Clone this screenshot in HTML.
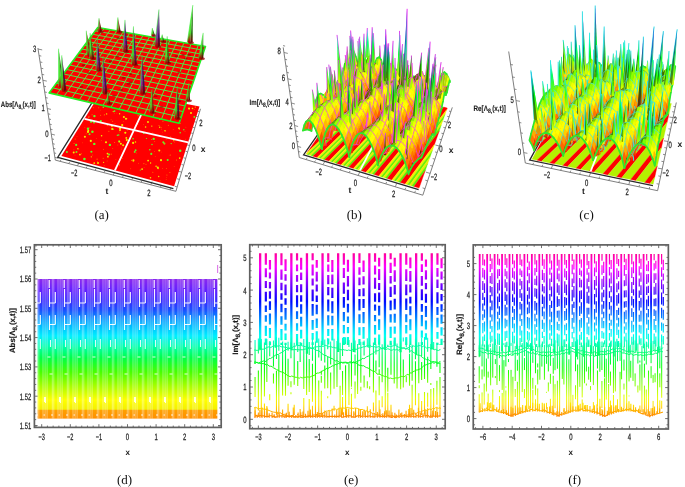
<!DOCTYPE html>
<html><head><meta charset="utf-8"><title>Figure</title>
<style>svg text{text-rendering:geometricPrecision}html,body{margin:0;padding:0;background:#fff;width:685px;height:487px;overflow:hidden}
text{font-family:'Liberation Sans',sans-serif}</style></head>
<body><svg xmlns="http://www.w3.org/2000/svg" width="685" height="487" viewBox="0 0 685 487" style="display:block;filter:blur(0.3px);font-family:'Liberation Sans',sans-serif"><text x="101.6" y="218.9" font-size="13" text-anchor="middle" fill="#111" style="font-family:'Liberation Serif',serif">(a)</text><text x="354.3" y="218.9" font-size="13" text-anchor="middle" fill="#111" style="font-family:'Liberation Serif',serif">(b)</text><text x="586.5" y="218.9" font-size="13" text-anchor="middle" fill="#111" style="font-family:'Liberation Serif',serif">(c)</text><text x="124.5" y="483.9" font-size="13" text-anchor="middle" fill="#111" style="font-family:'Liberation Serif',serif">(d)</text><text x="351.1" y="483.9" font-size="13" text-anchor="middle" fill="#111" style="font-family:'Liberation Serif',serif">(e)</text><text x="574.7" y="483.9" font-size="13" text-anchor="middle" fill="#111" style="font-family:'Liberation Serif',serif">(f)</text><clipPath id="clipd"><rect x="35.4" y="245.8" width="184.8" height="180.6"/></clipPath><g clip-path="url(#clipd)"><linearGradient id="gd" gradientUnits="userSpaceOnUse" x1="0" y1="418.6" x2="0" y2="279"><stop offset="0.000" stop-color="#ff9000"/><stop offset="0.060" stop-color="#ffa000"/><stop offset="0.067" stop-color="#f4f000"/><stop offset="0.133" stop-color="#ffff00"/><stop offset="0.183" stop-color="#d4ff00"/><stop offset="0.241" stop-color="#a0ff00"/><stop offset="0.334" stop-color="#48ff00"/><stop offset="0.434" stop-color="#00ff48"/><stop offset="0.520" stop-color="#00ffb0"/><stop offset="0.592" stop-color="#00eeff"/><stop offset="0.692" stop-color="#00a8ff"/><stop offset="0.778" stop-color="#1a50ff"/><stop offset="0.850" stop-color="#3a28ff"/><stop offset="0.921" stop-color="#6420ff"/><stop offset="1.000" stop-color="#8a28ee"/></linearGradient><rect x="37.65" y="279" width="179.7" height="139.6" fill="url(#gd)"/><path d="M38.8 279V418.6M43 279V418.6M45.1 279V418.6M47.1 279V418.6M52.3 279V418.6M53.8 279V418.6M58 279V418.6M60.1 279V418.6M62.1 279V418.6M67.3 279V418.6M68.8 279V418.6M73 279V418.6M75.1 279V418.6M77.1 279V418.6M82.3 279V418.6M83.8 279V418.6M88 279V418.6M90.1 279V418.6M92.1 279V418.6M97.3 279V418.6M98.8 279V418.6M103 279V418.6M105.1 279V418.6M107.1 279V418.6M112.3 279V418.6M113.8 279V418.6M118 279V418.6M120.1 279V418.6M122.1 279V418.6M127.3 279V418.6M128.8 279V418.6M133 279V418.6M135.1 279V418.6M137.1 279V418.6M142.3 279V418.6M143.8 279V418.6M148 279V418.6M150.1 279V418.6M152.1 279V418.6M157.3 279V418.6M158.8 279V418.6M163 279V418.6M165.1 279V418.6M167.1 279V418.6M172.3 279V418.6M173.8 279V418.6M178 279V418.6M180.1 279V418.6M182.1 279V418.6M187.3 279V418.6M188.8 279V418.6M193 279V418.6M195.1 279V418.6M197.1 279V418.6M202.3 279V418.6M203.8 279V418.6M208 279V418.6M210.1 279V418.6M212.1 279V418.6" stroke="#fff" stroke-opacity="0.5" stroke-width="0.8" fill="none"/><path d="M34.5 289V307M34.5 303H40.3M40.3 292V303M34.5 315.5V330M34.5 324.5H40.3M40.3 315V324.5M34.2 280V288M49.5 289V307M49.5 303H55.3M55.3 292V303M49.5 315.5V330M49.5 324.5H55.3M55.3 315V324.5M49.2 280V288M64.5 289V307M64.5 303H70.3M70.3 292V303M64.5 315.5V330M64.5 324.5H70.3M70.3 315V324.5M64.2 280V288M79.5 289V307M79.5 303H85.3M85.3 292V303M79.5 315.5V330M79.5 324.5H85.3M85.3 315V324.5M79.2 280V288M94.5 289V307M94.5 303H100.3M100.3 292V303M94.5 315.5V330M94.5 324.5H100.3M100.3 315V324.5M94.2 280V288M109.5 289V307M109.5 303H115.3M115.3 292V303M109.5 315.5V330M109.5 324.5H115.3M115.3 315V324.5M109.2 280V288M124.5 289V307M124.5 303H130.3M130.3 292V303M124.5 315.5V330M124.5 324.5H130.3M130.3 315V324.5M124.2 280V288M139.5 289V307M139.5 303H145.3M145.3 292V303M139.5 315.5V330M139.5 324.5H145.3M145.3 315V324.5M139.2 280V288M154.5 289V307M154.5 303H160.3M160.3 292V303M154.5 315.5V330M154.5 324.5H160.3M160.3 315V324.5M154.2 280V288M169.5 289V307M169.5 303H175.3M175.3 292V303M169.5 315.5V330M169.5 324.5H175.3M175.3 315V324.5M169.2 280V288M184.5 289V307M184.5 303H190.3M190.3 292V303M184.5 315.5V330M184.5 324.5H190.3M190.3 315V324.5M184.2 280V288M199.5 289V307M199.5 303H205.3M205.3 292V303M199.5 315.5V330M199.5 324.5H205.3M205.3 315V324.5M199.2 280V288M214.5 289V307M214.5 303H220.3M220.3 292V303M214.5 315.5V330M214.5 324.5H220.3M220.3 315V324.5M214.2 280V288" stroke="#fff" stroke-width="1.2" fill="none" stroke-opacity="0.95"/><path d="M35.5 340V347M40.3 339V349M34.5 374H37.5M32.5 357H35.5M30.5 397V403M44.5 397V402M36 415H38M43.5 415H45M50.5 340V347M55.3 339V349M49.5 374H52.5M47.5 357H50.5M45.5 397V403M59.5 397V402M51 415H53M58.5 415H60M65.5 340V347M70.3 339V349M64.5 374H67.5M62.5 357H65.5M60.5 397V403M74.5 397V402M66 415H68M73.5 415H75M80.5 340V347M85.3 339V349M79.5 374H82.5M77.5 357H80.5M75.5 397V403M89.5 397V402M81 415H83M88.5 415H90M95.5 340V347M100.3 339V349M94.5 374H97.5M92.5 357H95.5M90.5 397V403M104.5 397V402M96 415H98M103.5 415H105M110.5 340V347M115.3 339V349M109.5 374H112.5M107.5 357H110.5M105.5 397V403M119.5 397V402M111 415H113M118.5 415H120M125.5 340V347M130.3 339V349M124.5 374H127.5M122.5 357H125.5M120.5 397V403M134.5 397V402M126 415H128M133.5 415H135M140.5 340V347M145.3 339V349M139.5 374H142.5M137.5 357H140.5M135.5 397V403M149.5 397V402M141 415H143M148.5 415H150M155.5 340V347M160.3 339V349M154.5 374H157.5M152.5 357H155.5M150.5 397V403M164.5 397V402M156 415H158M163.5 415H165M170.5 340V347M175.3 339V349M169.5 374H172.5M167.5 357H170.5M165.5 397V403M179.5 397V402M171 415H173M178.5 415H180M185.5 340V347M190.3 339V349M184.5 374H187.5M182.5 357H185.5M180.5 397V403M194.5 397V402M186 415H188M193.5 415H195M200.5 340V347M205.3 339V349M199.5 374H202.5M197.5 357H200.5M195.5 397V403M209.5 397V402M201 415H203M208.5 415H210M215.5 340V347M220.3 339V349M214.5 374H217.5M212.5 357H215.5M210.5 397V403M224.5 397V402M216 415H218M223.5 415H225" stroke="#fff" stroke-width="1.1" fill="none" stroke-opacity="0.85"/><path d="M217.65 265v8" stroke="#d040e0" stroke-width="0.8"/></g><path d="M41.7 427.4v-3.2M41.7 244.8v3.2M70.3 427.4v-3.2M70.3 244.8v3.2M98.9 427.4v-3.2M98.9 244.8v3.2M127.5 427.4v-3.2M127.5 244.8v3.2M156.1 427.4v-3.2M156.1 244.8v3.2M184.7 427.4v-3.2M184.7 244.8v3.2M213.3 427.4v-3.2M213.3 244.8v3.2M35.98 427.4v-1.8M35.98 244.8v1.8M47.42 427.4v-1.8M47.42 244.8v1.8M53.14 427.4v-1.8M53.14 244.8v1.8M58.86 427.4v-1.8M58.86 244.8v1.8M64.58 427.4v-1.8M64.58 244.8v1.8M76.02 427.4v-1.8M76.02 244.8v1.8M81.74 427.4v-1.8M81.74 244.8v1.8M87.46 427.4v-1.8M87.46 244.8v1.8M93.18 427.4v-1.8M93.18 244.8v1.8M104.62 427.4v-1.8M104.62 244.8v1.8M110.34 427.4v-1.8M110.34 244.8v1.8M116.06 427.4v-1.8M116.06 244.8v1.8M121.78 427.4v-1.8M121.78 244.8v1.8M133.22 427.4v-1.8M133.22 244.8v1.8M138.94 427.4v-1.8M138.94 244.8v1.8M144.66 427.4v-1.8M144.66 244.8v1.8M150.38 427.4v-1.8M150.38 244.8v1.8M161.82 427.4v-1.8M161.82 244.8v1.8M167.54 427.4v-1.8M167.54 244.8v1.8M173.26 427.4v-1.8M173.26 244.8v1.8M178.98 427.4v-1.8M178.98 244.8v1.8M190.42 427.4v-1.8M190.42 244.8v1.8M196.14 427.4v-1.8M196.14 244.8v1.8M201.86 427.4v-1.8M201.86 244.8v1.8M207.58 427.4v-1.8M207.58 244.8v1.8M219.02 427.4v-1.8M219.02 244.8v1.8M34.4 425.5h3.2M221.2 425.5h-3.2M34.4 396.2h3.2M221.2 396.2h-3.2M34.4 366.9h3.2M221.2 366.9h-3.2M34.4 337.6h3.2M221.2 337.6h-3.2M34.4 308.3h3.2M221.2 308.3h-3.2M34.4 279h3.2M221.2 279h-3.2M34.4 249.7h3.2M221.2 249.7h-3.2M34.4 419.64h1.8M221.2 419.64h-1.8M34.4 413.78h1.8M221.2 413.78h-1.8M34.4 407.92h1.8M221.2 407.92h-1.8M34.4 402.06h1.8M221.2 402.06h-1.8M34.4 390.34h1.8M221.2 390.34h-1.8M34.4 384.48h1.8M221.2 384.48h-1.8M34.4 378.62h1.8M221.2 378.62h-1.8M34.4 372.76h1.8M221.2 372.76h-1.8M34.4 361.04h1.8M221.2 361.04h-1.8M34.4 355.18h1.8M221.2 355.18h-1.8M34.4 349.32h1.8M221.2 349.32h-1.8M34.4 343.46h1.8M221.2 343.46h-1.8M34.4 331.74h1.8M221.2 331.74h-1.8M34.4 325.88h1.8M221.2 325.88h-1.8M34.4 320.02h1.8M221.2 320.02h-1.8M34.4 314.16h1.8M221.2 314.16h-1.8M34.4 302.44h1.8M221.2 302.44h-1.8M34.4 296.58h1.8M221.2 296.58h-1.8M34.4 290.72h1.8M221.2 290.72h-1.8M34.4 284.86h1.8M221.2 284.86h-1.8M34.4 273.14h1.8M221.2 273.14h-1.8M34.4 267.28h1.8M221.2 267.28h-1.8M34.4 261.42h1.8M221.2 261.42h-1.8M34.4 255.56h1.8M221.2 255.56h-1.8" stroke="#606060" stroke-width="0.9" fill="none"/><rect x="34.4" y="244.8" width="186.8" height="182.6" fill="none" stroke="#606060" stroke-width="1.7"/><text x="41.7" y="440" font-size="9.2" text-anchor="middle" font-weight="normal" fill="#1a1a1a" textLength="6.4" lengthAdjust="spacingAndGlyphs" stroke="#1a1a1a" stroke-width="0.25">&#8722;3</text><text x="70.3" y="440" font-size="9.2" text-anchor="middle" font-weight="normal" fill="#1a1a1a" textLength="6.4" lengthAdjust="spacingAndGlyphs" stroke="#1a1a1a" stroke-width="0.25">&#8722;2</text><text x="98.9" y="440" font-size="9.2" text-anchor="middle" font-weight="normal" fill="#1a1a1a" textLength="6.4" lengthAdjust="spacingAndGlyphs" stroke="#1a1a1a" stroke-width="0.25">&#8722;1</text><text x="127.5" y="440" font-size="9.2" text-anchor="middle" font-weight="normal" fill="#1a1a1a" textLength="3.3" lengthAdjust="spacingAndGlyphs" stroke="#1a1a1a" stroke-width="0.25">0</text><text x="156.1" y="440" font-size="9.2" text-anchor="middle" font-weight="normal" fill="#1a1a1a" textLength="3.3" lengthAdjust="spacingAndGlyphs" stroke="#1a1a1a" stroke-width="0.25">1</text><text x="184.7" y="440" font-size="9.2" text-anchor="middle" font-weight="normal" fill="#1a1a1a" textLength="3.3" lengthAdjust="spacingAndGlyphs" stroke="#1a1a1a" stroke-width="0.25">2</text><text x="213.3" y="440" font-size="9.2" text-anchor="middle" font-weight="normal" fill="#1a1a1a" textLength="3.3" lengthAdjust="spacingAndGlyphs" stroke="#1a1a1a" stroke-width="0.25">3</text><text x="31.2" y="428.9" font-size="9.2" text-anchor="end" font-weight="normal" fill="#1a1a1a" textLength="11.4" lengthAdjust="spacingAndGlyphs" stroke="#1a1a1a" stroke-width="0.25">1.51</text><text x="31.2" y="399.6" font-size="9.2" text-anchor="end" font-weight="normal" fill="#1a1a1a" textLength="11.4" lengthAdjust="spacingAndGlyphs" stroke="#1a1a1a" stroke-width="0.25">1.52</text><text x="31.2" y="370.3" font-size="9.2" text-anchor="end" font-weight="normal" fill="#1a1a1a" textLength="11.4" lengthAdjust="spacingAndGlyphs" stroke="#1a1a1a" stroke-width="0.25">1.53</text><text x="31.2" y="341" font-size="9.2" text-anchor="end" font-weight="normal" fill="#1a1a1a" textLength="11.4" lengthAdjust="spacingAndGlyphs" stroke="#1a1a1a" stroke-width="0.25">1.54</text><text x="31.2" y="311.7" font-size="9.2" text-anchor="end" font-weight="normal" fill="#1a1a1a" textLength="11.4" lengthAdjust="spacingAndGlyphs" stroke="#1a1a1a" stroke-width="0.25">1.55</text><text x="31.2" y="282.4" font-size="9.2" text-anchor="end" font-weight="normal" fill="#1a1a1a" textLength="11.4" lengthAdjust="spacingAndGlyphs" stroke="#1a1a1a" stroke-width="0.25">1.56</text><text x="31.2" y="253.1" font-size="9.2" text-anchor="end" font-weight="normal" fill="#1a1a1a" textLength="11.4" lengthAdjust="spacingAndGlyphs" stroke="#1a1a1a" stroke-width="0.25">1.57</text><text x="12.3" y="330.6" transform="rotate(-90 12.3 330.6)" dy="2.8" font-size="7.8" font-weight="bold" text-anchor="middle" fill="#1a1a1a" stroke="#1a1a1a" stroke-width="0.15" textLength="45" lengthAdjust="spacingAndGlyphs">Abs[&#923;<tspan font-size="6.3" dy="1.8">8,</tspan><tspan dy="-1.8">(x,t)]</tspan></text><text x="127.8" y="455" font-size="8" text-anchor="middle" font-weight="bold" fill="#222" >x</text><clipPath id="clipe"><rect x="250.75" y="245.7" width="193.45" height="182"/></clipPath><g clip-path="url(#clipe)"><linearGradient id="ge" gradientUnits="userSpaceOnUse" x1="0" y1="418.5" x2="0" y2="253.3"><stop offset="0.000" stop-color="#ff7a00"/><stop offset="0.042" stop-color="#ffaf00"/><stop offset="0.083" stop-color="#ffe300"/><stop offset="0.125" stop-color="#e7ff00"/><stop offset="0.167" stop-color="#b2ff00"/><stop offset="0.208" stop-color="#7eff00"/><stop offset="0.250" stop-color="#4aff00"/><stop offset="0.292" stop-color="#16ff00"/><stop offset="0.333" stop-color="#00ff1f"/><stop offset="0.375" stop-color="#00ff53"/><stop offset="0.417" stop-color="#00ff87"/><stop offset="0.458" stop-color="#00ffbb"/><stop offset="0.500" stop-color="#00fff0"/><stop offset="0.542" stop-color="#00daff"/><stop offset="0.583" stop-color="#00a6ff"/><stop offset="0.625" stop-color="#0071ff"/><stop offset="0.667" stop-color="#003dff"/><stop offset="0.708" stop-color="#0009ff"/><stop offset="0.750" stop-color="#2b00ff"/><stop offset="0.792" stop-color="#6000ff"/><stop offset="0.833" stop-color="#9400ff"/><stop offset="0.875" stop-color="#c800ff"/><stop offset="0.917" stop-color="#fc00ff"/><stop offset="0.958" stop-color="#ff00cd"/><stop offset="1.000" stop-color="#ff0099"/></linearGradient><path d="M260.15 253.3V349.52M275.75 253.3V347.78M291.35 253.3V350.59M306.95 253.3V353.67M322.55 253.3V345.17M338.15 253.3V352.04M353.75 253.3V351.98M369.35 253.3V347.75M384.95 253.3V349.75M400.55 253.3V352.18M416.15 253.3V354.49M431.75 253.3V349.14" stroke="url(#ge)" stroke-width="2.3" fill="none"/><path d="M265.85 253.3V264.85M265.85 268.28V277.32M265.85 281V288.11M265.85 291.63V301.41M265.85 305.5V312.06M265.85 315.17V321.71M265.85 325.83V335.99M265.85 338.57V345M269.95 259.92V269.61M269.95 272.42V278.51M269.95 282.07V288.43M269.95 291.31V298.76M269.95 301.32V310.1M269.95 313.49V324.54M269.95 328.08V337.92M269.95 341.42V345M281.45 253.3V265.27M281.45 269.45V279.7M281.45 282.83V290.21M281.45 293.29V299.71M281.45 303.74V312.14M281.45 316.34V324.66M281.45 329.07V340.16M281.45 342.66V345M285.55 259.18V271.06M285.55 274.36V280.8M285.55 284.55V295.23M285.55 298.26V304.79M285.55 307.95V319.74M285.55 323.75V330.46M285.55 333.45V340.06M285.55 342.68V345M297.05 253.3V260.44M297.05 264.41V271.19M297.05 274.98V281.68M297.05 285.02V292.3M297.05 295.34V307.16M297.05 311.27V319.1M297.05 323.37V330.63M297.05 333.92V345M301.15 257.7V269.64M301.15 272.56V280.11M301.15 284.16V292.13M301.15 295.23V301.67M301.15 304.35V313.84M301.15 316.83V326.44M301.15 329.68V338.4M301.15 342.82V345M312.65 253.3V260.22M312.65 264.54V275.45M312.65 278.45V285.59M312.65 289.57V301.21M312.65 304.1V315.8M312.65 320.07V329.69M312.65 333.03V339.65M312.65 342.23V345M316.75 260.12V267.66M316.75 271.81V281.39M316.75 284.47V291.53M316.75 295.47V301.88M316.75 304.84V314.19M316.75 318.4V328.08M316.75 331.14V342.65M328.25 253.3V261.97M328.25 264.6V271.65M328.25 274.89V284.32M328.25 287.09V295.26M328.25 299.54V311.42M328.25 315.24V325.39M328.25 329.05V335.9M328.25 338.47V344.57M332.35 260.1V271.88M332.35 274.42V284.24M332.35 287.7V298.09M332.35 301.23V313.22M332.35 315.87V325.15M332.35 329.12V340.52M343.85 253.3V264.79M343.85 267.99V278.1M343.85 282.41V293.63M343.85 296.97V307.71M343.85 311.94V321.37M343.85 325.12V333.42M343.85 337.08V345M347.95 259.86V271.82M347.95 276.08V286.45M347.95 289.72V300.13M347.95 303.8V312.44M347.95 316.62V323.12M347.95 327.12V333.3M347.95 337V345M359.45 253.3V262.99M359.45 267.33V274.86M359.45 277.39V285.19M359.45 289.05V296.26M359.45 299.1V310.54M359.45 314.36V323.01M359.45 327.29V335.25M359.45 339.09V345M363.55 260.52V272.01M363.55 276.27V284.58M363.55 288.24V296.14M363.55 298.91V307.89M363.55 312.07V323.16M363.55 327.08V338.78M363.55 341.84V345M375.05 253.3V261.78M375.05 265.54V274.5M375.05 277.63V288.66M375.05 293.13V301.84M375.05 304.49V310.68M375.05 314.93V321.18M375.05 325.09V334.52M375.05 337.63V345M379.15 257.84V266.57M379.15 269.12V280.1M379.15 283.07V289.92M379.15 292.51V302.29M379.15 305.68V315.46M379.15 319.27V330.12M379.15 334.53V344.64M390.65 253.3V259.36M390.65 262.81V273.09M390.65 275.95V283.59M390.65 286.78V296.96M390.65 300.5V310.19M390.65 314.2V322.56M390.65 326.65V338.08M390.65 340.76V345M394.75 257.82V266.54M394.75 270.29V281.75M394.75 285.01V294.42M394.75 298.68V309.46M394.75 313.85V322.63M394.75 326.43V333.66M394.75 337.6V345M406.25 253.3V264.7M406.25 269.16V281.03M406.25 284.6V295.34M406.25 298.48V309.94M406.25 314.16V322.25M406.25 324.91V333.56M406.25 337.16V345M410.35 257.41V268.27M410.35 270.9V281.7M410.35 284.54V292.55M410.35 296.63V303.47M410.35 306.27V315.37M410.35 319.31V330.35M410.35 334.23V345M421.85 253.3V260.63M421.85 264.18V271.92M421.85 275.88V285.71M421.85 289.26V300.32M421.85 303.94V311.81M421.85 315.07V326.15M421.85 330.45V337.7M421.85 341.9V345M425.95 259.59V266.8M425.95 270.37V279.39M425.95 283.1V289.27M425.95 293.7V302.8M425.95 306.1V316.91M425.95 320.53V329.48M425.95 333.36V339.76M437.45 253.3V264.84M437.45 267.88V276.72M437.45 279.47V288.07M437.45 292.21V303.61M437.45 307.06V314.97M437.45 317.85V327.56M437.45 331.91V338.68M437.45 342.74V345M441.55 258.21V268.33M441.55 271.48V279.61M441.55 283.35V289.98M441.55 293.94V300.67M441.55 304.2V311.7M441.55 314.59V323.78M441.55 327.15V335.4M441.55 338.73V345" stroke="url(#ge)" stroke-width="2.2" fill="none"/><path d="M255.06 339.89V363.89M255.06 376.89V396.89M255.06 406.89V415.71M258.37 338.56V353.56M258.37 370.56V410.56M258.37 412.56V416.53M261.33 339.01V417.15M264.43 342.4V396.4M264.43 403.4V415.65M266.84 338.88V381.88M266.84 405.88V415.74M269.7 341.22V356.22M269.7 394.22V400.22M273.47 340.5V366.5M273.47 373.5V383.5M276.47 337.06V359.06M276.47 371.06V414.85M278.83 337.71V350.71M278.83 354.71V414.4M282.59 341.48V395.48M282.59 409.48V415.72M285.49 343.63V395.63M285.49 414.63V416.54M288.07 341.86V350.86M288.07 358.86V385.86M288.07 403.86V414.53M290.96 342.27V347.27M290.96 350.27V358.27M290.96 381.27V387.27M290.96 392.27V394.27M294.21 342.71V384.71M294.21 404.71V415.05M297.73 341.89V351.89M297.73 360.89V385.89M297.73 413.89V415.22M300.15 341.89V361.89M300.15 408.89V416.19M303.79 339.1V389.1M303.79 398.1V416.36M306.61 342.12V395.12M309.22 342.04V355.04M309.22 359.04V392.04M309.22 399.04V416.87M312.48 337.77V360.77M312.48 363.77V401.77M312.48 405.77V416.12M315.47 341.5V416.95M318.75 338.55V357.55M318.75 380.55V417.01M321.31 340.79V360.79M321.31 370.79V374.79M321.31 375.79V382.79M321.31 390.79V416.24M324.77 339.61V362.61M324.77 365.61V388.61M327.7 338.23V341.23M327.7 344.23V349.23M327.7 356.23V388.23M327.7 396.23V398.23M330.65 341.59V364.59M330.65 372.59V394.59M334.04 338.81V388.81M334.04 405.81V410.81M336.98 341.11V387.11M340.09 342.8V369.8M340.09 385.8V415.6M342.53 337.94V355.94M342.53 370.94V394.94M342.53 396.94V414.68M345.58 337.23V344.23M345.58 365.23V415.67M348.95 339.98V346.98M348.95 363.98V404.98M351.47 342.72V386.72M351.47 387.72V388.72M351.47 393.72V416.42M355.05 340.42V352.42M355.05 354.42V375.42M355.05 381.42V398.42M355.05 412.42V415.28M357.6 343.91V393.91M360.82 341.72V382.72M360.82 386.72V390.72M364.1 340.44V355.44M364.1 375.44V387.44M364.1 409.44V414.93M367.33 338.3V347.3M367.33 381.3V388.3M367.33 406.3V412.3M369.63 344.19V377.19M369.63 386.19V389.19M373.43 342.5V392.5M373.43 402.5V411.5M375.94 344.43V354.43M375.94 360.43V371.43M375.94 390.43V415.31M379.19 340.16V367.16M379.19 369.16V374.16M379.19 376.16V395.16M379.19 400.16V416.9M382.15 344.18V382.18M382.15 396.18V407.18M385.26 338.59V414.82M387.79 344.77V346.77M387.79 367.77V391.77M387.79 392.77V414.88M390.99 342.77V374.77M390.99 404.77V416.69M394.21 340.58V383.58M397.05 343.5V388.5M400.65 341.16V346.16M400.65 350.16V389.16M400.65 413.16V415.08M403.3 337.39V341.39M403.3 359.39V387.39M406.28 337.2V347.2M406.28 376.2V382.2M409.51 344.66V352.66M409.51 353.66V385.66M409.51 404.66V416.42M412.13 344.67V380.67M412.13 384.67V415.36M415.47 339.21V359.21M415.47 361.21V405.21M415.47 414.21V415.02M418.79 342.29V383.29M418.79 393.29V414.29M421.64 338.05V356.05M421.64 362.05V380.05M421.64 401.05V414.88M424.51 337.09V379.09M424.51 392.09V414.68M427.64 337.65V351.65M427.64 356.65V382.65M427.64 392.65V406.65M427.64 407.65V410.65M430.84 344.1V369.1M430.84 383.1V385.1M430.84 389.1V415.98M433.65 341.9V348.9M433.65 387.9V416.36M436.91 342.83V366.83M436.91 380.83V404.83M436.91 406.83V416.68M439.98 343.91V344.91M439.98 362.91V372.91M439.98 376.91V416.69" stroke="url(#ge)" stroke-width="1.1" fill="none"/><path d="M254.15 417.3L256.12 415.47L257.94 416.48L259.47 415.61L261.12 415.48L262.37 415.52L263.59 415.85L266.12 416.66L268.15 416.47L269.44 415.62L271.33 415.7L272.58 416.97L274.1 415.67L275.34 417.26L277.07 416.53L279.45 415.58L280.99 415.82L282.69 415.77L284.81 417.16L286.67 416.45L288.51 416.19L290.68 416.5L292.6 415.65L294.76 416.91L296.15 416.76L298.68 416.53L301.11 415.37L303.29 416.56L305.54 416.3L308.07 416.3L310.16 415.93L312.24 416.94L314.24 416.44L316.39 415.75L317.88 416.56L319.44 415.38L321.32 416.4L323.87 415.73L326.28 416.29L327.65 416.56L328.97 416.5L330.8 416.34L333.37 416.23L334.8 416.94L336.96 416.27L338.73 416.31L340.5 415.94L342.53 417.2L344.43 416.8L346.44 416.37L348.71 415.37L350.95 416.06L352.86 417.07L355.08 416.91L356.81 416.13L358.38 415.57L360.35 415.35L361.58 416.37L363.23 416.15L365.34 416.12L367.85 416.42L369.57 415.8L371.55 416.76L374.04 416.85L375.34 416.22L377.82 415.59L380.16 416.08L382.08 416.72L383.51 416.41L385.87 416.19L388.45 415.7L390.41 416.12L392.19 415.49L394.56 416.94L397.02 415.95L398.73 415.81L400.52 415.91L402.42 416.04L404.91 415.52L406.78 416.53L408.98 415.97L410.32 416.28L411.91 416L413.34 416.7L414.9 416.74L416.89 415.57L418.99 416.01L421.25 416.52L423.05 416L424.54 415.79L427.03 415.54L428.32 415.47L429.83 417.04L431.9 416.61L433.35 416.08L435.3 416.23L437.22 416.07L439.5 415.86L440.45 415.65M255.12 417.8V410.18M257.16 417.8V414.65M259.9 417.8V409.85M262.09 417.8V407.62M264.54 417.8V411.37M267.12 417.8V407.53M269.21 417.8V413.29M272.09 417.8V412.4M274.2 417.8V414.25M277.17 417.8V411.76M279.23 417.8V413.34M281.99 417.8V414.45M284.15 417.8V414.77M286.38 417.8V412.7M289.2 417.8V411.79M291.49 417.8V415.07M293.29 417.8V407.41M295.82 417.8V414.99M298.11 417.8V412.4M300.78 417.8V412.25M302.96 417.8V411.5M305.52 417.8V413.84M307.97 417.8V410.69M310.43 417.8V409.38M312.7 417.8V413.6M315.59 417.8V414.36M317.36 417.8V411.96M319.86 417.8V413.61M322.71 417.8V412.88M324.8 417.8V410.43M326.78 417.8V411.85M329.18 417.8V410.96M332.18 417.8V408.47M334.79 417.8V414.39M336.71 417.8V409.97M339.03 417.8V407.75M341.55 417.8V408.34M343.52 417.8V412.19M346.55 417.8V408.6M348.75 417.8V408.43M351.41 417.8V411.99M353.76 417.8V411.17M355.56 417.8V408.1M358.7 417.8V408.16M360.49 417.8V409.08M362.69 417.8V411.3M365.35 417.8V411.26M367.83 417.8V410.9M370.29 417.8V409.23M372.91 417.8V413.08M374.85 417.8V413.4M377.38 417.8V411.9M379.96 417.8V409.18M382.83 417.8V413.21M384.55 417.8V411.15M386.66 417.8V410.22M389.09 417.8V410.55M392.04 417.8V412.24M394.84 417.8V412.8M396.27 417.8V414.44M398.89 417.8V409.4M401.79 417.8V412.47M404.33 417.8V414M406.08 417.8V410.73M408.78 417.8V408.98M410.96 417.8V408.09M413.68 417.8V409.78M416.03 417.8V413.61M418.42 417.8V407.76M420.27 417.8V412.66M422.96 417.8V413.26M425.82 417.8V410.11M427.59 417.8V409.66M430.73 417.8V414.78M432.27 417.8V410.49M435.53 417.8V410.9M437.56 417.8V412.05" stroke="url(#ge)" stroke-width="1.15" fill="none"/><path d="M254.15 350L255.65 350.07L257.15 350.5L258.65 349.8L260.15 349.77L261.65 349.01L263.15 349.31L264.65 348.74L266.15 347.92L267.65 347.19L269.15 346.81L270.65 347.55L272.15 346.71L273.65 345.57L275.15 346.13L276.65 345.9L278.15 346.17L279.65 345.74L281.15 346.89L282.65 346.45L284.15 347.29L285.65 346.72L287.15 348.11L288.65 347.96L290.15 348.36L291.65 348.57L293.15 349.75L294.65 349.47L296.15 349.69L297.65 349.61L299.15 349.89L300.65 349.63L302.15 349.87L303.65 349.47L305.15 348.98L306.65 349.18L308.15 348.32L309.65 348.98L311.15 347.68L312.65 348.57L314.15 347.23L315.65 346.78L317.15 346.88L318.65 346.17L320.15 346.62L321.65 345.79L323.15 346.69L324.65 345.27L326.15 345.37L327.65 346.85L329.15 346.76L330.65 346.37L332.15 347.32L333.65 347.24L335.15 347.88L336.65 347.91L338.15 348.72L339.65 349.26L341.15 349.9L342.65 349.23L344.15 349.93L345.65 350.06L347.15 350.6L348.65 349.94L350.15 350.44L351.65 350.34L353.15 349.26L354.65 348.94L356.15 349.49L357.65 348.47L359.15 347.99L360.65 347.99L362.15 347.33L363.65 346.84L365.15 346.77L366.65 345.89L368.15 345.91L369.65 345.23L371.15 346.36L372.65 346.6L374.15 346.6L375.65 347.2L377.15 347.14L378.65 346.44L380.15 347.16L381.65 348.52L383.15 347.62L384.65 349.25L386.15 349.48L387.65 348.77L389.15 349.14L390.65 350.18L392.15 350.19L393.65 349.25L395.15 350.02L396.65 349.36L398.15 350.25L399.65 349.48L401.15 348.33L402.65 348.59L404.15 347.58L405.65 348.61L407.15 348.18L408.65 347.53L410.15 346.03L411.65 347.23L413.15 345.91L414.65 346.35L416.15 346.44L417.65 346.1L419.15 345.46L420.65 345.81L422.15 346.81L423.65 346.12L425.15 346.86L426.65 348.12L428.15 347.68L429.65 347.67L431.15 348.86L432.65 348.75L434.15 349.78L435.65 349.38L437.15 350.33L438.65 350.46L440.15 349.48L440.45 350.07M254.15 363L255.65 362.87L257.15 362.22L258.65 363.27L260.15 362.06L261.65 362.11L263.15 360.78L264.65 361.68L266.15 361.13L267.65 360.01L269.15 358.42L270.65 358.52L272.15 357.42L273.65 356.61L275.15 355.36L276.65 354.39L278.15 354.64L279.65 353.4L281.15 352.79L282.65 351.95L284.15 350.62L285.65 350.11L287.15 349.01L288.65 348.91L290.15 347.96L291.65 348L293.15 346.75L294.65 346.51L296.15 345.73L297.65 345.44L299.15 345.59L300.65 345.23L302.15 345.92L303.65 345.97L305.15 346.99L306.65 345.94L308.15 347.82L309.65 346.85L311.15 348.55L312.65 348.38L314.15 348.85L315.65 350.13L317.15 350.47L318.65 350.72L320.15 351.72L321.65 353.44L323.15 354.36L324.65 355.66L326.15 355.33L327.65 357L329.15 357.14L330.65 358.21L332.15 358.58L333.65 359.5L335.15 360.97L336.65 360.5L338.15 361.31L339.65 362.55L341.15 362.2L342.65 363.09L344.15 362.86L345.65 362.71L347.15 363.35L348.65 363.21L350.15 362.65L351.65 363.43L353.15 361.69L354.65 362.54L356.15 361.88L357.65 361.35L359.15 360.38L360.65 360.18L362.15 358.35L363.65 358.61L365.15 358.13L366.65 356.58L368.15 356.27L369.65 355.35L371.15 354.18L372.65 353.75L374.15 352.45L375.65 351.04L377.15 350.89L378.65 350.51L380.15 348.85L381.65 348.67L383.15 348.66L384.65 346.81L386.15 347.71L387.65 346.5L389.15 346.21L390.65 346.52L392.15 346.17L393.65 345.66L395.15 345.48L396.65 346.02L398.15 346.97L399.65 347.43L401.15 347.35L402.65 347.76L404.15 348.26L405.65 349.21L407.15 348.64L408.65 349.32L410.15 351.18L411.65 350.64L413.15 352.27L414.65 352.91L416.15 354.59L417.65 354.98L419.15 355.2L420.65 355.79L422.15 357.26L423.65 358.19L425.15 358.81L426.65 359.71L428.15 359.54L429.65 360.62L431.15 361.91L432.65 361.51L434.15 361.75L435.65 362.04L437.15 363.49L438.65 363.53L440.15 362.85L440.45 362.73M254.15 362L255.65 361.83L257.15 362.78L258.65 363.02L260.15 363.37L261.65 363.57L263.15 363.72L264.65 363.31L266.15 365.19L267.65 364.56L269.15 366.14L270.65 366.24L272.15 366.47L273.65 368.23L275.15 368.38L276.65 370.2L278.15 369.87L279.65 371.46L281.15 371.88L282.65 372.03L284.15 373.15L285.65 373.9L287.15 375.31L288.65 375.92L290.15 376.75L291.65 376.01L293.15 376.52L294.65 377.14L296.15 377.33L297.65 377.36L299.15 378.36L300.65 377.21L302.15 378.02L303.65 377.26L305.15 377.35L306.65 377.04L308.15 376.96L309.65 377.3L311.15 376.48L312.65 375.44L314.15 375.72L315.65 373.88L317.15 373.07L318.65 373.05L320.15 372.49L321.65 371.63L323.15 370.48L324.65 370.01L326.15 368.58L327.65 368.77L329.15 367.67L330.65 367.02L332.15 365.89L333.65 365.83L335.15 364.49L336.65 364.7L338.15 363.38L339.65 363.76L341.15 362.39L342.65 362.42L344.15 362.28L345.65 362.13L347.15 362.55L348.65 362.59L350.15 361.64L351.65 362.67L353.15 362.66L354.65 362.81L356.15 362.77L357.65 364.53L359.15 365.21L360.65 365.39L362.15 365.8L363.65 365.72L365.15 366.85L366.65 367.63L368.15 368.03L369.65 369.3L371.15 370.09L372.65 370.97L374.15 371.22L375.65 372.09L377.15 374.15L378.65 374.23L380.15 374.38L381.65 375.35L383.15 375.78L384.65 376.48L386.15 376.42L387.65 377.7L389.15 378.29L390.65 378.02L392.15 378.68L393.65 378.5L395.15 378.03L396.65 377.9L398.15 377.97L399.65 377.19L401.15 376.38L402.65 376.56L404.15 376.66L405.65 375.89L407.15 374.26L408.65 374.87L410.15 372.92L411.65 372.94L413.15 371.62L414.65 371.03L416.15 370.11L417.65 369.92L419.15 369.27L420.65 368.75L422.15 367.37L423.65 365.9L425.15 365.15L426.65 364.56L428.15 364L429.65 363.51L431.15 363.2L432.65 362.52L434.15 363.27L435.65 362.19L437.15 362.16L438.65 362.51L440.15 361.49L440.45 362M254.15 408L255.65 407.29L257.15 408.07L258.65 408.89L260.15 408.47L261.65 408.25L263.15 409.02L264.65 409.09L266.15 409.39L267.65 409.96L269.15 410.45L270.65 411.14L272.15 411.69L273.65 412.1L275.15 412.31L276.65 412.55L278.15 413.2L279.65 412.68L281.15 413.13L282.65 414.6L284.15 414.37L285.65 414.1L287.15 415.63L288.65 415L290.15 415.54L291.65 416.86L293.15 415.93L294.65 417.15L296.15 416.41L297.65 417.37L299.15 416.78L300.65 417.1L302.15 417.27L303.65 417.26L305.15 416.33L306.65 416.92L308.15 415.91L309.65 415.8L311.15 416.38L312.65 415.07L314.15 415.14L315.65 414.29L317.15 414.64L318.65 413.57L320.15 413.44L321.65 413.98L323.15 412.67L324.65 412.31L326.15 411.1L327.65 411.03L329.15 410.34L330.65 410.74L332.15 409.6L333.65 409.26L335.15 408.86L336.65 409.5L338.15 409.07L339.65 408.25L341.15 408.08L342.65 407.86L344.15 408.18L345.65 408.14L347.15 407.41L348.65 407.46L350.15 408.29L351.65 407.84L353.15 408.61L354.65 408.02L356.15 408.14L357.65 408.36L359.15 409.93L360.65 409.76L362.15 409.31L363.65 410.24L365.15 411.1L366.65 410.87L368.15 412.3L369.65 411.42L371.15 412.71L372.65 413.24L374.15 413.07L375.65 414.79L377.15 414.5L378.65 414.24L380.15 415.61L381.65 414.8L383.15 416.16L384.65 416.69L386.15 416.63L387.65 415.85L389.15 416.08L390.65 417.42L392.15 417.52L393.65 416.63L395.15 417.67L396.65 417.42L398.15 416.19L399.65 417.28L401.15 415.69L402.65 415.95L404.15 415.5L405.65 415.19L407.15 415.31L408.65 414.22L410.15 415.29L411.65 413.67L413.15 413.99L414.65 413.02L416.15 413.47L417.65 412.45L419.15 411.89L420.65 411.87L422.15 411.11L423.65 410.51L425.15 409.67L426.65 410.29L428.15 409.67L429.65 409.08L431.15 409.64L432.65 408.55L434.15 408.79L435.65 407.7L437.15 407.89L438.65 408.24L440.15 407.61L440.45 408.79" stroke="url(#ge)" stroke-width="1.0" fill="none"/></g><path d="M258.35 428.7v-3.2M258.35 244.7v3.2M288 428.7v-3.2M288 244.7v3.2M317.65 428.7v-3.2M317.65 244.7v3.2M347.3 428.7v-3.2M347.3 244.7v3.2M376.95 428.7v-3.2M376.95 244.7v3.2M406.6 428.7v-3.2M406.6 244.7v3.2M436.25 428.7v-3.2M436.25 244.7v3.2M252.42 428.7v-1.8M252.42 244.7v1.8M264.28 428.7v-1.8M264.28 244.7v1.8M270.21 428.7v-1.8M270.21 244.7v1.8M276.14 428.7v-1.8M276.14 244.7v1.8M282.07 428.7v-1.8M282.07 244.7v1.8M293.93 428.7v-1.8M293.93 244.7v1.8M299.86 428.7v-1.8M299.86 244.7v1.8M305.79 428.7v-1.8M305.79 244.7v1.8M311.72 428.7v-1.8M311.72 244.7v1.8M323.58 428.7v-1.8M323.58 244.7v1.8M329.51 428.7v-1.8M329.51 244.7v1.8M335.44 428.7v-1.8M335.44 244.7v1.8M341.37 428.7v-1.8M341.37 244.7v1.8M353.23 428.7v-1.8M353.23 244.7v1.8M359.16 428.7v-1.8M359.16 244.7v1.8M365.09 428.7v-1.8M365.09 244.7v1.8M371.02 428.7v-1.8M371.02 244.7v1.8M382.88 428.7v-1.8M382.88 244.7v1.8M388.81 428.7v-1.8M388.81 244.7v1.8M394.74 428.7v-1.8M394.74 244.7v1.8M400.67 428.7v-1.8M400.67 244.7v1.8M412.53 428.7v-1.8M412.53 244.7v1.8M418.46 428.7v-1.8M418.46 244.7v1.8M424.39 428.7v-1.8M424.39 244.7v1.8M430.32 428.7v-1.8M430.32 244.7v1.8M442.18 428.7v-1.8M442.18 244.7v1.8M249.75 419.3h3.2M445.2 419.3h-3.2M249.75 387h3.2M445.2 387h-3.2M249.75 354.7h3.2M445.2 354.7h-3.2M249.75 322.4h3.2M445.2 322.4h-3.2M249.75 290.1h3.2M445.2 290.1h-3.2M249.75 257.8h3.2M445.2 257.8h-3.2M249.75 425.76h1.8M445.2 425.76h-1.8M249.75 412.84h1.8M445.2 412.84h-1.8M249.75 406.38h1.8M445.2 406.38h-1.8M249.75 399.92h1.8M445.2 399.92h-1.8M249.75 393.46h1.8M445.2 393.46h-1.8M249.75 380.54h1.8M445.2 380.54h-1.8M249.75 374.08h1.8M445.2 374.08h-1.8M249.75 367.62h1.8M445.2 367.62h-1.8M249.75 361.16h1.8M445.2 361.16h-1.8M249.75 348.24h1.8M445.2 348.24h-1.8M249.75 341.78h1.8M445.2 341.78h-1.8M249.75 335.32h1.8M445.2 335.32h-1.8M249.75 328.86h1.8M445.2 328.86h-1.8M249.75 315.94h1.8M445.2 315.94h-1.8M249.75 309.48h1.8M445.2 309.48h-1.8M249.75 303.02h1.8M445.2 303.02h-1.8M249.75 296.56h1.8M445.2 296.56h-1.8M249.75 283.64h1.8M445.2 283.64h-1.8M249.75 277.18h1.8M445.2 277.18h-1.8M249.75 270.72h1.8M445.2 270.72h-1.8M249.75 264.26h1.8M445.2 264.26h-1.8M249.75 251.34h1.8M445.2 251.34h-1.8" stroke="#606060" stroke-width="0.9" fill="none"/><rect x="249.75" y="244.7" width="195.45" height="184" fill="none" stroke="#606060" stroke-width="1.7"/><text x="258.35" y="440" font-size="9.2" text-anchor="middle" font-weight="normal" fill="#1a1a1a" textLength="6.4" lengthAdjust="spacingAndGlyphs" stroke="#1a1a1a" stroke-width="0.25">&#8722;3</text><text x="288" y="440" font-size="9.2" text-anchor="middle" font-weight="normal" fill="#1a1a1a" textLength="6.4" lengthAdjust="spacingAndGlyphs" stroke="#1a1a1a" stroke-width="0.25">&#8722;2</text><text x="317.65" y="440" font-size="9.2" text-anchor="middle" font-weight="normal" fill="#1a1a1a" textLength="6.4" lengthAdjust="spacingAndGlyphs" stroke="#1a1a1a" stroke-width="0.25">&#8722;1</text><text x="347.3" y="440" font-size="9.2" text-anchor="middle" font-weight="normal" fill="#1a1a1a" textLength="3.3" lengthAdjust="spacingAndGlyphs" stroke="#1a1a1a" stroke-width="0.25">0</text><text x="376.95" y="440" font-size="9.2" text-anchor="middle" font-weight="normal" fill="#1a1a1a" textLength="3.3" lengthAdjust="spacingAndGlyphs" stroke="#1a1a1a" stroke-width="0.25">1</text><text x="406.6" y="440" font-size="9.2" text-anchor="middle" font-weight="normal" fill="#1a1a1a" textLength="3.3" lengthAdjust="spacingAndGlyphs" stroke="#1a1a1a" stroke-width="0.25">2</text><text x="436.25" y="440" font-size="9.2" text-anchor="middle" font-weight="normal" fill="#1a1a1a" textLength="3.3" lengthAdjust="spacingAndGlyphs" stroke="#1a1a1a" stroke-width="0.25">3</text><text x="246.55" y="422.7" font-size="9.2" text-anchor="end" font-weight="normal" fill="#1a1a1a" textLength="3.3" lengthAdjust="spacingAndGlyphs" stroke="#1a1a1a" stroke-width="0.25">0</text><text x="246.55" y="390.4" font-size="9.2" text-anchor="end" font-weight="normal" fill="#1a1a1a" textLength="3.3" lengthAdjust="spacingAndGlyphs" stroke="#1a1a1a" stroke-width="0.25">1</text><text x="246.55" y="358.1" font-size="9.2" text-anchor="end" font-weight="normal" fill="#1a1a1a" textLength="3.3" lengthAdjust="spacingAndGlyphs" stroke="#1a1a1a" stroke-width="0.25">2</text><text x="246.55" y="325.8" font-size="9.2" text-anchor="end" font-weight="normal" fill="#1a1a1a" textLength="3.3" lengthAdjust="spacingAndGlyphs" stroke="#1a1a1a" stroke-width="0.25">3</text><text x="246.55" y="293.5" font-size="9.2" text-anchor="end" font-weight="normal" fill="#1a1a1a" textLength="3.3" lengthAdjust="spacingAndGlyphs" stroke="#1a1a1a" stroke-width="0.25">4</text><text x="246.55" y="261.2" font-size="9.2" text-anchor="end" font-weight="normal" fill="#1a1a1a" textLength="3.3" lengthAdjust="spacingAndGlyphs" stroke="#1a1a1a" stroke-width="0.25">5</text><text x="235.5" y="334.8" transform="rotate(-90 235.5 334.8)" dy="2.8" font-size="7.8" font-weight="bold" text-anchor="middle" fill="#1a1a1a" stroke="#1a1a1a" stroke-width="0.15" textLength="40" lengthAdjust="spacingAndGlyphs">Im[&#923;<tspan font-size="6.3" dy="1.8">8,</tspan><tspan dy="-1.8">(x,t)]</tspan></text><text x="347.3" y="455" font-size="8" text-anchor="middle" font-weight="bold" fill="#222" >x</text><clipPath id="clipf"><rect x="474.25" y="245.9" width="193.1" height="182.1"/></clipPath><g clip-path="url(#clipf)"><linearGradient id="gf" gradientUnits="userSpaceOnUse" x1="0" y1="418" x2="0" y2="254"><stop offset="0.000" stop-color="#ff7a00"/><stop offset="0.042" stop-color="#ffaf00"/><stop offset="0.083" stop-color="#ffe300"/><stop offset="0.125" stop-color="#e7ff00"/><stop offset="0.167" stop-color="#b2ff00"/><stop offset="0.208" stop-color="#7eff00"/><stop offset="0.250" stop-color="#4aff00"/><stop offset="0.292" stop-color="#16ff00"/><stop offset="0.333" stop-color="#00ff1f"/><stop offset="0.375" stop-color="#00ff53"/><stop offset="0.417" stop-color="#00ff87"/><stop offset="0.458" stop-color="#00ffbb"/><stop offset="0.500" stop-color="#00fff0"/><stop offset="0.542" stop-color="#00daff"/><stop offset="0.583" stop-color="#00a6ff"/><stop offset="0.625" stop-color="#0071ff"/><stop offset="0.667" stop-color="#003dff"/><stop offset="0.708" stop-color="#0009ff"/><stop offset="0.750" stop-color="#2b00ff"/><stop offset="0.792" stop-color="#6000ff"/><stop offset="0.833" stop-color="#9400ff"/><stop offset="0.875" stop-color="#c800ff"/><stop offset="0.917" stop-color="#fc00ff"/><stop offset="0.958" stop-color="#ff00cd"/><stop offset="1.000" stop-color="#ff0099"/></linearGradient><path d="M479.7 254V356.25M487.15 254V351.47M494.6 254V353.87M502.05 254V351.13M509.5 254V351.23M516.95 254V349.17M524.4 254V348.39M531.85 254V350.95M539.3 254V347.34M546.75 254V347.22M554.2 254V353.63M561.65 254V351.28M569.1 254V354.76M576.55 254V356.64M584 254V356.85M591.45 254V353.7M598.9 254V355.78M606.35 254V347.03M613.8 254V356.57M621.25 254V347.52M628.7 254V352.81M636.15 254V350.73M643.6 254V348.23M651.05 254V355.06M658.5 254V352.13" stroke="url(#gf)" stroke-width="1.8" fill="none"/><path d="M482.8 254V265.35M482.8 268.02V277.57M482.8 280.92V290.1M482.8 292.86V300.01M482.8 303.4V310.73M482.8 314.14V320.29M482.8 322.96V333.22M482.8 336.56V345.64M484.5 259.44V265.78M484.5 269.85V279.38M484.5 283.2V292.92M484.5 297.37V305.54M484.5 309.56V317.77M484.5 321.42V331.38M484.5 334.51V341.02M484.5 344.47V347M490.25 254V261.09M490.25 263.95V271.89M490.25 276.02V283.2M490.25 285.92V292.52M490.25 295.09V302.75M490.25 306.39V317.32M490.25 320.48V328.7M490.25 331.77V339.6M490.25 343.66V347M491.95 258.43V269.13M491.95 273.05V284.02M491.95 286.99V296.27M491.95 300.6V310.16M491.95 314.55V321.55M491.95 326V332.34M491.95 335.67V341.81M497.7 254V264.83M497.7 269.23V278.46M497.7 282.94V293.43M497.7 296.62V308.47M497.7 311.72V318.88M497.7 321.53V330.33M497.7 333.22V344.82M499.4 258.86V265.48M499.4 269.04V276.06M499.4 279.65V290.53M499.4 293.53V302.06M499.4 306.36V315.03M499.4 318.22V329.57M499.4 333.7V345.07M505.15 254V264.98M505.15 268.76V276.19M505.15 279.28V287.74M505.15 291.78V301.12M505.15 304.72V315.68M505.15 318.4V328.19M505.15 331.35V340.71M505.15 344.88V347M506.85 258.31V267.69M506.85 271.27V278.68M506.85 282.3V291.13M506.85 294.53V304.84M506.85 307.34V315.61M506.85 319.68V326.53M506.85 330.76V337.99M506.85 341.85V347M512.6 254V264.2M512.6 267.66V277.79M512.6 281.37V290.71M512.6 294.26V302.04M512.6 306.34V312.86M512.6 317.11V328.29M512.6 331.79V342.45M514.3 260.42V268.17M514.3 271.31V279.41M514.3 282.51V294.27M514.3 297.45V305.78M514.3 309.12V320.01M514.3 323.47V332.79M514.3 335.8V343.47M520.05 254V265.11M520.05 268.62V275.28M520.05 278.71V285.43M520.05 289.06V297.72M520.05 301.93V309.49M520.05 313.69V321.18M520.05 325.64V335.45M520.05 338.03V347M521.75 259.45V266.33M521.75 270.5V277.05M521.75 281.02V289.4M521.75 293.26V301.01M521.75 303.67V315.16M521.75 318.97V325.99M521.75 330.44V341.91M521.75 344.78V347M527.5 254V262.81M527.5 266.73V276.15M527.5 280.19V291.12M527.5 294.83V304.38M527.5 307.53V314.33M527.5 317.02V328.16M527.5 331.07V339.63M527.5 342.77V347M529.2 261.44V270.05M529.2 273.28V283.18M529.2 287.17V298.73M529.2 301.85V313.17M529.2 317.63V329.53M529.2 332.28V340.56M529.2 344.61V347M534.95 254V264.55M534.95 268.12V275.38M534.95 278.7V285.05M534.95 288.18V296.74M534.95 300.89V310.43M534.95 313.75V321.23M534.95 324.36V334.38M534.95 337.78V344.81M536.65 260.3V272.11M536.65 275.68V285.42M536.65 288.77V298.42M536.65 302.76V314.65M536.65 318.47V327.05M536.65 329.68V340.72M536.65 344V347M542.4 254V265.85M542.4 269.83V280.08M542.4 283.92V291.56M542.4 294.39V304.01M542.4 306.64V316.16M542.4 319.69V328.95M542.4 331.69V338.1M542.4 341.54V347M544.1 259.24V268.96M544.1 272.96V282.6M544.1 286.16V293.35M544.1 296.54V308.41M544.1 311.45V319.15M544.1 322.64V331.92M544.1 336V343.77M549.85 254V263.42M549.85 267.72V274.64M549.85 278.52V290.2M549.85 294.03V300.71M549.85 305.05V316.87M549.85 319.59V330.55M549.85 333.21V339.7M549.85 343.79V347M551.55 260.53V269.6M551.55 272.64V282.08M551.55 286.56V296.44M551.55 300.7V307.88M551.55 311.85V322.24M551.55 324.88V335.8M551.55 338.66V345.96M557.3 254V265.85M557.3 268.35V279.21M557.3 283.23V292.65M557.3 296.29V307.08M557.3 310.85V317.69M557.3 321.78V329.9M557.3 333.57V342.65M559 259.66V270.78M559 273.44V281.4M559 285.24V294.91M559 299.08V306.32M559 310.43V321.21M559 323.99V330.83M559 334.5V346.35M564.75 254V264.86M564.75 268.4V277.62M564.75 281.31V292.9M564.75 297V308.04M564.75 311.07V320.67M564.75 324.82V335.13M564.75 339.53V347M566.45 260.03V268.18M566.45 271.09V280.09M566.45 284.56V295.17M566.45 297.87V305.36M566.45 308.6V319.91M566.45 323.33V330.28M566.45 333.88V341.37M566.45 343.94V347M572.2 254V260.92M572.2 264.54V274.36M572.2 278.38V287.06M572.2 289.67V301.23M572.2 304.26V314.69M572.2 318.12V328.8M572.2 331.97V338.53M572.2 341.88V347M573.9 259.62V269.61M573.9 272.87V283.26M573.9 286.11V297.39M573.9 301.78V307.92M573.9 312.14V322.81M573.9 326.69V333.33M573.9 337.29V347M579.65 254V263.8M579.65 268.15V275.01M579.65 278.11V287.29M579.65 290.84V302.55M579.65 306.32V316.05M579.65 319.79V331.47M579.65 334.77V345.21M581.35 259.61V267.64M581.35 270.45V276.52M581.35 279.69V287.49M581.35 290.15V299.07M581.35 302.27V313.82M581.35 317.88V327.87M581.35 332.07V339.72M581.35 342.45V347M587.1 254V265.32M587.1 268.31V274.87M587.1 278.62V288.78M587.1 291.79V303.35M587.1 307.8V317.92M587.1 322.39V334.29M587.1 337.08V347M588.8 260.93V268.96M588.8 272.55V282.08M588.8 286.28V292.59M588.8 295.84V303.73M588.8 307.81V314.51M588.8 317.13V323.83M588.8 326.56V335.17M588.8 339.4V347M594.55 254V263.43M594.55 267.42V276.16M594.55 280.12V289.84M594.55 294.05V304.62M594.55 308.92V319.4M594.55 322.46V331.49M594.55 335.54V346.24M596.25 261.37V272.32M596.25 275.9V285.74M596.25 288.33V297.2M596.25 301.15V312.63M596.25 316.83V325.46M596.25 328.42V339.74M596.25 343.55V347M602 254V260.66M602 265.14V274.66M602 278.68V289.52M602 292.53V301.66M602 304.51V314.18M602 317.55V328.29M602 331.02V338.26M602 341.53V347M603.7 261.85V273.04M603.7 275.9V286.9M603.7 289.85V297.28M603.7 301.06V308.82M603.7 311.73V318.24M603.7 321.09V328.25M603.7 332.57V338.82M603.7 342.4V347M609.45 254V264.43M609.45 266.98V275.45M609.45 278.6V287.5M609.45 291.26V297.74M609.45 301.97V309.59M609.45 313.64V320.43M609.45 323.12V330.28M609.45 332.95V340.44M609.45 343.22V347M611.15 260.11V269.09M611.15 272.61V283.47M611.15 286.06V292.34M611.15 296.17V302.21M611.15 305.72V315.47M611.15 319.67V325.68M611.15 328.98V336.86M611.15 340.52V346.72M616.9 254V264M616.9 268.17V279.23M616.9 283.37V292.29M616.9 294.97V305.73M616.9 309.92V320.13M616.9 323.26V335.11M616.9 338.85V346.73M618.6 258.9V266.34M618.6 270.65V276.98M618.6 281.22V289.6M618.6 293.25V303.39M618.6 307.7V315.02M618.6 317.7V326.78M618.6 329.72V338.27M618.6 340.99V347M624.35 254V262.33M624.35 265.02V275.85M624.35 280.16V286.35M624.35 290.46V297.52M624.35 301.48V307.84M624.35 311.83V323.43M624.35 326.44V333.43M624.35 336.62V347M626.05 258.63V270.04M626.05 274.02V285.76M626.05 290.2V297.16M626.05 301.11V307.26M626.05 310.14V319.36M626.05 322.33V329.64M626.05 332.85V341.61M631.8 254V264.32M631.8 267.19V278.01M631.8 282.04V292.92M631.8 296.32V305.57M631.8 308.22V316.98M631.8 320.76V332.46M631.8 336.75V344.79M633.5 261.42V273.19M633.5 277.05V285.03M633.5 289.28V295.38M633.5 299.01V307.76M633.5 312.02V321.75M633.5 324.65V331.65M633.5 334.22V344.73M639.25 254V263.35M639.25 266.24V275.4M639.25 278.58V286.5M639.25 290.38V297.87M639.25 301.04V310.42M639.25 314.8V321.7M639.25 324.82V332.45M639.25 335.58V344.51M640.95 258.72V269.04M640.95 272.4V281.83M640.95 285.34V294.96M640.95 297.82V307.51M640.95 310.82V321.52M640.95 325.21V333.66M640.95 338.13V345.21M646.7 254V260.55M646.7 264.52V271.05M646.7 274.15V283.88M646.7 286.42V295.02M646.7 299.52V309.88M646.7 313.16V324.61M646.7 328.25V339.12M646.7 342.31V347M648.4 261.04V271.2M648.4 274V282.53M648.4 285.66V293.05M648.4 295.79V306.28M648.4 309.06V317.18M648.4 319.72V329.95M648.4 333.7V340.17M648.4 344.57V347M654.15 254V260.13M654.15 263.18V270.6M654.15 273.14V282.97M654.15 286.66V294.83M654.15 298.82V306.23M654.15 309.29V315.98M654.15 318.95V330.06M654.15 333.54V343.96M655.85 260.67V268.83M655.85 273.27V279.75M655.85 283.07V294.38M655.85 298.25V306.37M655.85 310.52V321.07M655.85 325.02V332.62M655.85 336.48V346.41M661.6 254V264.32M661.6 267.24V276.71M661.6 279.6V289.31M661.6 292.46V304.45M661.6 307.63V318.37M661.6 322.54V330.78M661.6 334.46V341.86M663.3 259.76V270.03M663.3 273.54V280.51M663.3 284.31V293.4M663.3 296.95V305.63M663.3 309.86V319.78M663.3 323.61V332.62M663.3 335.92V344.48" stroke="url(#gf)" stroke-width="1.2" fill="none"/><path d="M479.21 345.23V357.23M479.21 366.23V383.23M479.21 385.23V388.23M479.21 394.23V411.93M482.06 344.42V366.42M482.06 369.42V379.42M482.06 392.42V408.78M484.2 345.57V376.57M484.2 383.57V404.57M486.42 340.52V350.52M486.42 358.52V391.52M486.42 407.52V408.94M488.16 344.63V358.63M488.16 371.63V377.63M488.16 393.63V407.63M490.65 339.32V343.32M490.65 348.32V385.32M490.65 402.32V408.26M492.78 343.63V377.63M492.78 389.63V402.63M492.78 404.63V409.11M495.34 339.09V345.09M495.34 359.09V364.09M495.34 376.09V378.09M496.98 345.01V385.01M499.47 346.12V358.12M499.47 365.12V381.12M499.47 390.12V392.12M499.47 396.12V410.47M502.19 345.95V389.95M502.19 392.95V411.55M503.91 343.13V345.13M503.91 360.13V412.43M505.86 342.5V366.5M505.86 386.5V387.5M505.86 390.5V414.18M508.5 346.07V356.07M508.5 359.07V362.07M508.5 370.07V413.28M511.06 342.88V345.88M511.06 352.88V353.88M511.06 369.88V416.37M512.9 341.77V355.77M512.9 376.77V415.21M515.23 346V381M515.23 389V397M515.23 413V413.92M517.41 344.75V355.75M517.41 359.75V370.75M517.41 381.75V412.92M519.34 345.98V413.77M522.22 343.05V392.05M524.43 345.06V356.06M524.43 358.06V370.06M524.43 389.06V398.06M526.55 342.07V410.65M528.22 340V348M528.22 351V409.17M530.53 343.09V408.3M532.82 345.85V362.85M532.82 377.85V388.85M532.82 389.85V407.92M535.47 344.28V373.28M535.47 385.28V395.28M535.47 399.28V406.28M537.71 346.46V351.46M537.71 363.46V367.46M537.71 369.46V384.46M537.71 388.46V409.4M539.87 344.75V379.75M541.88 343.6V366.6M544.42 344.74V379.74M544.42 403.74V411.91M546.48 340.83V363.83M546.48 391.83V392.83M546.48 402.83V408.83M548.33 344.46V371.46M548.33 382.46V391.46M550.42 346.83V365.83M550.42 373.83V383.83M550.42 398.83V412.05M553.26 343.8V346.8M553.26 348.8V351.8M553.26 357.8V373.8M553.26 375.8V413.09M555.02 340.2V370.2M555.02 384.2V408.2M555.02 412.2V415.2M557.4 340.72V368.72M557.4 380.72V414.58M559.64 346.31V415.82M562.27 345.92V378.92M563.9 339.52V384.52M563.9 409.52V411.88M566.66 345.24V412.44M568.88 343.26V349.26M568.88 359.26V412.25M570.88 346.33V411.16M572.9 345.85V346.85M572.9 394.85V410.47M575.52 341.26V371.26M575.52 385.26V399.26M577.62 339.44V359.44M577.62 364.44V410.66M579.84 345.84V386.84M582.19 345.45V397.45M582.19 399.45V409.46M584.54 343.27V353.27M584.54 355.27V383.27M584.54 405.27V409.19M586.37 342.54V371.54M586.37 383.54V385.54M588.66 340.69V346.69M588.66 366.69V379.69M590.53 345.07V382.07M590.53 386.07V390.07M593.39 346.1V385.1M593.39 402.1V410.49M595.51 342.9V355.9M597.47 341.5V368.5M597.47 370.5V406.5M597.47 407.5V413.72M599.87 341.78V371.78M599.87 398.78V413.82M601.93 346.01V370.01M601.93 381.01V408.01M601.93 409.01V414.85M604.53 340.33V344.33M604.53 348.33V377.33M604.53 378.33V416.37M606.24 345.64V354.64M606.24 358.64V399.64M608.61 345.97V382.97M608.61 383.97V414.54M610.46 341.59V364.59M610.46 371.59V385.59M610.46 400.59V412.31M613.45 341.03V393.03M613.45 395.03V412.62M615.33 341.49V391.49M615.33 405.49V410.92M617.5 341.3V361.3M617.5 399.3V411.3M620.06 342.84V360.84M620.06 371.84V410.27M621.6 340.29V379.29M623.98 346.56V352.56M623.98 359.56V370.56M623.98 383.56V389.56M623.98 394.56V408.55M626.7 340.21V409.2M629.02 345.45V381.45M629.02 395.45V396.45M630.72 344.75V353.75M630.72 360.75V377.75M633.01 341.95V380.95M635.11 340.41V352.41M635.11 373.41V386.41M637.88 343.49V363.49M637.88 385.49V392.49M639.88 339.49V343.49M639.88 360.49V362.49M639.88 364.49V390.49M639.88 405.49V410.57M641.93 345.94V411.98M644.43 343.67V360.67M644.43 363.67V377.67M644.43 385.67V413.21M646.28 341.55V364.55M646.28 389.55V413.8M648.56 339.59V348.59M648.56 370.59V413.8M651.08 343.2V363.2M651.08 366.2V378.2M651.08 408.2V414.31M653.1 340.9V349.9M653.1 374.9V382.9M653.1 400.9V414.99M655.08 340.24V352.24M655.08 373.24V382.24M657.57 346.89V413.44M659.82 346.32V368.32M659.82 373.32V387.32M659.82 400.32V411.88M661.7 339.75V397.75M661.7 400.75V408.75" stroke="url(#gf)" stroke-width="1.0" fill="none"/><path d="M478.75 412.21L479.99 411.69L482.17 410.51L484.59 409.76L485.8 409.96L487.03 410.59L488.49 409.13L490.79 410.8L492.47 410.2L494.6 409.33L496.52 410.54L498.95 411.91L501.48 412.27L503.88 412.37L505.19 412.98L506.46 412.71L508.89 415.29L510.85 415.03L513.17 415.06L514.65 413.85L515.95 414.68L517.44 413.82L519.08 413.27L521.01 411.49L523 412.28L525.54 410.99L527.75 411.03L529.01 410.81L530.69 409.5L531.89 409.34L534.38 410.42L536.93 408.97L539.27 410.78L541.75 410.57L543.49 410.2L545.02 410.27L546.73 411.69L548.91 412.53L550.98 412.56L553.07 413.59L555.27 413.76L557.72 415.56L559.3 414.84L561.51 414.13L563.18 413.84L564.92 412.78L567.04 413.23L569.05 412.12L571.57 411.01L573.18 410.24L575.36 410.28L577.35 410.97L578.7 410.47L580.07 409.53L582.12 408.87L583.47 410.82L585.84 410.13L587.28 409.75L589.04 410.45L590.27 410.78L592.24 411.48L593.56 411.58L596.11 412.16L598.7 413.3L601.09 414.54L602.44 414.35L604.08 416.05L605.43 416.21L607.38 414.62L609.97 412.59L612.19 412.99L613.4 411.27L615.87 411.61L617.39 410.97L619.67 410.93L620.88 411.26L623.33 409.92L624.77 410.4L626.12 408.99L627.73 409.72L630.08 408.94L631.54 410.13L634.08 411.23L635.68 410L637.74 411L640.31 412.98L642.77 413.82L645.09 413.84L646.33 415.09L648.55 414.82L650.53 415.9L652.53 414.12L654.17 414.88L655.43 414.22L656.79 413.63L659.1 413.23L661.56 412.46L662.85 412.17M480.09 412.37V403.16M482.5 411.88V408.15M484.83 411.54V408.33M487.42 411.33V402.23M489.27 411.3V402.91M492.15 411.44V402.6M493.75 411.61V404.78M496.71 412.12V407.24M498.68 412.57V409.31M501.31 413.3V410.07M503.49 414.01V408.89M506.5 415.1V410.2M508.55 415.9V412.39M511.05 416.91V406.7M512.92 416.92V407.75M515.34 415.94V405.57M517.94 414.93V407.41M520.77 413.92V407.32M522.64 413.32V404.9M525.41 412.54V405.62M527.27 412.12V409.16M529.83 411.67V405.86M532.68 411.38V402.63M535.37 411.3V403.44M537.41 411.38V403.59M539.33 411.56V403.76M542.28 412.02V402.79M544.23 412.45V403.51M547.11 413.23V406.93M549.55 414.02V406.54M552.23 414.99V405.65M553.69 415.55V409.96M556.9 416.84V411.33M559.03 416.89V411.5M561.75 415.79V412.06M564.08 414.89V407.89M565.74 414.28V411.29M568.19 413.46V410.35M570.48 412.79V402.57M572.88 412.21V406.37M575.85 411.67V406.53M578.64 411.38V405.31M580.19 411.31V403.71M582.95 411.35V402.72M585.65 411.59V404.88M587.26 411.83V404.99M589.97 412.38V405.97M592.23 412.97V408.87M594.47 413.65V405.19M597 414.52V404.23M600.01 415.67V406.42M602.6 416.71V410.27M604.65 417.05V406.95M607.33 415.97V410.69M609.17 415.25V406.93M611.38 414.42V405.18M613.67 413.64V407.11M616.13 412.89V405.36M618.5 412.29V408.93M621.41 411.74V406.7M623.27 411.5V407.92M626.63 411.3V403.28M628.96 411.35V401.15M630.85 411.5V403.65M633.53 411.87V404.66M635.57 412.28V407.24M638.64 413.08V408.73M640.19 413.55V409.74M643.17 414.58V409.29M645.78 415.57V411.81M648.11 416.5V409.2M649.69 417.14V411.34M652.58 416.28V407.9M654.52 415.51V406.52M656.92 414.6V411.23M659.53 413.69V408.22" stroke="url(#gf)" stroke-width="1.15" fill="none"/><path d="M478.75 348.23L480.25 348.22L481.75 348.23L483.25 348.67L484.75 350.14L486.25 350.32L487.75 351.19L489.25 350.79L490.75 351.83L492.25 350.81L493.75 351.33L495.25 351.47L496.75 352.63L498.25 352.28L499.75 352.88L501.25 353.01L502.75 351.93L504.25 352.51L505.75 353.03L507.25 352.05L508.75 351.42L510.25 351.71L511.75 351.86L513.25 351.77L514.75 350.66L516.25 350.55L517.75 350.34L519.25 349.24L520.75 349.91L522.25 349.1L523.75 348.51L525.25 347.65L526.75 348.78L528.25 348.19L529.75 348.9L531.25 350.19L532.75 349.44L534.25 349.73L535.75 351.29L537.25 351.93L538.75 351.9L540.25 352.56L541.75 352.22L543.25 352.03L544.75 352.28L546.25 352.35L547.75 352.15L549.25 351.87L550.75 352.58L552.25 352.56L553.75 351.65L555.25 351.73L556.75 352.48L558.25 352.23L559.75 351.08L561.25 351.28L562.75 350.7L564.25 350.53L565.75 349.55L567.25 349.68L568.75 349.39L570.25 347.63L571.75 348.12L573.25 348.86L574.75 349.65L576.25 349.9L577.75 350.1L579.25 349.63L580.75 351.27L582.25 350.21L583.75 351.57L585.25 351.93L586.75 351.83L588.25 352.56L589.75 352.65L591.25 351.68L592.75 353.03L594.25 351.8L595.75 352.67L597.25 352.98L598.75 351.91L600.25 351.71L601.75 351.29L603.25 351.69L604.75 352.17L606.25 351.33L607.75 350.44L609.25 351.2L610.75 350.15L612.25 349.03L613.75 349.54L615.25 349.09L616.75 347.97L618.25 348.77L619.75 348.23L621.25 348.99L622.75 349.71L624.25 349.99L625.75 351.12L627.25 351.53L628.75 350.67L630.25 351.47L631.75 351.15L633.25 351.35L634.75 352.75L636.25 351.53L637.75 353.02L639.25 352.4L640.75 352.42L642.25 352.26L643.75 352.64L645.25 352.22L646.75 352.76L648.25 351.76L649.75 351.86L651.25 351.21L652.75 350.94L654.25 350.08L655.75 350.56L657.25 350.33L658.75 350.17L660.25 349.24L661.75 348.86L662.85 347.47M478.75 351.23L480.25 351.09L481.75 352.13L483.25 352.91L484.75 352.05L486.25 352.93L487.75 354.05L489.25 353.61L490.75 353.39L492.25 353.65L493.75 354.46L495.25 354.62L496.75 355.53L498.25 354.53L499.75 355.04L501.25 356.14L502.75 355.62L504.25 355.8L505.75 356.04L507.25 354.68L508.75 354.37L510.25 354.59L511.75 355.28L513.25 354.36L514.75 353.5L516.25 353.52L517.75 354L519.25 353.64L520.75 352L522.25 352.1L523.75 351.09L525.25 350.41L526.75 351.25L528.25 352.55L529.75 352.79L531.25 353.42L532.75 352.44L534.25 353.5L535.75 354.68L537.25 353.48L538.75 354.93L540.25 354.54L541.75 355.78L543.25 355.36L544.75 355.04L546.25 355.93L547.75 356.14L549.25 354.85L550.75 356.25L552.25 355.17L553.75 355.23L555.25 354.68L556.75 354.77L558.25 353.97L559.75 354.89L561.25 353.3L562.75 353.88L564.25 353.66L565.75 352.48L567.25 353.08L568.75 351.92L570.25 352.15L571.75 350.88L573.25 351.63L574.75 352.37L576.25 353.21L577.75 352.42L579.25 353.17L580.75 353.83L582.25 354.72L583.75 355.06L585.25 354.49L586.75 355.13L588.25 354.67L589.75 355.9L591.25 355.35L592.75 354.91L594.25 356.21L595.75 355.62L597.25 355.32L598.75 354.54L600.25 354.44L601.75 354.23L603.25 354.54L604.75 353.7L606.25 354.93L607.75 353.62L609.25 353.6L610.75 352.91L612.25 352.74L613.75 351.61L615.25 351.69L616.75 351.31L618.25 351.67L619.75 350.88L621.25 352.55L622.75 352.98L624.25 353.01L625.75 353.67L627.25 353.75L628.75 354.69L630.25 354.03L631.75 353.94L633.25 355.34L634.75 354.89L636.25 354.53L637.75 355.06L639.25 355.14L640.75 354.71L642.25 355.51L643.75 355.36L645.25 354.94L646.75 355.32L648.25 354.23L649.75 354.3L651.25 353.63L652.75 354.39L654.25 353.81L655.75 353.04L657.25 353.47L658.75 352.5L660.25 351.24L661.75 351.43L662.85 351.86" stroke="url(#gf)" stroke-width="1.0" fill="none"/></g><path d="M482.9 429v-3.2M482.9 244.9v3.2M512.2 429v-3.2M512.2 244.9v3.2M541.5 429v-3.2M541.5 244.9v3.2M570.8 429v-3.2M570.8 244.9v3.2M600.1 429v-3.2M600.1 244.9v3.2M629.4 429v-3.2M629.4 244.9v3.2M658.7 429v-3.2M658.7 244.9v3.2M475.57 429v-1.8M475.57 244.9v1.8M490.22 429v-1.8M490.22 244.9v1.8M497.55 429v-1.8M497.55 244.9v1.8M504.87 429v-1.8M504.87 244.9v1.8M519.52 429v-1.8M519.52 244.9v1.8M526.85 429v-1.8M526.85 244.9v1.8M534.17 429v-1.8M534.17 244.9v1.8M548.82 429v-1.8M548.82 244.9v1.8M556.15 429v-1.8M556.15 244.9v1.8M563.47 429v-1.8M563.47 244.9v1.8M578.12 429v-1.8M578.12 244.9v1.8M585.45 429v-1.8M585.45 244.9v1.8M592.77 429v-1.8M592.77 244.9v1.8M607.42 429v-1.8M607.42 244.9v1.8M614.75 429v-1.8M614.75 244.9v1.8M622.07 429v-1.8M622.07 244.9v1.8M636.72 429v-1.8M636.72 244.9v1.8M644.05 429v-1.8M644.05 244.9v1.8M651.38 429v-1.8M651.38 244.9v1.8M666.02 429v-1.8M666.02 244.9v1.8M473.25 418.6h3.2M668.35 418.6h-3.2M473.25 387.6h3.2M668.35 387.6h-3.2M473.25 356.6h3.2M668.35 356.6h-3.2M473.25 325.6h3.2M668.35 325.6h-3.2M473.25 294.6h3.2M668.35 294.6h-3.2M473.25 263.6h3.2M668.35 263.6h-3.2M473.25 424.8h1.8M668.35 424.8h-1.8M473.25 412.4h1.8M668.35 412.4h-1.8M473.25 406.2h1.8M668.35 406.2h-1.8M473.25 400h1.8M668.35 400h-1.8M473.25 393.8h1.8M668.35 393.8h-1.8M473.25 381.4h1.8M668.35 381.4h-1.8M473.25 375.2h1.8M668.35 375.2h-1.8M473.25 369h1.8M668.35 369h-1.8M473.25 362.8h1.8M668.35 362.8h-1.8M473.25 350.4h1.8M668.35 350.4h-1.8M473.25 344.2h1.8M668.35 344.2h-1.8M473.25 338h1.8M668.35 338h-1.8M473.25 331.8h1.8M668.35 331.8h-1.8M473.25 319.4h1.8M668.35 319.4h-1.8M473.25 313.2h1.8M668.35 313.2h-1.8M473.25 307h1.8M668.35 307h-1.8M473.25 300.8h1.8M668.35 300.8h-1.8M473.25 288.4h1.8M668.35 288.4h-1.8M473.25 282.2h1.8M668.35 282.2h-1.8M473.25 276h1.8M668.35 276h-1.8M473.25 269.8h1.8M668.35 269.8h-1.8M473.25 257.4h1.8M668.35 257.4h-1.8" stroke="#606060" stroke-width="0.9" fill="none"/><rect x="473.25" y="244.9" width="195.1" height="184.1" fill="none" stroke="#606060" stroke-width="1.7"/><text x="482.9" y="440" font-size="9.2" text-anchor="middle" font-weight="normal" fill="#1a1a1a" textLength="6.4" lengthAdjust="spacingAndGlyphs" stroke="#1a1a1a" stroke-width="0.25">&#8722;6</text><text x="512.2" y="440" font-size="9.2" text-anchor="middle" font-weight="normal" fill="#1a1a1a" textLength="6.4" lengthAdjust="spacingAndGlyphs" stroke="#1a1a1a" stroke-width="0.25">&#8722;4</text><text x="541.5" y="440" font-size="9.2" text-anchor="middle" font-weight="normal" fill="#1a1a1a" textLength="6.4" lengthAdjust="spacingAndGlyphs" stroke="#1a1a1a" stroke-width="0.25">&#8722;2</text><text x="570.8" y="440" font-size="9.2" text-anchor="middle" font-weight="normal" fill="#1a1a1a" textLength="3.3" lengthAdjust="spacingAndGlyphs" stroke="#1a1a1a" stroke-width="0.25">0</text><text x="600.1" y="440" font-size="9.2" text-anchor="middle" font-weight="normal" fill="#1a1a1a" textLength="3.3" lengthAdjust="spacingAndGlyphs" stroke="#1a1a1a" stroke-width="0.25">2</text><text x="629.4" y="440" font-size="9.2" text-anchor="middle" font-weight="normal" fill="#1a1a1a" textLength="3.3" lengthAdjust="spacingAndGlyphs" stroke="#1a1a1a" stroke-width="0.25">4</text><text x="658.7" y="440" font-size="9.2" text-anchor="middle" font-weight="normal" fill="#1a1a1a" textLength="3.3" lengthAdjust="spacingAndGlyphs" stroke="#1a1a1a" stroke-width="0.25">6</text><text x="470.05" y="422" font-size="9.2" text-anchor="end" font-weight="normal" fill="#1a1a1a" textLength="3.3" lengthAdjust="spacingAndGlyphs" stroke="#1a1a1a" stroke-width="0.25">0</text><text x="470.05" y="391" font-size="9.2" text-anchor="end" font-weight="normal" fill="#1a1a1a" textLength="3.3" lengthAdjust="spacingAndGlyphs" stroke="#1a1a1a" stroke-width="0.25">1</text><text x="470.05" y="360" font-size="9.2" text-anchor="end" font-weight="normal" fill="#1a1a1a" textLength="3.3" lengthAdjust="spacingAndGlyphs" stroke="#1a1a1a" stroke-width="0.25">2</text><text x="470.05" y="329" font-size="9.2" text-anchor="end" font-weight="normal" fill="#1a1a1a" textLength="3.3" lengthAdjust="spacingAndGlyphs" stroke="#1a1a1a" stroke-width="0.25">3</text><text x="470.05" y="298" font-size="9.2" text-anchor="end" font-weight="normal" fill="#1a1a1a" textLength="3.3" lengthAdjust="spacingAndGlyphs" stroke="#1a1a1a" stroke-width="0.25">4</text><text x="470.05" y="267" font-size="9.2" text-anchor="end" font-weight="normal" fill="#1a1a1a" textLength="3.3" lengthAdjust="spacingAndGlyphs" stroke="#1a1a1a" stroke-width="0.25">5</text><text x="459.4" y="334.4" transform="rotate(-90 459.4 334.4)" dy="2.8" font-size="7.8" font-weight="bold" text-anchor="middle" fill="#1a1a1a" stroke="#1a1a1a" stroke-width="0.15" textLength="41" lengthAdjust="spacingAndGlyphs">Re[&#923;<tspan font-size="6.3" dy="1.8">8,</tspan><tspan dy="-1.8">(x,t)]</tspan></text><text x="570.8" y="455" font-size="8" text-anchor="middle" font-weight="bold" fill="#222" >x</text><path d="M37.9 48L55.3 160.1L175.9 191.3L200.5 108.8" stroke="#707070" stroke-width="0.9" fill="none"/><path d="M38.1 49.1L42.2 49.9M42.9 80.3L46.8 81.1M47.3 108.5L51 109.4M51.3 134.1L54.9 135M54.9 157.4L58.3 158.3M54.2 152.9L56.1 153.4M53.5 148.3L55.4 148.8M52.8 143.7L54.7 144.2M52 138.9L54 139.4M50.5 129.2L52.5 129.6M49.7 124.2L51.7 124.6M48.9 119L51 119.5M48.1 113.8L50.2 114.3M46.5 103.1L48.5 103.6M45.6 97.6L47.7 98M44.7 92L46.8 92.4M43.8 86.2L46 86.7M42 74.4L44.2 74.8M41.1 68.2L43.3 68.7M40.1 62L42.3 62.4M39.1 55.6L41.3 56.1M60.1 161.3L61.1 159.7M68.7 163.5L69.7 161.9M77.4 165.8L79.1 162.8M86.2 168.1L87.1 166.4M95.1 170.4L96 168.7M104.1 172.7L104.9 171M113.2 175.1L114.7 171.9M122.4 177.5L123.2 175.7M131.8 179.9L132.5 178.1M141.2 182.3L142 180.5M150.8 184.8L152 181.5M160.5 187.3L161.1 185.5M170.3 189.9L170.9 188M177.2 186.9L174.8 186.3M179.4 179.4L177.1 178.8M181.6 172.1L177.4 171.1M183.7 165.1L181.5 164.5M185.7 158.3L183.5 157.8M187.7 151.8L185.5 151.3M189.6 145.5L185.7 144.6M191.4 139.3L189.3 138.9M193.1 133.4L191.1 133M194.8 127.7L192.8 127.3M196.5 122.2L192.8 121.4M198.1 116.9L196.1 116.4M199.6 111.7L197.7 111.3" stroke="#707070" stroke-width="0.8" fill="none"/><text x="34.6" y="52.3" font-size="9.2" text-anchor="middle" font-weight="normal" fill="#1a1a1a" textLength="3.3" lengthAdjust="spacingAndGlyphs" stroke="#1a1a1a" stroke-width="0.25">3</text><text x="39.2" y="82.8" font-size="9.2" text-anchor="middle" font-weight="normal" fill="#1a1a1a" textLength="3.3" lengthAdjust="spacingAndGlyphs" stroke="#1a1a1a" stroke-width="0.25">2</text><text x="43.2" y="111.2" font-size="9.2" text-anchor="middle" font-weight="normal" fill="#1a1a1a" textLength="3.3" lengthAdjust="spacingAndGlyphs" stroke="#1a1a1a" stroke-width="0.25">1</text><text x="47" y="137" font-size="9.2" text-anchor="middle" font-weight="normal" fill="#1a1a1a" textLength="3.3" lengthAdjust="spacingAndGlyphs" stroke="#1a1a1a" stroke-width="0.25">0</text><text x="47.8" y="160.6" font-size="9.2" text-anchor="middle" font-weight="normal" fill="#1a1a1a" textLength="6.4" lengthAdjust="spacingAndGlyphs" stroke="#1a1a1a" stroke-width="0.25">&#8722;1</text><text x="74.2" y="176.3" font-size="9.2" text-anchor="middle" font-weight="normal" fill="#1a1a1a" textLength="6.4" lengthAdjust="spacingAndGlyphs" stroke="#1a1a1a" stroke-width="0.25">&#8722;2</text><text x="110.8" y="185.9" font-size="9.2" text-anchor="middle" font-weight="normal" fill="#1a1a1a" textLength="3.3" lengthAdjust="spacingAndGlyphs" stroke="#1a1a1a" stroke-width="0.25">0</text><text x="149" y="196.2" font-size="9.2" text-anchor="middle" font-weight="normal" fill="#1a1a1a" textLength="3.3" lengthAdjust="spacingAndGlyphs" stroke="#1a1a1a" stroke-width="0.25">2</text><text x="187.9" y="179.2" font-size="9.2" text-anchor="middle" font-weight="normal" fill="#1a1a1a" textLength="6.4" lengthAdjust="spacingAndGlyphs" stroke="#1a1a1a" stroke-width="0.25">&#8722;2</text><text x="194" y="150.9" font-size="9.2" text-anchor="middle" font-weight="normal" fill="#1a1a1a" textLength="3.3" lengthAdjust="spacingAndGlyphs" stroke="#1a1a1a" stroke-width="0.25">0</text><text x="201" y="126.3" font-size="9.2" text-anchor="middle" font-weight="normal" fill="#1a1a1a" textLength="3.3" lengthAdjust="spacingAndGlyphs" stroke="#1a1a1a" stroke-width="0.25">2</text><text x="106.9" y="193.5" font-size="8.5" text-anchor="middle" font-weight="bold" fill="#222" >t</text><text x="203.2" y="152.2" font-size="8.5" text-anchor="middle" font-weight="bold" fill="#222" >x</text><text x="0.8" y="107" font-size="7.8" font-weight="bold" fill="#1a1a1a" stroke="#1a1a1a" stroke-width="0.1" textLength="35" lengthAdjust="spacingAndGlyphs">Abs[&#923;<tspan font-size="6.3" dy="1.9">8,</tspan><tspan dy="-1.9">(x,t)]</tspan></text><path d="M101.6 87.4L57.7 157.3L173.4 188.6" stroke="#2a2a2a" stroke-width="1.3" fill="none"/><path d="M61.4 156L174.1 186.3L199.5 106.6L103.7 87.8Z" fill="#ff0000"/><circle cx="153.6" cy="116.3" r="1.07" fill="#f0f000"/><circle cx="169.9" cy="107.1" r="0.47" fill="#ff7a00"/><circle cx="183.8" cy="129.7" r="0.68" fill="#5cff2a"/><circle cx="121.9" cy="148" r="0.49" fill="#ff7a00"/><circle cx="75.2" cy="139" r="0.58" fill="#ff7a00"/><circle cx="150.6" cy="163" r="0.67" fill="#f0f000"/><circle cx="133.2" cy="161.6" r="0.57" fill="#ff7a00"/><circle cx="94.3" cy="143.9" r="1.21" fill="#5cff2a"/><circle cx="128.8" cy="96.2" r="0.52" fill="#ff7a00"/><circle cx="120.5" cy="95.9" r="1.08" fill="#f0f000"/><circle cx="169.2" cy="155.1" r="0.39" fill="#ff7a00"/><circle cx="81.4" cy="153.8" r="0.5" fill="#ff7a00"/><circle cx="93.3" cy="107.8" r="0.43" fill="#ff7a00"/><circle cx="166.2" cy="139" r="0.47" fill="#ff7a00"/><circle cx="140.3" cy="170" r="0.62" fill="#5cff2a"/><circle cx="168.9" cy="112.2" r="0.55" fill="#ff7a00"/><circle cx="123.4" cy="121.7" r="0.36" fill="#ff7a00"/><circle cx="118.9" cy="94.6" r="0.54" fill="#ff7a00"/><circle cx="189.2" cy="109.6" r="0.44" fill="#ff7a00"/><circle cx="145" cy="112.1" r="0.54" fill="#ff7a00"/><circle cx="174" cy="112.2" r="0.59" fill="#ff7a00"/><circle cx="88" cy="131.9" r="1.06" fill="#f0f000"/><circle cx="132.2" cy="99.3" r="0.43" fill="#ff7a00"/><circle cx="103.5" cy="149.5" r="0.39" fill="#ff7a00"/><circle cx="166.9" cy="101.5" r="0.36" fill="#ff7a00"/><circle cx="185.6" cy="139.2" r="0.41" fill="#ff7a00"/><circle cx="153.2" cy="110.2" r="0.46" fill="#ff7a00"/><circle cx="106.5" cy="94.7" r="0.47" fill="#ff7a00"/><circle cx="157.8" cy="167.6" r="1.07" fill="#f0f000"/><circle cx="155.7" cy="113.4" r="0.46" fill="#ff7a00"/><circle cx="112.4" cy="100.5" r="0.46" fill="#ff7a00"/><circle cx="194.3" cy="116.9" r="0.92" fill="#5cff2a"/><circle cx="140.1" cy="114.3" r="0.42" fill="#ff7a00"/><circle cx="111.2" cy="154.2" r="0.6" fill="#ff7a00"/><circle cx="185" cy="131.6" r="0.43" fill="#ff7a00"/><circle cx="84.9" cy="136.8" r="1.03" fill="#f0f000"/><circle cx="129.8" cy="108.1" r="0.95" fill="#f0f000"/><circle cx="158.2" cy="116" r="0.53" fill="#ff7a00"/><circle cx="111.9" cy="126.1" r="0.95" fill="#f0f000"/><circle cx="128.7" cy="97.2" r="0.89" fill="#f0f000"/><circle cx="89" cy="116.3" r="0.52" fill="#ff7a00"/><circle cx="140.4" cy="108.2" r="1" fill="#f0f000"/><circle cx="123.9" cy="116.9" r="1.01" fill="#f0f000"/><circle cx="130.6" cy="104.4" r="1.08" fill="#5cff2a"/><circle cx="194.2" cy="109.6" r="0.48" fill="#ff7a00"/><circle cx="113.6" cy="101.3" r="0.93" fill="#5cff2a"/><circle cx="159.8" cy="119.2" r="0.69" fill="#f0f000"/><circle cx="165" cy="130.8" r="0.81" fill="#f0f000"/><circle cx="154.6" cy="114.1" r="0.96" fill="#f0f000"/><circle cx="74.1" cy="143.5" r="0.51" fill="#ff7a00"/><circle cx="113.2" cy="111.6" r="0.62" fill="#f0f000"/><circle cx="121.4" cy="149.7" r="0.38" fill="#ff7a00"/><circle cx="103.7" cy="149.2" r="0.36" fill="#ff7a00"/><circle cx="126.3" cy="137.9" r="0.9" fill="#f0f000"/><circle cx="122.3" cy="98.7" r="0.45" fill="#ff7a00"/><circle cx="108.8" cy="131.3" r="0.56" fill="#ff7a00"/><circle cx="103.6" cy="162.3" r="0.65" fill="#f0f000"/><circle cx="133.1" cy="142.9" r="1.08" fill="#f0f000"/><circle cx="164.4" cy="143.6" r="1.05" fill="#5cff2a"/><circle cx="107.5" cy="153.6" r="0.88" fill="#f0f000"/><circle cx="192.5" cy="108.5" r="0.78" fill="#f0f000"/><circle cx="160" cy="180.8" r="0.49" fill="#ff7a00"/><circle cx="133.4" cy="160.4" r="1.05" fill="#f0f000"/><circle cx="119.2" cy="132" r="0.42" fill="#ff7a00"/><circle cx="180.2" cy="150.7" r="1.24" fill="#5cff2a"/><circle cx="135.6" cy="150.3" r="0.95" fill="#5cff2a"/><circle cx="119.1" cy="141.2" r="0.94" fill="#5cff2a"/><circle cx="112.1" cy="126.8" r="0.51" fill="#ff7a00"/><circle cx="120.9" cy="143.8" r="1.01" fill="#f0f000"/><circle cx="88.5" cy="117.2" r="0.58" fill="#ff7a00"/><circle cx="155.2" cy="156.4" r="0.39" fill="#ff7a00"/><circle cx="179.7" cy="158.1" r="0.84" fill="#f0f000"/><circle cx="151.8" cy="126.1" r="0.66" fill="#f0f000"/><circle cx="154.6" cy="151.4" r="0.43" fill="#ff7a00"/><circle cx="115" cy="123.5" r="0.44" fill="#ff7a00"/><circle cx="161.6" cy="129.2" r="0.41" fill="#ff7a00"/><circle cx="142.6" cy="101.9" r="0.98" fill="#5cff2a"/><circle cx="98" cy="102" r="0.49" fill="#ff7a00"/><circle cx="159" cy="125.5" r="0.58" fill="#ff7a00"/><circle cx="118.7" cy="135.1" r="0.74" fill="#5cff2a"/><circle cx="125.2" cy="104.2" r="0.56" fill="#ff7a00"/><circle cx="151.7" cy="139.5" r="0.55" fill="#ff7a00"/><circle cx="166.5" cy="168.6" r="0.49" fill="#ff7a00"/><circle cx="127.9" cy="142.3" r="0.5" fill="#ff7a00"/><circle cx="152.8" cy="172.2" r="0.55" fill="#ff7a00"/><circle cx="168.4" cy="125.2" r="0.53" fill="#ff7a00"/><circle cx="195.3" cy="107" r="0.62" fill="#f0f000"/><circle cx="161" cy="160.2" r="1.08" fill="#f0f000"/><circle cx="143.9" cy="163.6" r="0.58" fill="#ff7a00"/><circle cx="104.1" cy="115" r="0.39" fill="#ff7a00"/><circle cx="130.7" cy="168.8" r="0.44" fill="#ff7a00"/><circle cx="73.7" cy="152.5" r="0.97" fill="#f0f000"/><circle cx="162.5" cy="168.4" r="0.43" fill="#ff7a00"/><circle cx="143.7" cy="133.1" r="0.86" fill="#5cff2a"/><circle cx="98.7" cy="107.7" r="0.51" fill="#ff7a00"/><circle cx="147.2" cy="103.3" r="0.91" fill="#f0f000"/><circle cx="112.6" cy="121.3" r="0.54" fill="#ff7a00"/><circle cx="122.6" cy="158.3" r="0.44" fill="#ff7a00"/><circle cx="148.1" cy="160.6" r="0.93" fill="#f0f000"/><circle cx="100.3" cy="110.1" r="0.38" fill="#ff7a00"/><circle cx="134.7" cy="151.9" r="0.94" fill="#5cff2a"/><circle cx="126.6" cy="106.7" r="0.53" fill="#ff7a00"/><circle cx="76.2" cy="144.9" r="1.08" fill="#5cff2a"/><circle cx="91.4" cy="151.8" r="1.07" fill="#5cff2a"/><circle cx="156.1" cy="166.3" r="0.78" fill="#f0f000"/><circle cx="101.6" cy="135.8" r="0.77" fill="#f0f000"/><circle cx="109" cy="154.5" r="1.05" fill="#5cff2a"/><circle cx="163.3" cy="142.2" r="0.96" fill="#5cff2a"/><circle cx="145.6" cy="127" r="0.8" fill="#f0f000"/><circle cx="75" cy="155.1" r="0.36" fill="#ff7a00"/><circle cx="173.8" cy="140.7" r="0.6" fill="#f0f000"/><circle cx="143.2" cy="103.8" r="0.81" fill="#f0f000"/><circle cx="115.9" cy="159.6" r="0.39" fill="#ff7a00"/><circle cx="117.4" cy="135.3" r="0.71" fill="#5cff2a"/><circle cx="101.3" cy="140.3" r="0.42" fill="#ff7a00"/><circle cx="107.4" cy="125.4" r="0.58" fill="#ff7a00"/><circle cx="135.3" cy="99" r="0.94" fill="#f0f000"/><circle cx="145" cy="100.5" r="0.52" fill="#ff7a00"/><circle cx="119.6" cy="113.8" r="0.68" fill="#f0f000"/><circle cx="85.2" cy="158.5" r="0.37" fill="#ff7a00"/><circle cx="139.3" cy="97.5" r="0.43" fill="#ff7a00"/><circle cx="123.1" cy="145.2" r="0.96" fill="#f0f000"/><circle cx="90.8" cy="140.9" r="1.07" fill="#f0f000"/><circle cx="146.5" cy="138.5" r="0.6" fill="#5cff2a"/><circle cx="102.2" cy="102.8" r="0.36" fill="#ff7a00"/><circle cx="153.4" cy="99.3" r="0.44" fill="#ff7a00"/><circle cx="76.5" cy="152" r="0.94" fill="#5cff2a"/><circle cx="166.6" cy="177.3" r="0.36" fill="#ff7a00"/><circle cx="107.1" cy="161" r="0.45" fill="#ff7a00"/><circle cx="97.1" cy="159.2" r="0.59" fill="#ff7a00"/><circle cx="103.1" cy="122.3" r="0.48" fill="#ff7a00"/><circle cx="86.2" cy="133.7" r="0.49" fill="#ff7a00"/><circle cx="180.2" cy="132.8" r="0.75" fill="#5cff2a"/><circle cx="89.2" cy="116.9" r="0.49" fill="#ff7a00"/><circle cx="126" cy="118.8" r="1.06" fill="#f0f000"/><circle cx="113.1" cy="129.3" r="0.76" fill="#5cff2a"/><circle cx="89.2" cy="134.6" r="0.54" fill="#ff7a00"/><circle cx="161.4" cy="152" r="0.37" fill="#ff7a00"/><circle cx="92.3" cy="154.9" r="0.49" fill="#ff7a00"/><circle cx="91.3" cy="156.8" r="0.62" fill="#f0f000"/><circle cx="96.3" cy="138.4" r="0.37" fill="#ff7a00"/><circle cx="119.4" cy="141.7" r="0.88" fill="#f0f000"/><circle cx="179" cy="128.2" r="0.89" fill="#f0f000"/><circle cx="138.4" cy="107.8" r="1.08" fill="#f0f000"/><circle cx="162.9" cy="121.2" r="0.55" fill="#ff7a00"/><circle cx="108.4" cy="154.9" r="0.39" fill="#ff7a00"/><circle cx="116.9" cy="113.1" r="0.37" fill="#ff7a00"/><circle cx="162.6" cy="132.1" r="0.36" fill="#ff7a00"/><circle cx="92.4" cy="131.7" r="1.26" fill="#5cff2a"/><circle cx="136.3" cy="153" r="0.44" fill="#ff7a00"/><circle cx="98" cy="163.1" r="1.01" fill="#f0f000"/><circle cx="144.1" cy="167.4" r="0.39" fill="#ff7a00"/><circle cx="153.7" cy="138.9" r="1.16" fill="#5cff2a"/><circle cx="89.6" cy="134.2" r="0.92" fill="#5cff2a"/><circle cx="125.3" cy="132.7" r="1.07" fill="#f0f000"/><circle cx="151.4" cy="100.2" r="0.65" fill="#f0f000"/><circle cx="164" cy="143.5" r="0.59" fill="#ff7a00"/><circle cx="92.1" cy="114.8" r="0.57" fill="#ff7a00"/><circle cx="112.8" cy="148.5" r="0.4" fill="#ff7a00"/><circle cx="135.5" cy="142" r="0.72" fill="#f0f000"/><circle cx="109.9" cy="144.9" r="1.19" fill="#5cff2a"/><circle cx="173.2" cy="129.7" r="0.39" fill="#ff7a00"/><circle cx="167.8" cy="138.6" r="0.39" fill="#ff7a00"/><circle cx="103.3" cy="107.2" r="0.74" fill="#5cff2a"/><circle cx="159.3" cy="150.5" r="1.03" fill="#f0f000"/><circle cx="155.3" cy="112.5" r="0.35" fill="#ff7a00"/><circle cx="137.9" cy="124.3" r="0.45" fill="#ff7a00"/><circle cx="97.3" cy="161.5" r="0.45" fill="#ff7a00"/><circle cx="138.1" cy="115.7" r="0.6" fill="#ff7a00"/><circle cx="177.4" cy="108.5" r="0.94" fill="#f0f000"/><circle cx="146.9" cy="110.8" r="0.5" fill="#ff7a00"/><circle cx="152.8" cy="132.6" r="0.37" fill="#ff7a00"/><circle cx="88.3" cy="130.8" r="0.98" fill="#f0f000"/><circle cx="149.8" cy="149.7" r="0.79" fill="#5cff2a"/><circle cx="142.1" cy="169.1" r="0.93" fill="#f0f000"/><circle cx="191" cy="113" r="1.02" fill="#f0f000"/><circle cx="161.5" cy="127.7" r="0.48" fill="#ff7a00"/><circle cx="167.7" cy="160" r="0.98" fill="#5cff2a"/><circle cx="104.2" cy="165.7" r="0.39" fill="#ff7a00"/><circle cx="160.9" cy="106.8" r="1.03" fill="#5cff2a"/><circle cx="107.9" cy="156.7" r="0.88" fill="#f0f000"/><circle cx="152" cy="144.5" r="0.75" fill="#5cff2a"/><circle cx="106" cy="142.3" r="1.05" fill="#f0f000"/><circle cx="106.6" cy="113.9" r="0.71" fill="#f0f000"/><circle cx="94.4" cy="116.1" r="1.22" fill="#5cff2a"/><circle cx="154.7" cy="141.6" r="0.48" fill="#ff7a00"/><circle cx="170.5" cy="155.1" r="0.5" fill="#ff7a00"/><circle cx="174.2" cy="166.4" r="0.38" fill="#ff7a00"/><circle cx="143.5" cy="124.3" r="0.4" fill="#ff7a00"/><circle cx="148" cy="122" r="0.96" fill="#f0f000"/><circle cx="91.1" cy="121.4" r="1.27" fill="#5cff2a"/><circle cx="127.9" cy="103.3" r="1.06" fill="#f0f000"/><circle cx="114.5" cy="111.1" r="0.93" fill="#5cff2a"/><circle cx="82.7" cy="142.8" r="0.37" fill="#ff7a00"/><circle cx="104.5" cy="114.7" r="0.54" fill="#ff7a00"/><circle cx="166.9" cy="113.7" r="1.1" fill="#5cff2a"/><circle cx="189" cy="108.5" r="1.08" fill="#f0f000"/><circle cx="78.9" cy="149.8" r="0.4" fill="#ff7a00"/><circle cx="120" cy="130.1" r="0.97" fill="#f0f000"/><circle cx="89.9" cy="127.4" r="0.44" fill="#ff7a00"/><circle cx="100.6" cy="115.2" r="0.52" fill="#ff7a00"/><circle cx="147.7" cy="99.9" r="0.65" fill="#5cff2a"/><circle cx="166.7" cy="120.6" r="0.38" fill="#ff7a00"/><circle cx="126.8" cy="140.1" r="1.06" fill="#f0f000"/><circle cx="114.6" cy="142.5" r="0.52" fill="#ff7a00"/><circle cx="165.7" cy="131.3" r="0.43" fill="#ff7a00"/><circle cx="170.4" cy="136.8" r="0.46" fill="#ff7a00"/><circle cx="114.3" cy="113.2" r="0.42" fill="#ff7a00"/><circle cx="94" cy="122.6" r="0.98" fill="#5cff2a"/><circle cx="136.7" cy="99.6" r="0.44" fill="#ff7a00"/><circle cx="150.5" cy="177.8" r="0.78" fill="#f0f000"/><circle cx="77" cy="136.6" r="0.45" fill="#ff7a00"/><circle cx="119.5" cy="164.9" r="0.59" fill="#ff7a00"/><circle cx="127.3" cy="130.7" r="0.42" fill="#ff7a00"/><circle cx="185.9" cy="127.2" r="0.36" fill="#ff7a00"/><circle cx="132.5" cy="109.2" r="0.5" fill="#ff7a00"/><circle cx="179.4" cy="129" r="0.62" fill="#f0f000"/><circle cx="98.5" cy="102.7" r="0.57" fill="#ff7a00"/><circle cx="178.2" cy="109.2" r="0.6" fill="#ff7a00"/><circle cx="170.8" cy="109.3" r="0.55" fill="#ff7a00"/><circle cx="141.2" cy="98" r="0.75" fill="#5cff2a"/><circle cx="117.9" cy="145" r="0.42" fill="#ff7a00"/><circle cx="138.4" cy="163.3" r="0.46" fill="#ff7a00"/><circle cx="88" cy="128.7" r="1.22" fill="#5cff2a"/><circle cx="84.4" cy="158.9" r="1.27" fill="#5cff2a"/><circle cx="131.5" cy="160.3" r="0.58" fill="#ff7a00"/><circle cx="166.2" cy="179.4" r="0.46" fill="#ff7a00"/><circle cx="120" cy="108.3" r="0.54" fill="#ff7a00"/><circle cx="100.8" cy="121.1" r="1.09" fill="#5cff2a"/><circle cx="77.9" cy="148.8" r="0.79" fill="#f0f000"/><circle cx="120.1" cy="128.6" r="1.08" fill="#f0f000"/><circle cx="111.1" cy="119.7" r="0.49" fill="#ff7a00"/><circle cx="146" cy="164.2" r="0.53" fill="#ff7a00"/><circle cx="97.2" cy="102.3" r="0.48" fill="#ff7a00"/><circle cx="153.8" cy="112.7" r="0.48" fill="#ff7a00"/><circle cx="84.9" cy="127.6" r="0.36" fill="#ff7a00"/><circle cx="112.2" cy="129" r="1.06" fill="#f0f000"/><circle cx="122.2" cy="125.1" r="1.07" fill="#f0f000"/><circle cx="192.2" cy="107.1" r="0.39" fill="#ff7a00"/><circle cx="166.9" cy="175" r="0.53" fill="#ff7a00"/><circle cx="133.1" cy="138.8" r="0.81" fill="#5cff2a"/><circle cx="149.2" cy="109.2" r="0.44" fill="#ff7a00"/><circle cx="135.5" cy="125.3" r="0.46" fill="#ff7a00"/><circle cx="73.9" cy="149.8" r="0.39" fill="#ff7a00"/><circle cx="176.5" cy="160" r="0.55" fill="#ff7a00"/><circle cx="151.3" cy="153.9" r="1.04" fill="#5cff2a"/><circle cx="127.3" cy="118.8" r="0.42" fill="#ff7a00"/><circle cx="171.2" cy="143.6" r="0.72" fill="#5cff2a"/><circle cx="79.9" cy="154.6" r="0.88" fill="#f0f000"/><circle cx="66.9" cy="152" r="0.95" fill="#5cff2a"/><circle cx="158.7" cy="176.5" r="0.66" fill="#f0f000"/><circle cx="159.7" cy="127.3" r="0.71" fill="#f0f000"/><circle cx="169.9" cy="172.6" r="0.52" fill="#ff7a00"/><circle cx="76.2" cy="152.3" r="0.51" fill="#ff7a00"/><circle cx="180.2" cy="123.5" r="0.51" fill="#ff7a00"/><circle cx="158.1" cy="168.6" r="0.73" fill="#f0f000"/><circle cx="94.2" cy="163.1" r="0.86" fill="#f0f000"/><circle cx="174.7" cy="142.2" r="0.4" fill="#ff7a00"/><circle cx="126" cy="96.6" r="0.37" fill="#ff7a00"/><circle cx="103.2" cy="158.2" r="0.51" fill="#ff7a00"/><path d="M84.5 118.8L188.1 142.4M114.9 170.4L149.6 96.8" stroke="#fff" stroke-width="1.8"/><path d="M49.1 92.9L179.1 123.2L205.5 46.5L97.8 27.5Z" fill="#ff0000"/><path d="M56.5 94.6L104.1 28.6M52.8 87.9L181.1 117.3M64 96.4L110.4 29.7M56.4 83.1L183.1 111.6M71.7 98.2L116.8 30.8M59.9 78.4L185 106M79.3 99.9L123.2 32M63.3 73.9L186.9 100.6M87.1 101.8L129.7 33.1M66.6 69.5L188.7 95.4M95 103.6L136.3 34.3M69.8 65.1L190.4 90.3M103 105.5L142.9 35.5M72.9 60.9L192.1 85.4M111 107.3L149.6 36.6M76 56.8L193.8 80.6M119.2 109.2L156.3 37.8M78.9 52.8L195.4 75.9M127.4 111.2L163.2 39M81.8 49L196.9 71.3M135.8 113.1L170 40.2M84.7 45.2L198.5 66.9M144.2 115.1L177 41.5M87.4 41.5L199.9 62.6M152.8 117.1L184 42.7M90.1 37.8L201.4 58.4M161.5 119.1L191.1 44M92.7 34.3L202.8 54.4M170.2 121.1L198.3 45.2M95.3 30.9L204.2 50.4" stroke="#4af04a" stroke-width="0.95" fill="none"/><path d="M49.1 92.9L179.1 123.2L205.5 46.5L97.8 27.5Z" stroke="#22ee22" stroke-width="1.6" fill="none" stroke-linejoin="round"/><ellipse cx="100.9" cy="31.8" rx="3" ry="1.4" fill="#9a0000" opacity="0.75"/><ellipse cx="119.7" cy="32.1" rx="3" ry="1.4" fill="#9a0000" opacity="0.75"/><ellipse cx="154.2" cy="35.8" rx="3" ry="1.4" fill="#9a0000" opacity="0.75"/><ellipse cx="163.5" cy="41.8" rx="3" ry="1.4" fill="#9a0000" opacity="0.75"/><ellipse cx="191" cy="42.8" rx="3" ry="1.4" fill="#9a0000" opacity="0.75"/><ellipse cx="158.3" cy="46.8" rx="3" ry="1.4" fill="#9a0000" opacity="0.75"/><ellipse cx="126.3" cy="51.8" rx="3" ry="1.4" fill="#9a0000" opacity="0.75"/><ellipse cx="90.3" cy="55.8" rx="3" ry="1.4" fill="#9a0000" opacity="0.75"/><ellipse cx="93" cy="58.8" rx="3" ry="1.4" fill="#9a0000" opacity="0.75"/><ellipse cx="202" cy="58.8" rx="3" ry="1.4" fill="#9a0000" opacity="0.75"/><ellipse cx="168.2" cy="63.3" rx="3" ry="1.4" fill="#9a0000" opacity="0.75"/><ellipse cx="135.3" cy="65" rx="3" ry="1.4" fill="#9a0000" opacity="0.75"/><ellipse cx="99.5" cy="70.8" rx="3" ry="1.4" fill="#9a0000" opacity="0.75"/><ellipse cx="62.3" cy="86.8" rx="3" ry="1.4" fill="#9a0000" opacity="0.75"/><ellipse cx="64.8" cy="90.8" rx="3" ry="1.4" fill="#9a0000" opacity="0.75"/><ellipse cx="105.8" cy="93.8" rx="3" ry="1.4" fill="#9a0000" opacity="0.75"/><ellipse cx="143.5" cy="93.8" rx="3" ry="1.4" fill="#9a0000" opacity="0.75"/><ellipse cx="189" cy="100.8" rx="3" ry="1.4" fill="#9a0000" opacity="0.75"/><ellipse cx="109.5" cy="103.8" rx="3" ry="1.4" fill="#9a0000" opacity="0.75"/><ellipse cx="153" cy="112.8" rx="3" ry="1.4" fill="#9a0000" opacity="0.75"/><ellipse cx="178" cy="118.8" rx="3" ry="1.4" fill="#9a0000" opacity="0.75"/><ellipse cx="88.1" cy="88.8" rx="1.9" ry="1" fill="#8a0000" opacity="0.55"/><ellipse cx="108" cy="89" rx="1.9" ry="1" fill="#8a0000" opacity="0.55"/><ellipse cx="83.6" cy="65.2" rx="1.9" ry="1" fill="#8a0000" opacity="0.55"/><ellipse cx="185.8" cy="58.4" rx="1.9" ry="1" fill="#8a0000" opacity="0.55"/><ellipse cx="152.5" cy="93.3" rx="1.9" ry="1" fill="#8a0000" opacity="0.55"/><ellipse cx="128.4" cy="83.8" rx="1.9" ry="1" fill="#8a0000" opacity="0.55"/><ellipse cx="81.4" cy="87" rx="1.9" ry="1" fill="#8a0000" opacity="0.55"/><ellipse cx="118.2" cy="38.2" rx="1.9" ry="1" fill="#8a0000" opacity="0.55"/><ellipse cx="176.4" cy="56.3" rx="1.9" ry="1" fill="#8a0000" opacity="0.55"/><ellipse cx="155.7" cy="96.3" rx="1.9" ry="1" fill="#8a0000" opacity="0.55"/><ellipse cx="117.1" cy="56.6" rx="1.9" ry="1" fill="#8a0000" opacity="0.55"/><ellipse cx="167.5" cy="51.6" rx="1.9" ry="1" fill="#8a0000" opacity="0.55"/><ellipse cx="161.8" cy="106.7" rx="1.9" ry="1" fill="#8a0000" opacity="0.55"/><ellipse cx="149.1" cy="59.8" rx="1.9" ry="1" fill="#8a0000" opacity="0.55"/><ellipse cx="121.2" cy="90.1" rx="1.9" ry="1" fill="#8a0000" opacity="0.55"/><ellipse cx="114" cy="95.7" rx="1.9" ry="1" fill="#8a0000" opacity="0.55"/><ellipse cx="189.1" cy="54.9" rx="1.9" ry="1" fill="#8a0000" opacity="0.55"/><ellipse cx="130.5" cy="82.4" rx="1.9" ry="1" fill="#8a0000" opacity="0.55"/><ellipse cx="179.2" cy="72.5" rx="1.9" ry="1" fill="#8a0000" opacity="0.55"/><ellipse cx="183.1" cy="54.9" rx="1.9" ry="1" fill="#8a0000" opacity="0.55"/><ellipse cx="130.3" cy="73.9" rx="1.9" ry="1" fill="#8a0000" opacity="0.55"/><ellipse cx="140.7" cy="74.8" rx="1.9" ry="1" fill="#8a0000" opacity="0.55"/><ellipse cx="89.1" cy="73.3" rx="1.9" ry="1" fill="#8a0000" opacity="0.55"/><ellipse cx="152.1" cy="108.3" rx="1.9" ry="1" fill="#8a0000" opacity="0.55"/><ellipse cx="90.9" cy="51.5" rx="1.9" ry="1" fill="#8a0000" opacity="0.55"/><ellipse cx="110.7" cy="61.5" rx="1.9" ry="1" fill="#8a0000" opacity="0.55"/><ellipse cx="123.6" cy="77.8" rx="1.9" ry="1" fill="#8a0000" opacity="0.55"/><ellipse cx="179.3" cy="101.3" rx="1.9" ry="1" fill="#8a0000" opacity="0.55"/><defs><linearGradient id="ga1" gradientUnits="userSpaceOnUse" x1="0" y1="31" x2="0" y2="18.2"><stop offset="0" stop-color="#b00000"/><stop offset=".25" stop-color="#8a5a20"/><stop offset="1" stop-color="#8a5a20"/></linearGradient><linearGradient id="ga2" gradientUnits="userSpaceOnUse" x1="0" y1="31" x2="0" y2="18.2"><stop offset="0" stop-color="#700000"/><stop offset=".25" stop-color="#6a2008"/><stop offset="1" stop-color="#6a2008"/></linearGradient><linearGradient id="ga3" gradientUnits="userSpaceOnUse" x1="0" y1="31.3" x2="0" y2="17.4"><stop offset="0" stop-color="#b00000"/><stop offset=".25" stop-color="#60b020"/><stop offset="1" stop-color="#60b020"/></linearGradient><linearGradient id="ga4" gradientUnits="userSpaceOnUse" x1="0" y1="31.3" x2="0" y2="17.4"><stop offset="0" stop-color="#700000"/><stop offset=".25" stop-color="#7a2a10"/><stop offset="1" stop-color="#7a2a10"/></linearGradient><linearGradient id="ga5" gradientUnits="userSpaceOnUse" x1="0" y1="35" x2="0" y2="28"><stop offset="0" stop-color="#b00000"/><stop offset=".25" stop-color="#50e030"/><stop offset="1" stop-color="#50e030"/></linearGradient><linearGradient id="ga6" gradientUnits="userSpaceOnUse" x1="0" y1="35" x2="0" y2="28"><stop offset="0" stop-color="#700000"/><stop offset=".25" stop-color="#2a7a18"/><stop offset="1" stop-color="#2a7a18"/></linearGradient><linearGradient id="ga7" gradientUnits="userSpaceOnUse" x1="0" y1="41" x2="0" y2="34.6"><stop offset="0" stop-color="#b00000"/><stop offset=".25" stop-color="#50e030"/><stop offset="1" stop-color="#50e030"/></linearGradient><linearGradient id="ga8" gradientUnits="userSpaceOnUse" x1="0" y1="41" x2="0" y2="34.6"><stop offset="0" stop-color="#700000"/><stop offset=".25" stop-color="#2a7a18"/><stop offset="1" stop-color="#2a7a18"/></linearGradient><linearGradient id="ga9" gradientUnits="userSpaceOnUse" x1="0" y1="42" x2="0" y2="5.1"><stop offset="0" stop-color="#b00000"/><stop offset=".25" stop-color="#50e030"/><stop offset="1" stop-color="#50e030"/></linearGradient><linearGradient id="ga10" gradientUnits="userSpaceOnUse" x1="0" y1="42" x2="0" y2="5.1"><stop offset="0" stop-color="#700000"/><stop offset=".25" stop-color="#2a7a18"/><stop offset="1" stop-color="#2a7a18"/></linearGradient><linearGradient id="ga11" gradientUnits="userSpaceOnUse" x1="0" y1="46" x2="0" y2="9.5"><stop offset="0" stop-color="#b00000"/><stop offset=".25" stop-color="#7a3aa0"/><stop offset="1" stop-color="#7a3aa0"/></linearGradient><linearGradient id="ga12" gradientUnits="userSpaceOnUse" x1="0" y1="46" x2="0" y2="9.5"><stop offset="0" stop-color="#700000"/><stop offset=".25" stop-color="#3a1060"/><stop offset="1" stop-color="#3a1060"/></linearGradient><linearGradient id="ga13" gradientUnits="userSpaceOnUse" x1="0" y1="51" x2="0" y2="19.9"><stop offset="0" stop-color="#b00000"/><stop offset=".25" stop-color="#7a3aa0"/><stop offset="1" stop-color="#7a3aa0"/></linearGradient><linearGradient id="ga14" gradientUnits="userSpaceOnUse" x1="0" y1="51" x2="0" y2="19.9"><stop offset="0" stop-color="#700000"/><stop offset=".25" stop-color="#3a1060"/><stop offset="1" stop-color="#3a1060"/></linearGradient><linearGradient id="ga15" gradientUnits="userSpaceOnUse" x1="0" y1="55" x2="0" y2="30.7"><stop offset="0" stop-color="#b00000"/><stop offset=".25" stop-color="#60b020"/><stop offset="1" stop-color="#60b020"/></linearGradient><linearGradient id="ga16" gradientUnits="userSpaceOnUse" x1="0" y1="55" x2="0" y2="30.7"><stop offset="0" stop-color="#700000"/><stop offset=".25" stop-color="#7a2a10"/><stop offset="1" stop-color="#7a2a10"/></linearGradient><linearGradient id="ga17" gradientUnits="userSpaceOnUse" x1="0" y1="58" x2="0" y2="33.1"><stop offset="0" stop-color="#b00000"/><stop offset=".25" stop-color="#50e030"/><stop offset="1" stop-color="#50e030"/></linearGradient><linearGradient id="ga18" gradientUnits="userSpaceOnUse" x1="0" y1="58" x2="0" y2="33.1"><stop offset="0" stop-color="#700000"/><stop offset=".25" stop-color="#2a7a18"/><stop offset="1" stop-color="#2a7a18"/></linearGradient><linearGradient id="ga19" gradientUnits="userSpaceOnUse" x1="0" y1="58" x2="0" y2="32.9"><stop offset="0" stop-color="#b00000"/><stop offset=".25" stop-color="#50e030"/><stop offset="1" stop-color="#50e030"/></linearGradient><linearGradient id="ga20" gradientUnits="userSpaceOnUse" x1="0" y1="58" x2="0" y2="32.9"><stop offset="0" stop-color="#700000"/><stop offset=".25" stop-color="#2a7a18"/><stop offset="1" stop-color="#2a7a18"/></linearGradient><linearGradient id="ga21" gradientUnits="userSpaceOnUse" x1="0" y1="62.5" x2="0" y2="36.3"><stop offset="0" stop-color="#b00000"/><stop offset=".25" stop-color="#50e030"/><stop offset="1" stop-color="#50e030"/></linearGradient><linearGradient id="ga22" gradientUnits="userSpaceOnUse" x1="0" y1="62.5" x2="0" y2="36.3"><stop offset="0" stop-color="#700000"/><stop offset=".25" stop-color="#2a7a18"/><stop offset="1" stop-color="#2a7a18"/></linearGradient><linearGradient id="ga23" gradientUnits="userSpaceOnUse" x1="0" y1="64.2" x2="0" y2="26.4"><stop offset="0" stop-color="#b00000"/><stop offset=".25" stop-color="#48c030"/><stop offset="1" stop-color="#48c030"/></linearGradient><linearGradient id="ga24" gradientUnits="userSpaceOnUse" x1="0" y1="64.2" x2="0" y2="26.4"><stop offset="0" stop-color="#700000"/><stop offset=".25" stop-color="#4a1a70"/><stop offset="1" stop-color="#4a1a70"/></linearGradient><linearGradient id="ga25" gradientUnits="userSpaceOnUse" x1="0" y1="70" x2="0" y2="38.7"><stop offset="0" stop-color="#b00000"/><stop offset=".25" stop-color="#7a3aa0"/><stop offset="1" stop-color="#7a3aa0"/></linearGradient><linearGradient id="ga26" gradientUnits="userSpaceOnUse" x1="0" y1="70" x2="0" y2="38.7"><stop offset="0" stop-color="#700000"/><stop offset=".25" stop-color="#3a1060"/><stop offset="1" stop-color="#3a1060"/></linearGradient><linearGradient id="ga27" gradientUnits="userSpaceOnUse" x1="0" y1="86" x2="0" y2="48.7"><stop offset="0" stop-color="#b00000"/><stop offset=".25" stop-color="#50e030"/><stop offset="1" stop-color="#50e030"/></linearGradient><linearGradient id="ga28" gradientUnits="userSpaceOnUse" x1="0" y1="86" x2="0" y2="48.7"><stop offset="0" stop-color="#700000"/><stop offset=".25" stop-color="#2a7a18"/><stop offset="1" stop-color="#2a7a18"/></linearGradient><linearGradient id="ga29" gradientUnits="userSpaceOnUse" x1="0" y1="90" x2="0" y2="55.3"><stop offset="0" stop-color="#b00000"/><stop offset=".25" stop-color="#48c828"/><stop offset="1" stop-color="#48c828"/></linearGradient><linearGradient id="ga30" gradientUnits="userSpaceOnUse" x1="0" y1="90" x2="0" y2="55.3"><stop offset="0" stop-color="#700000"/><stop offset=".25" stop-color="#3a1a40"/><stop offset="1" stop-color="#3a1a40"/></linearGradient><linearGradient id="ga31" gradientUnits="userSpaceOnUse" x1="0" y1="93" x2="0" y2="56"><stop offset="0" stop-color="#b00000"/><stop offset=".25" stop-color="#7a3aa0"/><stop offset="1" stop-color="#7a3aa0"/></linearGradient><linearGradient id="ga32" gradientUnits="userSpaceOnUse" x1="0" y1="93" x2="0" y2="56"><stop offset="0" stop-color="#700000"/><stop offset=".25" stop-color="#3a1060"/><stop offset="1" stop-color="#3a1060"/></linearGradient><linearGradient id="ga33" gradientUnits="userSpaceOnUse" x1="0" y1="93" x2="0" y2="55.2"><stop offset="0" stop-color="#b00000"/><stop offset=".25" stop-color="#7a3aa0"/><stop offset="1" stop-color="#7a3aa0"/></linearGradient><linearGradient id="ga34" gradientUnits="userSpaceOnUse" x1="0" y1="93" x2="0" y2="55.2"><stop offset="0" stop-color="#700000"/><stop offset=".25" stop-color="#3a1060"/><stop offset="1" stop-color="#3a1060"/></linearGradient><linearGradient id="ga35" gradientUnits="userSpaceOnUse" x1="0" y1="100" x2="0" y2="83"><stop offset="0" stop-color="#b00000"/><stop offset=".25" stop-color="#60b020"/><stop offset="1" stop-color="#60b020"/></linearGradient><linearGradient id="ga36" gradientUnits="userSpaceOnUse" x1="0" y1="100" x2="0" y2="83"><stop offset="0" stop-color="#700000"/><stop offset=".25" stop-color="#7a2a10"/><stop offset="1" stop-color="#7a2a10"/></linearGradient><linearGradient id="ga37" gradientUnits="userSpaceOnUse" x1="0" y1="103" x2="0" y2="92"><stop offset="0" stop-color="#b00000"/><stop offset=".25" stop-color="#60b020"/><stop offset="1" stop-color="#60b020"/></linearGradient><linearGradient id="ga38" gradientUnits="userSpaceOnUse" x1="0" y1="103" x2="0" y2="92"><stop offset="0" stop-color="#700000"/><stop offset=".25" stop-color="#7a2a10"/><stop offset="1" stop-color="#7a2a10"/></linearGradient><linearGradient id="ga39" gradientUnits="userSpaceOnUse" x1="0" y1="112" x2="0" y2="89.6"><stop offset="0" stop-color="#b00000"/><stop offset=".25" stop-color="#60b020"/><stop offset="1" stop-color="#60b020"/></linearGradient><linearGradient id="ga40" gradientUnits="userSpaceOnUse" x1="0" y1="112" x2="0" y2="89.6"><stop offset="0" stop-color="#700000"/><stop offset=".25" stop-color="#7a2a10"/><stop offset="1" stop-color="#7a2a10"/></linearGradient><linearGradient id="ga41" gradientUnits="userSpaceOnUse" x1="0" y1="118" x2="0" y2="86.3"><stop offset="0" stop-color="#b00000"/><stop offset=".25" stop-color="#48c828"/><stop offset="1" stop-color="#48c828"/></linearGradient><linearGradient id="ga42" gradientUnits="userSpaceOnUse" x1="0" y1="118" x2="0" y2="86.3"><stop offset="0" stop-color="#700000"/><stop offset=".25" stop-color="#3a1a40"/><stop offset="1" stop-color="#3a1a40"/></linearGradient></defs><path d="M97.9 31.3L100.2 32.3L99 18.2Z" fill="url(#ga1)"/><path d="M100.2 32.3L101.9 31.3L99 18.2Z" fill="url(#ga2)"/><path d="M97.9 31.3L99 18.2" stroke="#38f038" stroke-width="0.6"/><path d="M116.7 31.6L119 32.6L117.9 17.4Z" fill="url(#ga3)"/><path d="M119 32.6L120.7 31.6L117.9 17.4Z" fill="url(#ga4)"/><path d="M116.7 31.6L117.9 17.4" stroke="#38f038" stroke-width="0.6"/><path d="M151.4 35.3L153.5 36.3L152.4 28Z" fill="url(#ga5)"/><path d="M153.5 36.3L155 35.3L152.4 28Z" fill="url(#ga6)"/><path d="M151.4 35.3L152.4 28" stroke="#38f038" stroke-width="0.6"/><path d="M160.7 41.3L162.8 42.3L162.2 34.6Z" fill="url(#ga7)"/><path d="M162.8 42.3L164.3 41.3L162.2 34.6Z" fill="url(#ga8)"/><path d="M160.7 41.3L162.2 34.6" stroke="#38f038" stroke-width="0.6"/><path d="M187.3 42.3L190.3 43.3L192.9 5.1Z" fill="url(#ga9)"/><path d="M190.3 43.3L192.7 42.3L192.9 5.1Z" fill="url(#ga10)"/><path d="M187.3 42.3L192.9 5.1" stroke="#38f038" stroke-width="0.6"/><path d="M154.6 46.3L157.6 47.3L159 9.5Z" fill="url(#ga11)"/><path d="M157.6 47.3L160 46.3L159 9.5Z" fill="url(#ga12)"/><path d="M154.6 46.3L159 9.5" stroke="#38f038" stroke-width="0.6"/><path d="M122.8 51.3L125.6 52.3L125 19.9Z" fill="url(#ga13)"/><path d="M125.6 52.3L127.8 51.3L125 19.9Z" fill="url(#ga14)"/><path d="M122.8 51.3L125 19.9" stroke="#38f038" stroke-width="0.6"/><path d="M87 55.3L89.6 56.3L86.3 30.7Z" fill="url(#ga15)"/><path d="M89.6 56.3L91.6 55.3L86.3 30.7Z" fill="url(#ga16)"/><path d="M87 55.3L86.3 30.7" stroke="#38f038" stroke-width="0.6"/><path d="M89.7 58.3L92.3 59.3L90.1 33.1Z" fill="url(#ga17)"/><path d="M92.3 59.3L94.3 58.3L90.1 33.1Z" fill="url(#ga18)"/><path d="M89.7 58.3L90.1 33.1" stroke="#38f038" stroke-width="0.6"/><path d="M198.6 58.3L201.3 59.3L203.2 32.9Z" fill="url(#ga19)"/><path d="M201.3 59.3L203.4 58.3L203.2 32.9Z" fill="url(#ga20)"/><path d="M198.6 58.3L203.2 32.9" stroke="#38f038" stroke-width="0.6"/><path d="M164.8 62.8L167.5 63.8L167.2 36.3Z" fill="url(#ga21)"/><path d="M167.5 63.8L169.6 62.8L167.2 36.3Z" fill="url(#ga22)"/><path d="M164.8 62.8L167.2 36.3" stroke="#38f038" stroke-width="0.6"/><path d="M131.6 64.5L134.6 65.5L133.5 26.4Z" fill="url(#ga23)"/><path d="M134.6 65.5L137 64.5L133.5 26.4Z" fill="url(#ga24)"/><path d="M131.6 64.5L133.5 26.4" stroke="#38f038" stroke-width="0.6"/><path d="M96 70.3L98.8 71.3L97.4 38.7Z" fill="url(#ga25)"/><path d="M98.8 71.3L101 70.3L97.4 38.7Z" fill="url(#ga26)"/><path d="M96 70.3L97.4 38.7" stroke="#38f038" stroke-width="0.6"/><path d="M58.6 86.3L61.6 87.3L58.6 48.7Z" fill="url(#ga27)"/><path d="M61.6 87.3L64 86.3L58.6 48.7Z" fill="url(#ga28)"/><path d="M58.6 86.3L58.6 48.7" stroke="#38f038" stroke-width="0.6"/><path d="M61.2 90.3L64.1 91.3L61.8 55.3Z" fill="url(#ga29)"/><path d="M64.1 91.3L66.4 90.3L61.8 55.3Z" fill="url(#ga30)"/><path d="M61.2 90.3L61.8 55.3" stroke="#38f038" stroke-width="0.6"/><path d="M102.1 93.3L105.1 94.3L103.1 56Z" fill="url(#ga31)"/><path d="M105.1 94.3L107.5 93.3L103.1 56Z" fill="url(#ga32)"/><path d="M102.1 93.3L103.1 56" stroke="#38f038" stroke-width="0.6"/><path d="M139.8 93.3L142.8 94.3L142.2 55.2Z" fill="url(#ga33)"/><path d="M142.8 94.3L145.2 93.3L142.2 55.2Z" fill="url(#ga34)"/><path d="M139.8 93.3L142.2 55.2" stroke="#38f038" stroke-width="0.6"/><path d="M185.9 100.3L188.3 101.3L189 83Z" fill="url(#ga35)"/><path d="M188.3 101.3L190.1 100.3L189 83Z" fill="url(#ga36)"/><path d="M185.9 100.3L189 83" stroke="#38f038" stroke-width="0.6"/><path d="M106.6 103.3L108.8 104.3L108 92Z" fill="url(#ga37)"/><path d="M108.8 104.3L110.4 103.3L108 92Z" fill="url(#ga38)"/><path d="M106.6 103.3L108 92" stroke="#38f038" stroke-width="0.6"/><path d="M149.7 112.3L152.3 113.3L152 89.6Z" fill="url(#ga39)"/><path d="M152.3 113.3L154.3 112.3L152 89.6Z" fill="url(#ga40)"/><path d="M149.7 112.3L152 89.6" stroke="#38f038" stroke-width="0.6"/><path d="M174.4 118.3L177.3 119.3L177.5 86.3Z" fill="url(#ga41)"/><path d="M177.3 119.3L179.6 118.3L177.5 86.3Z" fill="url(#ga42)"/><path d="M174.4 118.3L177.5 86.3" stroke="#38f038" stroke-width="0.6"/><path d="M283.2 47.4L299.3 157.5L422.8 195.2L452.3 107.4" stroke="#707070" stroke-width="0.9" fill="none"/><path d="M297.7 146.4L301.1 147.4M294.6 125.5L298.1 126.5M291.3 103L294.9 104M287.8 78.8L291.5 79.7M284 52.5L287.8 53.4M298.4 151.4L300.3 152M296.9 141.3L298.8 141.9M296.2 136.2L298.1 136.7M295.4 130.9L297.3 131.4M293.8 120.1L295.8 120.6M293 114.5L295 115M292.2 108.8L294.2 109.3M290.5 97.2L292.5 97.7M289.6 91.1L291.6 91.7M288.7 85L290.7 85.5M286.9 72.4L288.9 72.9M285.9 65.9L288 66.4M285 59.3L287.1 59.8M283 45.6L285.1 46.1M306 159.6L307.1 157.9M314.4 162.1L315.5 160.5M322.9 164.7L324.8 161.6M331.5 167.3L332.5 165.6M340.2 170L341.2 168.3M349.1 172.7L350 171M358.1 175.4L359.8 172.2M367.2 178.2L368.1 176.4M376.4 181L377.3 179.2M385.8 183.9L386.6 182M395.3 186.8L396.7 183.4M404.9 189.7L405.7 187.8M414.7 192.7L415.4 190.8M425 188.6L422.6 187.9M427.6 180.9L425.3 180.2M430.1 173.4L426 172.2M432.6 166.1L430.3 165.5M434.9 159.2L432.7 158.6M437.2 152.5L435 151.9M439.3 146L435.4 145M441.4 139.8L439.3 139.2M443.5 133.7L441.4 133.2M445.4 127.9L443.4 127.4M447.3 122.3L443.7 121.4M449.2 116.8L447.2 116.3M450.9 111.5L449 111.1" stroke="#707070" stroke-width="0.8" fill="none"/><text x="279.2" y="54.2" font-size="9.2" text-anchor="middle" font-weight="normal" fill="#1a1a1a" textLength="3.3" lengthAdjust="spacingAndGlyphs" stroke="#1a1a1a" stroke-width="0.25">8</text><text x="283.5" y="80.9" font-size="9.2" text-anchor="middle" font-weight="normal" fill="#1a1a1a" textLength="3.3" lengthAdjust="spacingAndGlyphs" stroke="#1a1a1a" stroke-width="0.25">6</text><text x="287.2" y="104.9" font-size="9.2" text-anchor="middle" font-weight="normal" fill="#1a1a1a" textLength="3.3" lengthAdjust="spacingAndGlyphs" stroke="#1a1a1a" stroke-width="0.25">4</text><text x="290.8" y="128.6" font-size="9.2" text-anchor="middle" font-weight="normal" fill="#1a1a1a" textLength="3.3" lengthAdjust="spacingAndGlyphs" stroke="#1a1a1a" stroke-width="0.25">2</text><text x="293.4" y="149" font-size="9.2" text-anchor="middle" font-weight="normal" fill="#1a1a1a" textLength="3.3" lengthAdjust="spacingAndGlyphs" stroke="#1a1a1a" stroke-width="0.25">0</text><text x="318.6" y="175" font-size="9.2" text-anchor="middle" font-weight="normal" fill="#1a1a1a" textLength="6.4" lengthAdjust="spacingAndGlyphs" stroke="#1a1a1a" stroke-width="0.25">&#8722;2</text><text x="355.3" y="185.6" font-size="9.2" text-anchor="middle" font-weight="normal" fill="#1a1a1a" textLength="3.3" lengthAdjust="spacingAndGlyphs" stroke="#1a1a1a" stroke-width="0.25">0</text><text x="393.6" y="197.1" font-size="9.2" text-anchor="middle" font-weight="normal" fill="#1a1a1a" textLength="3.3" lengthAdjust="spacingAndGlyphs" stroke="#1a1a1a" stroke-width="0.25">2</text><text x="434" y="180.4" font-size="9.2" text-anchor="middle" font-weight="normal" fill="#1a1a1a" textLength="6.4" lengthAdjust="spacingAndGlyphs" stroke="#1a1a1a" stroke-width="0.25">&#8722;2</text><text x="441" y="151.9" font-size="9.2" text-anchor="middle" font-weight="normal" fill="#1a1a1a" textLength="3.3" lengthAdjust="spacingAndGlyphs" stroke="#1a1a1a" stroke-width="0.25">0</text><text x="449.5" y="128.1" font-size="9.2" text-anchor="middle" font-weight="normal" fill="#1a1a1a" textLength="3.3" lengthAdjust="spacingAndGlyphs" stroke="#1a1a1a" stroke-width="0.25">2</text><text x="350" y="193" font-size="8.5" text-anchor="middle" font-weight="bold" fill="#222" >t</text><text x="451" y="153.3" font-size="8.5" text-anchor="middle" font-weight="bold" fill="#222" >x</text><text x="249.6" y="105.2" font-size="7.8" font-weight="bold" fill="#1a1a1a" stroke="#1a1a1a" stroke-width="0.1" textLength="30.7" lengthAdjust="spacingAndGlyphs">Im[&#923;<tspan font-size="6.3" dy="1.9">8,</tspan><tspan dy="-1.9">(x,t)]</tspan></text><path d="M351.9 85.5L303.6 154.9L418.6 189.6" stroke="#2a2a2a" stroke-width="1.3" fill="none" stroke-linejoin="miter"/><path d="M353.4 85.8L353.2 85.8L352.8 86.4Z" fill="#ff0000" stroke="#ff0000" stroke-width="0.3"/><path d="M355 86.2L353.4 85.8L352.8 86.4L349.7 90.8Z" fill="#f4f000" stroke="#f4f000" stroke-width="0.3"/><path d="M356.6 86.5L355 86.2L349.7 90.8L346.6 95.3Z" fill="#6cf000" stroke="#6cf000" stroke-width="0.3"/><path d="M358.1 86.9L356.6 86.5L346.6 95.3L343.4 100Z" fill="#e8f000" stroke="#e8f000" stroke-width="0.3"/><path d="M359.7 87.3L358.1 86.9L343.4 100L340.1 104.8Z" fill="#60f000" stroke="#60f000" stroke-width="0.3"/><path d="M363.3 88.1L359.7 87.3L340.1 104.8L332.2 116.1Z" fill="#ff0000" stroke="#ff0000" stroke-width="0.3"/><path d="M364.9 88.5L363.3 88.1L332.2 116.1L328.5 121.5Z" fill="#f4f000" stroke="#f4f000" stroke-width="0.3"/><path d="M366.4 88.9L364.9 88.5L328.5 121.5L324.7 127Z" fill="#6cf000" stroke="#6cf000" stroke-width="0.3"/><path d="M368 89.3L366.4 88.9L324.7 127L320.8 132.6Z" fill="#e8f000" stroke="#e8f000" stroke-width="0.3"/><path d="M369.6 89.6L368 89.3L320.8 132.6L316.8 138.5Z" fill="#60f000" stroke="#60f000" stroke-width="0.3"/><path d="M373.3 90.5L369.6 89.6L316.8 138.5L307.1 152.4Z" fill="#ff0000" stroke="#ff0000" stroke-width="0.3"/><path d="M306 154.1L307.3 154.5L374.9 90.9L373.3 90.5L307.1 152.4Z" fill="#f4f000" stroke="#f4f000" stroke-width="0.3"/><path d="M307.3 154.5L309.2 155.1L376.5 91.3L374.9 90.9Z" fill="#6cf000" stroke="#6cf000" stroke-width="0.3"/><path d="M309.2 155.1L311 155.6L378.1 91.6L376.5 91.3Z" fill="#e8f000" stroke="#e8f000" stroke-width="0.3"/><path d="M311 155.6L312.9 156.2L379.7 92L378.1 91.6Z" fill="#60f000" stroke="#60f000" stroke-width="0.3"/><path d="M312.9 156.2L317.1 157.5L383.4 92.9L379.7 92Z" fill="#ff0000" stroke="#ff0000" stroke-width="0.3"/><path d="M317.1 157.5L319 158L385.1 93.3L383.4 92.9Z" fill="#f4f000" stroke="#f4f000" stroke-width="0.3"/><path d="M319 158L320.9 158.6L386.7 93.7L385.1 93.3Z" fill="#6cf000" stroke="#6cf000" stroke-width="0.3"/><path d="M320.9 158.6L322.8 159.2L388.3 94L386.7 93.7Z" fill="#e8f000" stroke="#e8f000" stroke-width="0.3"/><path d="M322.8 159.2L324.7 159.8L390 94.4L388.3 94Z" fill="#60f000" stroke="#60f000" stroke-width="0.3"/><path d="M324.7 159.8L329 161L393.7 95.3L390 94.4Z" fill="#ff0000" stroke="#ff0000" stroke-width="0.3"/><path d="M329 161L330.9 161.6L395.4 95.7L393.7 95.3Z" fill="#f4f000" stroke="#f4f000" stroke-width="0.3"/><path d="M330.9 161.6L332.8 162.2L397.1 96.1L395.4 95.7Z" fill="#6cf000" stroke="#6cf000" stroke-width="0.3"/><path d="M332.8 162.2L334.8 162.8L398.7 96.5L397.1 96.1Z" fill="#e8f000" stroke="#e8f000" stroke-width="0.3"/><path d="M334.8 162.8L336.7 163.4L400.4 96.9L398.7 96.5Z" fill="#60f000" stroke="#60f000" stroke-width="0.3"/><path d="M336.7 163.4L341.1 164.7L404.2 97.8L400.4 96.9Z" fill="#ff0000" stroke="#ff0000" stroke-width="0.3"/><path d="M341.1 164.7L343 165.3L405.9 98.2L404.2 97.8Z" fill="#f4f000" stroke="#f4f000" stroke-width="0.3"/><path d="M343 165.3L345 165.9L407.6 98.6L405.9 98.2Z" fill="#6cf000" stroke="#6cf000" stroke-width="0.3"/><path d="M345 165.9L347 166.5L409.3 99L407.6 98.6Z" fill="#e8f000" stroke="#e8f000" stroke-width="0.3"/><path d="M347 166.5L348.9 167L411 99.4L409.3 99Z" fill="#60f000" stroke="#60f000" stroke-width="0.3"/><path d="M348.9 167L353.4 168.4L414.9 100.3L411 99.4Z" fill="#ff0000" stroke="#ff0000" stroke-width="0.3"/><path d="M353.4 168.4L355.4 169L416.6 100.7L414.9 100.3Z" fill="#f4f000" stroke="#f4f000" stroke-width="0.3"/><path d="M355.4 169L357.4 169.6L418.3 101.1L416.6 100.7Z" fill="#6cf000" stroke="#6cf000" stroke-width="0.3"/><path d="M357.4 169.6L359.4 170.2L420 101.5L418.3 101.1Z" fill="#e8f000" stroke="#e8f000" stroke-width="0.3"/><path d="M359.4 170.2L361.4 170.8L421.8 101.9L420 101.5Z" fill="#60f000" stroke="#60f000" stroke-width="0.3"/><path d="M361.4 170.8L366 172.2L425.7 102.9L421.8 101.9Z" fill="#ff0000" stroke="#ff0000" stroke-width="0.3"/><path d="M366 172.2L368 172.8L427.4 103.3L425.7 102.9Z" fill="#f4f000" stroke="#f4f000" stroke-width="0.3"/><path d="M368 172.8L370.1 173.4L429.2 103.7L427.4 103.3Z" fill="#6cf000" stroke="#6cf000" stroke-width="0.3"/><path d="M370.1 173.4L372.1 174L430.9 104.1L429.2 103.7Z" fill="#e8f000" stroke="#e8f000" stroke-width="0.3"/><path d="M372.1 174L374.2 174.6L432.7 104.5L430.9 104.1Z" fill="#60f000" stroke="#60f000" stroke-width="0.3"/><path d="M374.2 174.6L378.8 176L436.7 105.4L432.7 104.5Z" fill="#ff0000" stroke="#ff0000" stroke-width="0.3"/><path d="M378.8 176L380.9 176.7L438.4 105.9L436.7 105.4Z" fill="#f4f000" stroke="#f4f000" stroke-width="0.3"/><path d="M380.9 176.7L383 177.3L440.2 106.3L438.4 105.9Z" fill="#6cf000" stroke="#6cf000" stroke-width="0.3"/><path d="M383 177.3L385.1 177.9L442 106.7L440.2 106.3Z" fill="#e8f000" stroke="#e8f000" stroke-width="0.3"/><path d="M385.1 177.9L387.2 178.5L443.8 107.1L442 106.7Z" fill="#60f000" stroke="#60f000" stroke-width="0.3"/><path d="M387.2 178.5L391.9 180L446.8 109.4L447.3 108L443.8 107.1Z" fill="#ff0000" stroke="#ff0000" stroke-width="0.3"/><path d="M391.9 180L394 180.6L445 114.5L446.8 109.4Z" fill="#f4f000" stroke="#f4f000" stroke-width="0.3"/><path d="M394 180.6L396.1 181.2L443.1 119.8L445 114.5Z" fill="#6cf000" stroke="#6cf000" stroke-width="0.3"/><path d="M396.1 181.2L398.3 181.9L441.2 125.2L443.1 119.8Z" fill="#e8f000" stroke="#e8f000" stroke-width="0.3"/><path d="M398.3 181.9L400.4 182.5L439.3 130.9L441.2 125.2Z" fill="#60f000" stroke="#60f000" stroke-width="0.3"/><path d="M400.4 182.5L405.2 184L434.6 144.2L439.3 130.9Z" fill="#ff0000" stroke="#ff0000" stroke-width="0.3"/><path d="M405.2 184L407.4 184.6L432.4 150.5L434.6 144.2Z" fill="#f4f000" stroke="#f4f000" stroke-width="0.3"/><path d="M407.4 184.6L409.6 185.3L430.1 156.9L432.4 150.5Z" fill="#6cf000" stroke="#6cf000" stroke-width="0.3"/><path d="M409.6 185.3L411.7 185.9L427.7 163.7L430.1 156.9Z" fill="#e8f000" stroke="#e8f000" stroke-width="0.3"/><path d="M411.7 185.9L413.9 186.6L425.3 170.6L427.7 163.7Z" fill="#60f000" stroke="#60f000" stroke-width="0.3"/><path d="M413.9 186.6L418.9 188.1L419.4 187.3L425.3 170.6Z" fill="#ff0000" stroke="#ff0000" stroke-width="0.3"/><path d="M418.9 188.1L419.1 188.1L419.4 187.3Z" fill="#f4f000" stroke="#f4f000" stroke-width="0.3"/><path d="M360 170.4L398.6 96.5" stroke="#fff" stroke-width="1.8"/><defs><linearGradient id="sb1" x1="0" y1="1" x2="0" y2="0"><stop offset="0" stop-color="#fd0"/><stop offset="0.5" stop-color="#2f0"/><stop offset="1" stop-color="#0ff"/></linearGradient><linearGradient id="sb2" x1="0" y1="1" x2="0" y2="0"><stop offset="0" stop-color="#fc0"/><stop offset="0.5" stop-color="#2f0"/><stop offset="1" stop-color="#0fb"/></linearGradient><linearGradient id="sb3" x1="0" y1="1" x2="0" y2="0"><stop offset="0" stop-color="#760"/><stop offset="0.5" stop-color="#480"/><stop offset="1" stop-color="#180"/></linearGradient><linearGradient id="sb4" x1="0" y1="1" x2="0" y2="0"><stop offset="0" stop-color="#fc0"/><stop offset="0.5" stop-color="#bf0"/><stop offset="1" stop-color="#2f0"/></linearGradient><linearGradient id="sb5" x1="0" y1="1" x2="0" y2="0"><stop offset="0" stop-color="#680"/><stop offset="0.5" stop-color="#380"/><stop offset="1" stop-color="#082"/></linearGradient><linearGradient id="sb6" x1="0" y1="1" x2="0" y2="0"><stop offset="0" stop-color="#ef0"/><stop offset="0.5" stop-color="#6f0"/><stop offset="1" stop-color="#0f3"/></linearGradient><linearGradient id="sb7" x1="0" y1="1" x2="0" y2="0"><stop offset="0" stop-color="#760"/><stop offset="0.5" stop-color="#082"/><stop offset="1" stop-color="#04f"/></linearGradient><linearGradient id="sb8" x1="0" y1="1" x2="0" y2="0"><stop offset="0" stop-color="#fc0"/><stop offset="0.5" stop-color="#0f2"/><stop offset="1" stop-color="#07c"/></linearGradient><linearGradient id="sb9" x1="0" y1="1" x2="0" y2="0"><stop offset="0" stop-color="#480"/><stop offset="0.5" stop-color="#082"/><stop offset="1" stop-color="#08e"/></linearGradient><linearGradient id="sb10" x1="0" y1="1" x2="0" y2="0"><stop offset="0" stop-color="#bf0"/><stop offset="0.5" stop-color="#0f2"/><stop offset="1" stop-color="#0fb"/></linearGradient><linearGradient id="sb11" x1="0" y1="1" x2="0" y2="0"><stop offset="0" stop-color="#6f0"/><stop offset="0.5" stop-color="#0f8"/><stop offset="1" stop-color="#0df"/></linearGradient><linearGradient id="sb12" x1="0" y1="1" x2="0" y2="0"><stop offset="0" stop-color="#6f0"/><stop offset="0.5" stop-color="#0f5"/><stop offset="1" stop-color="#0bc"/></linearGradient><linearGradient id="sb13" x1="0" y1="1" x2="0" y2="0"><stop offset="0" stop-color="#740"/><stop offset="0.5" stop-color="#680"/><stop offset="1" stop-color="#380"/></linearGradient><linearGradient id="sb14" x1="0" y1="1" x2="0" y2="0"><stop offset="0" stop-color="#f80"/><stop offset="0.5" stop-color="#ff0"/><stop offset="1" stop-color="#6f0"/></linearGradient><linearGradient id="sb15" x1="0" y1="1" x2="0" y2="0"><stop offset="0" stop-color="#f00"/><stop offset="0.5" stop-color="#f90"/><stop offset="1" stop-color="#ef0"/></linearGradient><linearGradient id="sb16" x1="0" y1="1" x2="0" y2="0"><stop offset="0" stop-color="#f00"/><stop offset="0.5" stop-color="#f80"/><stop offset="1" stop-color="#ff0"/></linearGradient><linearGradient id="sb17" x1="0" y1="1" x2="0" y2="0"><stop offset="0" stop-color="#680"/><stop offset="0.5" stop-color="#086"/><stop offset="1" stop-color="#02f"/></linearGradient><linearGradient id="sb18" x1="0" y1="1" x2="0" y2="0"><stop offset="0" stop-color="#ef0"/><stop offset="0.5" stop-color="#0f8"/><stop offset="1" stop-color="#04f"/></linearGradient><linearGradient id="sb19" x1="0" y1="1" x2="0" y2="0"><stop offset="0" stop-color="#760"/><stop offset="0.5" stop-color="#180"/><stop offset="1" stop-color="#08e"/></linearGradient><linearGradient id="sb20" x1="0" y1="1" x2="0" y2="0"><stop offset="0" stop-color="#760"/><stop offset="0.5" stop-color="#08a"/><stop offset="1" stop-color="#40f"/></linearGradient><linearGradient id="sb21" x1="0" y1="1" x2="0" y2="0"><stop offset="0" stop-color="#fc0"/><stop offset="0.5" stop-color="#0f8"/><stop offset="1" stop-color="#a0c"/></linearGradient><linearGradient id="sb22" x1="0" y1="1" x2="0" y2="0"><stop offset="0" stop-color="#fd0"/><stop offset="0.5" stop-color="#af0"/><stop offset="1" stop-color="#2f0"/></linearGradient><linearGradient id="sb23" x1="0" y1="1" x2="0" y2="0"><stop offset="0" stop-color="#740"/><stop offset="0.5" stop-color="#180"/><stop offset="1" stop-color="#06f"/></linearGradient><linearGradient id="sb24" x1="0" y1="1" x2="0" y2="0"><stop offset="0" stop-color="#f80"/><stop offset="0.5" stop-color="#2f0"/><stop offset="1" stop-color="#0bc"/></linearGradient><linearGradient id="sb25" x1="0" y1="1" x2="0" y2="0"><stop offset="0" stop-color="#760"/><stop offset="0.5" stop-color="#380"/><stop offset="1" stop-color="#086"/></linearGradient><linearGradient id="sb26" x1="0" y1="1" x2="0" y2="0"><stop offset="0" stop-color="#fc0"/><stop offset="0.5" stop-color="#6f0"/><stop offset="1" stop-color="#0f5"/></linearGradient><linearGradient id="sb27" x1="0" y1="1" x2="0" y2="0"><stop offset="0" stop-color="#fd0"/><stop offset="0.5" stop-color="#6f0"/><stop offset="1" stop-color="#0f8"/></linearGradient><linearGradient id="sb28" x1="0" y1="1" x2="0" y2="0"><stop offset="0" stop-color="#720"/><stop offset="0.5" stop-color="#680"/><stop offset="1" stop-color="#180"/></linearGradient><linearGradient id="sb29" x1="0" y1="1" x2="0" y2="0"><stop offset="0" stop-color="#f40"/><stop offset="0.5" stop-color="#ff0"/><stop offset="1" stop-color="#2f0"/></linearGradient><linearGradient id="sb30" x1="0" y1="1" x2="0" y2="0"><stop offset="0" stop-color="#720"/><stop offset="0.5" stop-color="#740"/><stop offset="1" stop-color="#760"/></linearGradient><linearGradient id="sb31" x1="0" y1="1" x2="0" y2="0"><stop offset="0" stop-color="#f40"/><stop offset="0.5" stop-color="#f90"/><stop offset="1" stop-color="#fd0"/></linearGradient><linearGradient id="sb32" x1="0" y1="1" x2="0" y2="0"><stop offset="0" stop-color="#f40"/><stop offset="0.5" stop-color="#f80"/><stop offset="1" stop-color="#fc0"/></linearGradient><linearGradient id="sb33" x1="0" y1="1" x2="0" y2="0"><stop offset="0" stop-color="#680"/><stop offset="0.5" stop-color="#480"/><stop offset="1" stop-color="#380"/></linearGradient><linearGradient id="sb34" x1="0" y1="1" x2="0" y2="0"><stop offset="0" stop-color="#ef0"/><stop offset="0.5" stop-color="#af0"/><stop offset="1" stop-color="#6f0"/></linearGradient><linearGradient id="sb35" x1="0" y1="1" x2="0" y2="0"><stop offset="0" stop-color="#ff0"/><stop offset="0.5" stop-color="#bf0"/><stop offset="1" stop-color="#6f0"/></linearGradient><linearGradient id="sb36" x1="0" y1="1" x2="0" y2="0"><stop offset="0" stop-color="#480"/><stop offset="0.5" stop-color="#180"/><stop offset="1" stop-color="#086"/></linearGradient><linearGradient id="sb37" x1="0" y1="1" x2="0" y2="0"><stop offset="0" stop-color="#bf0"/><stop offset="0.5" stop-color="#2f0"/><stop offset="1" stop-color="#0f5"/></linearGradient><linearGradient id="sb38" x1="0" y1="1" x2="0" y2="0"><stop offset="0" stop-color="#f90"/><stop offset="0.5" stop-color="#ef0"/><stop offset="1" stop-color="#6f0"/></linearGradient><linearGradient id="sb39" x1="0" y1="1" x2="0" y2="0"><stop offset="0" stop-color="#740"/><stop offset="0.5" stop-color="#480"/><stop offset="1" stop-color="#082"/></linearGradient><linearGradient id="sb40" x1="0" y1="1" x2="0" y2="0"><stop offset="0" stop-color="#f80"/><stop offset="0.5" stop-color="#bf0"/><stop offset="1" stop-color="#0f2"/></linearGradient><linearGradient id="sb41" x1="0" y1="1" x2="0" y2="0"><stop offset="0" stop-color="#af0"/><stop offset="0.5" stop-color="#0f3"/><stop offset="1" stop-color="#0ff"/></linearGradient><linearGradient id="sb42" x1="0" y1="1" x2="0" y2="0"><stop offset="0" stop-color="#480"/><stop offset="0.5" stop-color="#380"/><stop offset="1" stop-color="#180"/></linearGradient><linearGradient id="sb43" x1="0" y1="1" x2="0" y2="0"><stop offset="0" stop-color="#bf0"/><stop offset="0.5" stop-color="#6f0"/><stop offset="1" stop-color="#2f0"/></linearGradient><linearGradient id="sb44" x1="0" y1="1" x2="0" y2="0"><stop offset="0" stop-color="#ff0"/><stop offset="0.5" stop-color="#6f0"/><stop offset="1" stop-color="#0f2"/></linearGradient><linearGradient id="sb45" x1="0" y1="1" x2="0" y2="0"><stop offset="0" stop-color="#f40"/><stop offset="0.5" stop-color="#ef0"/><stop offset="1" stop-color="#2f0"/></linearGradient><linearGradient id="sb46" x1="0" y1="1" x2="0" y2="0"><stop offset="0" stop-color="#f90"/><stop offset="0.5" stop-color="#af0"/><stop offset="1" stop-color="#0f3"/></linearGradient><linearGradient id="sb47" x1="0" y1="1" x2="0" y2="0"><stop offset="0" stop-color="#680"/><stop offset="0.5" stop-color="#180"/><stop offset="1" stop-color="#08a"/></linearGradient><linearGradient id="sb48" x1="0" y1="1" x2="0" y2="0"><stop offset="0" stop-color="#ff0"/><stop offset="0.5" stop-color="#2f0"/><stop offset="1" stop-color="#0f8"/></linearGradient><linearGradient id="sb49" x1="0" y1="1" x2="0" y2="0"><stop offset="0" stop-color="#ef0"/><stop offset="0.5" stop-color="#2f0"/><stop offset="1" stop-color="#0fe"/></linearGradient><linearGradient id="sb50" x1="0" y1="1" x2="0" y2="0"><stop offset="0" stop-color="#740"/><stop offset="0.5" stop-color="#760"/><stop offset="1" stop-color="#680"/></linearGradient><linearGradient id="sb51" x1="0" y1="1" x2="0" y2="0"><stop offset="0" stop-color="#f80"/><stop offset="0.5" stop-color="#fc0"/><stop offset="1" stop-color="#ff0"/></linearGradient><linearGradient id="sb52" x1="0" y1="1" x2="0" y2="0"><stop offset="0" stop-color="#720"/><stop offset="0.5" stop-color="#760"/><stop offset="1" stop-color="#480"/></linearGradient><linearGradient id="sb53" x1="0" y1="1" x2="0" y2="0"><stop offset="0" stop-color="#f40"/><stop offset="0.5" stop-color="#fc0"/><stop offset="1" stop-color="#bf0"/></linearGradient><linearGradient id="sb54" x1="0" y1="1" x2="0" y2="0"><stop offset="0" stop-color="#fd0"/><stop offset="0.5" stop-color="#ef0"/><stop offset="1" stop-color="#af0"/></linearGradient><linearGradient id="sb55" x1="0" y1="1" x2="0" y2="0"><stop offset="0" stop-color="#fc0"/><stop offset="0.5" stop-color="#ff0"/><stop offset="1" stop-color="#bf0"/></linearGradient><linearGradient id="sb56" x1="0" y1="1" x2="0" y2="0"><stop offset="0" stop-color="#af0"/><stop offset="0.5" stop-color="#2f0"/><stop offset="1" stop-color="#0f8"/></linearGradient><linearGradient id="sb57" x1="0" y1="1" x2="0" y2="0"><stop offset="0" stop-color="#f40"/><stop offset="0.5" stop-color="#fd0"/><stop offset="1" stop-color="#af0"/></linearGradient><linearGradient id="sb58" x1="0" y1="1" x2="0" y2="0"><stop offset="0" stop-color="#760"/><stop offset="0.5" stop-color="#680"/><stop offset="1" stop-color="#480"/></linearGradient><linearGradient id="sb59" x1="0" y1="1" x2="0" y2="0"><stop offset="0" stop-color="#6f0"/><stop offset="0.5" stop-color="#0f3"/><stop offset="1" stop-color="#0fe"/></linearGradient><linearGradient id="sb60" x1="0" y1="1" x2="0" y2="0"><stop offset="0" stop-color="#6f0"/><stop offset="0.5" stop-color="#0f2"/><stop offset="1" stop-color="#0f8"/></linearGradient><linearGradient id="sb61" x1="0" y1="1" x2="0" y2="0"><stop offset="0" stop-color="#700"/><stop offset="0.5" stop-color="#760"/><stop offset="1" stop-color="#380"/></linearGradient><linearGradient id="sb62" x1="0" y1="1" x2="0" y2="0"><stop offset="0" stop-color="#f00"/><stop offset="0.5" stop-color="#fc0"/><stop offset="1" stop-color="#6f0"/></linearGradient><linearGradient id="sb63" x1="0" y1="1" x2="0" y2="0"><stop offset="0" stop-color="#f00"/><stop offset="0.5" stop-color="#fd0"/><stop offset="1" stop-color="#6f0"/></linearGradient><linearGradient id="sb64" x1="0" y1="1" x2="0" y2="0"><stop offset="0" stop-color="#740"/><stop offset="0.5" stop-color="#380"/><stop offset="1" stop-color="#08a"/></linearGradient><linearGradient id="sb65" x1="0" y1="1" x2="0" y2="0"><stop offset="0" stop-color="#f80"/><stop offset="0.5" stop-color="#6f0"/><stop offset="1" stop-color="#0f8"/></linearGradient><linearGradient id="sb66" x1="0" y1="1" x2="0" y2="0"><stop offset="0" stop-color="#480"/><stop offset="0.5" stop-color="#086"/><stop offset="1" stop-color="#04f"/></linearGradient><linearGradient id="sb67" x1="0" y1="1" x2="0" y2="0"><stop offset="0" stop-color="#bf0"/><stop offset="0.5" stop-color="#0f5"/><stop offset="1" stop-color="#07c"/></linearGradient><linearGradient id="sb68" x1="0" y1="1" x2="0" y2="0"><stop offset="0" stop-color="#720"/><stop offset="0.5" stop-color="#480"/><stop offset="1" stop-color="#086"/></linearGradient><linearGradient id="sb69" x1="0" y1="1" x2="0" y2="0"><stop offset="0" stop-color="#f40"/><stop offset="0.5" stop-color="#bf0"/><stop offset="1" stop-color="#0f5"/></linearGradient><linearGradient id="sb70" x1="0" y1="1" x2="0" y2="0"><stop offset="0" stop-color="#ef0"/><stop offset="0.5" stop-color="#0f3"/><stop offset="1" stop-color="#0df"/></linearGradient><linearGradient id="sb71" x1="0" y1="1" x2="0" y2="0"><stop offset="0" stop-color="#ff0"/><stop offset="0.5" stop-color="#0f2"/><stop offset="1" stop-color="#0bc"/></linearGradient><linearGradient id="sb72" x1="0" y1="1" x2="0" y2="0"><stop offset="0" stop-color="#f40"/><stop offset="0.5" stop-color="#af0"/><stop offset="1" stop-color="#0f8"/></linearGradient><style>.esb{stroke:#f03cf0;stroke-width:1.0;fill:none}.msb{stroke:#f03cf0;stroke-width:0.7;fill:none}.rsb{stroke:#2ee82e;stroke-width:1.7;stroke-linecap:round;fill:none}</style></defs><path d="M365.7 79.4l.4-.2 1.6-7.3-.5-3.2z" fill="#f50"/><path d="M366 79.2l2.1-4.9 1.8-.1-2.3-2.3z" fill="#730"/><path d="M355.9 65.8l2.4 4.7 1.9-1.7-2.4-5.8z" fill="#f90"/><path d="M358 70.5l1.9-8.9 2.2 11.3-2.3-4z" fill="#d50"/><path d="M363.8 78.7l.5-2 2.2 2.3-.5.4z" fill="#e30"/><path d="M367.7 74.9l2.2-3.8 1.8 0-2.2 3.6z" fill="#d40"/><path d="M354 64.3l2.2 2.1 2-2.9-2.5-7.2z" fill="#fe0"/><path d="M354.4 71.9l2.4 4.4 1.8-6.2-2.4-4.4zM363.7 61.7l2.1 17.8 1.6-10.2-2-9.5z" fill="#f90"/><path d="M352.5 70.7l2.2 1.4 1.7-6.4-2.2-2z" fill="#fc0"/><path d="M350.6 69.3l2.1 1.4 1.7-7-2.2-1.8z" fill="#fd0"/><path class="msb" d="M368 74.6l1.6-.3M356.2 66l1.6-2.7M354.7 71.8l1.5-5.8"/><path class="rsb" d="M367.2 69.1l.4 3.2M367.6 72.3l2 2M357.8 63.3l2.1 5.3M359.9 68.6l2 4M369.6 74.3l1.8-3M355.7 56.6l2.1 6.7M365.4 60.1l1.8 9"/><path d="M352.1 62.6l2.1 1.8 1.7-8-2.4-5.9zM348.5 66.7l2.3 2.7 1.7-7.4-2.3-2.2z" fill="#ff0"/><path d="M383.5 86.6l2.2-9.3 1.7 2.5-2.4-1.3z" fill="#d20"/><path d="M364.2 77.2l2.1-6.7 2 4-2.2 4.7z" fill="#f50"/><path d="M353.3 76.4L354.6 77.6L354.6 65.9Z" fill="url(#sb50)"/><path d="M350.1 60.5l2.2 2.1 1.4-12.1-2.2-1.8z" fill="#bf0"/><path d="M369.6 71.7l2.2-4 1.7-.9-2.1 4.8z" fill="#d60"/><path d="M354.6 77.6L356.7 76.8L354.6 65.9Z" fill="url(#sb51)"/><path d="M352.7 75.4l2.3-.5 2 1.3-2.3-4.8z" fill="#d70"/><path d="M362.1 68.8l2 10.2 1.8.4-2.1-17.7z" fill="#f70"/><path d="M381.4 76.5l2.2 10.1 1.8-7.5-2.2-11.3z" fill="#f60"/><path class="msb" d="M354.7 71.8l2.1 4.2"/><path class="esb" d="M356.7 76.8l-2.1-10.9"/><path class="rsb" d="M353.6 50.9l2.1 5.7M348.7 66.4l1.6-6.3M385.1 78.9l2 1.1M350.3 60.1l1.3-11.1M351.6 49l2 1.9M371.4 71.3l1.9-4.2"/><path d="M359.6 62.1l2-9.8 2 6.4-1.7 14.2z" fill="#fb0"/><path d="M350.7 72.5l2.4 3.1 1.9-3.9-2.3-1.7z" fill="#fa0"/><path d="M356.7 76.3l1.4-15.6 1.9 1-1.7 8.8z" fill="#e80"/><path d="M348.6 70.2l2.4 2.7 2.1-2.6-2.4-1.6z" fill="#ea0"/><path d="M361 85.1l1.5-5.1 2-1.3-2.2-10z" fill="#f70"/><path d="M346.6 66.8l2.4 3.8 2.1-1.4-2.4-3.1z" fill="#fb0"/><path d="M379.9 84l2.3 1.8 1.6.7-2.1-10.2z" fill="#f30"/><path d="M362.3 80l.2-1.9 2.2-1.4-.2 2z" fill="#e40"/><path d="M349 70.3L350.4 68.8L347.2 46.4Z" fill="url(#sb4)"/><path d="M346.4 69.6L349 70.3L347.2 46.4Z" fill="url(#sb3)"/><path class="msb" d="M353 75.3l1.7-3.5M352.7 70.4l2 1.4M350.8 69l1.9 1.4M362.3 69.1l1.8 9.5M348.7 66.4l2.1 2.6M364.1 78.6l.4-1.6"/><path class="esb" d="M346.4 69.6l.8-23.2"/><path class="rsb" d="M383.2 68.2l1.9 10.7M361.9 72.6l1.5-13.6M346.9 67l1.8-.6"/><path d="M365.9 70.8l2.2-4.6 2.1 5.3-2.2 3.5z" fill="#e70"/><path d="M385.4 77.9l2.4-7.9 1.6 5.5-2.4 4.8z" fill="#f60"/><path d="M382 85.8l2.2-7.3 1.6-1.2-2.2 9.3zM359.2 86.4l1.6-5.5 1.8-1.5-1.5 5.7z" fill="#e30"/><path d="M371.5 68.3l2.3-3.4 1.6-3-2.1 5.6z" fill="#d70"/><path d="M361.5 52.3l2.3 10.1 1.9-2.1-2.3-1z" fill="#bb0"/><path d="M348.9 72.3l2.5 6.5 2-3.4-2.4-3.2z" fill="#f80"/><path d="M354.8 75l1.7-9.3 1.7-5-1.4 15.6z" fill="#e80"/><path d="M377.9 77.8l2.3 6.4 1.8-7.6-2.3-6.8z" fill="#f80"/><path d="M356.9 77.8l2.5 8.6 1.8-1.3-2.6-16.6z" fill="#f60"/><path d="M380.3 79L381.7 77.7L379.8 45.6Z" fill="url(#sb40)"/><path class="msb" d="M366.3 70.8l1.7 3.8M385.7 77.7l1.4 2.3M361.6 52.6l1.8 6.4M356.8 76l1.3-15"/><path class="esb" d="M381.7 77.7l-1.9-32.1"/><path class="rsb" d="M387.1 80l2-4.4M373.3 67.1l1.9-4.9M363.4 59l2 1.1"/><path d="M351.2 78.8l1.8-7.5 2.3 3.3-2.3 1z" fill="#e50"/><path d="M378.5 88.8l2.3-4.2 1.7.8-2.3-1.9z" fill="#720"/><path d="M379.4 70.4l2.3 6.6 1.8-9-2.3-8.4z" fill="#fd0"/><path d="M378.2 78.2L380.3 79L379.8 45.6Z" fill="url(#sb39)"/><path d="M372.3 65.1L372.4 66.7L373.3 33.1Z" fill="url(#sb47)"/><path d="M362.7 78.5l1.8-9.1 1.9 1.1-1.9 6.8z" fill="#e60"/><path d="M346.8 67.9l2.4 5 2.1-.1-2.3-2.9z" fill="#d90"/><path d="M360.6 81.6l.2-1.4 2.2-2.3-.2 1.7z" fill="#e40"/><path d="M376.4 81.5l2.3 7.4 1.8-4.9-2.3-6.7z" fill="#f50"/><path d="M358.3 68.7l2.8 16.4 1.5-16.1-2.7-13.4z" fill="#fc0"/><path d="M367.8 66.3l2.3-2.7 2 4.6-2.3 3.6z" fill="#e80"/><path class="msb" d="M351.4 78.5l1.6-3.2M380.2 83.8l2 1.7M364.5 77l1.8-6.2M378.2 77.7l2 6.1"/><path class="esb" d="M363.4 66.9l-2.2-11.6M375.2 66.6l-1.9-33.5"/><path class="rsb" d="M381.2 59.9l2 8.3"/><path d="M372.4 66.7L375.2 66.6L373.3 33.1Z" fill="url(#sb49)"/><path d="M373.5 65.5l2.2-1.1 1.6-6.6-2.3 4.2z" fill="#660"/><path d="M387.5 70.2l1.6-3 1.5 6.1-1.5 2.6z" fill="#e80"/><path d="M361.8 68.1L363.4 66.9L361.2 55.3Z" fill="url(#sb35)"/><path d="M357.4 73.9L358.6 75.2L357.9 41Z" fill="url(#sb25)"/><path d="M344.6 63.7l2.4 4.8 2.2 2.1-2.3-4z" fill="#640"/><path d="M359.8 67.2L361.8 68.1L361.2 55.3Z" fill="url(#sb33)"/><path d="M355.4 85.5l2.2-.1 2 .9-2.5-8.7z" fill="#f50"/><path d="M358.6 75.2L360.8 74.4L357.9 41Z" fill="url(#sb26)"/><path d="M359.8 55.7l2.5 13.7 1.7-7.1-2.4-10z" fill="#cd0"/><path d="M375.8 71.7l2.4 6.3 1.8-8-2.3-4.6z" fill="#fd0"/><path d="M347.1 74.5l2.6 8 1.9-3.8-2.5-6.5z" fill="#f80"/><path class="msb" d="M373.7 65.2l1.5-3M357.2 78l2.2 8.1M359.9 56l2.4 13.1M378.2 77.7l1.5-7.5"/><path class="esb" d="M360.8 74.4l-2.9-33.4"/><path class="rsb" d="M375.2 62.2l2-4M389.1 75.6l1.3-2.6M344.8 64l2.1 3"/><path d="M377.5 66.1l2.2 4.4 1.6-10.9-2.2-2.9z" fill="#ef0"/><path d="M358 61.4l1.9-5.8 1.8-3.3-1.8 10z" fill="#a90"/><path d="M375.5 64.4l2.2 1.7 1.6-9.4-2.2 1.1z" fill="#ae0"/><path d="M357.4 85.3l1.6-5.3 2 1-1.6 5.4zM380.5 85.2l2.3-6.1 1.6-.5-2.2 7.2z" fill="#e40"/><path d="M388.9 67.3l.9-1.1 1.5 5.9-.9 1.2z" fill="#e80"/><path d="M369.8 63.8l2.3-.3 1.9 1.7-2.3 3.2z" fill="#b70"/><path d="M352.7 71.8l2.2-2.7 1.8-3.4-1.8 9.3z" fill="#e80"/><path d="M399.6 79.1l2.3 1.2 1.6-4.6-2.3-1.2z" fill="#fb0"/><path d="M384.1 79.2l2.2-7.3 1.6-1.8-2.3 7.9z" fill="#e70"/><path class="msb" d="M349.2 72.5l2.2 6M379.7 70.2l1.5-10.3M359.9 56l1.7-3.4M359.4 86.1l1.4-4.8M382.2 85.5l2-6.6"/><path class="rsb" d="M379.2 57l2 2.9M377.2 58.2l2-1.2M390.4 73l.7-1.3M401.2 74.9l2 1"/><path d="M397.5 76.3l2.4 3 1.6-4.6-2.3-2.4z" fill="#fc0"/><path d="M374.9 83.6l2.3 6.4 1.7-1.2-2.2-7.5z" fill="#f40"/><path d="M405.6 81.9l2.3 3.5 1.7-4.1-2.3-4.5z" fill="#f80"/><path d="M401.6 80.2l2.4.4 1.5-4.7-2.3-.3z" fill="#c90"/><path d="M361 80.4l1.9-7.1 1.7-3.9-1.8 9.1z" fill="#e60"/><path d="M373.8 66.5l2.4 5.5 1.8-6.4-2.4-1.8z" fill="#ff0"/><path d="M374.4 73.5l2.3 8.5 1.8-4.1-2.3-6.6z" fill="#f90"/><path d="M356.4 66.4l2.2 2.8 1.4-13.6-1.9 5.1z" fill="#7a0"/><path d="M354.6 69.3l2.6 9 1.7-9.7-2.4-2.9z" fill="#fe0"/><path d="M377 90l2.2-8.1 1.8 2.8-2.3 4.2z" fill="#e30"/><path class="msb" d="M384.2 78.9l1.5-1.2M376.7 81.7l1.5-4M376.2 71.6l2 6.1M358.6 68.8l1.3-12.8M358.1 61l1.8-5M357.2 78l1.4-9.2"/><path class="rsb" d="M399.2 72.7l2 2.2M407.3 77.2l1.9 4.1M403.2 75.9l2.1.3"/><path d="M403.7 80.5l2.3 1.6 1.6-5.2-2.4-1z" fill="#fb0"/><path d="M371.8 63.7l2.4 3.3 1.8-3-2.5 1.4z" fill="#9c0"/><path d="M407.7 85.3l2.8-3.6 1.1-3.7-2.7 3.1z" fill="#630"/><path d="M395.6 72l2.3 4.5 1.7-3.9-2.4-2.8z" fill="#fd0"/><path d="M389.6 66.3l2.3-.9 1.6 3.9-2.4 2.8z" fill="#c80"/><path d="M349.6 82.5l1.3-16.2 2.3 5-1.8 7.5z" fill="#f80"/><path d="M344.9 71.4l2.5 3.7 2.1-2.4-2.5-4.9z" fill="#fd0"/><path d="M401.7 80L402.9 81.4L404.4 52.8Z" fill="url(#sb39)"/><path d="M364.4 70l1.9-9.5 2.2 5.9-2.3 4.8z" fill="#ea0"/><path d="M358.7 80.4l.5-1.4 2.3 1-.5 1.6z" fill="#e50"/><path d="M393.7 67.8l2.2 4.6 1.7-2.2-2.5-1.9z" fill="#ed0"/><path class="msb" d="M403.9 80.3l1.4-4.1M372.1 63.9l1.6 1.3M397.9 76.2l1.3-3.5M349.7 82.1l1.7-3.6M351.4 78.5l1.6-6.9M347 68.2l2.2 4.3M364.5 69.7l1.8 1.1M366.3 70.8l1.8-4.3M360.8 81.3l.3-1.2"/><path class="esb" d="M405.2 80.7l-.8-27.9"/><path class="rsb" d="M405.3 76.2l2 1M409.2 81.3l2.2-3M397.3 70.1l1.9 2.6M391.1 71.7l2.1-2.5"/><path d="M354 91l1.6-10.2 2.3 4.2-2.3-.1z" fill="#e30"/><path d="M402.9 81.4L405.2 80.7L404.4 52.8Z" fill="url(#sb40)"/><path d="M345.7 82.6l1.9-4.2 2.3 4-2.5-8z" fill="#fa0"/><path d="M343.1 71.6l2.2.2 2-3.7-2.5-4.5z" fill="#ff0"/><path d="M391.7 65.5l2.5 2.6 1.4.7-2.5.7z" fill="#750"/><path d="M352.9 69.8l2.8 15.8 1.7-7.4-2.5-9.1z" fill="#f90"/><path d="M404.3 85.9l2.4 1.4 1.5-2.3-2.3-3.6z" fill="#f70"/><path d="M343.4 78.4l2.5 4.2 1.7-8.1-2.4-3.4z" fill="#fc0"/><path d="M398.8 80L400.7 78.8L399.9 35.1Z" fill="url(#sb2)"/><path d="M396.7 78.8L398.8 80L399.9 35.1Z" fill="url(#sb19)"/><path class="msb" d="M344.8 64l2.2 4.2M391.9 65.8l1.3 3.4M355.7 85.3l1.5-7.3M354.9 69.5l2.3 8.5"/><path class="esb" d="M400.7 78.8l-.8-43.7M355.2 90.3l-3.2-33.8"/><path class="rsb" d="M395.2 68.7l2.1 1.4M343.3 71.3l1.5-7.3M393.2 69.2l2-.5"/><path d="M351.8 89.7L352.9 91.1L352 56.5Z" fill="url(#sb28)"/><path d="M344.3 69.9L344.8 71.6L345.2 55Z" fill="url(#sb5)"/><path d="M409.9 82l2.6-2.1 1.3-3.7-2.6 1.8z" fill="#640"/><path d="M361 55.4L361.9 54L359.7 36.7Z" fill="url(#sb60)"/><path d="M341.5 77.5l2.2 1 1.7-7.4-2.1-.1z" fill="#dd0"/><path d="M402.3 82l2.3 4.1 1.7-4.5-2.4-1.7z" fill="#f90"/><path d="M398.3 77.7l2.5 2.6 1.4-.2-2.7-1.4z" fill="#a70"/><path d="M352.9 91.1L355.2 90.3L352 56.5Z" fill="url(#sb29)"/><path d="M406.4 87.2l2.5-.7 1.4-5.1-2.8 3.7z" fill="#630"/><path d="M400.3 79.8l2.4 2.6 1.6-2.2-2.6-.6z" fill="#b80"/><path d="M372.3 65.3l2.3 8.9 1.8-2.3-2.3-5.6z" fill="#fc0"/><path d="M382.6 79.8l2.3-4.8 1.5-3.1-2.2 7.3z" fill="#e60"/><path d="M341.6 82.9l2.7 6.5 1.9-7.2-2.5-4.4z" fill="#f80"/><path class="msb" d="M410.1 81.7l1.3-3.4M402.6 82l1.3-1.7M374.1 66.6l2.1 5M382.7 79.5l1.5-.6M384.2 78.9l2.1-6.7"/><path class="esb" d="M412.3 81.4l-1.1-15.3M412 82.3l-.6-26.8M358.6 54.9l1.1-18.2"/><path class="rsb" d="M411.4 78.3l2.2-1.8M341.7 77.2l1.6-5.9"/><path d="M408.7 81.1L410.3 82.3L411.2 66.1Z" fill="url(#sb13)"/><path d="M372.9 73.7l2.3 10.5 1.7-2.2-2.3-8.5z" fill="#f90"/><path d="M386.1 72.5l1.5-4.4 1.7-.8-1.5 3.4z" fill="#d80"/><path d="M430.3 93.7l2.4 2.3 1.2-2.3-1.9-6.5z" fill="#f30"/><path d="M358.6 54.9L361 55.4L359.7 36.7Z" fill="url(#sb59)"/><path d="M396.4 74.3l2.3 3.9 1.4 1-2.4-3.3z" fill="#c80"/><path d="M373.4 89.5l2.3-3.5 1.7 4-2.3-6.5z" fill="#c50"/><path d="M410.3 82.3L412.3 81.4L411.2 66.1Z" fill="url(#sb14)"/><path d="M359.2 79.6l2-5.1 1.9-1.2-2 7.1z" fill="#e70"/><path d="M344.8 71.6L347.8 71.2L345.2 55Z" fill="url(#sb6)"/><path class="msb" d="M343.7 78.2l2.2 4.1M375.1 83.8l1.6-2.1M375.1 83.8l2.1 5.9M361.1 80.1l1.8-6.5"/><path class="esb" d="M352.4 69.2l.4-29.7M347.8 71.2l-2.6-16.2"/><path class="rsb" d="M432 87.5l1.7 6"/><path d="M432.7 94.6L432.2 93L432 83.8Z" fill="url(#sb32)"/><path d="M351.2 74.1l2.9 16.9 1.7-5.4-2.8-15.8z" fill="#f80"/><path d="M429.7 93.1L430.1 94.7L432 83.8Z" fill="url(#sb30)"/><path d="M410.5 83.5L412 82.3L411.4 55.5Z" fill="url(#sb40)"/><path d="M408.4 82.5L410.5 83.5L411.4 55.5Z" fill="url(#sb39)"/><path d="M352.4 69.2L353.4 70.6L352.8 39.5Z" fill="url(#sb47)"/><path d="M429.6 94.1L431.4 95.4L433.5 68.3Z" fill="url(#sb28)"/><path d="M344.2 89.4l1.6-8 1.9-3-1.9 3.5z" fill="#630"/><path d="M412.1 79.9l1.5-1.3 1.4-2.2-1.4-.3z" fill="#760"/><path d="M378.9 82.4l2.4-5 1.7 1.8-2.3 6z" fill="#e60"/><path class="msb" d="M354.1 90.7l1.6-5.4M345.9 82.3l1.7-3.5"/><path class="esb" d="M433.2 94.4l.3-26.1"/><path class="rsb" d="M413.6 76.5l1.2.1"/><path d="M431.4 95.4L433.2 94.4L433.5 68.3Z" fill="url(#sb29)"/><path d="M408.4 87.8L409.5 86.3L408.7 65Z" fill="url(#sb14)"/><path d="M339.5 79.5l2.5 3.8 2-5.3-2.3-1.2z" fill="#fc0"/><path d="M353.4 70.6L355.8 69.9L352.8 39.5Z" fill="url(#sb48)"/><path d="M350.7 66.4l2.4 4.1 2.1-1-2.2 2.5z" fill="#860"/><path d="M404.7 87.2L405.8 88.9L407.7 60.3Z" fill="url(#sb39)"/><path d="M432.5 95.9l2.9-6.2 1-1.4-2.9 5.5z" fill="#e20"/><path d="M430.1 94.7L432.7 94.6L432 83.8Z" fill="url(#sb31)"/><path d="M394.4 69.3l2.3 5.6 1.3 1.6-2.2-4.7z" fill="#da0"/><path d="M366 60.7l2.3-4.9 2 8.4-2.2 2.7z" fill="#9a0"/><path d="M406 87L408.4 87.8L408.7 65Z" fill="url(#sb13)"/><path class="msb" d="M341.7 77.2l2 1M353 71.6l1.9-2.1M396.6 74.5l1.3 1.7M368.1 66.5l2-2.5"/><path class="esb" d="M406 87l2.7-22M432.7 94.6l-.7-10.8M408.4 88.3l-.7-28"/><path class="rsb" d="M339.8 79.5l1.9-2.3M433.7 93.5l2.5-4.9"/><path d="M413.3 78.5l1.2-1.8 1.5.3-1.2-.7z" fill="#a40"/><path d="M408.6 86.5l2.4-.7 1.5-6.5-2.5 2z" fill="#750"/><path d="M403 91.3l2.5-2.1 1.4-2.5-2.4-1.3z" fill="#840"/><path d="M362.8 73.9l2.1-6.6 1.5-6.8-1.9 9.6zM387.4 68.7l.8-2.3 1.9 0-.7 1.4z" fill="#b80"/><path d="M355.3 81.2l1.7-5.6 2.4 4.7-1.8 5.1z" fill="#f70"/><path d="M428.5 88.8l2.1 5.1 1.7-6.5-2.1-5.4z" fill="#f60"/><path d="M349.8 87.5l2.4 2.4 2 1.1-2.9-16.9z" fill="#f70"/><path d="M405.8 88.9L408.4 88.3L407.7 60.3Z" fill="url(#sb46)"/><path d="M347.5 79.1l1.6-9.4 1.9-3.3-1.3 16.1zM371.2 83.5l2.4 6.1 1.8-5.6-2.4-10.3z" fill="#f90"/><path class="msb" d="M408.8 86.2l1.3-4.5M404.6 85.7l2 1.2M362.9 73.6l1.6-3.9M351.4 74.5l2.7 16.2M347.6 78.8l2.1 3.3"/><path class="esb" d="M347.7 90.7l-.6-39M353.3 69.5l-3.5-33.6"/><path class="rsb" d="M414.8 76.6l.9.5M430.2 82.4l1.8 5.1"/><path d="M339.9 87.4l2.5 2.6 2.2-.7-2.6-6.7z" fill="#f60"/><path d="M370.2 58.8l2.3 7.1 1.8 1-2.4-2.9z" fill="#9a0"/><path d="M401.1 82.9l2.1 8.4 1.7-5.5-2.3-4.1z" fill="#f70"/><path d="M349.3 69.3L351.1 70.6L349.8 35.9Z" fill="url(#sb47)"/><path d="M414.2 77.1l2.8-3.2 1 4.4-2.6-1z" fill="#b60"/><path d="M351.1 70.6L353.3 69.5L349.8 35.9Z" fill="url(#sb48)"/><path d="M369.6 90.2l2.5 5.5 1.9-6.5-2.5-6.2z" fill="#f60"/><path d="M347.7 90.7L347.8 92.4L347.1 51.7Z" fill="url(#sb68)"/><path d="M405.1 89.1l2.5 0 1.4-3.2-2.5.7z" fill="#840"/><path d="M352 89.8l1.7-9.7 2.1.7-1.7 10.2z" fill="#f50"/><path class="msb" d="M373.6 89.3l1.5-5.5M373 74l2.1 9.8M372.1 63.9l2 2.7M402.6 82l2 3.7M406.6 86.9l2.2-.7"/><path class="esb" d="M342.1 81.2l-5.1-46.3"/><path class="rsb" d="M415.7 77.1l2 1"/><path d="M384.6 75.7l1.5-1.7 1.7-5.9-1.4 3.9z" fill="#650"/><path d="M410.8 85.8l1.3-.9 1.6-7-1.4 1.3z" fill="#750"/><path d="M368.1 55.8l2.3 2.9 1.9 5.5-2.2.1z" fill="#560"/><path d="M375.4 86.6l2.2-9.8 1.8 5.2-2.2 8z" fill="#f60"/><path d="M429.2 97.5l2.9-2.5.9.7-2.5-2.5z" fill="#820"/><path d="M388.1 66.8l2.5-3.8 1.6 2.8-2.5 1.1z" fill="#970"/><path d="M392.5 63.8l2.2 6.2 1.3 2.4-2.3-4.7z" fill="#640"/><path d="M348.5 96.7l1.7-7.3 2.2-.1-2.4-2.4z" fill="#620"/><path d="M372 95.7l2-9.1 1.8-.6-2.4 3z" fill="#d30"/><path d="M427.3 92.1l2.2 5.5 1.5-3.9-2.2-5.4z" fill="#f40"/><path class="msb" d="M352.1 89.5l2 1.2M354.1 90.7l1.5-9.6M386.3 72.2l1.3-3.8M370.4 59.1l1.7 4.8M370.1 64l2-.1M377.2 89.7l2-7.5M372.1 95.3l1.5-6"/><path class="esb" d="M403 82.2l-1-10.3M370.8 77.8l1.4-50.6M362 75.8l-3.2-37.1M399 80.7l2.3-15.7"/><path d="M347.8 92.4L350.6 92.3L347.1 51.7Z" fill="url(#sb72)"/><path d="M416.6 74l2.5-.6.9 5-2.4 0z" fill="#a60"/><path d="M342.2 89.9l1.7-7.1 2.1-1.4-1.7 8z" fill="#e50"/><path d="M340.9 83L342.1 81.2L337 34.9Z" fill="url(#sb2)"/><path d="M426.7 83.2l2.2 5.8 1.7-6.8-2.2-4.2z" fill="#fa0"/><path d="M337.6 80.8l2.7 6.9 2-4.7-2.5-3.8z" fill="#f90"/><path d="M361 75.1l2.3-2.4 1.6-5.4-2 6.7z" fill="#c70"/><path d="M356.8 75.7l.5-1 2.3 4.9-.5 1.1z" fill="#f80"/><path d="M370.7 66.4l2.3 8 1.8-.3-2.3-8.8z" fill="#dc0"/><path d="M407.2 89l2.5-.4 1.4-3.4-2.5.7z" fill="#850"/><path d="M380.9 77.9l2.5-1.9 1.6-.9-2.3 4.7z" fill="#d70"/><path d="M402.9 83.8L403 82.2L402 71.9Z" fill="url(#sb55)"/><path class="msb" d="M416.9 74.2l.8 3.9M428.8 88.7l1.4-6.3M361.2 74.8l1.7-1.2M362.9 73.6l1.9-5.9M407.5 88.7l1.3-2.5M408.8 86.2l2.1-.7M381.2 77.8l1.5 1.7"/><path class="rsb" d="M417.7 78.1l2.1 0M428.4 78.3l1.8 4.1M337.8 81l2-1.5"/><path d="M412 84.9l1.1-1.2 1.6-7-1.1 1.2z" fill="#650"/><path d="M399 80.7L400.9 81.8L401.3 65Z" fill="url(#sb3)"/><path d="M400.9 81.8L402.6 80.7L401.3 65Z" fill="url(#sb4)"/><path d="M370.8 77.8L372.3 79.4L372.2 27.2Z" fill="url(#sb7)"/><path d="M399.2 77.5l2.2 6 1.5-1.2-2.4-2.7z" fill="#d90"/><path d="M390.3 63.1l2.4.7 1.4 4.5-2.4-2.2z" fill="#550"/><path d="M361 77.6L362 75.8L358.8 38.7Z" fill="url(#sb2)"/><path d="M386 74l.8-.5 1.7-7.2-.8 1.8z" fill="#660"/><path d="M338 82.4L340.9 83L337 34.9Z" fill="url(#sb1)"/><path d="M345.8 85.3l2.8 11.4 1.8-9.4-2.7-7.7z" fill="#f70"/><path d="M367.6 86.6l2.4 3.8 1.8-7.2-2.4-4.6z" fill="#fa0"/><path d="M372.3 79.4L375 78.5L372.2 27.2Z" fill="url(#sb8)"/><path d="M345.7 82.1l2-1.8 1.5-10.6-1.6 9.4z" fill="#650"/><path d="M418.8 73.4l2.5-.2 1 4.2-2.6 1.1z" fill="#b60"/><path d="M400.3 83.6L402.9 83.8L402 71.9Z" fill="url(#sb54)"/><path class="msb" d="M401.3 83.2l1.3-1.2M400.6 79.9l2 2.1M390.5 63.3l1.4 2.5M387.6 68.4l.8-1.7M345.8 81.8l1.8-3M347.6 78.8l1.5-8.8"/><path class="esb" d="M359.2 74.2l.3-33.8M399.1 82.7l3.4-38.6"/><path class="rsb" d="M419.8 78.1l2.2-1"/><path d="M409.4 88.5l1.4-.8 1.5-3.5-1.4.9z" fill="#730"/><path d="M358.1 77L361 77.6L358.8 38.7Z" fill="url(#sb1)"/><path d="M401.6 91.9l2.6-3.6 1.4.4-2.6 2.6z" fill="#d30"/><path d="M369.2 79.2l2.3 4.5 1.8-9.9-2.5-7.4z" fill="#fe0"/><path d="M368 93.3l2.5.8 1.8 1.5-2.4-5.9z" fill="#e40"/><path d="M348.8 70l2.6 4.8 2-4.7-2.5-3.8z" fill="#ef0"/><path d="M399.6 87l2.3 5 1.4-.7-2-8.5z" fill="#f70"/><path d="M397.2 73.2l2.4 4.9 1.2 2.1-2.4-2z" fill="#640"/><path d="M347.5 80.3l2.6 7.3 1.4-13.5-2.4-4.4zM425 78l2.1 5.5 1.6-5.3-2.4-2.4z" fill="#fd0"/><path d="M431.6 95.4l2.9-5.4.9-.3-2.9 6.2z" fill="#e30"/><path class="msb" d="M410.9 85.5l1.2-1M370.9 66.7l2.1 7.3M370 90.1l2.1 5.2M398.6 77.9l2 2M349.1 70l2.3 4.5"/><path class="esb" d="M399.8 75.9l-.3-45"/><path class="rsb" d="M426.4 76.1l2 2.2"/><path d="M435.1 90.3l3-6.3 1.1-3.5-3.1 8.5z" fill="#e50"/><path d="M338.4 93.4l1.6-7.8 2.7 4.1-2.5-2.7z" fill="#c30"/><path d="M383 76.5l1.6.5 1.8-3.6-1.5 1.8z" fill="#770"/><path d="M359.2 74.2L359.3 75.8L359.5 40.4Z" fill="url(#sb47)"/><path d="M357.1 75l2.2-3 2.2 2.7-2.1 5z" fill="#e90"/><path d="M399.1 82.7L400.9 84.3L402.5 44.1Z" fill="url(#sb19)"/><path d="M421 73.3l2.6 1.3 1 1.5-2.7 1.3z" fill="#a60"/><path d="M364.7 68l2.1-3.7 1.6-8.5-2.1 4.7z" fill="#460"/><path d="M386.7 73.5l2.3-.4 1.6-10.1-2.2 3.3z" fill="#580"/><path d="M395 72.4l2.5.8 1.2 5-2.5-3.8z" fill="#650"/><path d="M425.7 85.3l2 7.3 1.4-3.7-2-6.1z" fill="#f80"/><path class="msb" d="M435.3 90l.9-1.4M340.2 87.4l2.1 2.2M388.4 66.7l2.1-3.4M396.6 74.5l2 3.4"/><path class="esb" d="M390.6 73.4l-1.7-21.8M362.8 69.9l1.2-36.2"/><path class="rsb" d="M436.2 88.6l2.9-7.8M422 77.1l2.2-1.1"/><path d="M413 83.7l2.6-3.9 1.4-5.9-2.5 2.7z" fill="#650"/><path d="M410.7 87.6l1.1-.9 1.5-3.6-1.1 1.1z" fill="#630"/><path d="M400.9 84.3L403.4 83.3L402.5 44.1Z" fill="url(#sb2)"/><path d="M423.1 74.6l2.3 3.9 1.3-2.4-2.8-.2z" fill="#cc0"/><path d="M365.4 82.1l2.5 4.7 1.8-8.1-2.4-3.9z" fill="#fd0"/><path d="M335.7 84.9l2.9 8.5 2-5.9-2.8-6.9z" fill="#f80"/><path d="M399.7 77.6L399.8 75.9L399.5 30.9Z" fill="url(#sb71)"/><path d="M427.6 82.5L428.2 80.8L428.9 47.8Z" fill="url(#sb26)"/><path d="M384.4 77l.9.6 1.8-4.8-.9.5z" fill="#ad0"/><path d="M392.8 73.4l2.8-.5 1.2 1.9-2.2-5.5z" fill="#cd0"/><path class="msb" d="M427.7 92.2l1.1-3.5M412.1 84.5l1-1.1M423.3 74.8l.9 1.2M337.8 81l2.4 6.4"/><path class="esb" d="M356.5 80.5l-3.8-43.8"/><path class="rsb" d="M424.2 76l2.2.1M336 85.1l1.8-4.1"/><path d="M365.9 88.6l2.5 5 1.9-3.4-2.5-4.1z" fill="#f70"/><path d="M363 72.7l2.2.3 1.6-9.4-2.1 3.7z" fill="#580"/><path d="M426.3 94.1l2 6.7 1.4-3.4-2.1-5.5z" fill="#f40"/><path d="M343.6 83.2l2.5 2.7 1.8-6.2-2.1 1.7z" fill="#bb0"/><path d="M359.3 75.8L361.9 75.7L359.5 40.4Z" fill="url(#sb49)"/><path d="M368.4 63.6l2.5 3.5 1.8-1.3-2.4-7.1z" fill="#ae0"/><path d="M389.2 74.8L390.6 73.4L388.9 51.6Z" fill="url(#sb44)"/><path d="M385.1 77.5l2.4 2.2 1.7-7.3-2.4.4z" fill="#ef0"/><path d="M352.5 80.1L354 81.5L352.7 36.7Z" fill="url(#sb19)"/><path d="M344 88.7l2.6 7.4 2.2.6-2.8-11.5z" fill="#f50"/><path class="msb" d="M395.3 72.7l1.3 1.8M394.6 69.6l2 4.9M367.9 86.4l2.1 3.7M364.8 67.7l1.9-3.8M427.7 92.2l1.7 5M343.9 83.1l1.9-1.3"/><path class="esb" d="M424.8 81.9l4.1-34.1"/><path d="M362.8 69.9L364.6 71.3L364 33.7Z" fill="url(#sb9)"/><path d="M346.4 96l1.9-6.9 2.1.4-1.8 7.2z" fill="#e40"/><path d="M390.9 73.4l2.3.2 1.7-4-2.3-5.8z" fill="#df0"/><path d="M403.8 88.6l2.7-1.5 1.3 1.7-2.7.3z" fill="#b30"/><path d="M354 81.5L356.5 80.5L352.7 36.7Z" fill="url(#sb2)"/><path d="M387.3 79.6l2.2 1.7 1.7-8.5-2.3-.4z" fill="#ef0"/><path d="M367.1 75.4l2.3 3.9 1.6-12.9-2.3-3.2z" fill="#df0"/><path d="M424.8 81.9L427.6 82.5L428.9 47.8Z" fill="url(#sb27)"/><path d="M386.7 74L389.2 74.8L388.9 51.6Z" fill="url(#sb5)"/><path d="M388.8 73l2.3.5 1.6-9.6-2.2-.9z" fill="#ae0"/><path class="msb" d="M346 85.6l2.6 10.8M348.6 96.4l1.7-6.6M392.6 64.2l2 5.4M387.4 79.3l1.6-6.6M368.8 63.6l2.1 3.1"/><path class="esb" d="M355.2 83.9l-4.6-53.4M435.8 90.9l0-17.9M401.2 91.2l-.8-40.7"/><path d="M364.6 71.3L367.1 70.2L364 33.7Z" fill="url(#sb10)"/><path d="M428.1 100.8l3-8.2 1 2.3-2.9 2.6z" fill="#e20"/><path d="M368.8 58L369.9 56.3L367.3 28Z" fill="url(#sb12)"/><path d="M350.1 90.1l1.9-6.7 1.8-3.3-1.6 9.8z" fill="#e60"/><path d="M370.2 94l2.2-5.9 1.7-1.4-2 9z" fill="#e40"/><path d="M396.8 77.4L399.7 77.6L399.5 30.9Z" fill="url(#sb70)"/><path d="M356.5 78.6L357.5 77.1L355.3 65.4Z" fill="url(#sb35)"/><path d="M334.1 92.9l2.8 6.6 2-6.4-2.9-8.4z" fill="#f60"/><path d="M365 73l2.3 2.5 1.6-12.2-2.2.3z" fill="#af0"/><path d="M377.3 77.1l2.4-4 1.9 4.7-2.4 4.8z" fill="#e90"/><path class="msb" d="M389 72.7l1.5-9.4M390.5 63.3l2.1.9M429.4 97.2l2.4-2.1M350.3 89.8l1.8-.3M370.4 93.7l1.7 1.6M372.1 95.3l1.9-8.3M367.3 75.1l1.5-11.5"/><path class="esb" d="M398 96.1l1.6-8M386.6 77.3l-1.6-27.9M365.9 57.4l1.4-29.4"/><path class="rsb" d="M334.5 92.8l1.5-7.7"/><path d="M389.4 81.2l2.2.2 1.7-8.5-2.3-.1z" fill="#cd0"/><path d="M366.5 64.2l2.3-.3 1.8-5.1-2.4-3z" fill="#7f0"/><path d="M363.2 77.1l2.5 5.2 1.9-7.4-2.4-2.6z" fill="#ff0"/><path d="M383.5 77.2L384.3 79L385.7 29.3Z" fill="url(#sb17)"/><path d="M398.2 95.5l2.4-.6 1.6-3.4-2.3-4.7z" fill="#f80"/><path d="M350.8 83.9L352.9 85.3L350.6 30.5Z" fill="url(#sb7)"/><path d="M352.9 85.3L355.2 83.9L350.6 30.5Z" fill="url(#sb8)"/><path d="M359 72.2l2.6 1.2 1.9-1.1-2.3 2.9z" fill="#a60"/><path d="M365.9 57.4L368.8 58L367.3 28Z" fill="url(#sb11)"/><path d="M354.1 78L356.5 78.6L355.3 65.4Z" fill="url(#sb34)"/><path class="msb" d="M379.2 82.2l2-4.4M368.8 63.6l1.6-4.5M366.7 63.9l2.1-.3M365.7 81.9l1.6-6.8M399.9 87.2l2 4.4M359.3 72.4l1.9 2.4"/><path class="esb" d="M353.6 84.4l-3.1-34M354.1 78l1.2-12.6"/><path d="M397.6 81.1l2.3 6.4 1.7-4.2-2.3-5.9z" fill="#fb0"/><path d="M411.7 86.6l2.8-3.1 1.1-4.3-2.8 4.3z" fill="#640"/><path d="M353.6 80.7l1.5-7.3 2.2 2.3-1.6 5.8z" fill="#f90"/><path d="M435.3 92.5L435.8 90.9L435.8 73Z" fill="url(#sb14)"/><path d="M399.8 92.8L401.2 91.2L400.4 50.5Z" fill="url(#sb65)"/><path d="M363.7 83.1l2.5 6 1.9-2.5-2.4-5z" fill="#f90"/><path d="M400.8 97.7L400.6 96.1L399.6 88.1Z" fill="url(#sb32)"/><path d="M398 96.1L398.1 97.8L399.6 88.1Z" fill="url(#sb30)"/><path d="M385.3 78.7L386.6 77.3L385 49.4Z" fill="url(#sb48)"/><path d="M373.9 87.3l2.1-6.9 1.7-3.6-2.1 9.9z" fill="#e70"/><path d="M406 87.3l2.6-1.6 1.3 2.7-2.6.7z" fill="#b40"/><path class="msb" d="M399.9 87.2l1.4-4M413.1 83.4l2.4-3.9M355.6 81.1l1.4-5.1M365.7 81.9l2.2 4.5"/><path class="esb" d="M387.3 78.6l-1.6-49.3"/><path d="M361.1 73.2l2.5 4.2 1.9-5-2.4-.3z" fill="#ef0"/><path d="M393.5 82.1L394.3 80.3L393.1 40.8Z" fill="url(#sb2)"/><path d="M397.3 91.9L399.8 92.8L400.4 50.5Z" fill="url(#sb64)"/><path d="M353.3 86.1L353.6 84.4L350.5 50.4Z" fill="url(#sb26)"/><path d="M391.5 81.4l2.3-.9 1.6-8.1-2.3.5z" fill="#9b0"/><path d="M415.3 79.8l2.8-5.1 1.2-1.3-2.6.5z" fill="#650"/><path d="M384.3 79L387.3 78.6L385.7 29.3Z" fill="url(#sb18)"/><path d="M383 77.8L385.3 78.7L385 49.4Z" fill="url(#sb47)"/><path d="M432.7 92L435.3 92.5L435.8 73Z" fill="url(#sb38)"/><path d="M424.1 78l1.9 8 1.3-2.6-2.1-5.6z" fill="#fb0"/><path class="msb" d="M406.3 87.4l1.2 1.3M415.5 79.5l1.4-5.3"/><path d="M339.7 86.1l2.1-4.5 2.4 1.3-1.8 7.1z" fill="#e70"/><path d="M424.4 89l2.2 5.7 1.3-2.2-2-7.2z" fill="#f70"/><path d="M400.3 94.8l2.7-4.5 1.3-2-2.7 3.5z" fill="#d40"/><path d="M385.6 80.3l2.5 2.9 1.8-2.3-2.5-1.9z" fill="#ed0"/><path d="M390.5 81.6L393.5 82.1L393.1 40.8Z" fill="url(#sb1)"/><path d="M434.2 90.6l2.9-3.9 1-2.7-3 6.4z" fill="#d50"/><path d="M336.8 99.5l1.1-14 2.3.1-1.6 7.8z" fill="#e50"/><path d="M387.7 83l2.5 1.1 1.7-3.2-2.5-.3z" fill="#bb0"/><path d="M398.1 97.8L400.8 97.7L399.6 88.1Z" fill="url(#sb31)"/><path d="M396.1 88.4l2.3 7.1 1.8-8.5-2.3-6z" fill="#f90"/><path d="M366.5 97l2.2-4.7 2 1.4-2.4-.8z" fill="#c20"/><path class="msb" d="M342.3 89.6l1.6-6.5M426.5 94.4l1.2-2.2M425.9 85.6l1.8 6.6M401.9 91.6l2.2-3M387.4 79.3l2.1 1.6M434.4 90.3l.9-.3M389.5 80.9l2.1.2M398.4 95.1l1.5-7.9M397.9 81.3l2 5.9"/><path class="esb" d="M390.5 81.6l2.6-40.8M334.5 103.3l-3.3-17.6"/><path d="M350.7 86L353.3 86.1L350.5 50.4Z" fill="url(#sb27)"/><path d="M408.2 85.9l1.6-1.2 1.4 2.8-1.6 1.1z" fill="#c50"/><path d="M395.6 79.7l2.4 2 1.7-4-2.4-4.5z" fill="#ff0"/><path d="M437.8 84.7l2-3.2 1.3-6.1-2.3 5.7z" fill="#d70"/><path d="M396.7 100.8l2.5-2.4 1.5-4.2-2.4.6z" fill="#720"/><path d="M393.6 80.4l2.3-.5 1.6-6.7-2.3-.8z" fill="#be0"/><path d="M383.6 76.6l2.4 4.2 1.8-1.3-2.5-2.6z" fill="#ec0"/><path d="M332.6 99.3l1.9-3.3 2.6 3.4-2.7-6.9z" fill="#e50"/><path d="M379.4 73.2l2.4.3 1.8 2.9-2.4 1.7z" fill="#a70"/><path d="M364.2 89.1l2.5 8 1.9-3.6-2.4-5.1z" fill="#f70"/><path d="M341.6 81.7l2.7 7.6 2.1-3.6-2.5-2.9z" fill="#fa0"/><path d="M424.9 100.1l2.9-1.5.7 2.2-2-6.8z" fill="#f40"/><path d="M389.9 84l2.4.2 1.7-4.4-2.5.9z" fill="#890"/><path d="M382.9 75.4l.7 1.7 2.1.3-.7-.6z" fill="#bb0"/><path class="msb" d="M393.7 80.1l1.6-7.4M386 80.4l1.4-1.1M385.4 77.3l2 2M334.5 92.8l2.4 6.3M379.7 73.5l1.5 4.3M381.2 77.8l2.1-1.5M341.8 82l2.1 1.1M343.9 83.1l2.1 2.5M391.6 81.1l2.1-1"/><path class="esb" d="M345.4 87.9l-2.8-20.4"/><path class="rsb" d="M439.1 80.8l1.9-5.1M332.8 99.1l1.7-6.3"/><path d="M394.6 94.1l2.3 6.8 1.8-5.6-2.3-7.3z" fill="#f60"/><path d="M381.5 73.6l1.5 2.1 1.9 1.2-1.6-.3z" fill="#650"/><path d="M334 105.4L334.5 103.3L331.2 85.7Z" fill="url(#sb16)"/><path d="M361.6 76.8l2.4 6.9 2-1.5-2.5-5.5z" fill="#fc0"/><path d="M354.8 73.6l.5-1.6 2.4 3.2-.5 1.1z" fill="#da0"/><path d="M342.3 95.2l2.2-1.2 2.4 2-2.7-7.4z" fill="#f70"/><path d="M409.5 84.9l1.2-.9 1.4 2.5-1.2 1.2z" fill="#d60"/><path d="M417.6 75.2l2.8-4 1.2 2.4-2.9.3z" fill="#a60"/><path d="M409 85.7L409.6 87.6L412 62.9Z" fill="url(#sb3)"/><path d="M430.8 93.1l2.9-4.7.9 1.7-2.9 5.3z" fill="#e50"/><path class="msb" d="M384.6 76.7l.8.6M396.9 100.5l1.5-5.4M383.3 76.3l1.3.4M364 83.3l1.7-1.4M363.6 77.1l2.1 4.8M357 76l.4-1"/><path class="esb" d="M400.3 91.1l3.3-37.3M427.1 98.1l0-29.5"/><path d="M414 83.6l2.6-2.7 1.4-6.3-2.9 4.8z" fill="#650"/><path d="M344.9 89.5L345.4 87.9L342.6 67.5Z" fill="url(#sb4)"/><path d="M422.9 97.1l2.3 3.1 1.7-5.9-2.2-5.4z" fill="#f70"/><path d="M392 84.1l2.4 1.1 1.7-6-2.4.6z" fill="#bd0"/><path d="M400.3 91.1L402.2 92.6L403.6 53.8Z" fill="url(#sb64)"/><path d="M423 97.5L424.8 99.1L427.1 68.6Z" fill="url(#sb28)"/><path d="M422.3 71.6l2 7 1.2-.1-2.3-4z" fill="#cb0"/><path d="M394.1 85.1l2.3 3.6 1.8-7.7-2.4-1.8z" fill="#fe0"/><path d="M348.1 89.7l2-4.2 2-2-1.8 6.6z" fill="#e60"/><path d="M402.2 92.6L404.4 91.5L403.6 53.8Z" fill="url(#sb65)"/><path class="msb" d="M431.8 95.1l2.6-4.8M414.1 83.3l1.4-3.8M415.5 79.5l2.4-4.5M425.2 99.9l1.3-5.5M392.3 83.9l1.4-3.8M393.7 80.1l2.2-.6M395.9 79.5l2 1.8M348.3 89.4l2 .4M350.3 89.8l1.7-6"/><path d="M424.8 99.1L427.1 98.1L427.1 68.6Z" fill="url(#sb29)"/><path d="M330.9 105.2L334 105.4L331.2 85.7Z" fill="url(#sb15)"/><path d="M372.2 88.7l2.5-2.9 1.4-5.4-2.1 6.9z" fill="#d60"/><path d="M422.5 84.7l2.2 4.9 1.5-3.8-2-7.9z" fill="#fc0"/><path d="M351.9 84.1l1.5-3.5 1.8-7.2-1.4 7.4z" fill="#d80"/><path d="M439.6 81.5l1-1.6 1.5-6.5-1.1 1.9z" fill="#650"/><path d="M409.6 87.6L412.7 87.4L412 62.9Z" fill="url(#sb22)"/><path d="M420 71.3l2.6.3.9 3.5-2.5-1.3z" fill="#650"/><path d="M342.2 89.3L344.9 89.5L342.6 67.5Z" fill="url(#sb22)"/><path d="M436.7 87.2l1.8-1 1.3-5.4-2.1 3.3z" fill="#640"/><path d="M402.6 90.9l2.6-6.1 1.4 2.5-2.7 1.6z" fill="#d60"/><path d="M398.9 98.4l2.7-3.3 1.3-4.8-2.7 4.2z" fill="#620"/><path d="M410.4 84.3l2.8-1.6 1.3.5-2.8 3.4z" fill="#d60"/><path class="msb" d="M374 87l2-6.3M424.3 78.3l1.6 7.3M422.5 71.9l.8 2.9M404.1 88.6l2.2-1.2"/><path class="esb" d="M412.7 87.4l-.7-24.5M428.2 101.4l1.3-44.8M386.2 83.6l2.5-40.2"/><path class="rsb" d="M441 75.7l1-1.9"/><path d="M368.4 92.8l2.3-4.2 1.9-.4-2.2 5.9z" fill="#e50"/><path d="M344.2 93.9l2-6 2.3 1.3-1.9 6.9z" fill="#e60"/><path d="M355.1 72.4l2.2-4.6 2.4 4.6-2.3 3z" fill="#a90"/><path d="M362 82.6l2.5 7.2 1.9-.8-2.4-6z" fill="#f90"/><path d="M393.1 99.8l2.4 2.4 1.7-1.4-2.3-7zM427.3 98.8l3.1-8.1.8 1.9-3 8.2z" fill="#f50"/><path d="M388.6 84.6L390.3 83.1L388.7 43.4Z" fill="url(#sb2)"/><path d="M421 93.6l2.2 3.6 1.7-8.2-2.1-4.7z" fill="#fa0"/><path d="M359.3 71l2.5 6.4 2-.1-2.4-4.3z" fill="#bc0"/><path d="M375.9 81l2.3-5.1 1.6-2.7-2.4 4.2z" fill="#b70"/><path d="M386.2 83.6L388.6 84.6L388.7 43.4Z" fill="url(#sb19)"/><path class="msb" d="M368.7 92.6l1.7 1.1M357.4 75l1.9-2.6M394.9 94.1l2 6.4M361.4 73.3l2.2 3.8"/><path d="M421.6 101.3l2.4 2.6 1.5-4.1-2.4-3.3z" fill="#f50"/><path d="M426.8 102.9L428.2 101.4L429.5 56.6Z" fill="url(#sb69)"/><path d="M392.6 87.9l2.3 6.6 1.9-6.3-2.5-3.7z" fill="#fb0"/><path d="M362.5 94.5l2.5 5 2-2.5-2.6-7.9z" fill="#f70"/><path d="M395.3 102.1l2.6-3.6 1.4-.7-2.6 3z" fill="#d20"/><path d="M424.2 101.9L426.8 102.9L429.5 56.6Z" fill="url(#sb68)"/><path d="M334.4 96.7l1.6-8 2-3.2-1.1 14z" fill="#f60"/><path d="M339.6 83.2l3 12.2 1.9-6.2-2.7-7.6z" fill="#fa0"/><path d="M438.3 86.1l.9-.2 1.5-6.6-1 1.5z" fill="#660"/><path d="M331 105.2l1.1-11.6 2.7 2.5-1.9 3.3z" fill="#e30"/><path d="M440.5 79.9l2.8-3 1.2-5.1-2.6 1.6z" fill="#560"/><path class="msb" d="M423.2 96.8l2 3.1M364.4 89.4l2.3 7.3M395.5 101.9l1.4-1.4M396.9 100.5l2.2-2.4M336.9 99.1l1-13.3"/><path class="rsb" d="M331 104.9l1.8-5.8"/><path d="M416.3 80.9l2.5-.9 1.6-8.8-2.6 3.4z" fill="#670"/><path d="M419.5 98.3l2.4 3.2 1.6-4.8-2.3-3.7z" fill="#f70"/><path d="M357.1 67.8l2.5 3.5 2.1 2.3-2.4-.9z" fill="#450"/><path d="M364.9 99.4l2-8.4 2 1.3-2.2 4.8z" fill="#e50"/><path d="M423.8 103.9l2.8-5.4 1.1-.2-2.8 1.4z" fill="#d20"/><path d="M340.8 102l1.6-8.3 2.3-.3-2.2 1.3z" fill="#d40"/><path d="M433.3 88.8l2.9-1.6 1-.5-3 3.9z" fill="#d50"/><path d="M420.6 81.4l2.2 3.6 1.8-6.9-2.1-6.5z" fill="#ff0"/><path d="M353.4 80.6l.4-.7 1.7-7.9-.3 1.4z" fill="#550"/><path d="M419 89.5l2.2 4.2 1.8-9.3-2.2-3.6z" fill="#fd0"/><path d="M412.7 83.1l2.7.4 1.3-3.1-2.8 3.2z" fill="#b50"/><path class="msb" d="M417.9 75l2.4-3.5M421.2 93.4l2 3.4M357.3 68.1l2 4.3M359.3 72.4l2.1.9M366.7 96.7l2-4.1M423.9 103.6l1.3-3.7M425.2 99.9l2.3-1.4M342.6 95l1.9-1.3M433.6 88.7l.8 1.6M434.4 90.3l2.5-3.4M422.5 71.9l1.8 6.4"/><path class="rsb" d="M442 73.8l2.4-1.7"/><path d="M390.5 83.6l2.4 4.8 1.8-3.6-2.5-1.3z" fill="#fc0"/><path d="M349.9 86.1l1.8-1 1.9-5.2-1.4 4.1z" fill="#650"/><path d="M447.7 75.6l2.1 5.1.4 1.7-2-5z" fill="#cb0"/><path d="M337.7 86.1l2.1-3 2.2-1.4-1.9 4.6z" fill="#d70"/><path d="M386.4 78.5l2.5 2.3 1.5 3.2-2.4-.8z" fill="#750"/><path d="M388.5 80.8l2.5 3.3 1.6-.1-2.6 0z" fill="#640"/><path d="M340.4 83.8L341.7 82.2L338.4 60.1Z" fill="url(#sb44)"/><path d="M439.1 85.9l2.4.3 1.8-9.9-2.8 2.9z" fill="#890"/><path d="M374.3 85.9l2.2-1.2 1.7-8.8-2.3 4.5z" fill="#660"/><path d="M384.3 75.7l2.4 2.8 1.5 4.7-2.4-2.4z" fill="#650"/><path class="msb" d="M413 83l1.1.3M352 83.8l1.5-3.6M339.8 83.5l2-1.5M390.8 83.8l1.5.1M376 80.7l2.1-4.5"/><path class="esb" d="M342.9 82l-2.1-8.7M432.1 88.8l3.9-24.1M338 83.1l.4-23M439.5 90.5l3.7-23.4"/><path class="rsb" d="M449.6 80.4l.5 1.6M448.3 77.7l1.8 4.3"/><path d="M359.7 79.2l2.5 4 2 .4-2.5-6.9z" fill="#ed0"/><path d="M337.9 91.2l3 10.8 1.9-6.7-3-12.2z" fill="#f80"/><path d="M418.6 79.9l2.2 1.6 1.8-9.9-2.3-.4z" fill="#bf0"/><path d="M338 83.1L340.4 83.8L338.4 60.1Z" fill="url(#sb6)"/><path d="M370.4 89.1l2.6-.7 1.6-3.1-2.3 3.5z" fill="#b40"/><path d="M417.6 93.5l2.3 5 1.7-5.2-2.4-4.4z" fill="#f90"/><path d="M404.8 85.3l2.8-6.5 1.2 7.5-2.6 1.4z" fill="#e90"/><path d="M417 85.7l2.3 3.9 1.7-8.8-2.3-1.5z" fill="#ff0"/><path d="M442.9 76.9l2.9-1.2 1-2.1-2.5-1.9z" fill="#8e0"/><path d="M340.3 81.9L339.9 83.5L340.8 73.3Z" fill="url(#sb33)"/><path d="M414.9 83.4l2.4 2.4 1.6-6.5-2.5 1z" fill="#df0"/><path class="msb" d="M362.2 82.9l1.8.4M339.8 83.5l2.8 11.5M420.8 81.1l1.7-9.2M420.3 71.5l2.2.4M419.3 89.2l1.9 4.2M405.1 85.2l1.2 2.2M406.3 87.4l2.2-1.4M419.3 89.2l1.5-8.1M443.2 76.6l1.2-4.5"/><path class="rsb" d="M444.4 72.1l2.1 1.7"/><path d="M391.2 90l2.2 10 1.8-5.7-2.3-6.6z" fill="#f80"/><path d="M377.8 76.5l2.5-3.6 1.8.9-2.6-.6z" fill="#850"/><path d="M421 76.9L422 75.5L421.7 52.6Z" fill="url(#sb37)"/><path d="M342.5 83.6L342.9 82L340.8 73.3Z" fill="url(#sb35)"/><path d="M445.2 75.3l2.9.7.4 2-2.1-4.6z" fill="#ac0"/><path d="M432.1 88.8L433.6 90.3L436 64.7Z" fill="url(#sb3)"/><path d="M360.3 91.1l2.5 3.8 2-5.5-2.6-6.9z" fill="#fc0"/><path d="M435.7 87.6l1.7.8 1.3-2.8-2.1 1.2z" fill="#870"/><path d="M391.7 107.5l2.5-7.2 1.6 1.5-2.4-2.5z" fill="#620"/><path d="M351.6 85l.4 0 2-5.8-.4.7z" fill="#770"/><path d="M360.9 101l2.4-.7 2-1.1-2.5-5z" fill="#f80"/><path class="msb" d="M392.9 88l2 6.1M378.1 76.2l1.6-2.7M362.2 82.9l2.2 6.5M436.9 86.9l1.5-1.1M353.5 80.2l.3-.6"/><path class="esb" d="M418.5 76.2l3.2-23.6"/><path class="rsb" d="M446.5 73.8l1.8 3.9"/><path d="M401.2 95.2l2.8-5.4 1.3-5-2.8 6.1z" fill="#c60"/><path d="M397.5 99.1l2.6-4 1.5-.5-2.6 3.8z" fill="#d40"/><path d="M382.2 72.1l2.5 3.6 1.4 5.1-2.4-3.6z" fill="#550"/><path d="M418.5 76.2L421 76.9L421.7 52.6Z" fill="url(#sb36)"/><path d="M433.6 90.3L435.9 89.6L436 64.7Z" fill="url(#sb4)"/><path d="M353.7 79.9l2.1-1.9 1.6-10.2-2 4.1z" fill="#570"/><path d="M437.1 88.3l1 .8 1.3-3.9-1 .3z" fill="#bc0"/><path d="M442.3 92.3L442.2 90.6L443.2 67.1Z" fill="url(#sb4)"/><path d="M345.9 88.4l2.2-2.5 2.3-.3-2.1 4.2z" fill="#d70"/><path d="M437.8 89l2.4 2.6 1.5-6.1-2.5-.3z" fill="#fe0"/><path d="M441.4 86.1l2.3.8 2-11.8-2.6 1.2z" fill="#ac0"/><path d="M439.9 91.6l2.4 2 1.6-7.3-2.5-.8z" fill="#fd0"/><path class="msb" d="M399.1 98.1l2.2-3.2M384.5 76l1.5 4.4M438.4 85.8l.9-.3M346.2 88.3l2.1 1.1M439.3 85.5l2.2.3M441.5 85.8l1.7-9.2"/><path class="esb" d="M438.5 91.1l2.7-11.1"/><path d="M420.4 103l2.6 1.4 1.2-.7-2.4-2.9z" fill="#d40"/><path d="M339.9 83.5L342.5 83.6L340.8 73.3Z" fill="url(#sb34)"/><path d="M351.9 85l2.3.7 1.7-8.4-2.1 1.9z" fill="#9c0"/><path d="M440.2 90.1L440.2 88.1L441.1 62.1Z" fill="url(#sb26)"/><path d="M379.9 73.2l1.7-1.8 1.7 4.5-1.4-1.8z" fill="#660"/><path d="M381.4 71.5l.9.6 1.7 5.1-.8-1.2z" fill="#550"/><path d="M357.6 78l2.4 1.7 2.1-2.5-2.6-6.3z" fill="#df0"/><path d="M442.1 93.6l2.4.4 1.6-7.7-2.5 0z" fill="#cb0"/><path d="M358.6 96.4l2.6 4.7 1.9-6.7-2.5-3.9z" fill="#f90"/><path d="M336.2 98.3l2.6 3.5 2.3.2-2.9-10.9z" fill="#f60"/><path class="msb" d="M440.2 91.3l1.3-5.5M441.5 85.8l2.2.8M353.8 79.6l2-2"/><path d="M441.6 92.7L441.1 91L441.2 80Z" fill="url(#sb55)"/><path d="M372.5 88.3l2.4.7 1.8-4.9-2.4 1.2z" fill="#8a0"/><path d="M438.5 91.1L438.9 92.8L441.2 80Z" fill="url(#sb58)"/><path d="M358.3 89.1l2.3 2.1 1.8-8.6-2.4-3.6z" fill="#ff0"/><path d="M348.8 85.6L349.9 87.1L349.2 58.4Z" fill="url(#sb25)"/><path d="M418.4 99.1l2.4 4.2 1.4-2-2.4-3.5z" fill="#f60"/><path d="M439.6 92.2L442.3 92.3L443.2 67.1Z" fill="url(#sb22)"/><path d="M443.6 86.9l2.4.1 1.9-11.4-2.4-.5z" fill="#bd0"/><path d="M415.8 87.5l2.1 6.4 1.7-4.6-2.4-4.2z" fill="#fc0"/><path d="M389.7 95.6l2.2 12 1.8-7.7-2.3-10z" fill="#f70"/><path d="M376.4 84.7l2.2-.7 1.7-11.1-2.3 3z" fill="#690"/><path d="M354 85.7l2.4 1.7 1.6-10-2.2-.1z" fill="#df0"/><path d="M355.7 77.9l2.2.2 1.8-7.1-2.4-3.2z" fill="#af0"/><path class="msb" d="M360.6 90.9l1.6-8M360 79.3l2.2 3.6M443.7 86.6l2.2.1M417.9 93.5l1.4-4.3M417.3 85.5l2 3.7M376.5 84.4l1.6-8.2M378.1 76.2l2.1-2.9M354.2 85.4l1.6-7.8"/><path class="esb" d="M352.4 86.3l-3.2-27.9M406.4 88.8l.7-80"/><path d="M430 91.2l3.1-6 .8 3.4-2.9 4.7z" fill="#e80"/><path d="M407.4 78.8l1.5-1 1 7.6-1.4 1z" fill="#c80"/><path d="M356.2 87.3l2.3 1.8 1.7-10.1-2.3-1.6z" fill="#ff0"/><path d="M349.9 87.1L352.4 86.3L349.2 58.4Z" fill="url(#sb26)"/><path d="M335.7 89.2l2.5 2.6 1.8-8.7-2.1 2.4z" fill="#bc0"/><path d="M445.8 87l2.6-1.2 1.4-5.7-2-4.5z" fill="#ef0"/><path d="M437 89.8L440.2 90.1L441.1 62.1Z" fill="url(#sb27)"/><path d="M338.6 101.7l1.8-5.7 2.2-2.3-1.7 8.3zM426.3 99.1l2.9-5.1 1.2-3.3-3 8.1z" fill="#e50"/><path d="M356.5 94l2.5 2.7 1.9-6.1-2.5-2.2z" fill="#fc0"/><path class="msb" d="M355.8 77.6l1.5-9.5M355.8 77.6l2.1.2M408.5 86l1.3-.9M357.9 77.8l2.1 1.5M338.2 91.4l1.6-7.9M337.9 85.8l1.9-2.3M427.5 98.5l2.8-7.5"/><path class="esb" d="M437 89.8l4.1-27.7"/><path class="rsb" d="M448.4 85.5l1.2-5.1"/><path d="M366.6 91.5l2.4-3.5 2 .7-2.4 4.3z" fill="#e70"/><path d="M444.3 93.9l2.6-1 1.6-7.7-2.6 1.1z" fill="#880"/><path d="M374.7 88.9l2.3.4 1.8-6-2.3.8z" fill="#9c0"/><path d="M342.2 94.3l1.9-5.9 2.3-.4-1.9 6z" fill="#e70"/><path d="M438.9 92.8L441.6 92.7L441.2 80Z" fill="url(#sb54)"/><path d="M347.8 86.3l2 .7 2.2-2.5-1.7 1.3z" fill="#870"/><path d="M363.1 100.3l2.1-5.1 1.8-4.2-2 8.5z" fill="#e50"/><path d="M328.4 99.4L329.5 101.3L329.2 84.6Z" fill="url(#sb13)"/><path d="M354.3 91.7l2.5 2.4 1.9-5.5-2.4-1.9z" fill="#fe0"/><path d="M404.4 90.2L406.4 88.8L407.1 8.8Z" fill="url(#sb21)"/><path class="msb" d="M358.9 96.3l1.7-5.4M366.9 91.3l1.8 1.3M368.7 92.6l2-3.7M445.9 86.7l2.5-1.2M374.9 88.6l1.6-4.2M344.5 93.7l1.7-5.4"/><path class="esb" d="M332.5 100.3l-3.3-15.7"/><path class="rsb" d="M446.9 92.5l1.5-7"/><path d="M401.9 88.9L404.4 90.2L407.1 8.8Z" fill="url(#sb20)"/><path d="M422.7 104.4l2.9-5.4 1.1-.5-2.9 5.4z" fill="#e40"/><path d="M408.8 77.8l1.1-.4 1 7.2-1.1.8z" fill="#b80"/><path d="M331.9 94.2l2-3.8 2.3-1.7-1.6 8z" fill="#e70"/><path d="M356.9 100l2.6 7.6 2-7-2.6-4.6z" fill="#f60"/><path d="M393.8 100.9l2.7-5.5 1.6 3.3-2.7 3.5z" fill="#e50"/><path d="M352.1 89.2l2.5 2.7 2-5.1-2.4-1.8z" fill="#ff0"/><path d="M359.4 107.6l2.1-5.8 1.9-2.1-2.3.7z" fill="#620"/><path d="M349.6 86.8l.5.4 2.3-2.8-.5 0z" fill="#ad0"/><path d="M349.9 87l2.5 2.4 2.1-4.2-2.4-.9z" fill="#ef0"/><path d="M329.5 101.3L332.5 100.3L329.2 84.6Z" fill="url(#sb14)"/><path d="M416.6 93.6l2.1 6 1.4-1.1-2.2-5.3z" fill="#f70"/><path class="msb" d="M422.9 104.1l1-.5M409.8 85.1l1-.8M358.9 96.3l2.3 4.4M394.1 100.7l1.4 1.2M361.2 100.7l2-.7M352.4 89.1l1.8-3.7"/><path d="M389.2 81.9l2.2 8.7 1.7-2.3-2.3-4.8z" fill="#fb0"/><path d="M388 105l2.4 3.5 1.6-1-2.1-12z" fill="#f50"/><path d="M413.9 81.9l2.2 6.1 1.5-2.4-2.5-2.7z" fill="#ed0"/><path d="M378.5 84l1.5-.9 1.7-11.6-1.5 1.4z" fill="#690"/><path d="M376.9 89.3l1.5-.4 1.7-6.5-1.5.9z" fill="#790"/><path d="M399.8 95.7l2.6-4.5 1.5-1.5-2.7 5.5z" fill="#e60"/><path d="M439 91.8l2.5 2.8 1.1-1.2-2.6-2.4z" fill="#da0"/><path d="M328.5 102.8l1.1-12.7 2.7 3.6-1.2 11.5z" fill="#f60"/><path d="M409.7 77.4l2.4.9 1.1 5-2.5 1.4z" fill="#970"/><path d="M441 94.3l2.8 1 1-1.8-2.8-.5z" fill="#980"/><path d="M334.9 107.9l1.6-6.6 2.6 0-2.6-3.4z" fill="#730"/><path class="msb" d="M390.8 83.8l2.1 4.2M389.9 95.9l1.9 11.3M415.2 83.2l2.1 2.3M380.2 73.3l1.4-1.5M401.3 94.9l2.4-4.9M331 104.9l1.2-10.9M410.8 84.3l2.2-1.3"/><path class="esb" d="M338 96.4l-3.8-26.1M428 99.5l2.1-57.9"/><path class="rsb" d="M328.6 102.5l2.4 2.4"/><path d="M333.7 90.6l2.8 8 2-7.3-2.5-2.6z" fill="#fb0"/><path d="M390.2 108.5l2.5-7.6 1.6-.5-2.5 7.1z" fill="#e30"/><path d="M411.9 78.3l2.5 4.1 1.1 1.1-2.6-.2z" fill="#650"/><path d="M379.9 83.1l.8-.7 1.7-10.3-.8-.7z" fill="#8c0"/><path d="M378.3 88.9l.8-.4 1.8-6.8-.9.7z" fill="#780"/><path d="M437.1 88.3l2.3 4 1-.8-2.4-3z" fill="#da0"/><path d="M432.7 85.3l2.8.2.8 2.1-2.8 1.4z" fill="#b60"/><path d="M368.6 88.3l2.6-.7 1.9.4-2.5 1.2z" fill="#a50"/><path d="M336.5 98L338 96.4L334.2 70.3Z" fill="url(#sb40)"/><path d="M403.6 90.3l2.8-6.3 1.3-5.2-2.8 6.6z" fill="#c80"/><path class="msb" d="M336.5 98.3l2.3 3.1M336.5 98.3l1.7-6.9M391.8 107.2l2.3-6.5M412 78.6l1 4.4M413 83l2.2.2M381.6 71.8l.7.6M439.3 92l.9-.7M433 85.6l.6 3.1M370.7 88.9l2.1-.8"/><path class="esb" d="M430.8 86.9l4.6-32.8M382.6 75.8l2-22.3M442.4 93.9l-.7-10.1M425.4 97.4l3.7-23.5"/><path d="M380.6 82.4l2.3-2.6 1.8-4-2.4-3.8z" fill="#9f0"/><path d="M426.6 101.2L428 99.5L430.1 41.6Z" fill="url(#sb24)"/><path d="M443.3 95.2l2.8.1 1.1-3-3 1.1z" fill="#760"/><path d="M354.6 95.9l2.6 4.6 2.1-4.2-2.6-2.9z" fill="#fa0"/><path d="M436.3 87.1l1 1.8 1.1.1-1-1.1z" fill="#cb0"/><path d="M382.6 75.8L384.2 77.2L384.6 53.5Z" fill="url(#sb36)"/><path d="M435 85.5l1.8 2.1.8.7-1.9-.6z" fill="#640"/><path d="M430.8 86.9L432 88.5L435.4 54.1Z" fill="url(#sb47)"/><path d="M334.2 97.2L336.5 98L334.2 70.3Z" fill="url(#sb39)"/><path d="M371.4 89.8L372.7 88.3L370.3 54.6Z" fill="url(#sb48)"/><path class="msb" d="M403.7 90l1.4-4.8M382.3 72.4l2.2 3.6M357.2 100.1l1.7-3.8M356.8 93.8l2.1 2.5"/><path class="esb" d="M382.5 86l-1.9-21.5M390.2 104.6l2.3-20.9M438.2 93.5l4.1-20.6"/><path class="rsb" d="M445.9 95l1-2.5"/><path d="M423.7 100.1L426.6 101.2L430.1 41.6Z" fill="url(#sb23)"/><path d="M384.2 77.2L386.4 76.3L384.6 53.5Z" fill="url(#sb37)"/><path d="M425.4 97.4L427.4 98.7L429.1 73.9Z" fill="url(#sb13)"/><path d="M392.3 105.8L394 104.4L392.5 83.7Z" fill="url(#sb53)"/><path d="M441.7 95.5L442.4 93.9L441.7 83.8Z" fill="url(#sb55)"/><path d="M427.4 98.7L429.3 97.6L429.1 73.9Z" fill="url(#sb14)"/><path d="M370.7 87.8l2.7 1 1.8-.1-2.7-.9z" fill="#740"/><path d="M387.1 75.9l2.3 6.7 1.6 1.5-2.6-2.8z" fill="#540"/><path d="M390.2 104.6L392.3 105.8L392.5 83.7Z" fill="url(#sb52)"/><path d="M382.6 79.7l2.6-3.5 1.7 2.8-2.5-3.4z" fill="#690"/><path class="msb" d="M372.8 88.1l2.1.5M389.4 82.3l1.4 1.5M388.7 81.1l2.1 2.7"/><path class="esb" d="M369 89.1l1.3-34.5"/><path d="M380.6 87.2L382.5 86L380.6 64.5Z" fill="url(#sb44)"/><path d="M378.7 86L380.6 87.2L380.6 64.5Z" fill="url(#sb5)"/><path d="M369 89.1L371.4 89.8L370.3 54.6Z" fill="url(#sb47)"/><path d="M419.2 105.2l2.9-3 1.1 2-2.7-1.5z" fill="#a20"/><path d="M386.5 112l2.6-2.6 1.6-1.3-2.5-3.6z" fill="#b40"/><path d="M432 88.5L434.5 87.9L435.4 54.1Z" fill="url(#sb49)"/><path d="M352.4 92.7l2.5 3.7 2.2-2.6-2.5-2.6z" fill="#fb0"/><path d="M379 88.5l2.3-1.8 1.7-7.6-2.3 2.6z" fill="#670"/><path d="M343.9 88.9l2.2-3.2 2.4.4-2.3 2.5z" fill="#d70"/><path d="M355.1 104.3l2.6 3.6 2.1-.4-2.6-7.7z" fill="#f50"/><path class="msb" d="M382.9 79.4l1.6-3.4M384.5 76l2.1 2.8M420.7 103l2.2 1.1M354.6 91.5l2.2 2.3M344.2 88.7l2-.4M346.2 88.3l1.9-2"/><path class="esb" d="M441.2 92.6l-.6-15.1"/><path d="M414.8 86.2l2 8 1.3-.4-2.1-6.5z" fill="#ea0"/><path d="M439.1 94.9L441.7 95.5L441.7 83.8Z" fill="url(#sb54)"/><path d="M361.2 102.5l2.4-2.4 1.7-4.8-2.1 5z" fill="#c40"/><path d="M417.5 98.5l2.1 6.8 1.4-2.1-2.4-4.2z" fill="#f60"/><path d="M438.2 93.5L439.9 95.1L442.3 72.9Z" fill="url(#sb3)"/><path d="M372.9 88.5l2.7.8 1.8-.3-2.8-.6z" fill="#840"/><path d="M331.6 92.1l3.4 15.8 1.8-9.5-2.9-8z" fill="#f80"/><path d="M384.8 76.3l2.5-.4 1.6 5.5-2.5-2.2z" fill="#660"/><path d="M437.3 92.4L439.3 93.7L440.6 77.5Z" fill="url(#sb58)"/><path d="M360.2 106.6L361.5 105L358.9 85.6Z" fill="url(#sb53)"/><path d="M425.2 99.6l3-1.9 1-3.7-2.9 5.1z" fill="#d40"/><path class="msb" d="M416.8 93.9l1.1-.4M363.2 100l2-4.4M418.7 99.3l2 3.7M373.2 88.6l1.7 0M374.9 88.6l2.1.4M335 107.6l1.5-9.3M333.9 90.8l2.6 7.5M386.6 78.8l2.1 2.3"/><path d="M439.3 93.7L441.2 92.6L440.6 77.5Z" fill="url(#sb55)"/><path d="M428.9 94.6l2.8-2.5 1.4-6.9-3.1 6z" fill="#650"/><path d="M387.4 88.8l2.5 7.4 1.8-5.7-2.3-8.6z" fill="#fd0"/><path d="M396.1 95.8l2.7-4.4 1.5 4-2.6 3.8z" fill="#e70"/><path d="M340.3 96.7l2-3 2-5.3-1.8 6z" fill="#c60"/><path d="M365 95.9l2.4-3.2 1.7-4.7-2.3 3z" fill="#640"/><path d="M350.1 89.7l2.6 3.5 2.2-1.6-2.5-2.9z" fill="#ec0"/><path d="M357.4 107.8l2.2-4.1 2-1.8-2.1 5.7z" fill="#e30"/><path d="M439.9 95.1L442.4 94.3L442.3 72.9Z" fill="url(#sb4)"/><path d="M357.8 105.9L360.2 106.6L358.9 85.6Z" fill="url(#sb52)"/><path class="msb" d="M430.3 91l2.7-5.4M365.2 95.6l1.7-4.3M352.4 89.1l2.2 2.4"/><path class="esb" d="M357.8 105.9l1.1-20.3M397.6 97.7l-1.7-8.2"/><path d="M336.4 101.9l2-4.2 2.3-1.6-1.9 5.7z" fill="#e50"/><path d="M385.9 98l2.4 7.2 1.9-9.5-2.4-7.2z" fill="#fa0"/><path d="M375 89l1.6.1 2.1-.6-1.5.5z" fill="#a50"/><path d="M424.6 98.4L426.1 99.9L427.2 89.3Z" fill="url(#sb50)"/><path d="M384.2 104.2l2.5 7.9 1.9-7.2-2.4-7.4z" fill="#f60"/><path d="M347.9 87.2l2.6 3 2.2-1-2.5-2.6z" fill="#dd0"/><path d="M345.7 85.9l2 1.4 2.5-.6-1.8-.7z" fill="#640"/><path d="M396 99.1L397.6 97.7L395.9 89.5Z" fill="url(#sb55)"/><path d="M426.1 99.9L428.4 99.1L427.2 89.3Z" fill="url(#sb51)"/><path d="M347.5 86.9l.4.6 2.7-.6-.4-.4z" fill="#bc0"/><path d="M402.1 91.8l2.9-3.7 1.2-4.2-2.6 6.4z" fill="#d70"/><path class="msb" d="M338.8 101.4l1.7-5M387.8 88.9l2.1 7M377 89l1.4-.4M350.5 89.9l1.9-.8M350.2 86.9l2.2 2.2M348.1 86.3l1.7.3M349.8 86.6l.4.3"/><path class="esb" d="M428.4 99.1l-1.2-9.8"/><path d="M376.4 89.1l.8 0 2.3-1.1-.8.5z" fill="#a50"/><path d="M393.8 98L396 99.1L395.9 89.5Z" fill="url(#sb58)"/><path d="M332.6 108l1.7-6.9 2.5.3-1.7 6.5z" fill="#e40"/><path d="M406 84.6l1.5-3 1.5-3.8-1.4 1z" fill="#550"/><path d="M415.3 95.2l2.4 3.9 1.2.5-2.2-6.1z" fill="#e90"/><path d="M381.2 86.7l2.3-1.4 1.7-9.1-2.4 2.9z" fill="#580"/><path d="M352.8 97.9l2.6 6.9 2.1-4.6-2.6-4.5z" fill="#f90"/><path d="M421.7 102.7l2.9-4.2 1.1.6-2.9 5.3z" fill="#e50"/><path d="M377.2 89l2.6.1 1.8-2.9-2.8 2.1z" fill="#770"/><path d="M329.3 90.2l2.5 2.5 2.4-2.1-2 3.7z" fill="#b50"/><path class="msb" d="M402.3 91.5l1.4-1.5M403.7 90l2.4-5.8M378.4 88.6l.7-.4M416.8 93.9l1.9 5.4M381.3 86.4l1.6-7M355.4 104.4l1.8-4.3M421.9 102.5l1 1.6M422.9 104.1l2.5-4.7M379.1 88.2l2.2-1.8"/><path class="esb" d="M356.8 107.3l-3.3-32.4M406.1 89.1l-1.4-12.3M335.4 93.2l-3.4-19.3M386.1 81.2l-1.8-36.6"/><path d="M427.6 97.9l2.6.4 1.5-6.8-2.8 2.5z" fill="#770"/><path d="M388.7 109.4l2.5-6.6 1.6-1.9-2.5 7.6z" fill="#e40"/><path d="M431.4 92.1l2.6-1.1 1.4-5.5-2.5-.3z" fill="#9c0"/><path d="M363.3 100.1l2.3-1.8 1.8-6.2-2.3 3.1z" fill="#640"/><path d="M367 92.7l2.5-3.4 1.8-1.6-2.4.3z" fill="#760"/><path d="M329.7 96.6l3.1 11.4 2.4-.1-3.4-15.9z" fill="#f70"/><path d="M355.3 108.9L356.8 107.3L353.5 74.9Z" fill="url(#sb29)"/><path d="M382.6 109.3l2.5 6.4 1.9-3.8-2.4-7.9z" fill="#f40"/><path d="M404.7 90.5L406.1 89.1L404.7 76.8Z" fill="url(#sb35)"/><path d="M331.6 93L333.1 94.3L332 73.9Z" fill="url(#sb3)"/><path class="msb" d="M332.2 94l1.7-3.2M431.5 91.8l1.5-6.2M433 85.6l2.2.2M363.5 99.7l1.7-4.1M365.2 95.6l2-3.2M332.8 107.7l2.2-.1M384.6 104.3l2.1 7.4"/><path d="M413 78.3l2 8.6 1.2 1.1-2.2-6.2z" fill="#bb0"/><path d="M392.5 101.5l2.6-8.3 1.6 2.3-2.6 5.5z" fill="#e70"/><path d="M333.1 94.3L335.4 93.2L332 73.9Z" fill="url(#sb4)"/><path d="M385.4 85.6l2.4 3.6 1.9-7.1-2.5-6.2z" fill="#ef0"/><path d="M384.2 82.4L386.1 81.2L384.3 44.6Z" fill="url(#sb10)"/><path d="M385 115.7l2.4-7.2 1.7.3-2.6 3.2z" fill="#d20"/><path d="M353.5 111.2l2.3-2.5 2.2-1.2-2.6-3.4z" fill="#a50"/><path d="M402.3 89.6L404.7 90.5L404.7 76.8Z" fill="url(#sb33)"/><path d="M407.3 81.6l1.1-1.9 1.7-2.3-1.2.4z" fill="#860"/><path d="M382.2 81.3L384.2 82.4L384.3 44.6Z" fill="url(#sb9)"/><path d="M342.2 93.7l2.2-1.4 1.8-6.6-2 2.7z" fill="#760"/><path class="msb" d="M392.7 101.2l1.4-.5M394.1 100.7l2.3-4.9M387.8 88.9l1.6-6.6M386.7 111.7l2.2-2.6M355.4 104.4l2.2 3.1"/><path class="esb" d="M387.4 79.8l-1.7-45.4"/><path d="M353 108L355.3 108.9L353.5 74.9Z" fill="url(#sb28)"/><path d="M415.8 104.8l2.3 5.8 1.8-5.6-2.3-6.6z" fill="#f70"/><path d="M383.8 93l2.4 5.2 1.8-9.6-2.4-3.6z" fill="#ff0"/><path d="M433.7 91l1.8-.5 1.3-3.3-1.6-1.7z" fill="#df0"/><path d="M398.4 91.7l2.7-3 1.6 2.8-2.8 4.2z" fill="#e80"/><path d="M435.2 90.4l1.1-.3 1.3-1.6-1-1.4z" fill="#ce0"/><path d="M359.4 104.3l2.4-1.9 1.9-2.9-2.4 2.9z" fill="#c30"/><path d="M440.7 90.2l2.6 1.6.5 3.5-2.6-.7z" fill="#850"/><path d="M383.3 85.2l2.4.5 1.7-9.8-2.4.3z" fill="#8d0"/><path d="M438.6 88.1l2.6 2.2.3 4.3-2.5-2.4z" fill="#650"/><path class="msb" d="M342.3 93.4l1.9-4.7M386.2 97.9l1.6-9M385.6 85.3l2.2 3.6M435.2 85.8l1.4 1.6M436.6 87.4l.7 1.2M441.4 94.3l2.2.7"/><path class="esb" d="M334.4 94.5l-4.1-28M386.1 84.2l2.5-39.2"/><path d="M379.4 89l2.5 1.1 1.8-5.5-2.5 1.5z" fill="#8b0"/><path d="M436 89.8l3-1.6.5 4.1-2.4-4z" fill="#750"/><path d="M338.2 98.3l2.1-1.6 2.2-3.6-2 3.6z" fill="#c40"/><path d="M429.9 98.2l2.5.8 1.7-8.7-2.6 1.1z" fill="#ab0"/><path d="M442.9 91.8l2.7 2.4.6 1-2.8.1z" fill="#740"/><path d="M413.1 92.7l2.5 3.1 1.4-1.7-2.1-7.9z" fill="#fd0"/><path d="M388.1 78.8L389.5 77.4L388 43.4Z" fill="url(#sb10)"/><path d="M350.4 93.3l2.7 5.1 2.1-2.2-2.5-3.7z" fill="#fb0"/><path d="M388.5 85.3L390.2 83.8L388.6 45Z" fill="url(#sb67)"/><path d="M418 110.6l3-8.9 1.1.5-2.9 2.7z" fill="#d40"/><path class="msb" d="M439.3 92l2.1 2.3M379.7 88.8l1.6-2.4M381.3 86.4l2.2-1.5M438.8 88.5l.5 3.5M437.3 88.6l2 3.4M340.5 96.4l1.8-3M430.1 97.9l1.4-6.1M443.6 95l2.3 0M415.6 95.4l1.2-1.5M414.9 86.6l1.9 7.3"/><path class="esb" d="M385.7 77.9l2.3-34.5M430.6 94.1l5.2-36.8"/><path class="rsb" d="M445.2 94.2l.7.8"/><path d="M385.9 81.4L387.4 79.8L385.7 34.4Z" fill="url(#sb67)"/><path d="M404.5 88.6l1.4-1.1 1.7-6.5-1.5 2.9z" fill="#550"/><path d="M384.1 89.8L384.6 88.1L383.1 64.6Z" fill="url(#sb44)"/><path d="M433.6 95.1L434.9 93.3L435.8 57.3Z" fill="url(#sb26)"/><path d="M382.1 97.6l2.5 7.1 1.9-6.9-2.5-5.4z" fill="#fb0"/><path d="M381.6 90l2.4 3.1 1.8-8.1-2.4-.4z" fill="#ff0"/><path d="M386.1 84.2L388.5 85.3L388.6 45Z" fill="url(#sb66)"/><path d="M332.9 96.1L334.4 94.5L330.3 66.5Z" fill="url(#sb26)"/><path d="M385.7 77.9L388.1 78.8L388 43.4Z" fill="url(#sb9)"/><path d="M408.2 79.6l2.8-2.8 1.4 1.9-2.8-1.2z" fill="#650"/><path d="M350.9 103.3l2.8 8 2.1-6.9-2.8-6.7z" fill="#f80"/><path d="M383.3 80.4L385.9 81.4L385.7 34.4Z" fill="url(#sb66)"/><path class="msb" d="M406.1 84.2l1.4-2.9M384.6 104.3l1.6-6.4M383.5 84.9l2.1.4M353.7 110.9l1.7-6.5M353 98.1l2.4 6.3"/><path d="M430.6 94.1L433.6 95.1L435.8 57.3Z" fill="url(#sb25)"/><path d="M344.2 92.3l1.8-.3 2-5.4-1.9-.9z" fill="#bf0"/><path d="M369 89.6l2.5-3.6 2 2.6-2.7-.9z" fill="#a60"/><path d="M424.1 98.9l3-.1 1.1-1.3-3 2.1z" fill="#b40"/><path d="M330.6 95.2L332.9 96.1L330.3 66.5Z" fill="url(#sb25)"/><path d="M325.6 97.9l1.5-8.9 2.6 1.1-1.1 12.7z" fill="#f90"/><path d="M432.2 98.9l1.6 0 1.8-9.1-1.7.5z" fill="#aa0"/><path d="M410.7 76.9l2.6 1.5 1 4.1-2.5-4.2z" fill="#450"/><path d="M348.2 91.9l2.5 1.9 2.3-.8-2.6-3.5z" fill="#ed0"/><path d="M345.8 91.9l.5 0 2.1-4.9-.5-.4z" fill="#df0"/><path d="M381.4 89.4L384.1 89.8L383.1 64.6Z" fill="url(#sb6)"/><path d="M413.8 102.4l2.4 2.7 1.7-6.6-2.4-3.4z" fill="#fc0"/><path d="M346.1 91.8l2.4.5 2.3-2.5-2.6-2.8z" fill="#ef0"/><path class="msb" d="M425.4 99.4l2.4-1.7M410.9 77.1l1.1 1.5"/><path class="esb" d="M404.7 85.5l3-24.7M381.4 89.4l1.7-24.8"/><path class="rsb" d="M325.8 97.6l2.8 4.9"/><path d="M355.5 108.6l2.2-3.9 2.1-1-2.2 4.2z" fill="#d40"/><path d="M365.4 98.3l2.3-2.1 1.8-7.1-2.3 2.9z" fill="#660"/><path d="M433.7 98.9l1-.3 1.7-9.1-.9.3z" fill="#9a0"/><path d="M405.8 87.5l1.1-.4 1.7-8-1.1 1.8z" fill="#570"/><path d="M404.7 85.5L406.4 87L407.7 60.8Z" fill="url(#sb36)"/><path d="M334.1 101.7l2.1-3.7 2.5-.2-2 4.2z" fill="#d60"/><path d="M361.4 102.4l2.5-1.3 1.9-3.4-2.4 1.7z" fill="#740"/><path d="M426.4 98.7l2.7 1.9 1.3-2.8-2.7-.4z" fill="#ba0"/><path d="M340.1 96.6l2.4-.3 2.1-4.6-2.3 1.4z" fill="#780"/><path d="M328.3 108.1l2.2-.2 2.5 0-3.2-11.4z" fill="#f80"/><path class="msb" d="M348.5 91.9l2-2M357.6 107.5l2-3.5M367.2 92.4l2.1-3M407.5 81.3l1-1.9M361.7 102.2l1.8-2.5M427.8 97.7l2.3.2M340.4 96.4l1.9-3M342.3 93.4l2-1.4"/><path d="M411.7 100.3l2.4 2.2 1.7-7.3-2.4-3z" fill="#fe0"/><path d="M406.4 87L408.6 86L407.7 60.8Z" fill="url(#sb37)"/><path d="M381.4 101.8L381.3 103.6L382.8 83.1Z" fill="url(#sb13)"/><path d="M371.1 86.2l2.6-.2 1.9 3.2-2.5-.3z" fill="#860"/><path d="M384.1 103.6L384.1 101.8L382.8 83.1Z" fill="url(#sb14)"/><path d="M400.7 89l2.8-.8 1.5-.1-2.8 3.8z" fill="#c70"/><path d="M414.4 109.8l2.7.8 1.3-.1-2.3-6.1z" fill="#f60"/><path d="M428.6 100.4l2.7 1.6 1.4-3.6-2.7-.8z" fill="#db0"/><path d="M381.1 115l2.6-.4 1.7 1-2.5-6.5z" fill="#f40"/><path d="M411.1 90l2.4 2.9 1.8-6.4-2.2-8.2z" fill="#ef0"/><path class="msb" d="M329.9 96.9l2.9 10.8M414 102.1l1.6-6.7M371.4 86.4l1.8 2.2M401 89.1l1.3 2.4M416.2 104.7l1.9 5.6M429 100.3l1.1-2.4M430.1 97.9l2.3.7"/><path d="M349.2 109.6l2.8 6.2 2-4.7-2.8-8z" fill="#f60"/><path d="M351.8 115.8l2-5.3 2.1-2.4-2.2 2.5z" fill="#c20"/><path d="M380.5 101.6l2.5 8.2 1.9-5.3-2.5-7.2z" fill="#f80"/><path d="M379.9 92.1l2.5 5.9 2-5.3-2.6-3.3z" fill="#fe0"/><path d="M409.5 97.5l2.4 2.9 1.8-8.1-2.4-3z" fill="#ff0"/><path d="M430.9 102l1.8.3 1.3-4-1.7 0z" fill="#990"/><path d="M373.3 86.1l1.7.1 2 3-1.6.2z" fill="#860"/><path d="M434.6 98.6l2.6-1.9 1.7-8.6-2.6 1.3z" fill="#780"/><path d="M406.8 87.1l2.4.6 1.8-10.9-2.5 2.3z" fill="#6b0"/><path d="M342.2 96.2l1.9.3 2.1-5.2-1.8.3z" fill="#9c0"/><path class="msb" d="M413.1 78.6l1.8 8M351.9 115.5l1.8-4.6M383 109.4l1.6-5.1M382.4 97.7l2.2 6.6M432.4 98.6l1.4 0M408.5 79.4l2.4-2.3"/><path d="M330.3 107.8l1.7-6.5 2.5-.1-1.7 6.8z" fill="#e50"/><path d="M412.3 105.9l2.5 4.1 1.7-5.4-2.5-2.8z" fill="#f90"/><path d="M381.3 103.6L384.1 103.6L382.8 83.1Z" fill="url(#sb38)"/><path d="M348.6 99.4l2.7 4.4 2.1-5.8-2.7-4.9z" fill="#fd0"/><path d="M432.5 102.2l1-.1 1.4-4.1-1 .3z" fill="#870"/><path d="M374.8 86.3l.9.2 2.1 2.6-.9.2z" fill="#860"/><path d="M407.4 93.8l2.4 3.7 1.8-8.1-2.4-2.4z" fill="#ff0"/><path d="M387.2 109.2l2.5-5.9 1.7-.4-2.6 6.5z" fill="#e50"/><path d="M375.5 86.6l2.7 2.3 1.8 0-2.6.3z" fill="#650"/><path d="M403 88.6l1.5 1 1.7-2.7-1.5 1.3z" fill="#780"/><path class="msb" d="M344.3 92l1.7-.4M330.5 107.6l2.3.1M332.8 107.7l1.6-6.2M414 102.1l2.2 2.6M350.7 93.5l2.3 4.6M433.8 98.6l.9-.3M388.9 109.1l2.3-5.9"/><path class="esb" d="M381.3 103.6l1.5-20.5M431.4 101l-.4-18.5"/><path d="M344 96.5l.5.1 2.1-5.3-.5 0z" fill="#be0"/><path d="M377.7 88.4l2.6 4.2 1.9-2.8-2.6-1.3z" fill="#ce0"/><path d="M326.9 89l3 8.2 2.3-4.8-2.6-2.3z" fill="#fd0"/><path d="M409 87.7l2.3 2.3 1.9-11.7-2.3-1.5z" fill="#af0"/><path d="M391 103.5l2.6-6.5 1.6-3.7-2.6 8.3z" fill="#e70"/><path d="M363.6 101l2.4-1.6 1.9-3.8-2.5 2z" fill="#640"/><path d="M394.8 93.8l2.7-8 1.6 5.9-2.7 4.4z" fill="#ea0"/><path d="M344.3 96.5l2.4 1 2-5.9-2.3-.4z" fill="#df0"/><path d="M410.2 103.1l2.5 3.1 1.7-4.2-2.6-2.3z" fill="#fb0"/><path d="M405.2 90.4l2.5 3.6 1.7-6.9-2.5-.7z" fill="#ef0"/><path d="M357.4 105.2l2.4-2.6 2.2-.6-2.4 2.4z" fill="#c40"/><path class="msb" d="M346 91.6l.4 0M378 88.6l1.7.2M409.2 87.4l1.7-10.3M410.9 77.1l2.2 1.5M391.2 103.2l1.5-2M396.4 95.8l2.3-4.1M346.4 91.6l2.1.3M412.7 105.9l1.3-3.8M411.9 100l2.1 2.1M407.6 93.6l1.6-6.2"/><path class="esb" d="M379.5 109.2l1.9-21.2M342.2 96.3l1.1-13.9"/><path d="M404.3 89.5l1.2 1.1 1.7-4.1-1.2.3z" fill="#af0"/><path d="M367.5 96.2l2.3-2.8 1.8-7.3-2.3 3z" fill="#660"/><path d="M430.1 102.5L431.4 101L431 82.5Z" fill="url(#sb4)"/><path d="M346.5 97.4l2.5 2.2 2-6.3-2.5-1.7z" fill="#ff0"/><path d="M416.8 110.6l2.9-5 1.3-3.8-3 8.8z" fill="#e50"/><path d="M326.7 116.3l1.4-8.7 2.6-.3-2.2.2z" fill="#620"/><path d="M335.9 98.5l2.2-1.7 2.6-.6-2.2 2.1z" fill="#b50"/><path d="M420.6 102.3l3-5.7 1.1 2.1-2.9 4.2z" fill="#e70"/><path d="M427.6 101.5L430.1 102.5L431 82.5Z" fill="url(#sb3)"/><path d="M433.3 102l2.8-1.2 1.3-4.7-2.9 1.9z" fill="#750"/><path class="msb" d="M359.6 104l2.1-1.8M369.3 89.4l2.1-3M346.7 97.2l1.8-5.3M348.5 91.9l2.2 1.6M418.1 110.3l2.8-8.2M420.9 102.1l1 .4"/><path d="M437 96.7l2.9-2.8 1.3-3.6-2.5-2.2z" fill="#9c0"/><path d="M383.3 114.5l2.5-7.1 1.8 1.2-2.5 7.1z" fill="#f40"/><path d="M378.8 107.5l2.6 7.6 1.9-5.5-2.5-8.2z" fill="#f70"/><path d="M379.5 109.2L381.3 110.6L381.4 88Z" fill="url(#sb13)"/><path d="M408 99.5l2.6 3.9 1.6-3.4-2.5-3.2z" fill="#fc0"/><path d="M381.3 110.6L383.4 109.4L381.4 88Z" fill="url(#sb14)"/><path d="M342.2 96.3L343.9 97.6L343.3 82.4Z" fill="url(#sb58)"/><path d="M343.9 97.6L346.1 96.4L343.3 82.4Z" fill="url(#sb55)"/><path d="M347.5 116.1l2.5.8 2.2-1.3-2.7-6.3z" fill="#f50"/><path d="M346.8 104l2.7 6 2.1-6.7-2.7-4.4z" fill="#fa0"/><path class="msb" d="M434.7 98.3l2.5-1.9M437.2 96.4l1.6-7.9M381.4 114.8l1.6-5.4M409.7 97.2l2.2 2.8M349.5 109.6l2.4 5.9"/><path d="M378.3 94.4l2.5 7.7 1.9-4.2-2.5-6z" fill="#fd0"/><path d="M353.6 111.1l2.3-4.1 2-2.3-2.2 4z" fill="#d40"/><path d="M439.5 93.8l3.2-2.4.8.7-2.7-1.9z" fill="#790"/><path d="M413.1 115.3l3-3.7 1.2-1.6-2.6-.7z" fill="#730"/><path d="M337.9 97.3l2.4.4 2.5-1.9-2.4.2z" fill="#880"/><path d="M379.6 122.1l2.4-7.9 1.8-.2-2.5.4z" fill="#c20"/><path d="M411 108.1l2.3 7.3 1.8-5.8-2.5-4.1z" fill="#f70"/><path d="M377.1 114.7l2.6 7.4 2-7.3-2.6-7.6z" fill="#f50"/><path d="M324.9 93.2l3.6 15 1.7-11.3-3.1-7.9z" fill="#fc0"/><path d="M406 94.9l2.4 5.1 1.7-2.7-2.5-4z" fill="#fd0"/><path class="msb" d="M380.2 92.3l2.2 5.4M338.2 97.2l2.2-.8M381.4 114.8l2.2-.6M379.7 121.7l1.7-6.9M379.1 107.6l2.3 7.2M327.2 89.3l2.7 7.6"/><path class="esb" d="M327.2 92.1l-.4-25.1"/><path d="M359.5 103.1l2.5-2.2 2.1-.3-2.5 1.9z" fill="#c40"/><path d="M365.7 99.4l2.4-1.8 1.8-4.8-2.4 2.7z" fill="#650"/><path d="M349.7 116.9l2.2-4.6 2.1-1.8-2.1 5.3z" fill="#d30"/><path d="M442.1 91.4l2.9.9.5 2.1-2.7-2.5z" fill="#650"/><path d="M327.2 92.1L328.1 93.7L326.8 67Z" fill="url(#sb5)"/><path d="M369.6 93.4l2.4-2.8 1.8-4.6-2.4 0z" fill="#680"/><path d="M344.4 100.5l2.7 3.9 2.2-5.3-2.6-2.3z" fill="#fe0"/><path d="M340 97.4l2 1 2.5-2.4-2-.4z" fill="#9b0"/><path d="M435.8 100.8l2.8-1.5 1.4-6.1-3 2.9z" fill="#660"/><path d="M423.2 96.8l2.9-.3 1 2.4-2.8.3z" fill="#a60"/><path class="msb" d="M407.6 93.6l2.1 3.6M359.8 102.9l1.9-.7M361.7 102.2l2.1-1.5M349.9 116.6l2-1.1M351.9 115.5l1.9-4.7M369.8 93.1l1.6-6.7M371.4 86.4l2.2-.1M435.9 100.5l1.3-4.1M437.2 96.4l2.6-2.8"/><path class="rsb" d="M444.6 92.4l.6 1.8"/><path d="M323 99l3.8 17.3 1.9-8.2-3.6-14.9z" fill="#f90"/><path d="M341.8 98.3l.5.4 2.5-2.7-.5-.1z" fill="#bd0"/><path d="M342.2 98.4l2.6 2.4 2.2-3.8-2.5-1.1z" fill="#ee0"/><path d="M322.9 95.3l2.1-2.1 2.3-4.2-1.4 8.9z" fill="#d90"/><path d="M328.1 93.7L330.8 92.9L326.8 67Z" fill="url(#sb44)"/><path d="M344.9 108.2l2.9 8 2.1-6.5-2.8-6z" fill="#f80"/><path d="M331.8 101.9l2-4.4 2.7.6-2.1 3.7z" fill="#d70"/><path d="M425.7 96.5l2.7 1.4.8 2.7-2.8-1.7z" fill="#740"/><path d="M397.2 85.9l2.7-1.7 1.4 5-2.6 2.9z" fill="#a80"/><path d="M427.9 97.8l2.8 1.1.7 3.1-2.7-1.5z" fill="#750"/><path d="M404 89.8l2.3 5.6 1.6-1.6-2.5-3.8z" fill="#dd0"/><path d="M430.2 98.9l1.8.3.8 3-1.7-.2z" fill="#950"/><path d="M409 103.3l2.4 5.4 1.6-2.7-2.6-3.3z" fill="#f90"/><path class="msb" d="M344.8 100.5l1.9-3.3M325.8 97.6l1.4-8.3M347.1 104l2.4 5.6M334.4 101.5l1.8-3.2M398.7 91.7l2.3-2.6M428.1 98l.9 2.3M406.3 95.1l1.3-1.5M405.5 90.3l2.1 3.3"/><path class="esb" d="M423.5 101.6l-.5-23.4M406.7 91l-1.3-10.7"/><path class="rsb" d="M323.2 95.1l2.6 2.5"/><path d="M346 124.2l1.8-7.3 2.4-.6-2.4-.8z" fill="#610"/><path d="M371.7 90.5l1.5-1.3 2.1-2.9-1.7-.3z" fill="#590"/><path d="M389.5 103.9l2.6-4.7 1.6-2.2-2.6 6.5z" fill="#e70"/><path d="M376.6 102.1l2.6 5.8 1.9-6.1-2.6-7.5z" fill="#fc0"/><path d="M376.1 88.8l2.5 6.2 1.9-2.6-2.5-4.1z" fill="#dd0"/><path d="M421.8 103L423.5 101.6L423 78.2Z" fill="url(#sb4)"/><path d="M361.6 101.4l2.6-1.9 2-.6-2.5 2.2z" fill="#b50"/><path d="M431.7 99.2l1.1 0 .9 2.8-1.1.3z" fill="#a50"/><path d="M419.5 101.8L421.8 103L423 78.2Z" fill="url(#sb3)"/><path d="M328 108.2l1.8-5.7 2.5-1.1-1.8 6.5z" fill="#e60"/><path class="msb" d="M411.3 108.3l1.4-2.4M373.6 86.3l1.4.3M389.7 103.6l1.5-.4M391.2 103.2l2.3-5.9M378 88.6l2.2 3.7M363.8 100.7l2.1-1.6"/><path d="M375.5 120.3l2.6 2 1.9-.3-2.5-7.7z" fill="#f30"/><path d="M415.5 111.9l3.1-3.1 1.1-3.2-2.9 5z" fill="#d40"/><path d="M406.1 92.7L406.7 91L405.4 80.3Z" fill="url(#sb35)"/><path d="M419.4 106.2l2.8-2.8 1.5-6.8-3.2 5.5z" fill="#640"/><path d="M324.1 115.1l1.5-7.9 2.7.4-1.5 8.7z" fill="#f50"/><path d="M373 89.1l.9-.4 2.2-2.1-.9-.4z" fill="#6a0"/><path d="M367.8 97.5l2.4-1.2 1.9-6.4-2.4 2.8z" fill="#660"/><path d="M355.6 107.6l2.3-3.8 2.1-1.1-2.4 2.5z" fill="#c50"/><path d="M438.3 99.3l2.6.1 1.6-8.1-2.8 1.9z" fill="#7a0"/><path d="M403 87.8l1.1 2.6 1.7.1-1-1.4z" fill="#ac0"/><path class="msb" d="M328.2 107.9l2.3-.3M419.5 105.9l1.4-3.8M420.9 102.1l2.6-5.2M326.8 115.9l1.4-8M375 86.6l.8.2M368 97.2l1.8-4.1M439.8 93.6l2.5-2"/><path class="esb" d="M373.9 90.6l-2.1-11.9"/><path d="M321.3 108.2l3 7 2.6 1-3.7-17.2z" fill="#f70"/><path d="M343.1 113.1l3 11.1 2-8.2-2.9-8z" fill="#f50"/><path d="M399.6 84.2l2.6 1.6 1.4 3-2.6.6z" fill="#660"/><path d="M373.7 88.5l2.7.8 2-.6-2.7-2.2z" fill="#8c0"/><path d="M393.4 97.6l2.8-5.4 1.4-6.4-2.7 8.1z" fill="#b80"/><path d="M374.9 109.6l2.6 5.4 2-7.5-2.6-5.8z" fill="#fa0"/><path d="M401.9 85.8l1.3 2.5 1.6 1.2-1.5-.6z" fill="#540"/><path d="M432.4 99.4l3 .3.9.8-3 1.5z" fill="#b60"/><path d="M403.4 92.3L406.1 92.7L405.4 80.3Z" fill="url(#sb34)"/><path d="M409.6 111.8l2.4 6.1 1.5-2.6-2.2-7.3z" fill="#f60"/><path class="msb" d="M404.6 89.3l.9 1M323.2 99.3l3.6 16.6M399.8 84.5l1.2 4.6M401 89.1l2.3-.6M376.3 89l1.7-.4M375.8 86.8l2.2 1.8M376.9 102l2.2 5.6M403.3 88.5l1.3.8"/><path d="M385.6 108l2.6-5.3 1.7.7-2.6 5.8z" fill="#e70"/><path d="M372 91.9L373.9 90.6L371.8 78.7Z" fill="url(#sb43)"/><path d="M406.9 98.7l2.4 5.2 1.5-.6-2.5-4z" fill="#ea0"/><path d="M440.6 99.3l2.4 2.6 1.8-9.8-2.5-.9z" fill="#ff0"/><path d="M370 90.7L372 91.9L371.8 78.7Z" fill="url(#sb42)"/><path d="M342.4 102.9l2.8 5.8 2.3-4.7-2.7-3.9z" fill="#fb0"/><path d="M333.5 97.9l2.4-1.5 2.7.7-2.3 1.6z" fill="#b60"/><path d="M411.8 117.9l2.9-6 1.3-.5-2.9 3.9z" fill="#d40"/><path d="M392.5 95.4L393.2 97.2L395 58Z" fill="url(#sb47)"/><path d="M351.7 112.9l2.2-3.8 2.1-2-2.2 4.1z" fill="#d40"/><path class="msb" d="M411.3 108.3l2 6.7M442.3 91.6l2.3.8M344.8 100.5l2.3 3.5M336.2 98.3l2-1.1M413.3 115l2.5-3.4"/><path class="rsb" d="M442.9 101.6l1.7-9.2"/><path d="M363.7 100l2.7-.6 1.9-2.4-2.6 2.4z" fill="#b50"/><path d="M377.9 122.2l2.4-6.5 1.8-1.5-2.4 7.9z" fill="#e30"/><path d="M439.2 104.2l2.2 5 1.8-7.9-2.4-2.6z" fill="#fe0"/><path d="M434.8 99.8l2.8 1.6 1.1-2.6-3.1 1.8z" fill="#940"/><path d="M381.8 114.8l2.4-7 1.8-.4-2.5 7.2z" fill="#e50"/><path d="M370 96.2l1.6-.1 1.8-7.6-1.5 1.4z" fill="#690"/><path d="M340.7 99.6L342.3 101.1L340.5 64.8Z" fill="url(#sb47)"/><path d="M373.2 114.7l2.6 5.8 2-5.8-2.6-5.6z" fill="#f70"/><path d="M374.4 98.3l2.5 4.1 2-7.9-2.6-5.8z" fill="#ff0"/><path d="M393.2 97.2L395.9 96.9L395 58Z" fill="url(#sb49)"/><path class="msb" d="M353.8 110.8l2-3.4M365.9 99.1l2.1-1.9M378 121.9l1.7-.2M435.1 99.9l.8.6M383.6 114.2l2.2-6.5"/><path class="esb" d="M344.6 99.9l-4.1-35.1M395.9 96.9l-.9-38.9"/><path class="rsb" d="M441.4 108.8l1.5-7.2"/><path d="M342.3 101.1L344.6 99.9L340.5 64.8Z" fill="url(#sb48)"/><path d="M335.6 96.7l2.4.8 2.7-.2-2.4-.1z" fill="#850"/><path d="M320.4 123.1l1.2-9.5 3 1.2-3-6.8z" fill="#740"/><path d="M437 101.1l2.5 3.3 1.6-5.6-2.8-.1z" fill="#ff0"/><path d="M340.1 99.2l2.7 4.2 2.3-2.9-2.6-2.5z" fill="#fd0"/><path d="M372.7 105.1l2.6 4.7 1.9-8-2.6-4.1z" fill="#fe0"/><path d="M371.5 96.1l.9.2 1.8-8.2-.9.4z" fill="#8d0"/><path d="M404.8 93.6l2.4 5.7 1.4.6-2.4-5.2z" fill="#db0"/><path d="M347.6 117.5l2.2-4.6 2.3-.5-2.2 4.5z" fill="#e40"/><path d="M421.9 103.4l2.8-2.6 1.4-4.3-2.6.1z" fill="#780"/><path d="M357.6 104.4l2.4-3.7 2.2.4-2.5 2.2z" fill="#d60"/><path d="M418 109.2l2.8-1.6 1.4-4.8-2.9 2.9z" fill="#640"/><path class="msb" d="M335.9 96.8l2.3.4M338.2 97.2l2.1.1M342.7 103l2.1-2.5M342.5 98.4l2.3 2.1M374.6 98l2.3 4M347.9 117.3l2-.7M423.5 96.9l2.4-.1M357.9 104.1l1.9-1.2"/><path d="M337.8 97.2l2.1 2 2.5-1.1-1.9-1.1z" fill="#ab0"/><path d="M339.6 98.9l.5.7 2.8-1.3-.5-.4z" fill="#dd0"/><path d="M320.3 93.4l2.9 6.3 2.2-6.4-2 1.5z" fill="#df0"/><path d="M341.2 119.6l2.7 4 2.4.5-3-11.1z" fill="#f40"/><path d="M372.2 96.3l2.5 2.1 1.8-9.7-2.4-.6z" fill="#cf0"/><path d="M365.9 99.3l2.6.5 1.9-4.1-2.5 1.2z" fill="#790"/><path d="M391.8 99.8l2.7-2.4 1.5-5.4-2.7 5.6z" fill="#b70"/><path d="M407.7 104.4l2.2 7.9 1.7-3.8-2.4-5.3z" fill="#fa0"/><path d="M373.9 125.8l2.7-3.8 1.8-.2-2.6-2z" fill="#720"/><path d="M343.7 123.5l2-6.4 2.3-.1-1.9 7.2z" fill="#e30"/><path class="msb" d="M418.2 108.9l1.3-3M340.3 97.3l1.8.8M342.1 98.1l.4.3M343.3 113.4l2.8 10.4M374.6 98l1.7-9M366.2 99.1l1.8-1.9M368 97.2l2.2-1.3M393.5 97.3l2.4-5M409.9 112l1.4-3.7M409.2 103.5l2.1 4.8M375.8 120.2l2.2 1.7"/><path class="rsb" d="M320.6 93.6l2.6 1.5"/><path d="M329.6 103.1l2-3.8 2.5-1.7-2 4.4z" fill="#d70"/><path d="M370.4 101.6l2.6 3.6 1.9-7.4-2.5-2.2z" fill="#ff0"/><path d="M368.2 99.7l1.7 1.2 1.9-5.4-1.6.1z" fill="#cf0"/><path d="M408.1 119.6l2.7-1.2 1.4-.6-2.3-6.2z" fill="#f80"/><path d="M438.1 106.6l2 7.4 1.7-5.1-2.3-5.2z" fill="#fa0"/><path d="M369.7 100.8l.9 1 2-6.1-.9-.3z" fill="#ff0"/><path d="M395.7 92.6l2.7-3.3 1.6-5.1-2.6 1.6z" fill="#460"/><path d="M340.4 106l3 7.7 2.2-5.2-2.9-5.8zM370.9 109.8l2.7 5.3 2-5.7-2.7-4.9z" fill="#fa0"/><path d="M371.5 119.1l2.6 6.7 2.1-5.6-2.7-5.8z" fill="#f50"/><path class="msb" d="M346.1 123.8l1.8-6.5M373 104.9l1.6-6.9M372.4 96l2.2 2M370.2 95.9l1.4-.1M439.5 104.1l1.9 4.7M371.6 95.8l.8.2"/><path class="rsb" d="M440.1 113.7l1.3-4.9"/><path d="M353.7 109.8l2.3-3.3 2.1-2.7-2.3 3.9z" fill="#c50"/><path d="M339.5 128.5L340.6 130.3L339.3 98.5Z" fill="url(#sb61)"/><path d="M424.4 100.8l3-3.7 1.1.9-2.7-1.5z" fill="#a50"/><path d="M387.8 103.2l2.7-3.2 1.7-.7-2.6 4.7z" fill="#d80"/><path d="M414.3 112.5l2.9-3.1 1.3-.7-2.9 3.2z" fill="#d50"/><path d="M402.7 88.2l2.4 6 1.4 1.2-2.4-5.7z" fill="#ab0"/><path d="M340.6 130.3L343.2 129.4L339.3 98.5Z" fill="url(#sb62)"/><path d="M359.6 101.1l2.6-1.4 2.2.1-2.5 1.8z" fill="#b60"/><path d="M325.5 107.8l1.8-5.3 2.7.1-1.8 5.7z" fill="#e80"/><path d="M420.5 107.6l2.8-1.9 1.4-5.5-2.8 2.6z" fill="#650"/><path class="msb" d="M373.5 114.7l2.3 5.5M355.8 107.4l2.1-3.3M425.9 96.8l2.2 1.2M388.1 103l1.6.6M415.8 111.6l2.4-2.7M405 93.9l1.3 1.2M325.7 107.6l2.5.3M328.2 107.9l1.6-5.1"/><path class="esb" d="M343.2 129.4l-3.9-30.9"/><path d="M405.4 101.2l2.6 3.8 1.5-1.2-2.4-5.2z" fill="#fd0"/><path d="M398 89.3l2.7-1.1 1.7-2.3-2.7-1.7z" fill="#5d0"/><path d="M368.6 105.4l2.7 4.8 2-5.4-2.6-3.7z" fill="#fe0"/><path d="M317.8 122.7l1.2-9.6 2.8.5-1.2 9.5z" fill="#f40"/><path d="M349.5 113.5l2.3-3.6 2.3-.7-2.2 3.8z" fill="#d50"/><path d="M394.1 97.4l2.5-.6 1.8-8.1-2.6 3.2z" fill="#570"/><path d="M401.6 87.9l1.1.3 1.7 2.2-1-2.6z" fill="#7b0"/><path d="M405.9 112.2l2.4 7.5 1.9-7.8-2.3-7.6z" fill="#fa0"/><path d="M317.9 94.3l3.7 14.4 2-9.3-3.1-6.2z" fill="#fd0"/><path d="M321.5 114.2l1.6-7.5 2.8.6-1.6 7.9z" fill="#e70"/><path class="msb" d="M407.1 99l2.1 4.5M398.2 89l1.6-4.5M371.2 109.8l1.8-4.9M320.5 122.8l1.2-8.9M395.9 92.3l2.3-3.3M408.3 119.3l1.6-7.3M320.6 93.6l2.6 5.7"/><path class="esb" d="M354.2 106.8l.6-31"/><path class="rsb" d="M318.1 94.6l2.5-1"/><path d="M426.8 97.4l3.2-4.1.6 6.1-2.7-1.1z" fill="#a70"/><path d="M410.5 118.4l2.9-6.6 1.3.2-2.9 5.9z" fill="#e50"/><path d="M331.4 99.8l2.2-1.5 2.6-1.7-2.2 1z" fill="#a50"/><path d="M400.2 88l1.6.4 1.8-.1-1.5-2.6z" fill="#7d0"/><path d="M436.3 100.6l2.1 6.6 1.4-3-2.5-3.5z" fill="#fc0"/><path d="M361.8 100l2.7.6 2-1.6-2.6.9z" fill="#950"/><path d="M339.6 127.2l2-4 2.6.1-2.7-4z" fill="#840"/><path d="M384 108.4l2.6-5.9 1.7.2-2.5 5.4z" fill="#e80"/><path d="M380.1 116.3l2.5-5.3 1.7-3.2-2.4 7.1z" fill="#e50"/><path d="M337.9 100.9l2.8 5.7 2.4-3.5-2.7-4.1z" fill="#fe0"/><path d="M338.5 111.2l3 8.8 2.2-6.5-3-7.6z" fill="#f90"/><path class="msb" d="M427.2 97.3l.9.7M428.1 98l2.3 1.2M437.4 101.1l2.1 3M385.8 107.7l2.3-4.7M340.7 106.2l2-3.2"/><path d="M376.1 122.6l2.5-5.5 1.8-1.4-2.4 6.6z" fill="#e40"/><path d="M369.1 113.8l2.7 5.8 2.1-4.8-2.7-5.3z" fill="#f90"/><path d="M406.5 127.4l3-7.1 1.4-2.5-2.7 1.2z" fill="#620"/><path d="M354.2 106.8L355.4 108.5L354.8 75.8Z" fill="url(#sb25)"/><path d="M315.9 99.7l4.6 23.4 1.4-14.5-3.8-14.4z" fill="#fb0"/><path d="M367.9 104.3l1 1.5 2-4.6-.9-1z" fill="#ff0"/><path d="M416.7 109.9l3.1-2 1.2-.8-3.1 2z" fill="#c50"/><path d="M369.7 124l2.7 5.5 2-3.8-2.6-6.8z" fill="#f40"/><path d="M404.3 118.7l2.4 8.7 1.9-8.1-2.3-7.5z" fill="#f60"/><path d="M390.1 100.5l2.8-.5 1.6-3.1-2.8 2.9z" fill="#a50"/><path class="msb" d="M340.7 106.2l2.6 7.2M376.3 122.3l1.7-.4M378 121.9l2.3-5.9M371.2 109.8l2.3 4.9M408.3 119.3l2.4-1.2M417 109.7l1.2-.8M418.2 108.9l2.5-1.6M406.7 127l1.6-7.7M406.3 112.2l2 7.1"/><path class="rsb" d="M316.1 100l2-5.4"/><path d="M403.1 99.7l2.7 2 1.7-2.6-2.5-5.6z" fill="#ef0"/><path d="M355.7 107l2.5-2.1 1.9-4.1-2.3 3.4z" fill="#650"/><path d="M364 100.3l2.7 2.2 2.1-3.1-2.6-.7z" fill="#bd0"/><path d="M366.3 102.2l1.8 2.3 2.1-4.1-1.7-1.3z" fill="#ff0"/><path d="M355.4 108.5L358 107.6L354.8 75.8Z" fill="url(#sb26)"/><path d="M429.7 93.3l1.7.2.6 6.3-1.6-.3z" fill="#870"/><path d="M333.4 98.3l2.5.6 2.5-1.7-2.5-.8z" fill="#7b0"/><path d="M337.4 100.5l.6.8 2.7-2.1-.6-.6z" fill="#de0"/><path d="M437.2 108.6l1.8 9 1.3-3.6-2-7.5z" fill="#f90"/><path d="M434.3 96.3l2.4 4.9.9.1-2.8-1.3z" fill="#640"/><path d="M431.3 93.5l.9.4.6 6-.9-.1z" fill="#860"/><path class="msb" d="M405 93.9l2.1 5.1M355.9 106.7l2-2.6M357.9 104.1l2-3M364.3 100.3l1.9-1.2M430.4 99.2l1.5.3M333.7 98.2l2.2-1.4M435.1 99.9l2.3 1.2"/><path class="esb" d="M364.3 100.2l-2.7-20.7M405 100.5l-.8-20.3"/><path class="rsb" d="M439 117.3l1.1-3.6"/><path d="M372.2 129.5l2.4-6.8 1.9-.7-2.5 3.8z" fill="#d20"/><path d="M396.4 96.7l2.5.7 1.8-9.8-2.5 1.1z" fill="#7d0"/><path d="M335.5 98.5l2.2 2.2 2.6-1.8-2.2-1.9z" fill="#ce0"/><path d="M314.2 108.8l3.7 13.9 2.7.4-4.6-23.5z" fill="#f80"/><path d="M432.1 94l2.6 2.3.6 3.9-2.7-.3z" fill="#760"/><path d="M423 105.7l2.9-2.7 1.4-6-2.9 3.2z" fill="#660"/><path d="M345.4 117.7l2.2-4.7 2.4 0-2.1 4.6z" fill="#e50"/><path d="M362.7 101.8L364.3 100.2L361.6 79.5Z" fill="url(#sb44)"/><path d="M401 98.5l2.5 1.4 1.8-6.2-2.4-5.6z" fill="#cf0"/><path d="M336.6 116.6l3.2 10.6 2-7.4-3-8.8z" fill="#f70"/><path class="msb" d="M431.9 99.5l.8.1M396.6 96.4l1.6-7.4M398.2 89l2.4-1.1M316.1 100l4.4 22.8M434.5 96.6l.6 3.3M432.7 99.6l2.4.3M345.7 117.5l2.2-.2M347.9 117.3l1.9-4M403.4 99.5l1.6-5.6M402.9 88.5l2.1 5.4"/><path class="esb" d="M341.6 109l-3.9-27.6M434.6 96.3l.8-30"/><path class="rsb" d="M314.4 109.1l1.7-9.1"/><path d="M398.8 97.3l1.4.7 1.8-10.3-1.4-.2z" fill="#9f0"/><path d="M392.4 99.9l2.7 1.1 1.7-4.8-2.6.6z" fill="#8d0"/><path d="M403.8 108.4l2.5 4.1 1.8-8.1-2.4-3.4z" fill="#ff0"/><path d="M360.3 100.8L362.7 101.8L361.6 79.5Z" fill="url(#sb5)"/><path d="M404.7 102.4L405 100.5L404.2 80.2Z" fill="url(#sb44)"/><path d="M327.1 103l2.1-3.2 2.7-.4-2 3.8z" fill="#c80"/><path d="M400.1 98l1 .5 1.9-10.4-1.1-.4z" fill="#9f0"/><path d="M351.6 110.4l2.4-2.7 2.2-1.2-2.3 3.3z" fill="#c60"/><path d="M366.8 109l2.7 5.3 2.1-4.4-2.7-4.8z" fill="#fc0"/><path d="M340.3 110.8L341.6 109L337.7 81.4Z" fill="url(#sb26)"/><path d="M419.2 108.3l3.1-2.1 1.1-1-3 2.3z" fill="#c50"/><path class="msb" d="M400.6 87.9l1.3.1M329.8 102.8l1.9-3.2M401.9 88l1 .5M369.5 113.9l1.7-4.1M368.9 105.4l2.3 4.4"/><path d="M394.7 100.9l2.6 1.8 1.8-5.9-2.5-.7z" fill="#cf0"/><path d="M434.3 98.2L434.6 96.3L435.4 66.3Z" fill="url(#sb10)"/><path d="M402.7 125.4l2.7 2.5 1.5-.6-2.2-8.9z" fill="#f50"/><path d="M397.1 102.7l1.5 1 1.8-6.4-1.5-.6z" fill="#df0"/><path d="M401.6 106.1l2.5 2.4 1.8-7.4-2.5-1.9z" fill="#ff0"/><path d="M341.4 123.5l2-6.1 2.5-.2-2 6.4z" fill="#e40"/><path d="M398.4 103.7l1.1.8 1.8-6.6-1.1-.6z" fill="#ef0"/><path d="M357.8 104.8l2.5-1.2 2.1-3.8-2.5.9z" fill="#780"/><path d="M399.3 104.4l2.6 1.8 1.8-7-2.6-1.4z" fill="#ef0"/><path d="M367.3 118.5l2.8 5.9 2.1-5.1-2.7-5.7z" fill="#f80"/><path class="msb" d="M420.7 107.3l2.5-1.9M395 100.7l1.6-4.3M359.9 101.1l2.2-1.1M401.8 105.8l1.6-6.3"/><path d="M401.8 102.1L404.7 102.4L404.2 80.2Z" fill="url(#sb6)"/><path d="M337.7 110.1L340.3 110.8L337.7 81.4Z" fill="url(#sb27)"/><path d="M335.9 105.2l2.9 6.5 2.3-5.4-2.9-5.6z" fill="#fe0"/><path d="M386.2 103l2.8-2.4 1.7-.5-2.7 3.2z" fill="#b70"/><path d="M402.2 113.4l2.5 5.7 1.9-7.1-2.5-4.2z" fill="#fb0"/><path d="M413.1 112.3l2.9-4 1.3 1.3-2.9 3z" fill="#d70"/><path d="M431.1 97.8L434.3 98.2L435.4 66.3Z" fill="url(#sb41)"/><path d="M366 107.7l1.1 1.7 2.1-4.2-1-1.4z" fill="#fe0"/><path d="M399.3 104.5L401 103L399.3 92.9Z" fill="url(#sb35)"/><path d="M368 130.1l2.6-.1 2.1-.7-2.7-5.6z" fill="#f40"/><path class="msb" d="M338.8 111.4l1.9-5.2M338.2 101l2.5 5.2M386.5 102.8l1.6.2M388.1 103l2.3-2.7M404.1 108.1l2.2 4.1M368.1 104.1l.8 1.3"/><path class="esb" d="M397 103.3l2.3-10.4M421 107.5l.5-31.1"/><path d="M312.9 122l2.3-.4 2.9 1.1-3.7-14z" fill="#f80"/><path d="M397 103.3L399.3 104.5L399.3 92.9Z" fill="url(#sb33)"/><path d="M435.4 115.8l2.2 7 1.6-5.3-1.9-8.9z" fill="#f90"/><path d="M337.6 131l1.7-8.1 2.5 0-2 4.3z" fill="#e30"/><path d="M334.6 122.8l3.1 8.2 2.3-3.9-3.2-10.6z" fill="#f50"/><path d="M405.1 127.8l2.9-5.6 1.5-1.9-2.9 7.1z" fill="#e30"/><path d="M364.4 105.2l1.9 2.7 2.1-3.9-1.8-2.2z" fill="#ff0"/><path d="M360 103.5l2.5.2 2.1-3.6-2.5-.4z" fill="#8d0"/><path d="M382.4 111.7l2.6-3.4 1.6-5.8-2.6 5.9z" fill="#c70"/><path d="M378.3 117.8l2.7-4 1.7-2.7-2.5 5.2z" fill="#d50"/><path class="msb" d="M370.1 124l2.3 5.2M437.3 108.9l1.7 8.4M339.7 126.9l1.9-3.7M336.9 116.9l2.8 10M405.3 127.5l1.4-.5M366.6 102.1l1.5 2M362.1 100l2.2.3"/><path class="rsb" d="M313.1 121.7l1.3-12.6M437.6 122.5l1.4-5.2"/><path d="M409.1 120.9l3-5.2 1.4-3.9-3 6.6z" fill="#d50"/><path d="M322.9 107.3l1.9-5 2.8.3-1.8 5.3z" fill="#e90"/><path d="M425.6 103l2.9-3 1.5-6.7-3 3.7z" fill="#560"/><path d="M329 100.3l2.3-.3 2.7-2-2.2 1.9z" fill="#950"/><path d="M362.2 103.5l2.6 2 2.2-3.5-2.7-2.1z" fill="#df0"/><path d="M435.4 100.7l1.9 8.5 1.2-2-2-6.7z" fill="#fc0"/><path d="M353.7 108.2l2.5-1.1 2.1-2.8-2.4 2.7z" fill="#b50"/><path d="M420.9 109.4L421 107.5L421.5 76.4Z" fill="url(#sb48)"/><path d="M335.5 104.7l.6 1 2.3-5-.5-.7z" fill="#ff0"/><path d="M347.4 113.6l2.3-3.5 2.4-.1-2.3 3.6z" fill="#d60"/><path class="msb" d="M380.3 116l2.2-4.6M410.7 118.1l2.6-6M323.1 107.1l2.6.5M425.7 102.7l1.5-5.4M331.7 99.6l2-1.4M362.5 103.4l1.8-3.1M364.3 100.3l2.3 1.8M353.9 108l2-1.3M337.7 100.4l.5.6"/><path d="M421.7 106.6l3.2-2.1 1.1-2.1-3.1 3.2z" fill="#c60"/><path d="M400 109.8l2.6 3.9 1.8-5.7-2.6-2.5z" fill="#ff0"/><path d="M365 114.2l2.7 4.8 2.1-5.1-2.7-5.2z" fill="#fb0"/><path d="M388.5 101l2.8.5 1.8-1.9-3 .6z" fill="#750"/><path d="M374.3 123.3l2.6-4.7 1.8-1.4-2.4 5.4z" fill="#e50"/><path d="M333.4 101.5l2.3 3.2 2.4-4.5-2.2-2z" fill="#ef0"/><path d="M400.6 118.1l2.5 7.5 1.9-6.8-2.5-5.8z" fill="#f90"/><path d="M331.1 99.7l2.6 2.1 2.5-3.4-2.5-.6z" fill="#9e0"/><path d="M365.6 123.5l2.7 6.7 2.1-6.2-2.7-5.7z" fill="#f60"/><path d="M433.9 122.6l2.2 6.7 1.9-6.8-2.2-7z" fill="#f70"/><path class="msb" d="M349.8 113.3l2-3.1M423.2 105.4l2.5-2.7M401.8 105.8l2.3 2.3M367.7 118.6l1.8-4.7M390.4 100.3l2.3-.6M374.6 123l1.7-.7M335.9 98.6l1.8 1.8M331.4 99.7l2.3-1.5M333.7 98.2l2.2.4M367.7 118.6l2.4 5.4"/><path class="esb" d="M398.6 136.2l2.8-30.7"/><path d="M315 121.6l1.4-8.4 2.8-.1-1.2 9.6z" fill="#f60"/><path d="M318.9 113.7l1.6-6.7 2.8-.2-1.5 7.5z" fill="#e80"/><path d="M397.7 107.1l2.7 2.9 1.8-4.3-2.7-1.9z" fill="#ff0"/><path d="M396.8 106.2l1.2 1.2 1.8-3.5-1.2-.9z" fill="#ef0"/><path d="M333.9 126.6L334 128.6L333 97Z" fill="url(#sb28)"/><path d="M418 109.2L420.9 109.4L421.5 76.4Z" fill="url(#sb49)"/><path d="M395.4 104.9l1.6 1.5 1.9-3.2-1.6-1.2z" fill="#df0"/><path d="M370.4 129.9l2.4-5.7 1.9-1.5-2.3 6.8z" fill="#e30"/><path d="M390.8 101.2l2.7 1.9 1.9-2.5-2.8-1.2z" fill="#ad0"/><path d="M333.8 109.3l3.1 7.9 2.2-5.7-2.9-6.5z" fill="#fc0"/><path class="msb" d="M321.7 113.9l1.4-6.8M400.3 109.7l1.5-3.9M399.6 104.1l2.2 1.7M398.6 103.4l1 .7M397.3 102.4l1.3 1M372.4 129.2l2.2-6.2M392.7 99.7l2.3 1"/><path class="rsb" d="M436.1 129l1.5-6.5"/><path d="M393.1 102.7l2.7 2.4 1.8-2.8-2.6-1.9z" fill="#cf0"/><path d="M401.3 132.8l3-4.3 1.3-1.1-2.6-2.5z" fill="#730"/><path d="M415.6 108.7l3-2.8 1.3 2.2-3 1.9z" fill="#d70"/><path d="M311.4 131.2l.9-10.5 3.1.3-2.3.4z" fill="#d40"/><path d="M398.6 136.2L399.4 138.2L401.4 105.5Z" fill="url(#sb61)"/><path d="M364.3 113.1l1 1.4 2-5.7-1-1.6z" fill="#fe0"/><path d="M428.2 100l1.8-1.4 1.5-5.1-1.6-.3z" fill="#5a0"/><path d="M355.8 107l2.6.1 2.1-4.1-2.5 1.2z" fill="#790"/><path d="M334 128.6L336.9 128.4L333 97Z" fill="url(#sb45)"/><path d="M433.1 97.7l2.6 3.7 1-.3-2.3-4.8z" fill="#ad0"/><path class="msb" d="M336.9 116.9l1.9-5.5M393.5 102.7l1.5-2M395 100.7l2.3 1.7M403.1 125.2l2.2 2.3M415.9 108.6l1.1 1.1M313.1 121.7l2.1-.4"/><path class="esb" d="M372.1 129.6l-2.4-27.9M336.9 128.4l-3.9-31.4"/><path class="rsb" d="M311.5 130.9l1.6-9.2"/><path d="M332.8 130.2l2.5.2 2.7.5-3.1-8.3z" fill="#f50"/><path d="M343.2 118l2.2-4.5 2.5-.4-2.2 4.7z" fill="#e60"/><path d="M362.7 110.8l1.8 2.3 2.1-5.8-1.8-2.5z" fill="#ff0"/><path d="M429.9 98.5l1-.5 1.5-4-1-.5z" fill="#6c0"/><path d="M399.1 123.7l2.3 9.2 2-7.6-2.4-7.5z" fill="#f60"/><path d="M432.6 127.4l2.1 8.4 1.8-6.8-2.2-6.8z" fill="#f50"/><path d="M399.4 138.2L402.2 137.7L401.4 105.5Z" fill="url(#sb63)"/><path d="M424.3 104.8l3-1.2 1.3-4.2-3.2 3.3z" fill="#550"/><path d="M384.7 108.3l2.5-2 1.8-5.6-2.6 1.8z" fill="#670"/><path d="M366.4 137.1l2.3-6.9 2.1-.8-2.5.1z" fill="#610"/><path d="M433.5 110.3l2.3 5.9 1.9-7.3-2.1-8.2z" fill="#fe0"/><path d="M380.6 114.4l2.7-2 1.7-4.7-2.8 3.7z" fill="#640"/><path class="msb" d="M343.5 117.8l2.2-.3M401 118.2l2.1 7M434.3 122.6l1.8 6.4M424.5 104.6l1.2-1.9M425.7 102.7l2.7-3M384.8 108l1.7-5.2M435.6 101l1.7 7.9"/><path class="rsb" d="M434.6 135.4l1.5-6.4"/><path d="M349.4 110.6l2.5-2.2 2.3-.6-2.4 2.8z" fill="#c60"/><path d="M430.7 97.9l2.8.3 1.3-1.6-2.7-2.7z" fill="#8f0"/><path d="M363.8 128.5l2.8 8.6 2-7.2-2.7-6.6z" fill="#f40"/><path d="M358.1 106.9l2.6 1.5 2-5.3-2.5-.2z" fill="#bf0"/><path d="M324.6 102.8l2.2-2.5 2.8-.3-2.1 3.2z" fill="#a70"/><path d="M360.3 108.2l2.7 2.7 2.1-6-2.6-1.9z" fill="#ff0"/><path d="M371 131.6L372.1 129.6L369.7 101.7Z" fill="url(#sb29)"/><path d="M333.4 108.6l.6 1.2 2.4-4.7-.6-1z" fill="#fe0"/><path d="M398.4 112.9l2.6 5.6 1.9-5.2-2.6-4z" fill="#fc0"/><path d="M363.1 118.6l2.8 5.4 2.1-5.4-2.7-4.8z" fill="#fa0"/><path class="msb" d="M382.5 111.4l2.3-3.4M351.8 110.2l2.1-2.2M433.4 97.9l1.1-1.3M360.6 108.1l1.9-4.7"/><path d="M407.7 122.9l3-4.8 1.4-2.5-3 5.3z" fill="#d50"/><path d="M331.8 114.2l3.2 9.1 2.2-6.3-3.1-7.9z" fill="#fb0"/><path d="M368.3 130.8L371 131.6L369.7 101.7Z" fill="url(#sb45)"/><path d="M432 116.9l2.3 6 1.8-7.2-2.3-5.9z" fill="#fb0"/><path d="M411.7 116.2l3.1-5.1 1.3-2.8-3.1 3.9z" fill="#d60"/><path d="M418.1 106.2l3-2.1 1.3 2.3-3 2z" fill="#b70"/><path d="M339.1 123.6l2.1-5.8 2.5-.3-2 6.1z" fill="#e60"/><path d="M376.6 119.2l2.7-3.2 1.7-2.1-2.6 3.9z" fill="#d50"/><path d="M331.2 104.2l2.4 4.4 2.5-4.2-2.4-3.3z" fill="#ef0"/><path d="M403.7 128.8l2.9-5.5 1.5-1-2.9 5.6z" fill="#e40"/><path class="msb" d="M365.9 123.6l1.8-5M365.3 114.2l2.4 4.4M335 122.9l1.9-6M334.1 109.5l2.8 7.4M413.3 112.1l2.6-3.5M341.6 123.2l1.9-5.4"/><path class="esb" d="M317.7 110.2l-.8-27.4"/><path d="M426.9 103.6l1.7 0 1.6-5.7-1.9 1.5z" fill="#580"/><path d="M362.4 117.3l1 1.7 2.2-5.1-1-1.5z" fill="#fc0"/><path d="M387 106.2l2.6-.9 1.8-4.4-2.6-.3z" fill="#6b0"/><path d="M335.1 130.3l1.8-7.1 2.6-.2-1.8 8z" fill="#e40"/><path d="M396.2 109.2l2.6 4.2 1.9-3.7-2.7-3z" fill="#ff0"/><path d="M397.3 131l2.6 5.2 1.8-3.4-2.4-9.3z" fill="#f50"/><path d="M326.5 100.7l2.6.9 2.7-2-2.3.3z" fill="#690"/><path d="M386.1 104.3L386.5 106.2L388 80.7Z" fill="url(#sb5)"/><path d="M351.5 108.9l2.6-.2 2.3-2.1-2.5 1.4z" fill="#a50"/><path d="M317.7 110.2L319 111.8L316.9 82.8Z" fill="url(#sb47)"/><path class="msb" d="M403.9 128.5l1.4-1M405.3 127.5l2.6-4.9M428.4 99.7l1.6-1.5M364.5 112.8l.8 1.4M398.8 113l1.5-3.3M351.8 108.8l2.1-.8M353.9 108l2.2-1.2"/><path d="M329.9 101.2L331 102.9L328.8 64.6Z" fill="url(#sb9)"/><path d="M328.8 101.2l2.7 3.4 2.6-3.2-2.7-2.1z" fill="#bf0"/><path d="M431.5 106.1l2.3 4.4 2-9.8-2.4-3.2z" fill="#ef0"/><path d="M319 111.8L321.7 110.7L316.9 82.8Z" fill="url(#sb48)"/><path d="M360.8 114.6l1.8 2.8 2.2-4.8-1.8-2.4z" fill="#fe0"/><path d="M395.2 108.1l1.2 1.5 2-2.7-1.3-1.2z" fill="#ee0"/><path d="M399.8 136.1l2.8-7 1.5-.9-2.8 4.6z" fill="#e30"/><path d="M428.5 103.6l.9.3 1.7-6.5-1 .5z" fill="#7c0"/><path d="M382.9 112.3l2.6-.9 1.8-5.7-2.6 2z" fill="#770"/><path d="M320.3 107.6l2-4.3 2.8-.9-1.9 5z" fill="#c80"/><path class="msb" d="M329.1 101.2l2.3-1.5M433.4 97.9l2.2 3.1M363 110.6l1.5 2.2M430 98.2l1-.5M383.1 112.1l1.7-4.1M384.8 108l2.4-2"/><path class="esb" d="M333.7 102l-4.9-37.4M393.6 103l-1.6-19.5"/><path d="M368.6 135.1L368.9 133L366.9 119Z" fill="url(#sb32)"/><path d="M389.2 105.1l2.8-.1 1.8-2.4-2.7-1.8z" fill="#9e0"/><path d="M393.8 106.6l1.7 1.7 1.9-2.3-1.6-1.6z" fill="#ce0"/><path d="M372.5 124.8l2.6-4.3 1.9-1.8-2.5 4.7z" fill="#d50"/><path d="M331 102.9L333.7 102L328.8 64.6Z" fill="url(#sb10)"/><path d="M429.3 103.8l2.5 2.4 1.8-8.6-2.7-.3z" fill="#bf0"/><path d="M329.8 119.8l3.3 10.6 2.2-7.3-3.2-9.1z" fill="#f90"/><path d="M345.2 114.1l2.3-3.2 2.5-.7-2.3 3.5z" fill="#d70"/><path d="M391.5 104.7l2.8 2.2 1.8-2.1-2.7-2.4z" fill="#be0"/><path d="M331.3 139.6l1.5-9.9 2.7.1-2.4-.1z" fill="#c20"/><path class="msb" d="M320.6 107.3l2.5-.2M323.1 107.1l1.8-4.5M372.7 124.5l1.9-1.5M374.6 123l2.2-4M431.7 105.9l1.7-8M431 97.7l2.4.2M333.1 130l1.9-7.1M391.9 104.7l1.6-2"/><path class="esb" d="M401.6 122.1l-1.8-10.9M389.4 105.9l-1.4-25.2"/><path d="M386.5 106.2L389.4 105.9L388 80.7Z" fill="url(#sb6)"/><path d="M430.7 121.1l2.2 6.8 1.7-5.2-2.3-6.3z" fill="#f90"/><path d="M361.9 134.2l2.7 3.3 2.2-.5-2.7-8.7z" fill="#f30"/><path d="M420.7 104.4l3-1 1.2 1.1-3 2.2z" fill="#a70"/><path d="M431.2 132.4l2.7 2.6.9.7-1.9-8.5z" fill="#f40"/><path d="M396.8 117.5l2.6 6.7 1.9-6-2.6-5.5z" fill="#fb0"/><path d="M361.3 122.6l2.8 6.4 2.1-5.3-2.7-5.4z" fill="#f90"/><path d="M358.4 111.4l2.7 3.5 2.2-4.4-2.7-2.8z" fill="#ff0"/><path d="M353.7 108.4l2.7 1.2 2.3-3-2.6-.2z" fill="#8b0"/><path d="M430.6 104L432 102.4L433 63.8Z" fill="url(#sb10)"/><path class="msb" d="M333.1 130l2.2 0M432.3 116.8l2 5.8M364.1 128.6l2.5 8.1M398.8 113l2.2 5.2M364.1 128.6l1.8-5M360.6 108.1l2.4 2.5M356.1 106.8l2.2 0"/><path class="esb" d="M428 102.9l5-39.1"/><path class="rsb" d="M433.8 134.6l.8.8"/><path d="M331.3 113.2l.7 1.5 2.3-5.5-.6-1.2z" fill="#fe0"/><path d="M308.4 129.9l1.2-8.6 2.9-.6-1 10.5z" fill="#f50"/><path d="M397.4 121.8L399.4 123.4L399.8 111.2Z" fill="url(#sb50)"/><path d="M430 111.5l2.3 5.6 1.9-7.1-2.5-4.5z" fill="#ff0"/><path d="M399.4 123.4L401.6 122.1L399.8 111.2Z" fill="url(#sb51)"/><path d="M369 133.6L370.1 131.6L367.7 112.7Z" fill="url(#sb53)"/><path d="M392.5 104.8L393.6 103L392 83.5Z" fill="url(#sb37)"/><path d="M356 109.3l2.7 2.4 2.3-3.8-2.7-1.5z" fill="#df0"/><path d="M365.7 135L368.6 135.1L366.9 119Z" fill="url(#sb31)"/><path d="M428 102.9L430.6 104L433 63.8Z" fill="url(#sb9)"/><path d="M368.5 130.9l2.4-5.1 2-1.5-2.4 5.7z" fill="#e40"/><path class="msb" d="M333.6 108.3l.5 1.2M358.7 111.3l1.9-3.2M358.3 106.8l2.3 1.3"/><path class="esb" d="M365.7 135l1.2-16"/><path class="rsb" d="M308.5 129.6l3 1.3"/><path d="M316.2 113.8l1.8-5.9 2.8-.9-1.7 6.8z" fill="#e90"/><path d="M312.2 121.3l1.5-7.3 2.9-.8-1.4 8.4z" fill="#e80"/><path d="M378.8 116.6l2.8-1.5 1.8-3.3-2.9 2.1z" fill="#b40"/><path d="M327.9 126.3l3.5 13.3 2-9.4-3.3-10.5z" fill="#f60"/><path d="M366.3 132.9L369 133.6L367.7 112.7Z" fill="url(#sb57)"/><path d="M389.8 104L392.5 104.8L392 83.5Z" fill="url(#sb56)"/><path d="M385.3 111.3l2.6-.3 1.8-6.4-2.6 1z" fill="#7a0"/><path d="M364.4 137.4l2.4-6.4 2.1-.7-2.4 6.8z" fill="#e30"/><path d="M414.3 111.7l3.1-5.3 1.3-.5-3.1 2.9z" fill="#c70"/><path d="M329 108l2.5 5.3 2.5-5-2.5-4.4z" fill="#fe0"/><path d="M423.2 103.6l3 1 1.2-1.4-3.1 1.6z" fill="#750"/><path class="msb" d="M315.2 121.3l1.2-7.8M331.4 139.3l1.7-9.3M330.1 120l3 10M387.2 106l2.3-1.1M366.6 136.7l2.1-6.1M414.5 111.4l1.4-2.8M415.9 108.6l2.6-2.4M331.5 104.2l2.1 4.1"/><path class="esb" d="M366.3 132.9l1.4-20.2"/><path d="M410.3 118.7l3.1-4.4 1.3-3.2-3 5.1z" fill="#d70"/><path d="M360.5 121.1l1.1 2 2.2-4.7-1.1-1.7z" fill="#fb0"/><path d="M395.8 138.1l2.7-1.1 1.7-1.1-2.5-5.3z" fill="#f40"/><path d="M427.8 107.1l2.5 4.7 1.7-6.1-2.6-2.5z" fill="#ef0"/><path d="M395.1 124.8l2.6 6.5 2-7.5-2.6-6.5z" fill="#f90"/><path d="M340.9 118.4l2.3-4.2 2.5-.6-2.2 4.5z" fill="#d70"/><path d="M394.5 114l2.7 4 1.9-5.1-2.6-4z" fill="#ff0"/><path d="M347.2 111.5l2.5-1.5 2.4-1.4-2.4 2.2z" fill="#b60"/><path d="M322.1 103.8l2.2-1 2.8-2.3-2 2.4z" fill="#850"/><path d="M425.6 104.5l1.8 1.7 1.5-3.2-1.9 0z" fill="#8d0"/><path class="msb" d="M423.5 103.6l1 1M397.7 131l2.2 4.8M430.3 111.4l1.4-5.5M341.2 118.2l2.3-.4M343.5 117.8l1.9-3.9M397.2 117.6l1.6-4.6M396.5 109.3l2.3 3.7M324.9 102.6l2-1.9"/><path d="M427.1 106.1l1 1.3 1.6-4.1-1.1-.4z" fill="#cf0"/><path d="M387.6 111l2.6.3 1.9-6.9-2.6.2z" fill="#9d0"/><path d="M406.3 123.9l3-4.5 1.4-1.2-2.9 4.7z" fill="#d60"/><path d="M358.8 118l1.9 3.3 2.3-4.3-1.9-2.8zM329.3 118.7l.7 1.7 2.3-6.3-.7-1.5z" fill="#fc0"/><path d="M381.2 115.1l2.7-.5 1.8-3.8-2.7.9z" fill="#780"/><path d="M428.7 114.8l2.3 6.8 1.6-4.7-2.3-5.8z" fill="#fd0"/><path d="M374.8 121.1l2.8-2.9 1.7-2.1-2.7 3.2z" fill="#c50"/><path d="M359.4 127.3l2.9 7.3 2.1-5.9-2.8-6.3z" fill="#f70"/><path d="M393.6 113.1l1.2 1.2 1.9-5.3-1.2-1.4z" fill="#ff0"/><path d="M429.4 124.9l2.1 7.9 1.7-5.1-2.2-6.8z" fill="#f80"/><path d="M326.5 104l2.9 4.4 2.5-4.2-2.8-3.3z" fill="#cf0"/><path class="msb" d="M389.5 104.9l2.4-.2M407.9 122.6l2.6-4.2M381.4 114.8l1.7-2.7M430.3 111.4l2 5.4M376.8 119l2.3-2.7M362.2 134.2l1.9-5.6M361.6 122.7l2.5 5.9M395.5 108l1 1.3"/><path class="esb" d="M396.8 114.1l-1.1-21.3M355.4 110.9l.8-19.4M393.1 110.3l3-39"/><path d="M390 111.2l2.6 1 1.8-5.9-2.6-2z" fill="#df0"/><path d="M392.3 112.1l1.5 1.1 1.9-5.5-1.5-1.5z" fill="#ff0"/><path d="M325.9 133.7l2.9 4.5 2.8 1.4-3.5-13.4z" fill="#f40"/><path d="M393.4 130.9l2.6 7.3 2-7.3-2.5-6.5z" fill="#f60"/><path d="M324.1 102.6l2.7 1.8 2.6-3.3-2.5-.8z" fill="#8e0"/><path d="M336.8 123.8l2-5.4 2.6-.5-2 5.7z" fill="#e70"/><path d="M356.4 114.1l2.8 4.2 2.2-3.8-2.7-3.5z" fill="#ff0"/><path d="M402.3 129.8l2.9-5.5 1.5-.9-2.9 5.4z" fill="#e50"/><path d="M393.1 110.3L394.9 111.9L396.1 71.3Z" fill="url(#sb47)"/><path d="M349.4 110.2l2.6.3 2.4-2.3-2.6.2z" fill="#790"/><path class="msb" d="M329.1 101.2l2.4 3M390.2 110.9l1.7-6.2M391.9 104.7l2.3 1.8M394.2 106.5l1.3 1.5M395.5 124.7l2.2 6.3M326.8 104.1l2.3-2.9M326.9 100.7l2.2.5M402.5 129.5l1.4-1"/><path class="esb" d="M329.8 136.1l-3.9-19.1"/><path d="M396.5 116.1L396.8 114.1L395.7 92.8Z" fill="url(#sb44)"/><path d="M355.4 110.9L355.7 112.8L356.2 91.5Z" fill="url(#sb5)"/><path d="M360.2 140.9l2.6-3.5 2.2-.3-2.8-3.2z" fill="#830"/><path d="M394.9 111.9L397.3 110.7L396.1 71.3Z" fill="url(#sb48)"/><path d="M383.5 114.5l2.7.3 1.9-4.4-2.7.3z" fill="#8b0"/><path d="M398.2 136.9l2.9-5.8 1.6-1.9-2.9 7z" fill="#e40"/><path d="M328 137.9L329.8 136.1L325.9 117Z" fill="url(#sb53)"/><path d="M392.9 120.4l2.6 4.7 1.9-7.7-2.6-3.8zM326.9 112.6l2.6 6.2 2.4-5.8-2.5-5.3z" fill="#fe0"/><path d="M370.7 126.4l2.6-3.9 1.9-1.9-2.5 4.3z" fill="#d50"/><path class="msb" d="M349.7 110.1l2.1-1.3M399.9 135.8l2.6-6.3M395.5 124.7l1.7-7.1"/><path class="esb" d="M391.4 112l2.7-34.1"/><path d="M429.8 139.2l3.4-5.4 1 .8-2.7-2.5z" fill="#720"/><path d="M328.6 138.1l1.7-8 2.7-.4-1.5 9.9z" fill="#f40"/><path d="M417 107l3-4.6 1.3 1.9-3 2.2z" fill="#a80"/><path d="M393.8 113.2L395.5 111.6L394.1 77.9Z" fill="url(#sb48)"/><path d="M317.8 108.5l2-3.4 2.8-1.7-1.9 4.3z" fill="#a70"/><path d="M354 111.5l2.8 3 2.3-3.2-2.8-2.4z" fill="#ef0"/><path d="M332.6 130.3l1.9-6.6 2.7-.5-1.9 7.2z" fill="#e60"/><path d="M325.6 136.8L328 137.9L325.9 117Z" fill="url(#sb52)"/><path d="M351.6 110.2l2.8 1.7 2.3-2.8-2.7-1.1z" fill="#ad0"/><path d="M327.3 125l.8 1.9 2.1-7.2-.6-1.6z" fill="#fa0"/><path class="msb" d="M370.9 126.1l1.8-1.6M431.5 132.4l2.3 2.2M328.8 137.8l2.6 1.5M418.5 106.2l2.5-1.8M318 108.2l2.6-.9M356.7 114.2l2-2.9M335.3 130l1.7-6.5"/><path class="rsb" d="M432.9 134.1l.9.5"/><path d="M391.4 112L393.8 113.2L394.1 77.9Z" fill="url(#sb47)"/><path d="M358.6 125.6l1.1 2.2 2.2-5.3-1.1-1.9z" fill="#fa0"/><path d="M355.7 112.8L358.7 112.5L356.2 91.5ZM393.6 115.8L396.5 116.1L395.7 92.8Z" fill="url(#sb6)"/><path d="M385.9 114.6l2.6 1.1 1.9-5-2.6-.4z" fill="#bf0"/><path d="M342.9 114.8l2.4-2.8 2.5-.9-2.3 3.1z" fill="#c70"/><path d="M391.8 136.8l2.5 8 2.1-6.9-2.6-7.3z" fill="#f40"/><path d="M377.1 118.6l2.8-1.2 1.8-2.8-2.8 1.5z" fill="#b50"/><path d="M426.7 109l2.3 6.3 1.6-3.8-2.5-4.8z" fill="#ee0"/><path d="M394.2 144.8l2.8-7.4 1.6-1-2.7 1.1z" fill="#c20"/><path class="msb" d="M329.5 118.4l.6 1.6M360.7 120.9l.9 1.8M345.4 113.9l2.1-2.6M379.1 116.3l2.3-1.5M429 115l1.3-3.6M428.2 107.1l2.1 4.3"/><path d="M357.5 132.4l2.9 8.6 2.2-6.7-2.9-7.2z" fill="#f60"/><path d="M392 119l1.2 1.5 1.8-6.9-1.1-1.1z" fill="#ff0"/><path d="M412.9 114.8l3.2-3.6 1.3-4.7-3.2 5.1z" fill="#b70"/><path d="M427.9 130.5l2.1 8.7 1.9-6.6-2.3-7.9z" fill="#f70"/><path d="M390.6 117.4l1.6 1.7 1.8-6.6-1.4-1z" fill="#ff0"/><path d="M388.2 115.5l2.7 2 1.9-5.9-2.7-1z" fill="#ef0"/><path d="M366.5 131.6l2.5-4.6 2.1-1.2-2.5 5.1z" fill="#e50"/><path d="M313.6 114.6l1.8-5 2.8-1.7-1.7 6z" fill="#c80"/><path d="M356.9 122l1.9 3.7 2.3-4.9-1.9-3.2z" fill="#fc0"/><path d="M305.5 130l1.4-7.3 2.9-1.4-1.2 8.7z" fill="#e60"/><path d="M391.2 125.8l2.6 5.5 2-6.7-2.6-4.8z" fill="#fb0"/><path class="msb" d="M360.4 140.6l1.8-6.4M413.1 114.5l1.4-3.1M429.7 125.1l1.8 7.3M388.5 115.3l1.7-4.4M368.7 130.6l2.2-4.5M316.4 113.5l1.6-5.3M359.2 117.9l1.5 3M308.5 129.6l1.2-8"/><path class="esb" d="M316.7 112.1l-4.4-22.5M325.6 138.7l.8-13.2"/><path class="rsb" d="M305.7 129.7l2.8-.1"/><path d="M408.9 120l3-3.9 1.4-1.8-3 4.4z" fill="#d70"/><path d="M427.4 118.1l2.3 7.3 1.5-4-2.2-6.8z" fill="#fc0"/><path d="M325.4 132l.8 2.1 2.1-7.9-.7-1.9z" fill="#f80"/><path d="M309.5 121.9l1.6-6.3 2.9-1.6-1.5 7.4z" fill="#e80"/><path d="M324.2 107.6l3.1 5.4 2.4-5-2.9-4.3z" fill="#df0"/><path d="M425.8 107.5l1.1 2.1 1.6-2.6-1.1-1.5z" fill="#be0"/><path d="M316 114.1L316.7 112.1L312.3 89.6Z" fill="url(#sb44)"/><path d="M419.6 102.7l3.1-.5 1.1 1.5-3 1z" fill="#760"/><path d="M324.8 118.1l2.7 6.9 2.4-6.6-2.7-6.1z" fill="#fd0"/><path d="M325.6 138.7L327 140.6L326.4 125.5Z" fill="url(#sb30)"/><path class="msb" d="M393.8 131l1.7-6.3M393.2 120.2l2.3 4.5M410.5 118.4l2.6-3.9M427.4 105.9l.8 1.2M421 104.4l2.5-.8M327.2 112.7l2.3 5.7"/><path d="M319.6 105.6l2.5 0 2.7-3.3-2.3 1z" fill="#580"/><path d="M379.4 117.3l2.7-.2 2-3.1-2.8.5z" fill="#880"/><path d="M362.4 137.6l2.4-5.8 2.1-.7-2.3 6.4z" fill="#e40"/><path d="M424.5 104.7l1.7 3.1 1.5-1.9-1.8-1.8z" fill="#9d0"/><path d="M324.2 142.3l1.7-4.5 3.2 0-2.9-4.4z" fill="#840"/><path d="M327 140.6L329.7 139.4L326.4 125.5Z" fill="url(#sb32)"/><path d="M323.5 139.8l.8 2.6 2-8.9-.7-2.1z" fill="#f50"/><path d="M345 112.5l2.6-.6 2.4-2-2.5 1.3z" fill="#950"/><path d="M372.9 123.1l2.9-2.3 1.8-2.7-2.9 2.9z" fill="#c50"/><path d="M422.2 102.2l2.8 3 1.2-.7-3-1z" fill="#440"/><path d="M390.3 124.2l1.2 1.9 1.9-6.2-1.2-1.5z" fill="#fd0"/><path d="M354.4 117.5l2.8 4.8 2.3-4.4-2.8-4.1z" fill="#fe0"/><path class="msb" d="M379.7 117.1l1.7-2.3M381.4 114.8l2.4-.5M425.9 104.4l1.5 1.5M326.2 133.8l2.6 4M325.6 131.7l.6 2.1M347.5 111.3l2.2-1.2M422.4 102.5l1.1 1.1M423.5 103.6l2.4.8M392.2 118.7l1 1.5"/><path d="M338.6 119l2.3-3.8 2.5-.9-2.2 4.2z" fill="#d80"/><path d="M321.8 105.3l2.8 2.7 2.6-4.1-2.7-1.7z" fill="#af0"/><path d="M322.8 143.7L323 145.9L320.8 108.3Z" fill="url(#sb28)"/><path d="M313.1 113.9L316 114.1L312.3 89.6Z" fill="url(#sb6)"/><path d="M356.6 130.5l1.2 2.4 2.2-5.7-1.1-2.2z" fill="#f90"/><path d="M426.3 137.3l2.4 6.4 1.6-4.6-2.1-8.7z" fill="#f50"/><path d="M355.6 138.2l2.9 7.1 2.2-4.5-2.9-8.6z" fill="#f40"/><path d="M404.9 124.9l3-4.3 1.4-1.2-2.9 4.6z" fill="#d70"/><path d="M381.7 116.9l2.8.9 1.9-3.6-2.7-.3z" fill="#9c0"/><path d="M426.8 122.8L428.9 124.5L431.4 91.7Z" fill="url(#sb25)"/><path class="msb" d="M356.7 114.2l2.5 3.7M338.9 118.8l2.3-.6M324.6 107.7l2.2-3.6M357.8 132.6l2.6 8M383.8 114.3l2.3.1"/><path class="esb" d="M347.6 111.1l.4-33.8M431 123.2l.4-31.5M389.5 142.5l2.3-24.5"/><path d="M388.9 122.1l1.6 2.2 1.9-5.9-1.5-1.6z" fill="#ff0"/><path d="M358.4 145.2l2.1-7.8 2.3-.3-2.5 3.9z" fill="#e20"/><path d="M390.1 143.1l2.7 1.8 1.8-.2-2.5-8.1z" fill="#f30"/><path d="M428.9 124.5L431 123.2L431.4 91.7Z" fill="url(#sb26)"/><path d="M389.4 131.2l2.7 6.1 2-6.4-2.6-5.5z" fill="#f90"/><path d="M349.6 112.5L351.8 111.1L348 77.3Z" fill="url(#sb10)"/><path d="M347.6 111.1L349.6 112.5L348 77.3Z" fill="url(#sb9)"/><path d="M321.9 149.5l.1-2.8 2.6-5-.9-2.6z" fill="#920"/><path d="M386.5 119.2l2.7 3 2-5.2-2.7-2z" fill="#ff0"/><path d="M384.1 117.5l2.7 1.9 2-4.3-2.7-1z" fill="#df0"/><path d="M322.7 124.3l2.9 7.8 2.3-7.4-2.8-6.9z" fill="#fb0"/><path class="msb" d="M390.9 117.2l1.3 1.5M358.5 144.9l1.9-4.3M360.4 140.6l2.2-3.3M392.1 136.9l2.2 7.6M392.1 136.9l1.7-5.9M388.5 115.3l2.4 1.9M386.8 119.1l1.7-3.8M386.1 114.4l2.4.9"/><path class="esb" d="M326 145.5l-5.2-37.2M429.5 112.5l.5-34.3"/><path class="rsb" d="M322 149.1l.1-2.7"/><path d="M428.5 143.6l3.5-8.5 1.1-1.3-3.3 5.3z" fill="#e30"/><path d="M347.2 111.7l2.7.9 2.4-2.6-2.6-.3z" fill="#7b0"/><path d="M351.9 114.2l2.9 3.7 2.3-3.8-2.8-2.9z" fill="#ef0"/><path d="M323 145.9L326 145.5L320.8 108.3Z" fill="url(#sb45)"/><path d="M425.3 111.8L427.1 113.5L430 78.2Z" fill="url(#sb9)"/><path d="M400.8 131.7l3-4.9 1.5-2.4-2.9 5.4z" fill="#d50"/><path d="M389.5 142.5L390.2 144.7L391.8 118Z" fill="url(#sb52)"/><path d="M415.6 111.4l2.9-2.4 1.6-6.5-3.1 4z" fill="#460"/><path d="M425.8 124.8l2.4 6.3 1.8-5.9-2.3-7.2z" fill="#fc0"/><path d="M349.5 112.3l2.8 2.3 2.4-3.1-2.7-1.7z" fill="#bf0"/><path d="M354.9 126.4l2 4.2 2.3-5.3-2-3.7z" fill="#fb0"/><path class="msb" d="M347.6 111.6l2.1-1.5M349.7 110.1l2.3.1M354.7 117.5l2-3.3M354.3 111.5l2.4 2.7M401 131.4l1.5-1.9M402.5 129.5l2.6-4.8M427.7 118.3l2 6.8M352 110.2l2.3 1.3"/><path class="rsb" d="M431.8 135.4l1.1-1.3"/><path d="M425.3 112.2l2.4 6.5 1.6-3.5-2.4-6.3z" fill="#ee0"/><path d="M427.1 113.5L429.5 112.5L430 78.2Z" fill="url(#sb10)"/><path d="M334.3 124.3l2.1-4.9 2.7-.9-2.1 5.4z" fill="#e80"/><path d="M315.2 110.2l2-2 3-3-1.9 3.3z" fill="#860"/><path d="M396.7 138l2.9-5.1 1.6-1.8-2.9 5.9z" fill="#e40"/><path d="M368.7 127.6l2.7-3.4 2-1.6-2.6 3.9z" fill="#d60"/><path d="M411.5 116.7l3.2-2.5 1.2-3.4-3.1 4z" fill="#b60"/><path d="M322 112.2l3.2 6.3 2.4-5.8-3-5.4z" fill="#ef0"/><path d="M375.2 121l2.8-1 1.9-3.1-2.7 1.2z" fill="#760"/><path d="M390.2 144.7L393.1 144.2L391.8 118Z" fill="url(#sb57)"/><path d="M392.6 144.8l2.8-5.8 1.7-1.6-2.8 7.4z" fill="#e30"/><path class="msb" d="M427.7 118.3l1.3-3.3M337 123.5l1.9-4.7M315.5 110l2.5-1.8M318 108.2l1.9-2.8M369 127.3l1.9-1.2M370.9 126.1l2.3-3.2M411.7 116.4l1.4-1.9M413.1 114.5l2.6-3.4M324.6 107.7l2.6 5"/><path d="M388.5 129.4l1.3 2.2 1.9-6.1-1.2-1.9z" fill="#fb0"/><path d="M320.7 131.2l3 8.6 2.2-8.1-2.8-7.7z" fill="#f80"/><path d="M354.7 135.8l1.2 2.8 2.2-6.3-1.1-2.4z" fill="#f70"/><path d="M330.1 130.8l2-6.1 2.7-.9-1.9 6.6z" fill="#e70"/><path d="M340.6 115.7l2.4-2.3 2.6-1.2-2.4 2.7z" fill="#a60"/><path d="M387.7 136.6l2.7 6.7 2.1-6.4-2.7-6z" fill="#f70"/><path d="M385.4 119.4L386.1 117.3L384.4 94.4Z" fill="url(#sb44)"/><path d="M326 138.2l1.8-7.1 2.7-.9-1.7 8z" fill="#e50"/><path d="M311 116.2l1.8-3.9 2.9-2.6-1.8 5z" fill="#b80"/><path d="M424.5 111.3l1.1 1.5 1.6-3.7-1-2z" fill="#bf0"/><path class="msb" d="M394.3 144.5l2.6-6.8M323.1 124.4l2.5 7.3M356.9 130.2l.9 2.4M390.4 143l1.7-6.1M389.8 131.2l2.3 5.7M326.2 137.9l2.6-.1M328.8 137.8l1.5-7.3"/><path class="esb" d="M428.4 110.4l-.9-16.6M351.7 116.7l1.2-18.5M387.4 132.6l2.3-32.3"/><path d="M387.2 127l1.6 2.5 1.9-5.8-1.5-2.2z" fill="#fd0"/><path d="M424.8 144.5l2.9-.5 1.2-.5-2.3-6.5zM318.8 138.5l3.2 11 2-10-2.9-8.6z" fill="#f50"/><path d="M352.4 121.1l2.9 5.5 2.3-4.6-2.9-4.8z" fill="#fe0"/><path d="M426.7 112L428.4 110.4L427.5 93.8Z" fill="url(#sb43)"/><path d="M424.2 131l2.4 6.7 1.9-7-2.4-6.2z" fill="#fa0"/><path d="M317.2 108.2l2.6 1 2.6-4.2-2.4.1z" fill="#6c0"/><path d="M322 146.7l1.5-8.4 2.9-.7-1.9 4.8z" fill="#e30"/><path d="M319.5 108.9l2.9 3.7 2.5-5-2.8-2.7z" fill="#bf0"/><path d="M407.5 121.2l3.1-3.2 1.4-1.9-3.1 3.9z" fill="#c70"/><path d="M424.2 110.7L426.7 112L427.5 93.8Z" fill="url(#sb42)"/><path d="M418.2 108.9l2.8-.6 1.6-6.1-2.7.2z" fill="#5b0"/><path class="msb" d="M426.6 137.4l2.1 5.9M319.9 105.4l2.2-.2M322.4 112.2l2.2-4.5M322.1 105.2l2.5 2.5"/><path class="rsb" d="M319.1 138.7l2.9 10.4M322.1 146.4l1.5-7.7"/><path d="M377.6 119.9l2.7.2 2-3.5-2.7.1z" fill="#8a0"/><path d="M351.7 116.7L353.3 118.4L352.9 98.2Z" fill="url(#sb5)"/><path d="M353.7 145l2.7-.1 2.4.2-2.9-7.2z" fill="#f40"/><path d="M364.5 132.4l2.6-4.3 2.1-1-2.5 4.6z" fill="#e60"/><path d="M306.8 123.3l1.7-5.2 2.8-2.5-1.5 6.4z" fill="#e80"/><path d="M302.7 131l1.5-6.1 2.9-2.2-1.3 7.4z" fill="#e70"/><path d="M423.1 109.4l1.7 2 1.7-4.1-1.7-2.8z" fill="#af0"/><path d="M353.3 118.4L355.8 117.2L352.9 98.2Z" fill="url(#sb44)"/><path d="M382.4 118.8L385.4 119.4L384.4 94.4Z" fill="url(#sb6)"/><path d="M387.4 132.6L388.3 134.7L389.7 100.3Z" fill="url(#sb39)"/><path d="M384.7 123.4l2.8 3.7 2-5.4-2.7-3z" fill="#ff0"/><path class="msb" d="M377.9 119.7l1.8-2.6M309.7 121.6l1.5-5.6"/><path class="esb" d="M382.4 118.8l2-24.4"/><path class="rsb" d="M302.8 130.7l2.9-1M302.8 130.7l1.5-5.5"/><path d="M423.7 120.3l2.4 4.9 1.9-7-2.4-6.1z" fill="#ff0"/><path d="M420.7 108.1l2.7 1.5 1.7-4.9-2.7-2.6z" fill="#9f0"/><path d="M414.1 114.4l2.9-.8 1.6-5.2-3.1 2.4z" fill="#560"/><path d="M319.8 117.5l3.3 7.2 2.4-6.5-3.2-6.3z" fill="#ff0"/><path d="M352.9 131.2l2.1 4.7 2.2-5.8-1.9-4.2z" fill="#fa0"/><path d="M379.9 119.9l2.8 1.4 2-4.1-2.7-.8z" fill="#bf0"/><path d="M371 124.7l2.9-1.8 1.9-2.4-2.9 2.6z" fill="#c50"/><path d="M388.5 149.9l3-4.5 1.6-1-2.8-1.8z" fill="#720"/><path d="M382.3 121.1l2.8 2.6 2-4.8-2.7-1.8z" fill="#ff0"/><path d="M342.7 113.9l2.7-.1 2.5-2.3-2.6.5z" fill="#750"/><path d="M388.3 134.7L391.2 134.1L389.7 100.3Z" fill="url(#sb46)"/><path class="msb" d="M426.1 124.8l1.6-6.5M425.6 112.4l2.1 5.9M420.9 107.9l1.5-5.4M415.7 111.1l2.7-2.5M355.2 126.3l1.7 3.9M373.2 122.9l2.3-2.2M385.1 123.3l1.7-4.2"/><path class="esb" d="M426 138.6l-.3-15.2"/><path d="M386.8 134.6l1.2 2.4 2-6-1.2-2.2z" fill="#fa0"/><path d="M352.8 141.8l1.2 3.3 2.1-7.1-1.1-2.8z" fill="#f60"/><path d="M403.4 127.4l3.1-3.8 1.4-3-3 4.3z" fill="#d60"/><path d="M349.8 117.2l2.9 4.3 2.4-4-2.8-3.6z" fill="#ef0"/><path d="M360.3 138l2.4-5.4 2.3-.7-2.4 5.8z" fill="#e50"/><path d="M386 142.1l2.7 7.8 2-6.9-2.6-6.7z" fill="#f50"/><path d="M418.6 113.3L418.8 111.3L419.3 75.9Z" fill="url(#sb10)"/><path d="M422.7 136.7l2.3 7.9 2-7.2-2.4-6.8z" fill="#f70"/><path d="M336.2 119.9l2.3-3.4 2.6-1.2-2.2 3.8z" fill="#c70"/><path d="M422.3 118.6L422.7 120.7L426.6 82.7Z" fill="url(#sb47)"/><path d="M423 118.9l.9 1.5 1.9-8.3-1-1.4z" fill="#ef0"/><path class="msb" d="M388.8 129.1l1 2.1M405.1 124.7l2.6-3.8M352.7 121.2l2-3.7M362.6 137.3l2.2-5.2M388.7 149.6l1.7-6.6M424.6 131l2 6.4M336.5 119.7l2.4-.9M338.9 118.8l2-3.3"/><path d="M426 140.8L426 138.6L425.7 123.4Z" fill="url(#sb14)"/><path d="M345 113.5l2.7 1.5 2.5-2.9-2.7-.8z" fill="#8d0"/><path d="M347.4 114.6l2.8 3 2.4-3.4-2.7-2.3z" fill="#cf0"/><path d="M399.3 133.5l3-4 1.5-2.7-3 4.9z" fill="#d60"/><path d="M427.4 143.9l3.4-6.9 1.2-1.9-3.5 8.5z" fill="#e40"/><path d="M312.7 112.8l2.4-.8 2.6-4.2-2.1 1.8z" fill="#560"/><path d="M422.1 126l2.5 5.3 1.9-6.6-2.6-5z" fill="#fe0"/><path d="M385.4 131.9l1.6 2.8 2-5.8-1.5-2.5z" fill="#fb0"/><path d="M416.6 113.5l2.8.9 1.7-6.8-2.8.7z" fill="#7d0"/><path d="M356.1 144.9l2.3-7 2.3-.5-2.2 7.9z" fill="#e40"/><path class="msb" d="M424.8 111.1l.8 1.3M345.3 113.4l2.3-1.8M399.5 133.2l1.5-1.8M428.7 143.3l3.1-7.9M313 112.6l2.5-2.6M424.6 131l1.5-6.2M387.4 126.7l1.4 2.4M418.4 108.6l2.5-.7"/><path class="rsb" d="M430.7 137.3l1.1-1.9"/><path d="M421.5 116.7l1.6 2.2 1.9-8.2-1.7-1.8z" fill="#df0"/><path d="M410.1 118.5l3-1.3 1.5-3.3-3.2 2.5z" fill="#950"/><path d="M415.6 113.1L418.6 113.3L419.3 75.9Z" fill="url(#sb41)"/><path d="M317.7 123.7l3.4 7.9 2.3-7.2-3.2-7.1z" fill="#fd0"/><path d="M419.1 114.3l2.6 2.5 1.8-7.9-2.6-1.3z" fill="#bf0"/><path d="M373.4 123l2.7-.3 2-3.2-2.7.9z" fill="#770"/><path d="M317.2 113.4l3 4.6 2.5-5.9-2.9-3.6z" fill="#cf0"/><path d="M422.7 120.7L425.7 120.6L426.6 82.7Z" fill="url(#sb49)"/><path d="M350.9 148.6l1.2 4.4 2.1-8.5-1.1-3.3z" fill="#f30"/><path d="M350.3 125.2l3 6.3 2.3-5.2-2.9-5.5z" fill="#fd0"/><path class="msb" d="M356.3 144.6l2.2.3M423.3 109.2l1.5 1.9M410.3 118.2l1.4-1.8M320.2 117.6l2.9 6.8M419.3 114l1.6-6.1M420.9 107.9l2.4 1.3M375.5 120.7l2.4-1M320.2 117.6l2.2-5.4M353 141.6l1 3.2"/><path class="esb" d="M415.6 113.1l3.7-37.2M425.7 120.6l.9-37.9"/><path d="M423.2 152.7l3.4-8.2 1.2-1.1-2.9.5z" fill="#c20"/><path d="M422.9 140.6L426 140.8L425.7 123.4Z" fill="url(#sb38)"/><path d="M395.1 139.6l2.9-4.5 1.7-2.2-2.9 5.2z" fill="#d50"/><path d="M421.1 143.2l2.2 9.5 2.1-8.4-2.4-7.8z" fill="#f50"/><path d="M366.8 128.7l2.7-3.1 2-1.4-2.6 3.5z" fill="#d60"/><path d="M350.9 136.6l2.1 5.3 2.3-6.4-2-4.7z" fill="#f80"/><path d="M314.8 111.8l2.7 1.9 2.6-5.1-2.6-.9z" fill="#9f0"/><path d="M331.9 125.3l2.1-4.5 2.7-1.4-2.1 5z" fill="#d80"/><path d="M382.9 127.8l2.8 4.2 2.1-5.4-2.8-3.6z" fill="#fe0"/><path d="M421.4 124.6l1 1.7 1.7-6.5-.9-1.5z" fill="#ff0"/><path class="msb" d="M352.7 121.2l2.5 5.1M396.9 137.7l2.6-4.5M367 128.4l2-1.1M385.1 123.3l2.3 3.4"/><path d="M308.4 118.7l1.9-2.4 2.9-4-1.7 3.8z" fill="#960"/><path d="M352.1 153l2-8.6 2.5-.1-2.6.1z" fill="#d20"/><path d="M385 139.8l1.3 2.7 2-6.1-1.2-2.4z" fill="#f80"/><path d="M390.9 145.8l2.9-5.1 1.7-1.7-2.8 5.9z" fill="#e40"/><path d="M375.7 122.5l2.8.8 2.1-3.7-2.8-.2z" fill="#9c0"/><path d="M338.3 117l2.4-1.4 2.6-2.1-2.3 2.2z" fill="#950"/><path d="M419.9 122.1l1.7 2.6 1.8-6.4-1.7-2.2z" fill="#ff0"/><path d="M412.6 117.1l2.9.4 1.6-4.5-2.9.8z" fill="#6a0"/><path d="M384.2 147.9l2.8 5 1.9-3.1-2.6-8z" fill="#f40"/><path d="M315.6 130.3l3.5 8.7 2.3-7.7-3.4-7.9z" fill="#fb0"/><path class="msb" d="M311.2 116l1.8-3.4M354 144.8l2.3-.2M376 122.3l1.9-2.6M377.9 119.7l2.4.1M340.9 115.5l2.2-1.8M386.3 142.2l2.4 7.4"/><path class="esb" d="M382.8 121.8l-2.1-8.9M424 142.2l-.2-21.2"/><path d="M380.5 124.9l2.8 3.2 2.1-4.9-2.8-2.6z" fill="#ff0"/><path d="M406 124.1l3.1-2.4 1.4-3.7-3.1 2.8z" fill="#b60"/><path d="M378.5 121.7L380.6 123.3L380.7 112.9Z" fill="url(#sb33)"/><path d="M380.6 123.3L382.8 121.8L380.7 112.9Z" fill="url(#sb35)"/><path d="M327.6 131.7l2-5.5 2.7-1.4-1.9 6z" fill="#e70"/><path d="M420.6 131.2l2.5 6 1.8-6.2-2.5-5.4z" fill="#fc0"/><path d="M304.1 125.5l1.7-4.1 3-3.3-1.7 5.2z" fill="#c80"/><path d="M378.1 123.1l2.8 2 2.1-4.3-2.8-1.4z" fill="#df0"/><path d="M423 126.3L423.1 124.2L424 89.2Z" fill="url(#sb48)"/><path d="M323.4 139l1.8-6.3 2.8-1.6-1.8 7.1z" fill="#e60"/><path class="msb" d="M383.3 127.7l1.8-4.4M382.7 121l2.4 2.3M407.7 120.9l2.6-2.7M330.3 130.5l1.8-5.5M423 136.8l1.6-5.8M422.4 125.9l2.2 5.1M380.3 119.8l2.4 1.2"/><path class="rsb" d="M316 130.4l3.1 8.3M304.3 125.2l1.7-3.6"/><path d="M417.5 119l2.7 3.2 1.8-6-2.7-2.5z" fill="#df0"/><path d="M347.7 120.6l3 5 2.3-4.4-2.8-4.3z" fill="#ff0"/><path d="M383.6 136.8l1.7 3.1 2-5.8-1.6-2.8z" fill="#fa0"/><path d="M415.1 117.3l2.8 1.9 1.7-5.4-2.8-.9z" fill="#bf0"/><path d="M386.8 152.8l2.7-6.4 1.8-1.2-2.8 4.7z" fill="#e20"/><path d="M423.5 144.4L424 142.2L423.8 121Z" fill="url(#sb14)"/><path d="M349.2 157.4l.3-4.7 3 0-1.3-4.7z" fill="#820"/><path d="M314.9 118.7l3.2 5.4 2.4-6.6-3-4.5z" fill="#ef0"/><path d="M349 142.6l2.1 6.1 2.3-7.3-2.1-5.2z" fill="#f60"/><path d="M362.5 133.2l2.5-4.1 2.3-.9-2.6 4.3z" fill="#d70"/><path class="msb" d="M323.6 138.7l2.6-.8M350.6 125.3l2.1-4.1M350.2 117.2l2.5 4M417.8 118.9l1.5-4.9M386.9 152.5l1.8-2.9M388.7 149.6l2.4-4.1M318.1 123.7l2.1-6.1M317.5 113.3l2.7 4.3M351.3 136.5l1.7 5.1"/><path class="esb" d="M352.3 130.7l-3.1-27.4M417.1 116.5l-.2-35.4"/><path class="rsb" d="M323.6 138.7l1.7-5.7M349.3 157.1l.6-4.4"/><path d="M412.8 115.9L414.6 117.7L416.9 81.1Z" fill="url(#sb9)"/><path d="M401.8 130l3.1-2.5 1.5-4-3.1 3.7z" fill="#c60"/><path d="M369.1 126.2l2.9-1.2 1.9-2.4-2.9 1.9z" fill="#b50"/><path d="M340.4 115.6l2.7.4 2.6-2.7-2.6.1z" fill="#690"/><path d="M414.6 117.7L417.1 116.5L416.9 81.1Z" fill="url(#sb10)"/><path d="M419.5 150.1l2.8 2.9 1.2-.4-2.1-9.6z" fill="#f30"/><path d="M310.3 116.2l2.4.2 2.6-5-2.3.8z" fill="#5a0"/><path d="M348.3 129.8l3 7.1 2.3-5.7-3-6.3z" fill="#fc0"/><path d="M420 126.1L423 126.3L424 89.2Z" fill="url(#sb49)"/><path d="M420.5 143.8L423.5 144.4L423.8 121Z" fill="url(#sb38)"/><path class="msb" d="M364.8 132.1l2.2-3.7M343.1 113.7l2.2-.3M421.5 143.3l1.8 9M310.5 116l2.5-3.4M313 112.6l2.1-1"/><path class="esb" d="M420 126.1l4-36.9M389.9 149.7l-1.8-13"/><path d="M419.9 129.7l1 1.8 1.7-5.9-1-1.6z" fill="#fe0"/><path d="M345.2 117.4l2.9 3.6 2.4-3.8-2.8-2.9z" fill="#cf0"/><path d="M352.1 132.9L352.3 130.7L349.2 103.3Z" fill="url(#sb26)"/><path d="M383.2 145.2l1.3 3.1 2.1-6.4-1.3-2.7z" fill="#f60"/><path d="M312.4 116.2l2.9 2.8 2.5-5.9-2.7-1.8z" fill="#bf0"/><path d="M342.8 115.7l2.8 2.1 2.5-3.3-2.8-1.4z" fill="#9f0"/><path d="M381.1 132l2.9 4.9 2-5.3-2.7-4.2z" fill="#fc0"/><path d="M408.6 121.7l2.9-.7 1.6-4.3-2.9 1.2z" fill="#680"/><path d="M397.7 135.7l3.1-3.2 1.5-3-3.1 4z" fill="#d50"/><path d="M333.8 121.3l2.3-3 2.7-1.7-2.2 3.4z" fill="#a70"/><path d="M419 137.1l2.5 6.6 1.9-6.9-2.5-6z" fill="#fa0"/><path class="msb" d="M421.6 124.3l.8 1.6M347.7 114.6l2.5 2.6M385.3 139.6l1 2.6M315.1 111.6l2.4 1.7M343.1 115.7l2.2-2.3M345.3 113.4l2.4 1.2M408.8 121.5l1.5-3.3M410.3 118.2l2.6-1.3M397.9 135.5l1.6-2.3M399.5 133.2l2.6-3.4M334.1 121.1l2.4-1.4"/><path d="M418.4 127l1.7 2.8 1.8-5.7-1.7-2.6z" fill="#ff0"/><path d="M347 149.3l2.3 8.2 2.1-9.3-2.1-6z" fill="#f40"/><path d="M389 151.9L389.9 149.7L388.1 136.7Z" fill="url(#sb32)"/><path d="M358.2 138.5l2.4-5.1 2.3-.8-2.4 5.5z" fill="#e60"/><path d="M371.4 124.9l2.8.3 2.1-3.1-2.8.4z" fill="#790"/><path d="M349 132.8L352.1 132.9L349.2 103.3Z" fill="url(#sb27)"/><path d="M422 153l3.4-6.9 1.2-1.6-3.4 8.2z" fill="#e30"/><path d="M426.3 145.1l3.3-6.2 1.3-1.9-3.4 7z" fill="#e50"/><path d="M312.7 124.6l3.3 6.1 2.4-7.1-3.1-5.3z" fill="#ff0"/><path d="M305.8 121.9l2.2-1.3 2.7-4.9-2 2.4z" fill="#560"/><path class="msb" d="M421.5 143.3l1.5-6.5M420.2 121.9l1.4 2.4M423.3 152.3l3.2-7.5M316 130.4l2.1-6.7"/><path class="rsb" d="M347.3 149.3l2 7.8M429.5 139.2l1.2-1.9M313.1 124.6l2.9 5.8"/><path d="M378.7 128.5l2.8 3.9 2.1-4.8-2.8-3.1zM416 123.6l2.7 3.5 1.8-5.4-2.7-3.2z" fill="#ff0"/><path d="M381.8 141.8l1.7 3.6 2.1-6-1.7-3.2z" fill="#f80"/><path d="M386.1 151.2L389 151.9L388.1 136.7Z" fill="url(#sb31)"/><path d="M411.1 120.9l2.8.8 1.7-4.8-2.8-.3z" fill="#8e0"/><path d="M382.5 154.6l2.8-1.2 2-.8-2.8-5z" fill="#e40"/><path d="M393.5 141.3l3-3.9 1.6-2.2-2.9 4.4z" fill="#d50"/><path d="M404.4 127.6l2.9-1.4 1.7-5-3 2.3z" fill="#660"/><path d="M373.8 124.9l2.8 1.5 2.2-3.6-2.8-.8z" fill="#ae0"/><path d="M413.6 121.6l2.7 2.2 1.8-5.1-2.8-1.9z" fill="#cf0"/><path class="msb" d="M381.5 132l1.8-4.3M417.8 118.9l2.4 3M383.9 136.6l1.4 3M412.9 116.9l2.5.2M374.2 124.8l1.8-2.5"/><path class="rsb" d="M306 121.6l2.1-1.3"/><path d="M353.9 145.1l2.3-6.5 2.4-.6-2.3 6.9z" fill="#e50"/><path d="M376.3 126.2l2.8 2.6 2.1-4.1-2.8-2.1z" fill="#ef0"/><path d="M345.6 124.6l3 5.7 2.4-5-2.9-5z" fill="#ff0"/><path d="M329.4 126.8l2.2-4 2.7-2-2.1 4.6z" fill="#c80"/><path d="M364.7 129.7l2.8-2.6 2.1-1.3-2.7 3z" fill="#c60"/><path d="M346.2 135.1l3.1 7.8 2.3-6.3-3-7z" fill="#fa0"/><path d="M418.3 135.5l1 2 1.8-6.6-1-1.8z" fill="#fd0"/><path d="M349.7 153l2.1-8 2.5-.5-2.1 8.5z" fill="#e30"/><path d="M417.4 143.5l2.4 6.9 2-7.1-2.5-6.5z" fill="#f80"/><path d="M381.4 151l1.3 3.6 2.1-6.9-1.3-3z" fill="#f50"/><path class="msb" d="M416.3 123.5l1.5-4.6M415.4 117.1l2.4 1.8M354.1 144.8l2.2-.2M356.3 144.6l2.1-6.3M348.6 129.9l2-4.6M332.1 125l2-3.9M365 129.5l2-1.1M367 128.4l2.4-2.4M348.6 129.9l2.7 6.6M419.8 150.1l1.7-6.8M419.3 137.1l2.2 6.2"/><path class="rsb" d="M349.9 152.7l1.9-7.4"/><path d="M335.9 118.9l2.5-.8 2.7-2.8-2.5 1.2z" fill="#750"/><path d="M307.8 120.5l2.6 1.1 2.6-5.8-2.5-.1z" fill="#8f0"/><path d="M310.1 121.4l3 3.6 2.5-6.5-2.9-2.8z" fill="#df0"/><path d="M389.3 147l2.8-4.6 1.8-1.6-2.8 5.1z" fill="#e40"/><path d="M416.8 132.6l1.7 3 1.8-6.4-1.7-2.8z" fill="#ff0"/><path d="M400.2 132.9l3.1-1.9 1.5-4-3 2.6z" fill="#650"/><path d="M325.1 133.3l2-4.9 2.7-2.1-1.9 5.5z" fill="#d80"/><path d="M379.3 136.3l2.9 5.6 2.1-5.3-2.8-4.9z" fill="#fb0"/><path d="M386 155.6L387.5 153.5L385.5 133Z" fill="url(#sb53)"/><path d="M418 157.4l3.3-3.5 1.2-1.3-2.7-2.9z" fill="#820"/><path d="M343 120.9l3 4.1 2.4-4.4-2.9-3.5z" fill="#cf0"/><path d="M407 126.1l2.8-.1 1.8-5.6-2.9.8z" fill="#6a0"/><path class="msb" d="M308.1 120.3l2.4-4.3M391.1 145.5l2.6-4.5M402.1 129.8l2.5-2.5M381.5 132l2.4 4.6"/><path class="esb" d="M383.3 154.4l2.2-21.4"/><path class="rsb" d="M308.1 120.3l2.3.9M310.4 121.2l2.7 3.4M325.3 133l1.9-4.2"/><path d="M383.3 154.4L386 155.6L385.5 133Z" fill="url(#sb52)"/><path d="M338.1 117.9l2.8 1 2.5-3.4-2.6-.4z" fill="#6c0"/><path d="M385 153.4l2.8-5.7 1.9-1.2-2.8 6.4z" fill="#e30"/><path d="M380 147l1.7 4.1 2.1-6.3-1.7-3.6z" fill="#f70"/><path d="M414.4 129l2.7 3.7 1.8-6.1-2.6-3.5z" fill="#ff0"/><path d="M340.5 118.6l2.9 2.6 2.5-3.9-2.8-2z" fill="#af0"/><path d="M367.1 127.6l2.8-.6 2.1-2.4-2.9 1.1z" fill="#a50"/><path d="M415.7 149.7l2.5 7.7 2-7.3-2.5-7z" fill="#f50"/><path d="M416.7 141.8l1 2 1.8-7-1-1.9z" fill="#fb0"/><path d="M344.2 141.1l3.2 8.5 2.2-7-3.1-7.7z" fill="#f90"/><path class="msb" d="M407.2 125.9l1.6-4.4M385.2 153.1l1.7-.6M340.9 118.5l2.2-2.8M369.4 126l2.3-1.2M418.2 157.1l1.6-7M418.5 135.2l.8 1.9"/><path class="esb" d="M340.3 118.1l.3-27.6"/><path d="M379.6 157.5l1.3 4.1 2.1-7.6-1.3-3.6z" fill="#f30"/><path d="M360.4 134l2.6-3.7 2.2-1.1-2.5 4.1z" fill="#d70"/><path d="M409.5 125.9l2.8 1 1.8-5.7-2.8-.8z" fill="#bf0"/><path d="M396 138l3.2-2.5 1.5-3.2-3.1 3.3z" fill="#c50"/><path d="M412 126.8l2.7 2.4 1.9-6-2.8-2.1z" fill="#ef0"/><path d="M376.8 132.2l2.9 4.5 2.1-4.7-2.8-3.8z" fill="#fe0"/><path d="M331.4 123.4l2.3-2 2.7-3-2.2 2.8z" fill="#960"/><path d="M343.5 129.3l3.1 6.3 2.3-5.6-3-5.6z" fill="#ff0"/><path d="M340.3 118.1L341.5 120L340.6 90.5Z" fill="url(#sb36)"/><path d="M402.8 131l2.9-.7 1.7-4.7-2.9 1.4z" fill="#780"/><path class="msb" d="M381.7 150.8l1.1 3.5M396.3 137.7l1.6-2.2M414.7 128.8l1.6-5.3M379.7 136.4l1.8-4.4M379.1 128.5l2.4 3.5M331.7 123.1l2.4-2M334.1 121.1l2.1-2.4M346.5 135.2l2.1-5.3M345.9 124.7l2.7 5.2"/><path class="rsb" d="M344.5 141.2l2.8 8.1"/><path d="M415.2 138.6l1.7 3.2 1.8-6.9-1.6-2.9z" fill="#fd0"/><path d="M380.8 161.6l2.7-8.1 1.9-.7-2.7 1.2z" fill="#d20"/><path d="M369.4 126.8l2.9.8 2.2-2.9-2.8-.3z" fill="#7a0"/><path d="M341.5 120L344.4 119L340.6 90.5Z" fill="url(#sb37)"/><path d="M374.4 129.2l2.8 3.4 2.2-4.2-2.8-2.7z" fill="#ff0"/><path d="M371.9 127.3l2.8 2.2 2.2-3.5-2.8-1.5z" fill="#cf0"/><path d="M425.1 146.8l3.3-5.3 1.3-2.6-3.4 6.2z" fill="#e50"/><path d="M377.5 140.8l2.8 6.4 2.2-5.6-2.9-5.6z" fill="#fa0"/><path d="M420.8 154.1l3.3-5.8 1.3-2.1-3.3 6.8z" fill="#e40"/><path d="M415.1 147.9l.9 2.2 1.9-6.9-1-2.1z" fill="#f90"/><path class="msb" d="M404.6 127.3l2.6-1.4M417.1 132.3l1.4 2.9M382.8 154.3l2.4-1.2M371.7 124.8l2.5 0M376.6 126.1l2.5 2.4M372.2 127.3l2-2.5M374.2 124.8l2.4 1.3M426.5 144.8l3-5.6"/><path class="rsb" d="M428.2 141.8l1.3-2.6"/><path d="M356 139.2l2.5-4.8 2.3-.9-2.4 5.1z" fill="#e70"/><path d="M391.8 143l3-3.4 1.7-2.2-3 3.9z" fill="#d50"/><path d="M378.1 152.8l1.7 4.8 2.2-7-1.7-4.1z" fill="#f50"/><path d="M414.1 156.1l2.6 5.8 1.8-4.7-2.4-7.8z" fill="#f40"/><path d="M412.8 134.6l2.7 4.1 1.9-6.6-2.7-3.6z" fill="#ff0"/><path d="M326.9 129l2.1-3.4 2.9-2.8-2.1 4.1z" fill="#b70"/><path d="M405.4 130.2l2.8.4 1.8-5.2-2.9.1z" fill="#8c0"/><path d="M340.8 125l3 4.7 2.5-5-3-4.2z" fill="#df0"/><path d="M333.5 121.4l2.6-.2 2.6-3.6-2.5.7z" fill="#580"/><path d="M416.5 161.9l3.3-6.7 1.4-1.7-3.4 3.6z" fill="#d20"/><path d="M398.6 135.7l3-1.3 1.7-3.9-3 1.8z" fill="#750"/><path class="msb" d="M358.4 138.3l2.2-4.6M393.7 141l2.6-3.3M380.3 146.9l1.4 3.9M416.1 149.8l2.1 7.3M414.7 128.8l2.4 3.5M405.6 130l1.6-4.1M407.2 125.9l2.6-.3M343.4 120.9l2.5 3.8M336.2 118.7l2.3-.9M416.7 161.5l1.5-4.4M418.2 157.1l2.8-3.3"/><path class="rsb" d="M327.2 128.8l2-2.9"/><path d="M377.9 165.9l.9-5.2 2.5.6-1.4-4.4z" fill="#710"/><path d="M362.6 130.8l2.9-2 2.1-1.6-2.7 2.6z" fill="#b60"/><path d="M410.4 132l2.7 2.8 1.9-6.2-2.8-2.4z" fill="#ff0"/><path d="M407.9 130.5l2.8 1.6 1.8-5.7-2.8-1.1z" fill="#df0"/><path d="M413.6 144.6l1.6 3.4 1.9-6.8-1.6-3.2z" fill="#fb0"/><path d="M351.6 145.6l2.4-5.9 2.4-1-2.3 6.4z" fill="#e60"/><path d="M341.3 134.7l3.2 6.8 2.4-6.2-3.1-6.2z" fill="#fd0"/><path d="M338.3 122.2l2.9 3.1 2.5-4.5-2.9-2.6z" fill="#bf0"/><path d="M335.8 121l2.8 1.5 2.6-4.1-2.7-1z" fill="#8f0"/><path d="M387.5 148.3l2.9-4.3 1.8-1.5-2.8 4.6z" fill="#d50"/><path d="M375 136l2.8 5.3 2.2-4.9-2.8-4.5z" fill="#fd0"/><path class="msb" d="M362.9 130.6l2.1-1.1M413.1 134.5l1.6-5.7M412.3 126.6l2.4 2.2M409.8 125.6l2.5 1M351.8 145.3l2.3-.5M344.5 141.2l2-6M340.9 118.5l2.5 2.4M338.6 122.1l2.3-3.6M338.5 117.8l2.4.7"/><path class="rsb" d="M378 165.5l1.1-4.6M351.8 145.3l2.2-5.3M341.7 134.8l2.8 6.4"/><path d="M376.2 159.1l1.8 6.8 2.1-8.9-1.6-4.7z" fill="#f30"/><path d="M413.4 154.1l1 2.4 1.9-7-1-2.2z" fill="#f70"/><path d="M411.1 140.2l2.7 4.5 2-6.5-2.7-4.1z" fill="#fd0"/><path d="M401.2 134.4l2.9-.1 1.8-4.6-3 .7z" fill="#790"/><path d="M375.6 145.7l2.9 7.3 2.1-6.1-2.8-6.3z" fill="#f90"/><path d="M365 129.1l2.9 0 2.2-2.6-2.9.6z" fill="#850"/><path d="M394.4 140.1l3.1-1.8 1.6-3.2-3.2 2.6z" fill="#c50"/><path d="M329 126.1l2.4-1.3 2.7-3.9-2.4 1.9z" fill="#560"/><path d="M383.2 154.2l2.8-5.3 1.9-1.2-2.7 5.7z" fill="#e40"/><path d="M372.4 132.3l2.9 4.1 2.2-4.2-2.8-3.4z" fill="#ff0"/><path class="msb" d="M377.8 140.9l1.9-4.5M415.3 147.6l.8 2.2M377.8 140.9l2.5 6M394.6 139.9l1.7-2.2M396.3 137.7l2.5-2.3M329.2 125.9l2.5-2.8M383.4 153.9l1.8-.8M385.2 153.1l2.5-5.1"/><path class="esb" d="M407.8 133l2.6-10.6"/><path class="rsb" d="M376.6 159l1.4 6.5M329.2 125.9l2.3-1.4"/><path d="M411.9 150.4l1.7 3.8 1.9-6.8-1.7-3.4z" fill="#f90"/><path d="M412.5 162.9l3-.1 1.5-1.1-2.6-5.9z" fill="#f40"/><path d="M358.2 135l2.6-3.3 2.4-1.3-2.6 3.7z" fill="#c70"/><path d="M407.8 133L409 135.1L410.4 122.4Z" fill="url(#sb33)"/><path d="M338.6 129.9l3.1 5.2 2.5-5.8-3.1-4.7z" fill="#ef0"/><path d="M403.7 134.2l2.9 1 1.8-5.1-2.8-.5z" fill="#bf0"/><path d="M408.7 137.1l2.8 3.3 1.9-6.1-2.8-2.8z" fill="#ff0"/><path d="M367.4 128.8l2.9 1.4 2.3-3.1-2.9-.8z" fill="#8c0"/><path d="M369.9 129.9l2.9 2.8 2.2-3.6-2.8-2.2z" fill="#cf0"/><path d="M378.9 161.2l2.7-6.8 2-.8-2.7 8z" fill="#e30"/><path d="M406.2 135.1l2.9 2.2 1.8-5.7-2.8-1.7z" fill="#ff0"/><path class="msb" d="M413.8 144.3l1.5 3.3M360.6 133.7l2.3-3.1M404 133.9l1.6-3.9M411.5 140.1l1.6-5.6M370.3 129.9l1.9-2.6"/><path class="rsb" d="M339 129.8l2.7 5M379.1 160.9l2.5-6.1"/><path d="M409 135.1L411.9 134.3L410.4 122.4Z" fill="url(#sb34)"/><path d="M411.8 160.3l.9 2.7 1.9-7.2-1-2.3z" fill="#f50"/><path d="M423.8 148.9l3.4-4.4 1.2-3-3.4 5.3z" fill="#d60"/><path d="M331.2 124.7l2.6.3 2.6-4.4-2.6.2z" fill="#5b0"/><path d="M336 126.5l3 3.7 2.5-5.3-2.9-3.1z" fill="#cf0"/><path d="M396.9 138.3l3-.6 1.8-3.8-3 1.2z" fill="#770"/><path d="M390.1 144.6l3.1-2.9 1.6-2.1-3 3.4z" fill="#d60"/><path d="M419.5 155.8l3.3-4.9 1.3-2.5-3.3 5.7z" fill="#e40"/><path d="M409.5 145.6l2.7 5 1.9-6.4-2.7-4.5z" fill="#fc0"/><path d="M373 140.2l2.9 6 2.3-5.2-2.9-5.3z" fill="#fd0"/><path d="M373.7 151.1l2.9 8.3 2.2-6.7-2.9-7.2z" fill="#f70"/><path d="M333.5 124.8l2.9 2 2.5-4.9-2.8-1.4z" fill="#9f0"/><path d="M353.8 140.3l2.5-4.5 2.4-1.3-2.5 4.8z" fill="#d80"/><path class="msb" d="M398.8 135.4l2.6-1.3M421 153.8l3-5.1M411.5 140.1l2.3 4.2M375.9 145.8l1.9-4.9M375.3 136.1l2.5 4.8M336.3 126.4l2.3-4.3"/><path class="rsb" d="M426.9 144.7l1.3-2.9M331.5 124.5l2.3.1M336.3 126.4l2.7 3.4M374 151.3l2.6 7.7M333.8 124.6l2.5 1.8"/><path d="M415.2 162.7l3.3-5.5 1.4-2-3.3 6.7z" fill="#e30"/><path d="M410.2 156.3l1.7 4.1 2-6.8-1.7-3.7z" fill="#f70"/><path d="M360.5 132.2l2.9-1.2 2.2-2.2-2.8 1.9z" fill="#960"/><path d="M410 166.8l1 3.6 1.9-8-.9-2.7z" fill="#f30"/><path d="M399.5 137.6l2.9.5 1.9-4.4-3 .1z" fill="#8b0"/><path d="M407.1 142l2.7 3.9 2-6-2.8-3.3zM370.5 135.8l2.9 4.8 2.2-4.5-2.9-4.1z" fill="#ff0"/><path d="M385.7 149.5l3-3.9 1.8-1.5-2.9 4.2z" fill="#d60"/><path d="M402.1 138l2.8 1.6 1.9-4.9-2.9-1.1z" fill="#df0"/><path d="M404.6 139.4l2.8 2.8 1.9-5.5-2.8-2.2z" fill="#ff0"/><path class="msb" d="M415.4 162.5l1.3-1M360.8 132l2.1-1.4M362.9 130.6l2.4-1.6M411.9 160l.9 2.7M401.4 134.1l2.6-.2M409.8 145.5l1.7-5.4M409 136.9l2.5 3.2M372.8 132.3l2.5 3.8M387.7 148l2.6-3.6M402.4 137.8l1.6-3.9M404 133.9l2.5 1"/><path class="rsb" d="M354 140l2.2-3.8"/><path d="M410.9 170.4l3.3-6.7 1.4-1.5-2.9.1z" fill="#610"/><path d="M392.6 142.1l3.1-1.2 1.7-3.1-3.1 1.9z" fill="#b50"/><path d="M362.9 130.9l2.9.5 2.3-2.8-2.9 0z" fill="#690"/><path d="M407.8 150.9l2.7 5.5 2-6.2-2.7-5z" fill="#fa0"/><path d="M367.9 132.8l2.9 3.4 2.3-3.9-2.9-2.8z" fill="#df0"/><path d="M408.5 162.2l1.7 4.7 2-7.1-1.7-4.1z" fill="#f50"/><path d="M365.4 131.1l2.9 2 2.3-3.3-2.9-1.4z" fill="#9e0"/><path d="M371.1 144.9l2.9 6.7 2.3-5.7-3-6z" fill="#fc0"/><path d="M356 136.4l2.7-2.9 2.3-1.7-2.6 3.3z" fill="#b70"/><path d="M402.5 138.6L404.4 140.6L405.4 121.7Z" fill="url(#sb5)"/><path class="msb" d="M406.5 134.9l2.5 2M412.8 162.7l2.6-.2M392.9 141.9l1.7-2M365.3 129l2.5-.3M370.3 129.9l2.5 2.4M410.5 156.1l1.4 3.9M368.2 132.8l2.1-2.9M367.8 128.7l2.5 1.2M374 151.3l1.9-5.5"/><path class="esb" d="M402.5 138.6l2.9-16.9"/><path class="rsb" d="M371.4 144.9l2.6 6.4M356.2 136.2l2.4-2.4"/><path d="M381.4 155l2.8-4.9 2-1.2-2.8 5.3z" fill="#e60"/><path d="M422.4 151.4l3.5-3.6 1.2-3.4-3.4 4.5z" fill="#d60"/><path d="M408.4 174.8l1.1-3.5 1.9-1.3-1.1-3.8z" fill="#810"/><path d="M404.4 140.6L407 139.3L405.4 121.7Z" fill="url(#sb44)"/><path d="M395.2 140.8l3 0 1.9-3.6-3 .6z" fill="#780"/><path d="M405.4 146.8l2.8 4.4 1.9-5.8-2.8-3.9z" fill="#fd0"/><path d="M418.1 157.8l3.4-4.2 1.3-2.7-3.3 4.9z" fill="#d50"/><path d="M388.3 146.1l3.2-2.4 1.7-2-3.2 2.9z" fill="#c60"/><path d="M406.8 168.4l1.7 6.4 2-8.5-1.7-4.6z" fill="#f30"/><path d="M397.8 140.6l3 1.2 1.8-4.2-2.9-.6z" fill="#ad0"/><path d="M406.1 156.2l2.7 6.2 2.1-6.4-2.8-5.5z" fill="#f80"/><path class="msb" d="M381.6 154.8l1.8-.9M424 148.7l2.9-4M408.1 150.9l1.7-5.4M390.3 144.4l2.6-2.5"/><path class="rsb" d="M381.6 154.8l2.5-4.4M425.6 147.9l1.3-3.2M408.5 174.4l1.1-3.4M407.1 168.3l1.4 6.1"/><path d="M402.9 143.6l2.9 3.4 1.9-5.3-2.9-2.8zM368.5 139.8l2.9 5.5 2.3-5-2.9-4.8z" fill="#ff0"/><path d="M400.4 141.6l2.9 2.3 1.9-4.8-2.9-1.7z" fill="#ef0"/><path d="M413.8 164.2l3.3-4.8 1.4-2.2-3.3 5.6z" fill="#e40"/><path d="M358.3 134l2.9-.6 2.3-2.8-2.8 1.1z" fill="#850"/><path d="M409.4 171.3l3.3-6 1.5-1.7-3.3 6.8z" fill="#e30"/><path d="M365.8 136.1l3 4.1 2.3-4.4-2.9-3.4z" fill="#df0"/><path d="M360.8 133.2l2.9 1 2.3-3.3-2.8-.5z" fill="#6b0"/><path d="M390.9 144l3.1-.7 1.8-2.9-3.1 1.3z" fill="#a50"/><path d="M403.7 151.5l2.8 5.1 2-5.8-2.8-4.5z" fill="#fc0"/><path class="msb" d="M408.1 150.9l2.4 5.2M400.7 141.4l1.7-3.6M414 163.9l1.4-1.4M415.4 162.5l2.9-5M358.6 133.8l2.2-1.8M391.2 143.8l1.7-1.9M392.9 141.9l2.6-1.3"/><path class="esb" d="M396.4 140.9l2.7-15.6"/><path class="rsb" d="M368.8 139.9l2.6 5M358.6 133.8l2.5-.8M409.6 171l3-5.4M366.2 136.1l2.6 3.8M361.1 133l2.5.8"/><path d="M383.9 150.6l3-3.5 1.9-1.5-3 3.9z" fill="#d70"/><path d="M363.3 133.9l2.9 2.6 2.4-3.8-2.9-2z" fill="#af0"/><path d="M396.4 140.9L398.4 142.9L399.1 125.3Z" fill="url(#sb33)"/><path d="M407.6 159.1L409 156.9L407.8 135.6Z" fill="url(#sb14)"/><path d="M404.4 161.6l2.7 7.1 2.1-6.7-2.8-6.1z" fill="#f70"/><path d="M398.4 142.9L400.9 141.5L399.1 125.3Z" fill="url(#sb35)"/><path d="M404.7 157.8L407.6 159.1L407.8 135.6Z" fill="url(#sb13)"/><path d="M421 154.1l3.5-2.9 1.3-3.6-3.5 3.6z" fill="#c50"/><path d="M399.4 143.6L399.6 141.2L399 104Z" fill="url(#sb48)"/><path d="M393.5 143.2l3 .5 1.9-3.5-3 .1z" fill="#8a0"/><path class="msb" d="M406.5 156.2l1.6-5.3M405.7 146.7l2.4 4.2M366.2 136.1l2-3.3"/><path class="esb" d="M404.7 157.8l3.1-22.2"/><path class="rsb" d="M384.1 150.4l2.6-3M363.6 133.8l2.6 2.3M404.8 161.7l2.3 6.6M424.2 151.2l1.4-3.3"/><path d="M401.2 147.7l2.9 4.1 1.9-5.2-2.8-3.4zM398.6 145l3 3 1.9-4.6-2.9-2.3z" fill="#ff0"/><path d="M396.1 143.5l2.9 1.8 2-4-3-1.2z" fill="#bf0"/><path d="M395 144.4L397 142.5L395.6 102.6Z" fill="url(#sb48)"/><path d="M392.4 142.9L395 144.4L395.6 102.6Z" fill="url(#sb47)"/><path d="M416.7 159.9l3.5-3.5 1.3-2.9-3.4 4.2z" fill="#d50"/><path d="M396.1 143.4L399.4 143.6L399 104Z" fill="url(#sb49)"/><path d="M386.5 147.6l3.2-1.9 1.7-2.1-3.2 2.4z" fill="#c60"/><path d="M402 156.2l2.8 5.8 2-5.8-2.8-5.1z" fill="#fb0"/><path d="M412.4 165.9l3.3-4.4 1.4-2.1-3.3 4.8z" fill="#d40"/><path class="msb" d="M395.5 140.6l2.6-.2M403.2 143.5l2.5 3.2M400.7 141.4l2.5 2.1M399 145l1.7-3.6M398.1 140.4l2.6 1M418.3 157.5l3-3.7M404.8 161.7l1.7-5.5"/><path class="esb" d="M392.4 142.9l3.2-40.3M396.1 143.4l2.9-39.4"/><path class="rsb" d="M386.7 147.4l2.7-1.7M402.3 156.3l2.5 5.4"/><path d="M389.1 145.9l3.1-.2 1.9-2.9-3.1.7z" fill="#950"/><path d="M399.5 151.8l2.8 4.8 2.1-5.2-2.9-4.1z" fill="#fe0"/><path d="M419.6 156.8l3.4-2.2 1.4-3.7-3.5 2.9z" fill="#c50"/><path d="M396.9 148.5l2.9 3.7 2.1-4.6-3-3z" fill="#ff0"/><path d="M391.7 145.5l3 1.1 2-3.4-3-.5z" fill="#8b0"/><path d="M394.3 146.4l3 2.4 2-4-3-1.8z" fill="#cf0"/><path d="M415.3 162.1l3.4-3 1.4-2.9-3.5 3.6z" fill="#d50"/><path d="M418.2 159.4l3.3-1.6 1.5-3.6-3.5 2.2z" fill="#b50"/><path class="msb" d="M412.6 165.6l1.4-1.7M389.4 145.7l1.8-1.9M421.3 153.8l2.9-2.6M397.2 148.5l1.8-3.5"/><path class="rsb" d="M412.6 165.6l2.9-3.8M389.4 145.7l2.6-.3M399.8 151.8l2.5 4.5M422.7 154.4l1.5-3.2M397.2 148.5l2.6 3.3M392 145.4l2.6.9M394.6 146.3l2.6 2.2M415.5 161.8l2.9-2.7M421.3 157.6l1.4-3.2M418.4 159.1l2.9-1.5"/><path d="M508.7 51.5L525.3 163L657.6 190.7L676.3 102.5" stroke="#707070" stroke-width="0.9" fill="none"/><path d="M523.7 152.6L527.4 153.3M516 100.6L520 101.3M522.3 142.9L524.3 143.3M520.8 132.9L522.9 133.3M519.2 122.5L521.4 122.9M517.7 111.8L519.8 112.2M514.3 89.1L516.5 89.5M512.5 77L514.8 77.4M510.6 64.6L513 64.9M532.7 164.6L533.6 162.9M541.9 166.5L542.8 164.8M551.2 168.5L552.7 165.3M560.5 170.4L561.4 168.7M570 172.4L570.8 170.6M579.6 174.4L580.3 172.6M589.2 176.4L590.5 173.1M599 178.5L599.6 176.6M608.8 180.5L609.5 178.7M618.8 182.6L619.4 180.7M628.8 184.7L629.8 181.2M639 186.8L639.5 184.9M649.2 189L649.7 187M659 184.2L656.6 183.7M660.7 176.4L658.3 175.9M662.2 168.9L657.9 168.1M663.8 161.7L661.4 161.3M665.3 154.8L663 154.3M666.7 148L664.4 147.6M668 141.5L664 140.8M669.4 135.3L667.2 134.9M670.7 129.2L668.5 128.8M671.9 123.3L669.8 122.9M673.1 117.6L669.3 117M674.3 112.1L672.2 111.7M675.4 106.8L673.4 106.4" stroke="#707070" stroke-width="0.8" fill="none"/><text x="512.2" y="103" font-size="9.2" text-anchor="middle" font-weight="normal" fill="#1a1a1a" textLength="3.3" lengthAdjust="spacingAndGlyphs" stroke="#1a1a1a" stroke-width="0.25">5</text><text x="519.4" y="154.5" font-size="9.2" text-anchor="middle" font-weight="normal" fill="#1a1a1a" textLength="3.3" lengthAdjust="spacingAndGlyphs" stroke="#1a1a1a" stroke-width="0.25">0</text><text x="546.9" y="178" font-size="9.2" text-anchor="middle" font-weight="normal" fill="#1a1a1a" textLength="6.4" lengthAdjust="spacingAndGlyphs" stroke="#1a1a1a" stroke-width="0.25">&#8722;2</text><text x="586.6" y="186.2" font-size="9.2" text-anchor="middle" font-weight="normal" fill="#1a1a1a" textLength="3.3" lengthAdjust="spacingAndGlyphs" stroke="#1a1a1a" stroke-width="0.25">0</text><text x="627.2" y="195.3" font-size="9.2" text-anchor="middle" font-weight="normal" fill="#1a1a1a" textLength="3.3" lengthAdjust="spacingAndGlyphs" stroke="#1a1a1a" stroke-width="0.25">2</text><text x="665.6" y="175.7" font-size="9.2" text-anchor="middle" font-weight="normal" fill="#1a1a1a" textLength="6.4" lengthAdjust="spacingAndGlyphs" stroke="#1a1a1a" stroke-width="0.25">&#8722;2</text><text x="670.1" y="147.5" font-size="9.2" text-anchor="middle" font-weight="normal" fill="#1a1a1a" textLength="3.3" lengthAdjust="spacingAndGlyphs" stroke="#1a1a1a" stroke-width="0.25">0</text><text x="675.1" y="122.7" font-size="9.2" text-anchor="middle" font-weight="normal" fill="#1a1a1a" textLength="3.3" lengthAdjust="spacingAndGlyphs" stroke="#1a1a1a" stroke-width="0.25">2</text><text x="583.4" y="193.9" font-size="8.5" text-anchor="middle" font-weight="bold" fill="#222" >t</text><text x="679.8" y="146.8" font-size="8.5" text-anchor="middle" font-weight="bold" fill="#222" >x</text><text x="473.5" y="110.7" font-size="7.8" font-weight="bold" fill="#1a1a1a" stroke="#1a1a1a" stroke-width="0.1" textLength="32.4" lengthAdjust="spacingAndGlyphs">Re[&#923;<tspan font-size="6.3" dy="1.9">8,</tspan><tspan dy="-1.9">(x,t)]</tspan></text><path d="M570.1 86.8L529.7 160.1L652.9 185.6" stroke="#2a2a2a" stroke-width="1.3" fill="none" stroke-linejoin="miter"/><path d="M576.2 87.8L571.5 87L566.7 95.8Z" fill="#b4f000" stroke="#b4f000" stroke-width="0.3"/><path d="M580 88.4L576.2 87.8L566.7 95.8L562.6 103.3Z" fill="#ff0000" stroke="#ff0000" stroke-width="0.3"/><path d="M586.9 89.5L580 88.4L562.6 103.3L554.8 117.5Z" fill="#b4f000" stroke="#b4f000" stroke-width="0.3"/><path d="M590.7 90.2L586.9 89.5L554.8 117.5L550.1 126.1Z" fill="#ff0000" stroke="#ff0000" stroke-width="0.3"/><path d="M597.7 91.3L590.7 90.2L550.1 126.1L541.2 142.3Z" fill="#b4f000" stroke="#b4f000" stroke-width="0.3"/><path d="M601.6 92L597.7 91.3L541.2 142.3L535.9 152.1Z" fill="#ff0000" stroke="#ff0000" stroke-width="0.3"/><path d="M532 159.2L537 160.2L608.6 93.1L601.6 92L535.9 152.1Z" fill="#b4f000" stroke="#b4f000" stroke-width="0.3"/><path d="M537 160.2L541.6 161.2L612.6 93.8L608.6 93.1Z" fill="#ff0000" stroke="#ff0000" stroke-width="0.3"/><path d="M541.6 161.2L549.8 162.9L619.7 94.9L612.6 93.8Z" fill="#b4f000" stroke="#b4f000" stroke-width="0.3"/><path d="M549.8 162.9L554.5 163.8L623.7 95.6L619.7 94.9Z" fill="#ff0000" stroke="#ff0000" stroke-width="0.3"/><path d="M554.5 163.8L562.8 165.6L630.9 96.8L623.7 95.6Z" fill="#b4f000" stroke="#b4f000" stroke-width="0.3"/><path d="M562.8 165.6L567.6 166.5L634.9 97.5L630.9 96.8Z" fill="#ff0000" stroke="#ff0000" stroke-width="0.3"/><path d="M567.6 166.5L576 168.3L642.2 98.7L634.9 97.5Z" fill="#b4f000" stroke="#b4f000" stroke-width="0.3"/><path d="M576 168.3L580.8 169.3L646.3 99.3L642.2 98.7Z" fill="#ff0000" stroke="#ff0000" stroke-width="0.3"/><path d="M580.8 169.3L589.4 171L653.6 100.6L646.3 99.3Z" fill="#b4f000" stroke="#b4f000" stroke-width="0.3"/><path d="M589.4 171L594.3 172L657.8 101.2L653.6 100.6Z" fill="#ff0000" stroke="#ff0000" stroke-width="0.3"/><path d="M594.3 172L603 173.8L665.2 102.5L657.8 101.2Z" fill="#b4f000" stroke="#b4f000" stroke-width="0.3"/><path d="M603 173.8L607.9 174.9L669.4 103.2L665.2 102.5Z" fill="#ff0000" stroke="#ff0000" stroke-width="0.3"/><path d="M607.9 174.9L616.7 176.7L669.1 113.8L671.4 103.5L669.4 103.2Z" fill="#b4f000" stroke="#b4f000" stroke-width="0.3"/><path d="M616.7 176.7L621.7 177.7L667.2 122.1L669.1 113.8Z" fill="#ff0000" stroke="#ff0000" stroke-width="0.3"/><path d="M621.7 177.7L630.7 179.5L663.6 138L667.2 122.1Z" fill="#b4f000" stroke="#b4f000" stroke-width="0.3"/><path d="M630.7 179.5L635.8 180.6L661.5 147.6L663.6 138Z" fill="#ff0000" stroke="#ff0000" stroke-width="0.3"/><path d="M635.8 180.6L644.8 182.5L657.3 165.9L661.5 147.6Z" fill="#b4f000" stroke="#b4f000" stroke-width="0.3"/><path d="M644.8 182.5L650 183.5L654.8 176.9L657.3 165.9Z" fill="#ff0000" stroke="#ff0000" stroke-width="0.3"/><path d="M650 183.5L653.2 184.2L654.8 176.9Z" fill="#b4f000" stroke="#b4f000" stroke-width="0.3"/><path d="M590.7 171.3L620.2 95" stroke="#fff" stroke-width="1.8"/><defs><linearGradient id="sc1" x1="0" y1="1" x2="0" y2="0"><stop offset="0" stop-color="#680"/><stop offset="0.5" stop-color="#081"/><stop offset="1" stop-color="#07f"/></linearGradient><linearGradient id="sc2" x1="0" y1="1" x2="0" y2="0"><stop offset="0" stop-color="#ff0"/><stop offset="0.5" stop-color="#0f0"/><stop offset="1" stop-color="#0ec"/></linearGradient><linearGradient id="sc3" x1="0" y1="1" x2="0" y2="0"><stop offset="0" stop-color="#f80"/><stop offset="0.5" stop-color="#0f1"/><stop offset="1" stop-color="#07f"/></linearGradient><linearGradient id="sc4" x1="0" y1="1" x2="0" y2="0"><stop offset="0" stop-color="#f80"/><stop offset="0.5" stop-color="#0f0"/><stop offset="1" stop-color="#06c"/></linearGradient><linearGradient id="sc5" x1="0" y1="1" x2="0" y2="0"><stop offset="0" stop-color="#740"/><stop offset="0.5" stop-color="#580"/><stop offset="1" stop-color="#081"/></linearGradient><linearGradient id="sc6" x1="0" y1="1" x2="0" y2="0"><stop offset="0" stop-color="#f80"/><stop offset="0.5" stop-color="#bf0"/><stop offset="1" stop-color="#0f1"/></linearGradient><linearGradient id="sc7" x1="0" y1="1" x2="0" y2="0"><stop offset="0" stop-color="#760"/><stop offset="0.5" stop-color="#380"/><stop offset="1" stop-color="#084"/></linearGradient><linearGradient id="sc8" x1="0" y1="1" x2="0" y2="0"><stop offset="0" stop-color="#fc0"/><stop offset="0.5" stop-color="#8f0"/><stop offset="1" stop-color="#0f3"/></linearGradient><linearGradient id="sc9" x1="0" y1="1" x2="0" y2="0"><stop offset="0" stop-color="#760"/><stop offset="0.5" stop-color="#580"/><stop offset="1" stop-color="#180"/></linearGradient><linearGradient id="sc10" x1="0" y1="1" x2="0" y2="0"><stop offset="0" stop-color="#fc0"/><stop offset="0.5" stop-color="#cf0"/><stop offset="1" stop-color="#4f0"/></linearGradient><linearGradient id="sc11" x1="0" y1="1" x2="0" y2="0"><stop offset="0" stop-color="#580"/><stop offset="0.5" stop-color="#088"/><stop offset="1" stop-color="#01f"/></linearGradient><linearGradient id="sc12" x1="0" y1="1" x2="0" y2="0"><stop offset="0" stop-color="#cf0"/><stop offset="0.5" stop-color="#0f6"/><stop offset="1" stop-color="#03c"/></linearGradient><linearGradient id="sc13" x1="0" y1="1" x2="0" y2="0"><stop offset="0" stop-color="#680"/><stop offset="0.5" stop-color="#088"/><stop offset="1" stop-color="#10f"/></linearGradient><linearGradient id="sc14" x1="0" y1="1" x2="0" y2="0"><stop offset="0" stop-color="#ff0"/><stop offset="0.5" stop-color="#0f6"/><stop offset="1" stop-color="#10c"/></linearGradient><linearGradient id="sc15" x1="0" y1="1" x2="0" y2="0"><stop offset="0" stop-color="#740"/><stop offset="0.5" stop-color="#084"/><stop offset="1" stop-color="#10f"/></linearGradient><linearGradient id="sc16" x1="0" y1="1" x2="0" y2="0"><stop offset="0" stop-color="#f80"/><stop offset="0.5" stop-color="#0f3"/><stop offset="1" stop-color="#10c"/></linearGradient><linearGradient id="sc17" x1="0" y1="1" x2="0" y2="0"><stop offset="0" stop-color="#580"/><stop offset="0.5" stop-color="#084"/><stop offset="1" stop-color="#05f"/></linearGradient><linearGradient id="sc18" x1="0" y1="1" x2="0" y2="0"><stop offset="0" stop-color="#cf0"/><stop offset="0.5" stop-color="#0f3"/><stop offset="1" stop-color="#0ac"/></linearGradient><linearGradient id="sc19" x1="0" y1="1" x2="0" y2="0"><stop offset="0" stop-color="#680"/><stop offset="0.5" stop-color="#180"/><stop offset="1" stop-color="#088"/></linearGradient><linearGradient id="sc20" x1="0" y1="1" x2="0" y2="0"><stop offset="0" stop-color="#ef0"/><stop offset="0.5" stop-color="#3f0"/><stop offset="1" stop-color="#0fb"/></linearGradient><linearGradient id="sc21" x1="0" y1="1" x2="0" y2="0"><stop offset="0" stop-color="#580"/><stop offset="0.5" stop-color="#180"/><stop offset="1" stop-color="#084"/></linearGradient><linearGradient id="sc22" x1="0" y1="1" x2="0" y2="0"><stop offset="0" stop-color="#cf0"/><stop offset="0.5" stop-color="#4f0"/><stop offset="1" stop-color="#0f3"/></linearGradient><linearGradient id="sc23" x1="0" y1="1" x2="0" y2="0"><stop offset="0" stop-color="#720"/><stop offset="0.5" stop-color="#081"/><stop offset="1" stop-color="#01f"/></linearGradient><linearGradient id="sc24" x1="0" y1="1" x2="0" y2="0"><stop offset="0" stop-color="#f40"/><stop offset="0.5" stop-color="#0f0"/><stop offset="1" stop-color="#03c"/></linearGradient><linearGradient id="sc25" x1="0" y1="1" x2="0" y2="0"><stop offset="0" stop-color="#680"/><stop offset="0.5" stop-color="#084"/><stop offset="1" stop-color="#03f"/></linearGradient><linearGradient id="sc26" x1="0" y1="1" x2="0" y2="0"><stop offset="0" stop-color="#ff0"/><stop offset="0.5" stop-color="#0f3"/><stop offset="1" stop-color="#06c"/></linearGradient><linearGradient id="sc27" x1="0" y1="1" x2="0" y2="0"><stop offset="0" stop-color="#ff0"/><stop offset="0.5" stop-color="#4f0"/><stop offset="1" stop-color="#0f6"/></linearGradient><linearGradient id="sc28" x1="0" y1="1" x2="0" y2="0"><stop offset="0" stop-color="#760"/><stop offset="0.5" stop-color="#680"/><stop offset="1" stop-color="#580"/></linearGradient><linearGradient id="sc29" x1="0" y1="1" x2="0" y2="0"><stop offset="0" stop-color="#fc0"/><stop offset="0.5" stop-color="#ff0"/><stop offset="1" stop-color="#cf0"/></linearGradient><linearGradient id="sc30" x1="0" y1="1" x2="0" y2="0"><stop offset="0" stop-color="#580"/><stop offset="0.5" stop-color="#081"/><stop offset="1" stop-color="#08c"/></linearGradient><linearGradient id="sc31" x1="0" y1="1" x2="0" y2="0"><stop offset="0" stop-color="#bf0"/><stop offset="0.5" stop-color="#0f1"/><stop offset="1" stop-color="#0ff"/></linearGradient><linearGradient id="sc32" x1="0" y1="1" x2="0" y2="0"><stop offset="0" stop-color="#720"/><stop offset="0.5" stop-color="#740"/><stop offset="1" stop-color="#760"/></linearGradient><linearGradient id="sc33" x1="0" y1="1" x2="0" y2="0"><stop offset="0" stop-color="#f40"/><stop offset="0.5" stop-color="#f80"/><stop offset="1" stop-color="#fd0"/></linearGradient><linearGradient id="sc34" x1="0" y1="1" x2="0" y2="0"><stop offset="0" stop-color="#680"/><stop offset="0.5" stop-color="#380"/><stop offset="1" stop-color="#081"/></linearGradient><linearGradient id="sc35" x1="0" y1="1" x2="0" y2="0"><stop offset="0" stop-color="#ff0"/><stop offset="0.5" stop-color="#8f0"/><stop offset="1" stop-color="#0f0"/></linearGradient><linearGradient id="sc36" x1="0" y1="1" x2="0" y2="0"><stop offset="0" stop-color="#ef0"/><stop offset="0.5" stop-color="#7f0"/><stop offset="1" stop-color="#0f1"/></linearGradient><linearGradient id="sc37" x1="0" y1="1" x2="0" y2="0"><stop offset="0" stop-color="#700"/><stop offset="0.5" stop-color="#720"/><stop offset="1" stop-color="#740"/></linearGradient><linearGradient id="sc38" x1="0" y1="1" x2="0" y2="0"><stop offset="0" stop-color="#f00"/><stop offset="0.5" stop-color="#f40"/><stop offset="1" stop-color="#f80"/></linearGradient><linearGradient id="sc39" x1="0" y1="1" x2="0" y2="0"><stop offset="0" stop-color="#740"/><stop offset="0.5" stop-color="#680"/><stop offset="1" stop-color="#380"/></linearGradient><linearGradient id="sc40" x1="0" y1="1" x2="0" y2="0"><stop offset="0" stop-color="#f80"/><stop offset="0.5" stop-color="#ef0"/><stop offset="1" stop-color="#7f0"/></linearGradient><linearGradient id="sc41" x1="0" y1="1" x2="0" y2="0"><stop offset="0" stop-color="#f80"/><stop offset="0.5" stop-color="#ff0"/><stop offset="1" stop-color="#8f0"/></linearGradient><linearGradient id="sc42" x1="0" y1="1" x2="0" y2="0"><stop offset="0" stop-color="#720"/><stop offset="0.5" stop-color="#680"/><stop offset="1" stop-color="#180"/></linearGradient><linearGradient id="sc43" x1="0" y1="1" x2="0" y2="0"><stop offset="0" stop-color="#f40"/><stop offset="0.5" stop-color="#ff0"/><stop offset="1" stop-color="#4f0"/></linearGradient><linearGradient id="sc44" x1="0" y1="1" x2="0" y2="0"><stop offset="0" stop-color="#bf0"/><stop offset="0.5" stop-color="#3f0"/><stop offset="1" stop-color="#0f6"/></linearGradient><linearGradient id="sc45" x1="0" y1="1" x2="0" y2="0"><stop offset="0" stop-color="#720"/><stop offset="0.5" stop-color="#760"/><stop offset="1" stop-color="#580"/></linearGradient><linearGradient id="sc46" x1="0" y1="1" x2="0" y2="0"><stop offset="0" stop-color="#f40"/><stop offset="0.5" stop-color="#fc0"/><stop offset="1" stop-color="#cf0"/></linearGradient><linearGradient id="sc47" x1="0" y1="1" x2="0" y2="0"><stop offset="0" stop-color="#740"/><stop offset="0.5" stop-color="#760"/><stop offset="1" stop-color="#680"/></linearGradient><linearGradient id="sc48" x1="0" y1="1" x2="0" y2="0"><stop offset="0" stop-color="#f80"/><stop offset="0.5" stop-color="#fd0"/><stop offset="1" stop-color="#ef0"/></linearGradient><linearGradient id="sc49" x1="0" y1="1" x2="0" y2="0"><stop offset="0" stop-color="#f80"/><stop offset="0.5" stop-color="#fc0"/><stop offset="1" stop-color="#ff0"/></linearGradient><linearGradient id="sc50" x1="0" y1="1" x2="0" y2="0"><stop offset="0" stop-color="#cf0"/><stop offset="0.5" stop-color="#0f0"/><stop offset="1" stop-color="#0f9"/></linearGradient><linearGradient id="sc51" x1="0" y1="1" x2="0" y2="0"><stop offset="0" stop-color="#f40"/><stop offset="0.5" stop-color="#ef0"/><stop offset="1" stop-color="#3f0"/></linearGradient><linearGradient id="sc52" x1="0" y1="1" x2="0" y2="0"><stop offset="0" stop-color="#ef0"/><stop offset="0.5" stop-color="#bf0"/><stop offset="1" stop-color="#7f0"/></linearGradient><linearGradient id="sc53" x1="0" y1="1" x2="0" y2="0"><stop offset="0" stop-color="#ff0"/><stop offset="0.5" stop-color="#cf0"/><stop offset="1" stop-color="#8f0"/></linearGradient><linearGradient id="sc54" x1="0" y1="1" x2="0" y2="0"><stop offset="0" stop-color="#fd0"/><stop offset="0.5" stop-color="#bf0"/><stop offset="1" stop-color="#3f0"/></linearGradient><linearGradient id="sc55" x1="0" y1="1" x2="0" y2="0"><stop offset="0" stop-color="#700"/><stop offset="0.5" stop-color="#740"/><stop offset="1" stop-color="#680"/></linearGradient><linearGradient id="sc56" x1="0" y1="1" x2="0" y2="0"><stop offset="0" stop-color="#f00"/><stop offset="0.5" stop-color="#f80"/><stop offset="1" stop-color="#ef0"/></linearGradient><linearGradient id="sc57" x1="0" y1="1" x2="0" y2="0"><stop offset="0" stop-color="#f00"/><stop offset="0.5" stop-color="#f80"/><stop offset="1" stop-color="#ff0"/></linearGradient><linearGradient id="sc58" x1="0" y1="1" x2="0" y2="0"><stop offset="0" stop-color="#680"/><stop offset="0.5" stop-color="#580"/><stop offset="1" stop-color="#380"/></linearGradient><linearGradient id="sc59" x1="0" y1="1" x2="0" y2="0"><stop offset="0" stop-color="#fd0"/><stop offset="0.5" stop-color="#7f0"/><stop offset="1" stop-color="#0f6"/></linearGradient><linearGradient id="sc60" x1="0" y1="1" x2="0" y2="0"><stop offset="0" stop-color="#380"/><stop offset="0.5" stop-color="#081"/><stop offset="1" stop-color="#088"/></linearGradient><linearGradient id="sc61" x1="0" y1="1" x2="0" y2="0"><stop offset="0" stop-color="#8f0"/><stop offset="0.5" stop-color="#0f0"/><stop offset="1" stop-color="#0f6"/></linearGradient><linearGradient id="sc62" x1="0" y1="1" x2="0" y2="0"><stop offset="0" stop-color="#380"/><stop offset="0.5" stop-color="#084"/><stop offset="1" stop-color="#07f"/></linearGradient><linearGradient id="sc63" x1="0" y1="1" x2="0" y2="0"><stop offset="0" stop-color="#7f0"/><stop offset="0.5" stop-color="#0f6"/><stop offset="1" stop-color="#0ff"/></linearGradient><linearGradient id="sc64" x1="0" y1="1" x2="0" y2="0"><stop offset="0" stop-color="#f40"/><stop offset="0.5" stop-color="#f80"/><stop offset="1" stop-color="#fc0"/></linearGradient><linearGradient id="sc65" x1="0" y1="1" x2="0" y2="0"><stop offset="0" stop-color="#f80"/><stop offset="0.5" stop-color="#cf0"/><stop offset="1" stop-color="#0f0"/></linearGradient><linearGradient id="sc66" x1="0" y1="1" x2="0" y2="0"><stop offset="0" stop-color="#580"/><stop offset="0.5" stop-color="#380"/><stop offset="1" stop-color="#180"/></linearGradient><linearGradient id="sc67" x1="0" y1="1" x2="0" y2="0"><stop offset="0" stop-color="#cf0"/><stop offset="0.5" stop-color="#8f0"/><stop offset="1" stop-color="#4f0"/></linearGradient><linearGradient id="sc68" x1="0" y1="1" x2="0" y2="0"><stop offset="0" stop-color="#8f0"/><stop offset="0.5" stop-color="#0f3"/><stop offset="1" stop-color="#0ec"/></linearGradient><linearGradient id="sc69" x1="0" y1="1" x2="0" y2="0"><stop offset="0" stop-color="#fd0"/><stop offset="0.5" stop-color="#ef0"/><stop offset="1" stop-color="#bf0"/></linearGradient><linearGradient id="sc70" x1="0" y1="1" x2="0" y2="0"><stop offset="0" stop-color="#7f0"/><stop offset="0.5" stop-color="#0f1"/><stop offset="1" stop-color="#0fb"/></linearGradient><linearGradient id="sc71" x1="0" y1="1" x2="0" y2="0"><stop offset="0" stop-color="#700"/><stop offset="0.5" stop-color="#760"/><stop offset="1" stop-color="#380"/></linearGradient><linearGradient id="sc72" x1="0" y1="1" x2="0" y2="0"><stop offset="0" stop-color="#f00"/><stop offset="0.5" stop-color="#fd0"/><stop offset="1" stop-color="#7f0"/></linearGradient><linearGradient id="sc73" x1="0" y1="1" x2="0" y2="0"><stop offset="0" stop-color="#f40"/><stop offset="0.5" stop-color="#fd0"/><stop offset="1" stop-color="#bf0"/></linearGradient><linearGradient id="sc74" x1="0" y1="1" x2="0" y2="0"><stop offset="0" stop-color="#fd0"/><stop offset="0.5" stop-color="#3f0"/><stop offset="1" stop-color="#0ff"/></linearGradient><linearGradient id="sc75" x1="0" y1="1" x2="0" y2="0"><stop offset="0" stop-color="#fc0"/><stop offset="0.5" stop-color="#4f0"/><stop offset="1" stop-color="#0f9"/></linearGradient><linearGradient id="sc76" x1="0" y1="1" x2="0" y2="0"><stop offset="0" stop-color="#740"/><stop offset="0.5" stop-color="#380"/><stop offset="1" stop-color="#088"/></linearGradient><linearGradient id="sc77" x1="0" y1="1" x2="0" y2="0"><stop offset="0" stop-color="#f80"/><stop offset="0.5" stop-color="#8f0"/><stop offset="1" stop-color="#0f6"/></linearGradient><linearGradient id="sc78" x1="0" y1="1" x2="0" y2="0"><stop offset="0" stop-color="#ef0"/><stop offset="0.5" stop-color="#0f1"/><stop offset="1" stop-color="#0ff"/></linearGradient><style>.esc{stroke:#38e4e4;stroke-width:1.0;fill:none}.msc{stroke:#38e4e4;stroke-width:0.7;fill:none}.rsc{stroke:#2ee82e;stroke-width:1.7;stroke-linecap:round;fill:none}</style></defs><path d="M579.4 80.3l2.5-2.1 1.4 1.2-2.5-5.1z" fill="#e30"/><path d="M577 74.6l2.7 5.8 1.5-5.7-2.6-4.9z" fill="#f50"/><path d="M581.4 78.4l2.1-5.2 1.6.2-2.1 6.1z" fill="#e30"/><path d="M574.8 70.2l2.6 4.8 1.6-4.9-2.7-5.1z" fill="#f90"/><path d="M575.7 78.4l2.6 2.3 1.6-.4-2.6-6z" fill="#f40"/><path d="M578 80.7l2.1-5.2 1.9 2.5-2.4 2.4z" fill="#d20"/><path d="M583.3 73.8l2.2-5.4 1.5.8-2.1 4.8z" fill="#d50"/><path d="M575.4 68.5L576.6 67.1L574.3 56.6Z" fill="url(#sc29)"/><path d="M572.6 66.8l2.5 3.7 1.6-5.2-2.7-4.8z" fill="#fd0"/><path d="M573.4 73.4l2.7 5.4 1.6-4.1-2.6-4.9z" fill="#f80"/><path d="M573.1 67.9L575.4 68.5L574.3 56.6Z" fill="url(#sc28)"/><path class="msc" d="M581.6 78.1l1.5 1.1M575.1 70.2l1.3-4.8"/><path class="esc" d="M573.1 67.9l1.2-11.3M576 69.7l-2.5-14.9"/><path class="rsc" d="M580.9 74.7l2.2 4.5M578.6 70.1l2.3 4.6M583.1 79.2l1.8-5.5M576.4 65.4l2.2 4.7M584.9 73.7l1.9-4.2M574.1 60.8l2.3 4.6"/><path d="M574.9 71.1L576 69.7L573.5 54.8Z" fill="url(#sc10)"/><path d="M604.4 83.5l2.5-5.1 1.2 1.2-2.5-4.6z" fill="#a50"/><path d="M571.5 65.6l1.4 1.4 1.4-6.5-1.4-2.1z" fill="#ff0"/><path d="M572.5 70.6L574.9 71.1L573.5 54.8Z" fill="url(#sc54)"/><path d="M579.8 76l2.2-5.2 1.8 2.5-2.2 5.2z" fill="#e50"/><path d="M571.2 70.7l2.6 3.2 1.7-3.7-2.7-3.9z" fill="#fc0"/><path d="M570.6 64.6l1.1 1 1.3-7.2-1.2-1.5z" fill="#ff0"/><path d="M602.2 78.5l2.4 5 1.4-8.4-2.5-5.4z" fill="#f80"/><path d="M574.7 83.4l1.9-7.1 2 4.2-2.6-2.4z" fill="#c20"/><path d="M572.1 77.3l2.7 6.1 1.6-4.9-2.7-5.3z" fill="#f60"/><path d="M568.4 63.3l2.3 1.4 1.3-7.8-2.4-2.2z" fill="#df0"/><path d="M570.2 70l1.3 1 1.6-4.6-1.4-1.5z" fill="#ff0"/><path class="msc" d="M580.1 75.8l1.5 2.3M573.8 73.5l1.3-3.3M576.1 78.4l2.1 2M573.8 73.5l2.3 4.9"/><path class="rsc" d="M605.7 75.3l2.1 4.2M572.9 58.7l1.2 2.1M571.8 57.2l1.1 1.5M603.6 70l2.1 5.3M568.5 63l1.2-8M569.7 55l2.1 2.2"/><path d="M585.2 69l2.2-5 1.7 2-2.3 3.8z" fill="#d70"/><path d="M606.4 78.9l2.5-4 1.3.3-2.5 4.7z" fill="#d40"/><path d="M569.2 69.6l1.2.5 1.5-5.1-1.2-1z" fill="#ff0"/><path d="M601.1 85.5l2.4-1.5 1.4-.7-2.5-5.4z" fill="#f50"/><path d="M567.1 68.9l2.4.7 1.4-5.5-2.4-1.4z" fill="#ff0"/><path d="M600.1 74.6l2.4 4 1.3-8.9-2.4-4.4z" fill="#fc0"/><path d="M598.8 80.9l2.5 4.6 1.4-7.5-2.5-4.1z" fill="#f70"/><path d="M569.8 73.9l2.7 3.9 1.6-4.3-2.6-3.2z" fill="#fb0"/><path d="M576.2 76.7l2.4-3.3 1.8 2.3-2.2 5z" fill="#e50"/><path d="M603.2 84l2.4-6 1.3.3-2.4 5.2z" fill="#d30"/><path d="M571.1 85.2l2.2-4.4 1.8 2.5-2.7-6.2z" fill="#e60"/><path class="msc" d="M606.7 78.6l1.1.9M572.4 77.5l1.4-4M571.5 70.7l2.3 2.8M578.2 80.4l1.9-4.6"/><path class="esc" d="M568.4 71.7l1.4-8.5"/><path class="rsc" d="M586.8 69.5l2-3.3M607.8 79.5l2.1-4.1M567.3 68.7l1.2-5.7M601.4 65.6l2.2 4.4"/><path d="M570.4 72.7L571.9 71.1L568.4 48.1Z" fill="url(#sc10)"/><path d="M568.7 73.1l1.5 1.2 1.6-3.9-1.4-1z" fill="#fd0"/><path d="M581.7 71.3l2.2-5.6 1.8 2.9-2.2 5.3z" fill="#e80"/><path d="M568.4 71.7L570.1 72.8L569.8 63.2Z" fill="url(#sc28)"/><path d="M565.6 71.6l2.5 1 1.6-3.5-2.5-.8z" fill="#de0"/><path d="M570.1 72.8L572.1 71.8L569.8 63.2Z" fill="url(#sc29)"/><path d="M608.5 75.4l2.6-2.5 1.3.3-2.6 2.5z" fill="#c40"/><path d="M567.7 72.5l1.3.7 1.6-3.7-1.2-.6z" fill="#fe0"/><path d="M587 64.4l2.4-3.8 1.8 3.5-2.5 2.5z" fill="#c80"/><path d="M597.6 85.6l2.6 3.5 1.4-3.9-2.5-4.8z" fill="#f40"/><path d="M567.7 72L570.4 72.7L568.4 48.1Z" fill="url(#sc9)"/><path d="M630 87.9l2.7-6.6 1 1.6-2.6-1.2z" fill="#620"/><path class="msc" d="M570.4 69.8l1.1.9M567.3 68.7l2.1.5M569.4 69.2l1 .6M587.4 64.3l1.4 1.9M599.1 80.7l2.2 4.5"/><path class="esc" d="M567.7 72l.7-23.9"/><path class="rsc" d="M565.9 71.4l1.4-2.7M609.9 75.4l2.2-2M588.8 66.2l2-2.2"/><path d="M597.9 70.4l2.4 4.2 1.3-9.3-2.4-2.8z" fill="#ff0"/><path d="M568.5 78.6l2.8 6.6 1.4-7.9-2.6-3.7z" fill="#f80"/><path d="M596.6 76.6l2.6 4.5 1.4-7-2.5-4.3z" fill="#fb0"/><path d="M600 89.1l2.3-6.8 1.4 1.2-2.7 1.7z" fill="#d20"/><path d="M628 79.4l2.2 8.5 1.3-5.7-2.2-7.2z" fill="#f60"/><path d="M572.9 81.3l2.2-4.4 1.6-.5-1.9 7z" fill="#e50"/><path d="M610.7 73.4l2.7-1.8 1.1.3-2.6 1.8z" fill="#b50"/><path d="M596.1 67l2 3.5 1.3-8-1.8-.4z" fill="#ff0"/><path d="M569.7 74.8L570.8 73.3L567.4 46Z" fill="url(#sc8)"/><path d="M578.2 73.8l2.5-1.9 1.5-1-2.1 5.3z" fill="#d60"/><path class="msc" d="M600.3 74.3l1.1-8.7M571.3 84.8l1.1-7.3M599.1 80.7l1.2-6.4M601.3 85.2l2.1-1.5"/><path class="esc" d="M601.4 83.4l1.7-14.3M610.1 76.5l-2-21M567.3 74.2l.1-28.2"/><path class="rsc" d="M631.2 82l2.1 1M599.3 62.9l2.1 2.7M629.3 75.4l1.9 6.6M612.1 73.4l2.1-1.4M597.6 62.5l1.7.4"/><path d="M567.6 87.4l2.3.3 1.7-2.8-2.8-6.6z" fill="#f60"/><path d="M606.1 76.2L607.8 77.6L608.1 55.5Z" fill="url(#sc39)"/><path d="M589.1 60.8l2.4-2.1 1.7 4.4-2.4 1.3z" fill="#970"/><path d="M595.7 66.1l.7 1 1.3-4.9-.5-.1z" fill="#ef0"/><path d="M601.4 83.4L603.1 84.6L603.1 69.1Z" fill="url(#sc45)"/><path d="M607.8 77.6L610.1 76.5L608.1 55.5Z" fill="url(#sc41)"/><path d="M603.1 84.6L605.1 83.5L603.1 69.1Z" fill="url(#sc46)"/><path d="M567.3 74.2L569.7 74.8L567.4 46Z" fill="url(#sc59)"/><path d="M595.4 80.3l2.6 5.5 1.5-5.1-2.6-4.6z" fill="#f70"/><path d="M567.2 76.1l1.6 2.9 1.6-5.3-1.4-1.2z" fill="#fb0"/><path class="msc" d="M578.5 73.7l1.6 2.1M580.1 75.8l1.9-4.7M568.8 78.6l2.5 6.2M598 85.5l1.1-4.8M596.9 76.4l2.2 4.3"/><path class="esc" d="M570.1 74.2l-3-20.3M566.2 91l.4-15"/><path class="rsc" d="M590.8 64l2.1-1.1M597.1 62.4l.5.1"/><path d="M593.4 61.4l2.6 4.7 1.4-3.8-2.6-.2z" fill="#be0"/><path d="M595 73.3l2 3.5 1.4-6.9-2-3.5z" fill="#fe0"/><path d="M605.3 78.6l2.5-4.9 1.3 1.4-2.5 3.9z" fill="#d50"/><path d="M591.3 58.8l2.7 2.9 1.3.9-2.5.6z" fill="#550"/><path d="M568.9 75.7L570.1 74.2L567.1 53.9Z" fill="url(#sc10)"/><path d="M566.2 74.6l1.3 1.7 1.8-3.7-1.3-.7z" fill="#fd0"/><path d="M569.7 87.6l2-5.7 1.7-1.1-2.2 4.4z" fill="#d30"/><path d="M583.6 66.1l2.5-2.2 1.5.2-2.2 5z" fill="#c80"/><path d="M612.8 72l2.8-1.7 1.1.2-2.7 1.8z" fill="#b50"/><path d="M566.2 91L566.3 92.6L566.6 76Z" fill="url(#sc55)"/><path d="M563.9 71.9l2.7 2.9 1.7-2.6-2.5-1.2z" fill="#dc0"/><path class="msc" d="M605.5 78.4l1.2.2M593.7 61.6l1.3.8M569.9 87.3l1.4-2.5M571.3 84.8l1.9-3.7M613.2 71.9l1 .1"/><path class="esc" d="M594.2 80.1l1-74.6"/><path class="rsc" d="M595 62.4l2.1 0M592.9 62.9l2.1-.5M614.2 72l2.2-1.4"/><path d="M566.3 84.5l1.5 3 1.2-9.2-1.4-2.7z" fill="#f80"/><path d="M566.5 75.1L568.9 75.7L567.1 53.9Z" fill="url(#sc54)"/><path d="M596.6 91.7l2.3-6.7 1.5 3.9-2.5-3.7z" fill="#720"/><path d="M565.1 91.2l1.4 2 1.5-6.3-1.6-3.1z" fill="#f40"/><path d="M594.6 72.4l.6 1 1.3-6.9-.6-1.1z" fill="#ff0"/><path d="M632.4 81.9l2.7-4.4.9-2.2-2.7 8z" fill="#d50"/><path d="M626.9 88.3l2.8-3.3.6 2.9-2.1-8.6z" fill="#f60"/><path d="M596.5 81.4L598.7 80L595.2 5.5Z" fill="url(#sc16)"/><path d="M594.2 80.1L596.5 81.4L595.2 5.5Z" fill="url(#sc15)"/><path d="M566.4 93.2l1.9-5.7 1.8-.4-2.4-.3z" fill="#610"/><path class="msc" d="M567.6 75.9l1.2 2.7M632.6 81.7l.7 1.3"/><path class="esc" d="M571.3 80.4l-.1-38.7"/><path class="rsc" d="M564.2 72l1.7-.6M633.3 83l2.5-7.4"/><path d="M566.3 92.6L569 92.4L566.6 76Z" fill="url(#sc56)"/><path d="M593.7 77.1l2.1 3.6 1.5-4.3-2.1-3.7z" fill="#fb0"/><path d="M594.2 83.2l2.6 8.5 1.5-6.1-2.6-5.6z" fill="#f50"/><path d="M580.4 72.5l2.4-.8 1.2-5.9-2.1 5.7z" fill="#660"/><path d="M574.8 77.5l2.6-2.1 1.4-1.9-2.3 3.5z" fill="#b40"/><path d="M602 82.9l2.4-6.7 1.4 1.9-2.4 6z" fill="#e50"/><path d="M565.2 81.9l1.2 2.6 1.3-8.9-1.2-1.5z" fill="#fa0"/><path d="M571.3 80.4L572.7 81.9L571.2 41.7Z" fill="url(#sc76)"/><path d="M615 70.7l2.8-2 1.1.2-2.7 2z" fill="#b60"/><path d="M595.8 89.7L597.2 91.1L597.4 77.5Z" fill="url(#sc32)"/><path d="M592.2 68.3l2.6 4.1 1.4-6.8-2.5-4.4z" fill="#ff0"/><path class="msc" d="M595.2 73l1.7 3.4M596.8 91.4l1.2-5.9M582 71.1l1.9-5M603.4 83.7l2.1-5.3M566.5 74.5l1.1 1.4"/><path class="esc" d="M611.8 71.4l1.6-17.9M626.3 77.3l2.6-34.2M599.4 90.3l-2-12.8M576.6 74.5l1.2-17.1"/><path class="rsc" d="M616.4 70.6l2.2-1.6"/><path d="M563.9 88.4l1.3 2.9 1.4-7.4-1.3-2.6z" fill="#f60"/><path d="M572.7 81.9L575.2 81L571.2 41.7Z" fill="url(#sc77)"/><path d="M626.1 71.5l2.2 8.5 1.3-4.5-2.4-5.1z" fill="#fb0"/><path d="M597.2 91.1L599.4 90.3L597.4 77.5Z" fill="url(#sc64)"/><path d="M629.1 85.2l2.7-3.7 1-.1-2.7 6.5z" fill="#e40"/><path d="M585.7 64.4l2.6-.2 1.3-3.6-2.3 4.1z" fill="#560"/><path d="M611.8 71.4L612.1 72.9L613.4 53.5Z" fill="url(#sc34)"/><path d="M593.3 76.4l.7 1 1.4-4.7-.6-1z" fill="#fd0"/><path d="M629.2 79.1L629.2 77.4L628.9 43.1Z" fill="url(#sc75)"/><path d="M607.4 74.2l2.5-3.9 1.4 2.9-2.6 2.4z" fill="#d70"/><path d="M578.5 75.5L580.4 74.3L577.8 57.4Z" fill="url(#sc10)"/><path class="msc" d="M586 64.3l1.4 0M594.7 72.1l.5.9"/><path class="esc" d="M567.5 73.3l-4.4-33.4"/><path class="rsc" d="M627.2 70.7l2.1 4.7"/><path d="M576.6 74.5L578.5 75.5L577.8 57.4Z" fill="url(#sc9)"/><path d="M563 73.2L565 74.6L563.1 39.9Z" fill="url(#sc7)"/><path d="M565 74.6L567.5 73.3L563.1 39.9Z" fill="url(#sc8)"/><path d="M562.5 75.9l2.9 6.1 1.4-7.8-2.6-2.5z" fill="#fd0"/><path d="M612.1 72.9L614.7 72.8L613.4 53.5Z" fill="url(#sc36)"/><path d="M571.5 82.6l2.2-4.1 1.6-1.5-2.2 4.5z" fill="#c50"/><path d="M576.8 75.8l2.5-.3 1.5-3.5-2.5 1.5z" fill="#780"/><path d="M654.2 87l2.4 3.8 1.2-5.2-2.3-4.8z" fill="#f70"/><path d="M617.2 69.1l2.8-1.8 1.1.2-2.8 1.8z" fill="#a50"/><path d="M591 73.2l2.6 3.3 1.5-4.5-2.6-4.3z" fill="#ff0"/><path d="M590.1 65.5l2.5 2.9 1.3-7.1-2.4-2.6z" fill="#cf0"/><path d="M582.5 71.7l2.3-.6 1.3-7.1-2.3 1.7z" fill="#7b0"/><path d="M624.8 80.5l2.3 7.8 1.5-8.7-2.3-8.2z" fill="#f90"/><path d="M626.3 79.1L629.2 79.1L628.9 43.1Z" fill="url(#sc74)"/><path class="msc" d="M564.2 72l2.3 2.5M573.2 81.1l1.9-3.8M577.1 75.6l1.4-1.9M592.5 68.1l2.2 4M592.5 68.1l1.2-6.5M583.9 66.1l2.1-1.8"/><path class="esc" d="M619.8 69.8l-1.7-12.3M561.3 81.4l.2-24.6M589.1 69.4l.5-36.7"/><path class="rsc" d="M562.8 76l1.4-4M655.5 81.1l1.9 4.6M618.6 69l2.2-1.4"/><path d="M563.5 93.8l1.1-3 2.2 2.2-1.5-2.4z" fill="#910"/><path d="M587.9 64.2l2.5 1.4 1.3-6.8-2.4 1.8z" fill="#7e0"/><path d="M562.6 94l1.1-.1 1.9-3.1-1.5-3z" fill="#f40"/><path d="M598.6 85.6l2.4-6.9 1.5 3.7-2.4 6.7z" fill="#e50"/><path d="M616 69.7L617.9 70.9L618.1 57.5Z" fill="url(#sc58)"/><path d="M617.9 70.9L619.8 69.8L618.1 57.5Z" fill="url(#sc53)"/><path d="M568.1 88.2l2.1-5 1.6-1.2-2 5.7z" fill="#d40"/><path d="M592.4 79.5l2.1 4.3 1.6-3.4-2.1-3.7zM561.2 82.5l2.9 6 1.6-6.9-2.9-6z" fill="#f90"/><path d="M656.4 90.8l3.2-10 .5 3.8-3 1.1z" fill="#d40"/><path d="M623.7 89.1l2.5 0 1.1-.9-2.2-8.1z" fill="#f70"/><path class="msc" d="M565.2 90.9l1.3 2M564.1 88.1l1.1 2.8M568.3 87.9l1.6-.6"/><path class="rsc" d="M561.6 82.5l1.2-6.5M657.4 85.7l2.3-1"/><path d="M598.9 88.5L598.8 86.9L597 57.2Z" fill="url(#sc65)"/><path d="M579 75.4l2.4.2 1.5-4.5-2.4.8z" fill="#9c0"/><path d="M596.2 86.9L596.2 88.5L597 57.2ZM561.3 81.4L562 83.2L561.5 56.8Z" fill="url(#sc5)"/><path d="M623.9 67.8l2.5 4.3 1.1-1.2-2.5-3.3z" fill="#dd0"/><path d="M589.1 69.4L589.2 71.1L589.6 32.7Z" fill="url(#sc1)"/><path d="M634.8 78.1l2.9-3.3.7-4.6-2.8 5.7z" fill="#650"/><path d="M609.5 70.6l2.7-2.6 1.3 4-2.6 1.6z" fill="#c70"/><path d="M584.6 71.1l2.4-.1 1.3-7.4-2.4.3z" fill="#9e0"/><path d="M588.9 71.5l2.4 1.9 1.5-5.5-2.5-3z" fill="#ff0"/><path class="msc" d="M625.1 80.4l2 7.6M626.3 71.8l.9-1.1M584.8 70.8l1.2-6.5M586 64.3l2.1-.4"/><path class="rsc" d="M625.1 67.9l2.1 2.8M635.8 75.6l2.5-5"/><path d="M619.4 67.6l2.9-.9 1 .3-2.8.8z" fill="#850"/><path d="M593 88.6l2.7-1.2 1.2 4.3-2.4-8.6z" fill="#e50"/><path d="M625.9 89l2.7-5.3 1 1.1-2.7 3.5z" fill="#d40"/><path d="M586.7 70.9l2.4.7 1.4-6.7-2.4-1.3z" fill="#cf0"/><path d="M621.7 66.8l2.8 1.5 1-.3-2.8-1.2z" fill="#8b0"/><path d="M581.1 75.6l2.5.1 1.4-5.2-2.4.5z" fill="#ad0"/><path d="M652.3 81.8l2.3 5.3 1.2-6.2-2.3-3.3z" fill="#fa0"/><path d="M562 83.2L565.1 82.6L561.5 56.8Z" fill="url(#sc6)"/><path d="M592 78.9l.7 1 1.6-3.1-.7-1z" fill="#fb0"/><path d="M631.5 82.1l2.8-2.7.8-1.9-2.7 4.5z" fill="#c50"/><path class="msc" d="M591.3 73l1.2-4.9M590.3 65.2l2.2 2.9M619.8 67.5l1 .1M594.5 83.4l2.3 8M627.1 88l2.3-3M588.1 63.9l2.2 1.3"/><path class="esc" d="M625.3 67.2l-.7-26.8M588.9 73.3l.6-35.4M559.7 87.7l.2-24.3"/><path class="rsc" d="M620.8 67.6l2.2-.6M623 67l2.1.9M653.5 78l2 3.1"/><path d="M596.2 88.5L598.9 88.5L597 57.2Z" fill="url(#sc6)"/><path d="M559.9 87.2l2.9 6.8 1.6-5.8-2.9-6.1z" fill="#f60"/><path d="M589.2 71.1L592.1 71L589.6 32.7Z" fill="url(#sc78)"/><path d="M564.4 91.3l2.2-4.7 1.9 1-2 5.6z" fill="#e30"/><path d="M573.4 79.1l2.5-2.4 1.5-1.4-2.7 2.1z" fill="#750"/><path d="M625.2 68.7L625.3 67.2L624.6 40.4Z" fill="url(#sc50)"/><path d="M625.5 83L626.9 81.5L625.5 59.5Z" fill="url(#sc41)"/><path d="M604.1 76.8l2.5-6.4 1.4 3.4-2.5 4.9z" fill="#e80"/><path d="M653.2 95.4l3.1-8.1.5 3.3-2.3-4.1z" fill="#720"/><path d="M588.9 73.3L589 75L589.5 37.9Z" fill="url(#sc1)"/><path class="msc" d="M631.7 81.9l.9-.2M561.6 82.5l2.5 5.6M566.5 92.9l1.8-5M575.1 77.3l2-1.7M604.3 76.5l1.2 1.9M605.5 78.4l2.2-4.4"/><path class="esc" d="M598.9 88.5l-1.9-31.3M622.9 82.1l2.6-22.6"/><path class="rsc" d="M560.2 87.3l1.4-4.8"/><path d="M583.3 75.6l2.4-.1 1.4-5.2-2.4.1z" fill="#be0"/><path d="M589.7 76.1l2.6 2.9 1.6-2.8-2.7-3.5z" fill="#fe0"/><path d="M622.9 82.1L625.5 83L625.5 59.5Z" fill="url(#sc39)"/><path d="M585.2 75.6L586.8 74L582.4 11.3Z" fill="url(#sc14)"/><path d="M595.1 87.6l2.5-5.1 1.5 2.6-2.3 6.6z" fill="#e50"/><path d="M611.8 68.2l2.6-1.6 1.2 4.1-2.5 1.5z" fill="#a70"/><path d="M559.7 87.7L560.6 89.5L559.9 63.4Z" fill="url(#sc5)"/><path d="M621.6 84.1l2.4 5 1.4-8.9-2.4-5.8z" fill="#fa0"/><path d="M622.5 68.6L625.2 68.7L624.6 40.4Z" fill="url(#sc31)"/><path d="M585.4 75.4l2.5.1 1.4-4.5-2.4-.7z" fill="#cf0"/><path d="M582.5 74.8L585.2 75.6L582.4 11.3Z" fill="url(#sc13)"/><path class="msc" d="M583.5 75.3l1.3-4.5M595.4 87.5l1.4 3.9M596.8 91.4l2-6M612.1 68.4l1.1 3.5M623.9 88.8l1.2-8.4"/><path class="esc" d="M582.5 74.8l-.1-63.5M581.4 76l1.3-14.1"/><path d="M620.4 91.4l2.5 3.7 1.4-6.5-2.5-5.1z" fill="#f60"/><path d="M587.5 75.4l2.6 1.1 1.5-3.6-2.6-2z" fill="#ff0"/><path d="M651.6 85.3l1.8 10.1 1.5-8.7-2.3-5.2z" fill="#f70"/><path d="M622.8 74.9l2.3 5.9 1.4-9.3-2.3-3.8z" fill="#ff0"/><path d="M589 75L592 74.9L589.5 37.9Z" fill="url(#sc78)"/><path d="M650.3 77.8l2.4 4.4 1.2-4.3-2.5-3.1z" fill="#fd0"/><path d="M591.2 82.7l2.1 6.1 1.5-5.4-2.1-4.2z" fill="#f90"/><path d="M560.6 89.5L563.6 88.8L559.9 63.4Z" fill="url(#sc6)"/><path d="M575.3 77.1l2.7-.7 1.5-1.3-2.6.2z" fill="#880"/><path d="M622.7 95.1l2.7-7.6 1 1-2.6 0z" fill="#620"/><path d="M637.2 75.1l2.7-2.5.9-5.6-2.8 3.3z" fill="#660"/><path class="msc" d="M590 76.1l1.3-3.1M625.1 80.4l1.2-8.6M623.1 74.7l2 5.7M652.7 81.9l.8-3.9M592.7 79.6l1.8 3.8M575.6 76.9l1.5-1.3M577.1 75.6l2.1-.4M622.8 94.7l1.1-5.9"/><path class="esc" d="M634.8 76.1l2.4-11.8"/><path class="rsc" d="M651.5 75.1l2 2.9"/><path d="M581.4 76L582.8 77.3L582.7 61.9Z" fill="url(#sc28)"/><path d="M569.9 83.8l2.2-4.6 1.7-.6-2.2 4z" fill="#d50"/><path d="M634.8 76.1L636.4 77.4L637.2 64.3Z" fill="url(#sc28)"/><path d="M582.8 77.3L585.1 76.4L582.7 61.9Z" fill="url(#sc29)"/><path d="M614 66.7l2.7-1 1.2 3.5-2.6 1.7z" fill="#970"/><path d="M636.4 77.4L638.5 76.5L637.2 64.3Z" fill="url(#sc29)"/><path d="M633.8 79.9l2.9-2.4.8-3.1-2.9 3.6z" fill="#650"/><path d="M593.8 94L593.8 92.2L591.8 68.9Z" fill="url(#sc43)"/><path d="M590.9 92.2L590.9 94L591.8 68.9Z" fill="url(#sc42)"/><path d="M577.4 76.3l2.7.2 1.6-1.3-2.7-.3z" fill="#8a0"/><path class="esc" d="M581.6 76.2l1.1-19"/><path class="rsc" d="M638.3 70.6l2.4-3.2"/><path d="M628.2 84.3l2.8-3.6 1 .9-2.7 3.7z" fill="#d50"/><path d="M560.6 93.1l1.1-3 2.3 3.6-1.1.3z" fill="#d20"/><path d="M600.7 79.2l2.4-6 1.5 3.1-2.4 6.7z" fill="#e80"/><path d="M558.5 92.5l2.6.8 1.9.6-2.8-6.9z" fill="#f50"/><path d="M648.3 74.5l2.4 3.8 1.1-3.1-2.5-3.4z" fill="#ff0"/><path d="M590.7 82l.7 1.2 1.6-3.9-.7-.9z" fill="#fb0"/><path d="M579.6 76.3l2.7.4 1.5-1.5-2.6-.2z" fill="#8a0"/><path d="M620.6 70l2.5 5.1 1.3-7.3-2.5-1.2z" fill="#df0"/><path d="M623.4 89L625 90.5L626.5 54.2Z" fill="url(#sc76)"/><path d="M590.1 91.4l1.9 1.5 1.6-4.5-2.1-5.9z" fill="#f70"/><path class="msc" d="M579.2 75.2l2.2.1M629.4 85l2.3-3.1M592.2 78.7l.5.9M581.4 75.3l2.1 0"/><path class="esc" d="M627.5 89.6l-1-35.4M624.6 70.3l-1.1-27.9"/><path class="rsc" d="M558.8 92.4l1.4-5.1M649.4 72.1l2.1 3"/><path d="M659.3 81.4l3.3-8.3.2 5.3-3.1 6.7z" fill="#f80"/><path d="M619.4 98.6l2.6-6.1 1.2 2.4-2.6-4.1z" fill="#730"/><path d="M618.3 86.7l2.4 4.8 1.4-7.9-2.4-4.4z" fill="#fa0"/><path d="M581.6 76.2L582.5 77.9L582.7 57.2Z" fill="url(#sc34)"/><path d="M650.4 93.8l2.6.4.5 1.2-1.7-10.2z" fill="#f50"/><path d="M590.9 94L593.8 94L591.8 68.9Z" fill="url(#sc51)"/><path d="M616.3 65.8l2.6-.3 1.2 2.1-2.7 1.7z" fill="#760"/><path d="M625 90.5L627.5 89.6L626.5 54.2Z" fill="url(#sc77)"/><path d="M619.5 79.8l2.4 4.4 1.4-9.8-2.4-4.8z" fill="#ff0"/><path d="M581.7 76.5l2.7.3 1.6-1.8-2.7 0z" fill="#8a0"/><path d="M591.9 92.9l2.2-6.4 1.6.8-2.7 1z" fill="#c30"/><path class="msc" d="M659.5 81.2l.2 3.5M620.7 91.2l2.1 3.5M651.8 85.5l1.6 9.5M620.9 70l2.2 4.7M582.1 76.4l1.4-1.1M583.5 75.3l2.2-.2"/><path class="esc" d="M590.9 94l.9-25.1"/><path class="rsc" d="M659.7 84.7l2.8-6.1"/><path d="M566.3 87.1l2.1-5.1 2 1.3-2.1 4.9z" fill="#e50"/><path d="M606.2 70.8l2.6-5.3 1.4 5.3-2.6 3.6z" fill="#b90"/><path d="M639.5 72.6l2.6-1.4 1.1-5.3-2.6 1.1z" fill="#5a0"/><path d="M588.3 78.2l2.7 3.8 1.6-3.3-2.7-2.9z" fill="#fd0"/><path d="M618.6 65.6l2.4 4.7 1.3-3.5-2.9.7z" fill="#9d0"/><path d="M582.5 77.9L585.3 77.3L582.7 57.2Z" fill="url(#sc36)"/><path d="M561.4 90.4l1.3-2.9 2.3 3.7-1.2 2.7z" fill="#e40"/><path d="M656 87.9l3.1-6.9.6-.1-3.3 9.9z" fill="#e60"/><path d="M646.1 72.1l2.6 2.8 1.1-2.7-2.5-3.3z" fill="#df0"/><path d="M623.7 71.8L624.6 70.3L623.5 42.4Z" fill="url(#sc27)"/><path d="M617.1 91.1l2.5 7.5 1.4-7.6-2.5-4.9z" fill="#f60"/><path class="msc" d="M566.5 86.9l1.8 1M568.3 87.9l1.8-4.4M607.7 74l2.2-3.3M639.7 72.3l1-4.9M590 76.1l2.2 2.6M618.8 65.8l1 1.7"/><path class="rsc" d="M640.7 67.4l2.3-1.2M647.4 69.2l2 2.9"/><path d="M583.9 76.6l2.7.6 1.5-2.2-2.6-.2z" fill="#9c0"/><path d="M588.6 99.8l.5-1.9 1.3-7.1-.6-1.7z" fill="#b40"/><path d="M652.7 94.2l3-5.5.6-1.4-3.1 8.1z" fill="#e40"/><path d="M589.7 89.8l.6 1.7 1.3-9-.6-1.2z" fill="#f90"/><path d="M586.1 76.9l2.7 1.7 1.5-2.6-2.6-1.2z" fill="#df0"/><path d="M597.2 83l2.6-3.2 1.3-1.1-2.3 7z" fill="#e70"/><path d="M636.2 77.8l2.9-2.5.8-3.3-2.9 2.7z" fill="#660"/><path d="M649.7 78.8l2.1 7.1 1.2-3.9-2.4-4.4z" fill="#fb0"/><path d="M571.8 79.8l2.3-3.7 1.8.7-2.4 2.4z" fill="#c60"/><path d="M621.1 71.2L623.7 71.8L623.5 42.4Z" fill="url(#sc20)"/><path class="msc" d="M618.6 86.5l2.1 4.7M585.7 75.1l2.1.1M653.4 95l2.8-7.4M589.8 89.4l.5 1.7M588.7 78.3l1.3-2.2M587.8 75.2l2.2.9M598.8 85.4l2.1-6.4M651.8 85.5l.9-3.6"/><path d="M630.6 81.2l2.8-2.7 1 1-2.8 2.7z" fill="#c60"/><path d="M644 71l2.6 1.4 1.1-3.3-2.6-2.4z" fill="#cf0"/><path d="M641.8 71.2l2.6-.1 1.1-4.4-2.6-.8z" fill="#9f0"/><path d="M625 88.1l2.8-6.2 1 1.9-2.7 5.3z" fill="#e60"/><path d="M589 97.9l1.7-6 1.6.5-2-1.6z" fill="#620"/><path d="M618.3 66.9L620.2 68.1L620.7 44.1Z" fill="url(#sc21)"/><path d="M620.2 68.1L622.1 67L620.7 44.1Z" fill="url(#sc22)"/><path d="M616.1 82.1l2.5 4.7 1.4-7.5-2.4-4.6z" fill="#fd0"/><path d="M617.4 75.3l2.4 4.6 1.3-10.2-2.3-4.2z" fill="#ef0"/><path d="M586 92.6l2.7 7.2 1.3-10.6-2.6-6.5z" fill="#f70"/><path class="msc" d="M630.9 81.1l.8.8M631.7 81.9l2.3-2.3M646.5 72.1l.9-2.9M590.3 91.1l1.7 1.5M618.8 65.8l2.1 4.2"/><path class="esc" d="M622.1 67l-1.4-22.9"/><path class="rsc" d="M645.2 67l2.2 2.2M643 66.2l2.2.8"/><path d="M587 83l2.8 6.8 1.4-8.3-2.6-3.6z" fill="#fc0"/><path d="M618.9 88.4L618.7 86.6L617.8 58.1Z" fill="url(#sc65)"/><path d="M615.8 86.6L615.9 88.4L617.8 58.1Z" fill="url(#sc5)"/><path d="M608.5 65.7l2.6-2.6 1.3 5.5-2.6 2.4z" fill="#880"/><path d="M602.8 73.7l2.6-3.2 1.3-.1-2.4 6.5z" fill="#b80"/><path d="M638.6 75.5l2.9-2.3.7-2.6-2.8 1.5z" fill="#670"/><path d="M573.7 76.5l2.5-2.4 1.9 2.2-2.5 1z" fill="#b60"/><path d="M621.7 93.1l2.7-7.9 1 2.3-2.6 7.6z" fill="#e50"/><path d="M593.8 87l2.5-3.4 1.4-1.1-2.3 5.4z" fill="#d50"/><path d="M562.4 88l2.2-5.1 2.3 3.9-2.2 4.6z" fill="#e60"/><path d="M648.7 83.8l1.9 10.1 1.5-8.4-2.2-6.7z" fill="#fa0"/><path class="msc" d="M587.4 83l2.4 6.4M609.9 70.7l2.2-2.3M603.1 73.5l1.2 3M638.8 75.2l.9-2.9M574 76.4l1.6.5M621.9 92.8l.9 1.9M622.8 94.7l2.4-6.9M594.1 86.8l1.3.7"/><path class="esc" d="M648.3 72.7l-.8-12.1"/><path d="M647.7 74.4l2.3 5.1.9-1.3-2.4-3.9z" fill="#dc0"/><path d="M649.5 97.9l3-4.9.7.8-2.8-.6z" fill="#720"/><path d="M632.9 78.9l2.9-2.5.9.9-2.8 2.6z" fill="#c60"/><path d="M557.3 97.6l1.6-8.6 2.4 4-2.6-.9z" fill="#d30"/><path d="M616 96.3l2.7.6 1 1.7-2.3-7.7z" fill="#f50"/><path d="M584.9 100.4l2.5-2 1.5 1.4-2.7-7.7z" fill="#f40"/><path d="M615 85.8l2.5 5.8 1.4-5.1-2.5-5z" fill="#fa0"/><path d="M615.1 70.6l2.5 4.8 1.3-9.9-2.4.2z" fill="#bf0"/><path d="M586.8 98.2l.7-1.8 1.9 1-.6 2.4z" fill="#e20"/><path d="M568.1 82.6l2.2-5.3 2 2.1-2.2 4.5z" fill="#e80"/><path class="msc" d="M650.6 93.5l1.2-8M649.9 79.1l1.9 6.4M634 79.6l2.4-2.1M558.8 92.4l2.2.6M616.4 81.9l2.2 4.6M617.6 75l1.2-9.2M616.6 66l2.2-.2"/><path class="esc" d="M582.5 76.1l-3.2-31"/><path class="rsc" d="M557.4 97.3l1.4-4.9"/><path d="M647.8 74.2L648.3 72.7L647.5 60.6Z" fill="url(#sc53)"/><path d="M615.9 88.4L618.9 88.4L617.8 58.1Z" fill="url(#sc6)"/><path d="M662.2 73.3l3.1-3.7.3 4-3.2 5.3z" fill="#c90"/><path d="M612.9 66.1l2.6 4.7 1.3-5-2.7.9z" fill="#8f0"/><path d="M613.9 77.6L614.9 79.4L616.3 50.4Z" fill="url(#sc19)"/><path d="M610.8 63.2l2.8 3.1 1 .7-2.6 1.7z" fill="#560"/><path d="M575.8 74.3l2.5-.9 1.9 3-2.5.2z" fill="#960"/><path d="M599.5 80.4l2.6-1.7 1.1-5.5-2.4 6.1z" fill="#650"/><path d="M614 77.5l2.5 4.7 1.4-7.4-2.5-4.7z" fill="#ff0"/><path d="M647.4 93.1l2.3 4.8 1.1-4.1-1.9-10.1z" fill="#f70"/><path class="msc" d="M570.1 83.5l1.9-3.9M614.3 66.9l2.3-.9M611 63.5l1.1 4.9M612.1 68.4l2.2-1.5M600.9 79l2.2-5.5M616.4 81.9l1.2-6.9"/><path class="esc" d="M618.9 88.4l-1.1-30.3M593 91.3l-2.5-28.4"/><path class="rsc" d="M662.5 78.6l2.8-5"/><path d="M640.9 73.3l2.9-1.3.8-1.4-2.8 0z" fill="#690"/><path d="M580.5 77.3L582.5 76.1L579.3 45.1Z" fill="url(#sc27)"/><path d="M645.1 73.8L647.8 74.2L647.5 60.6Z" fill="url(#sc52)"/><path d="M578.6 76.2L580.5 77.3L579.3 45.1Z" fill="url(#sc19)"/><path d="M584.7 77.5l2.7 5.9 1.6-5.3-2.6-1.6z" fill="#ff0"/><path d="M645.5 72.1l2.6 2.9.8-.2-2.6-3z" fill="#ac0"/><path d="M590.4 92.6l2.4-5.4 1.5-.7-2.3 6.4z" fill="#d50"/><path d="M592.1 92.9L593 91.3L590.5 62.9Z" fill="url(#sc65)"/><path d="M614.9 79.4L618 78.8L616.3 50.4Z" fill="url(#sc20)"/><path d="M578 73.6l2.6.3 1.8 2.7-2.6-.1z" fill="#860"/><path class="msc" d="M649.7 97.6l.9-4.1M587.4 83l1.3-4.7M592 92.6l2.1-5.8"/><path class="esc" d="M618 78.8l-1.7-28.4M612.3 73.3l1.8-15.9"/><path d="M618.4 96.9l2.6-8.3 1.2 4-2.7 6z" fill="#e40"/><path d="M627.4 82.5l2.8-4.9 1 3.4-2.8 3.4z" fill="#e80"/><path d="M643.2 71.9l2.9.6.7-.3-2.7-1.7z" fill="#7c0"/><path d="M655.4 89.3l3-4.2.7-4.1-3.1 6.9z" fill="#c60"/><path d="M580.2 74l2.9 1.4 1.5 1.2-2.7.1z" fill="#750"/><path d="M582.4 75.3l2.7 2.8 1.7-1.2-2.9-.6z" fill="#9b0"/><path d="M635.3 76.8l2.9-2.7.9.9-2.9 2.8z" fill="#a70"/><path d="M589.5 92.4L592.1 92.9L590.5 62.9Z" fill="url(#sc6)"/><path d="M654.8 86.4L655.8 88.2L659.3 54.5Z" fill="url(#sc7)"/><path d="M658.8 81.6l3.1-4.6.7-3.9-3.2 8.4z" fill="#c80"/><path d="M582.3 93.4l2.8 7 1.5-8.1-2.8-6.2z" fill="#f70"/><path d="M596 84.2l2.7-1.3 1.2-3-2.6 3.1z" fill="#750"/><path d="M583.6 86.7l2.7 6.1 1.3-10-2.6-5.4z" fill="#fc0"/><path class="msc" d="M645.8 72.3l.7-.2M656.2 87.6l2.8-6.3M580.5 74.2l1.6 2.2M636.4 77.5l2.4-2.3M659 81.3l.5-.1M585.1 100.1l1.2-7.7"/><path d="M612.7 81.6l2.6 4.6 1.5-4.3-2.6-4.9z" fill="#fe0"/><path d="M652.1 93.5l3-3.3.6-1.5-3 5.5z" fill="#d40"/><path d="M605.1 71l2.7-1 1.1-4.5-2.5 5.5z" fill="#450"/><path d="M558.6 89.2l1-3.2 2.5 4.6-1 2.7z" fill="#e60"/><path d="M612.3 73.3L612.9 74.8L614.1 57.4Z" fill="url(#sc21)"/><path d="M613.9 88.5l2.5 8.1 1.4-5.2-2.5-5.9z" fill="#f80"/><path d="M587.4 97l1.8-5 1.6 0-1.7 5.9z" fill="#e40"/><path d="M646.4 101.4l3-5.7.6 2.1-2.3-5.3z" fill="#950"/><path d="M611.8 73.5l2.5 4.2 1.4-7.5-2.5-4.3z" fill="#cf0"/><path d="M605.2 73.3L606.5 71.6L604.2 26.5Z" fill="url(#sc18)"/><path class="msc" d="M586.3 92.4l1.1-9.4M585 77.7l2.4 5.3M615.3 85.9l1.1-4M614.3 77.3l2.1 4.6M561 93l.8-2.5M647.7 92.9l2 4.7"/><path class="esc" d="M631.6 80l-.8-29.4M658.6 87.8l.7-33.3"/><path d="M655.8 88.2L658.6 87.8L659.3 54.5Z" fill="url(#sc59)"/><path d="M601.7 78.8l2.5-1.2 1.3-7.1-2.5 2.7z" fill="#580"/><path d="M664.8 69.8l3-.3.5-.4-3.2 4.9z" fill="#870"/><path d="M612.9 74.8L615.6 74.5L614.1 57.4Z" fill="url(#sc44)"/><path d="M564.3 83.3l2.2-5.1 2.3 4.1-2.3 5z" fill="#e80"/><path d="M570 77.8l2.3-4.7 2.1 3.2-2.4 3.6z" fill="#b80"/><path d="M602.2 72.5L605.2 73.3L604.2 26.5Z" fill="url(#sc17)"/><path d="M659.7 75.6L660.3 77.2L662.6 61.7Z" fill="url(#sc58)"/><path d="M630.6 81.7L631.6 80L630.8 50.6Z" fill="url(#sc27)"/><path d="M647 75.4l2 9 1.3-5.1-2.4-5z" fill="#ed0"/><path d="M581 99.2l2.7 3.5 1.7-2.4-2.8-7.3z" fill="#f50"/><path class="msc" d="M601.9 78.5l1.2-5M603.1 73.5l2.2-2.7M564.6 83.2l1.9 3.7M572 79.6l2-3.2M647.9 74.7l2 4.4"/><path class="esc" d="M602.2 72.5l2-46M656.8 81.9l6.6-50.8"/><path class="rsc" d="M665.3 73.6l2.7-4.3"/><path d="M598.2 83l2.6-.5 1.3-4.3-2.6 1.7z" fill="#790"/><path d="M637.7 74.6l2.9-2.6.9.9-2.9 2.6z" fill="#960"/><path d="M656.8 81.9L658.8 83.6L663.4 31.1Z" fill="url(#sc25)"/><path d="M583.5 102.7l2.2-6.8 1.8 2.1-2.6 2.4z" fill="#d30"/><path d="M644.3 95.2l2.2 6.3 1.5-8.8-2.2-6.9z" fill="#f80"/><path d="M610.6 78.7l2.5 3.2 1.5-4.7-2.6-4.2z" fill="#ef0"/><path d="M629.8 77.9l2.8-3.6 1 4.6-2.8 2.5z" fill="#b80"/><path d="M607.4 70l2.5 1 1.2-7.8-2.5 2.3z" fill="#4c0"/><path d="M615 100.7l2.6-6.9 1.3 2.7-2.8-.5z" fill="#c30"/><path d="M627.8 80.9L630.6 81.7L630.8 50.6Z" fill="url(#sc19)"/><path class="msc" d="M582.6 93.4l2.5 6.7M638 74.4l.8.8M638.8 75.2l2.3-2.1M583.7 102.4l1.4-2.3M585.1 100.1l2.1-2M612 73.3l2.3 4M630.1 77.9l.8 3.2M616.3 96.2l2.3.4"/><path class="esc" d="M647.1 103.8l-1.2-12M663 77l-.4-15.3"/><path d="M609.6 70.9l2.5 2.8 1.3-7.7-2.4-2.9z" fill="#9f0"/><path d="M660.3 77.2L663 77L662.6 61.7Z" fill="url(#sc52)"/><path d="M559.4 86.2l1.2-2.6 2.5 4.4-1.3 2.8z" fill="#e70"/><path d="M624.1 85.8l2.8-7.5 1 3.8-2.7 6z" fill="#e90"/><path d="M658.8 83.6L661.4 82.6L663.4 31.1Z" fill="url(#sc26)"/><path d="M592.5 87.8l2.5-3.6 1.5-.5-2.5 3.4z" fill="#c60"/><path d="M643.2 103.8L645.3 105.1L645.9 91.8Z" fill="url(#sc32)"/><path d="M645.3 105.1L647.1 103.8L645.9 91.8Z" fill="url(#sc64)"/><path d="M604 77.6l2.4-.6 1.3-7.6-2.4 1.1z" fill="#7c0"/><path d="M581.1 80.4l2.8 6.4 1.3-9.3-2.5-2.3z" fill="#ff0"/><path d="M645.6 86.4l2.1 6.8 1.6-9.3-2.1-8.5z" fill="#fd0"/><path class="msc" d="M609.8 70.6l1.2-7.1M561.8 90.5l.9-2.6M625.2 87.8l2.5-5.5M592.7 87.6l1.4-.8M594.1 86.8l2.1-2.8M605.3 70.8l2.3-1M582.7 75.5l2.3 2.2"/><path class="esc" d="M642.8 93.6l2.7-19.9"/><path d="M648.9 96.2l3-4.1.7.9-3 4.9z" fill="#e40"/><path d="M663.2 75.5L664.3 74.1L663.3 64.4Z" fill="url(#sc67)"/><path d="M612.7 93.3l2.5 7.4 1.4-4.3-2.5-8z" fill="#f70"/><path d="M667.2 69.9l2.6 1.7 1.1-6.6-3.2 4.4z" fill="#490"/><path d="M658 85.6l3-3.1.8-5.6-3.1 4.3z" fill="#660"/><path d="M600.5 82.5l2.5-.5 1.3-5-2.5 1.1z" fill="#7b0"/><path d="M555.1 95.3l2-6.5 2 .2-1.7 8.6z" fill="#e60"/><path d="M608.4 77.2l2.5 1.7 1.4-5.8-2.5-2.8z" fill="#cf0"/><path d="M611.7 83.8l2.5 5.3 1.4-3.1-2.6-4.8z" fill="#fc0"/><path d="M660.6 74.7L663.2 75.5L663.3 64.4Z" fill="url(#sc66)"/><path class="msc" d="M645.8 86.2l1.9 6.7M649.2 95.9l.5 1.7M649.7 97.6l2.6-4.3M614.2 88.7l2.1 7.5M667.5 69.7l.5-.4M658.1 85.2l.9-3.9M659 81.3l2.7-4.1M600.7 82.2l1.2-3.7M609.8 70.6l2.2 2.7M614.2 88.7l1.1-2.8"/><path class="esc" d="M660.6 74.7l2.7-10.3"/><path class="rsc" d="M668 69.3l2.7-3.9M555.4 95l2 2.3"/><path d="M654.6 90.8l3.1-3 .6-2.9-3 4.3z" fill="#640"/><path d="M643.2 103l2.9-2.3.7.7-2.2-6.8z" fill="#f60"/><path d="M661.5 77.5l2.9-1.8.9-6.1-3.1 3.6z" fill="#460"/><path d="M606.2 77l2.5.3 1.3-7-2.5-.9zM671.7 74l2.3 2.6 1.5-10.6-2.4-1.8z" fill="#9f0"/><path d="M579.8 87.4l2.9 6.3 1.5-7.3-2.8-6.4z" fill="#fc0"/><path d="M670.6 80.3l2.3 2.8 1.3-7.1-2.4-2.7z" fill="#ef0"/><path d="M640.1 72.4l2.9-1.6.9 1-3 1.5z" fill="#760"/><path d="M645.8 95.3L645.5 93.5L645.5 73.7Z" fill="url(#sc41)"/><path d="M669.5 71.6l2.4 2.4 1.4-9.8-2.7.8z" fill="#7f0"/><path d="M642.8 93.6L643 95.3L645.5 73.7Z" fill="url(#sc39)"/><path d="M571.9 73.4l2.4-3.2 2.1 4.4-2.4 2.2z" fill="#880"/><path d="M644.9 71.5l2.4 4.6.9-1.2-2.6-2.9z" fill="#9c0"/><path d="M613.9 86.7L615.6 85.3L613.8 63.7Z" fill="url(#sc10)"/><path class="msc" d="M608.6 77l1.2-6.4M607.6 69.8l2.2.8M641.1 73.1l2.4-1.2M572.3 73.5l1.7 2.9M574 76.4l2.1-2M645.8 72.3l2.1 2.4"/><path class="esc" d="M611.4 85.6l2.4-21.9M626.3 85.3l-1.3-25.3"/><path class="rsc" d="M673.9 76.3l1.4-10M673.2 64.5l2.1 1.8M672.9 82.7l1-6.4M670.7 65.4l2.5-.9"/><path d="M620.7 89.2l2.8-5.8 1.1 1.9-2.7 7.8z" fill="#e80"/><path d="M585.3 96.2l.7-1.5 2 2.1-.7 1.7z" fill="#e50"/><path d="M602.7 82l2.6-.6 1.3-5-2.6.6z" fill="#8c0"/><path d="M611.4 85.6L613.9 86.7L613.8 63.7Z" fill="url(#sc9)"/><path d="M589 92.6l2.4-5.7 1.5.4-2.3 5.3z" fill="#d60"/><path d="M632.2 74.5l2.8-2.4.9 4.8-2.8 2.2z" fill="#980"/><path d="M668.5 77.7l2.4 2.7 1.2-7-2.4-2.5z" fill="#cf0"/><path d="M635.3 75L637 76.3L638.9 40.3Z" fill="url(#sc30)"/><path d="M578.7 74.3l2.8 6.4 1.6-5.3-2.7-1.6z" fill="#be0"/><path d="M642.5 70.9l2.9.9.7.6-2.9-.5z" fill="#450"/><path class="msc" d="M621 89l.9 3.8M587.2 98.1l.4-1.4M580.5 74.2l2.2 1.3"/><path class="esc" d="M639.2 75.3l-.3-35"/><path d="M624.7 86.7L626.3 85.3L625 60Z" fill="url(#sc8)"/><path d="M594.6 84.7l2.7-2.1 1.5 0-2.8 1.6z" fill="#b50"/><path d="M578.5 92.5l2.9 6.9 1.6-6-2.9-6.4z" fill="#f90"/><path d="M637 76.3L639.2 75.3L638.9 40.3Z" fill="url(#sc50)"/><path d="M643 95.3L645.8 95.3L645.5 73.7Z" fill="url(#sc40)"/><path d="M622.4 85.7L624.7 86.7L625 60Z" fill="url(#sc7)"/><path d="M566.1 78.6l2.3-4.3 2.2 3.3-2.2 5.1z" fill="#b90"/><path d="M641.1 98.2l2.3 4.8 1.4-8.3-2.3-4.4z" fill="#f80"/><path d="M560.3 83.9l2.4-2.8 2.2 2-2.1 5.1z" fill="#e80"/><path d="M609.3 81.5l2.7 2.8 1.4-2.7-2.6-3.4z" fill="#ef0"/><path class="msc" d="M645.1 71.8l.7.5M643.5 71.9l2.3.4M596.2 84l2.2-1.3M580.2 87.3l2.4 6.1M562.7 87.9l1.9-4.7"/><path d="M664 75.7l2.6.3 1.1-6.6-2.6.2z" fill="#7f0"/><path d="M580 107.2l2-8.8 2 4.1-2.7-3.7z" fill="#620"/><path d="M642.3 90.9l2.3 4.4 1.5-9.4-2.3-5.6z" fill="#fd0"/><path d="M666.3 75.9l2.5 1.9 1.1-6.8-2.4-1.6z" fill="#af0"/><path d="M604.9 81.3l2.6-.2 1.4-4.4-2.6-.4z" fill="#9f0"/><path d="M611.7 104.4l2.7-6.1 1.1 2.3-2.5-7.4z" fill="#e70"/><path d="M645.7 100.7l3-6.5.7 1.5-3 5.7z" fill="#e40"/><path d="M607.1 81l2.7.8 1.4-3.4-2.7-1.8z" fill="#cf0"/><path d="M660.6 82.6l2.8-2 .9-5.5-2.8 1.8z" fill="#680"/><path d="M574 70.4l2.5-1 2 4.6-2.4.8z" fill="#670"/><path class="msc" d="M666.5 75.6l1-5.9M607.4 80.8l1.2-3.8M661.7 77.2l2.5-1.8"/><path class="esc" d="M579 72.6l-3.5-32.6M602.1 82.5l-1.9-19.8"/><path d="M617.3 94.4l2.7-4 1.1-1.8-2.6 8.3z" fill="#e60"/><path d="M651.5 92.6l3-3.1.6.8-3 3.3z" fill="#d50"/><path d="M577 73.8L579 72.6L575.5 40Z" fill="url(#sc50)"/><path d="M669.8 82.6l2.5 3.3 1-3.2-2.6-3z" fill="#ff0"/><path d="M576.3 69.4l2.7 5.5 1.8-.5-2.7-.3z" fill="#440"/><path d="M575 72.7L577 73.8L575.5 40Z" fill="url(#sc30)"/><path d="M657.2 88.2l3.1-2.9.6-3.3-3.1 3.3z" fill="#650"/><path d="M596.8 82.9l2.8-1.1 1.4.3-2.9.8z" fill="#950"/><path d="M643.6 80.9l2.3 5.6 1.5-11.1-2.3-4z" fill="#df0"/><path d="M577.2 97.8l3 9.4 1.5-8.1-2.9-6.8z" fill="#f60"/><path class="msc" d="M576.1 74.4l2.2-.6M618.6 96.6l2.4-7.6M652.3 93.3l2.5-2.8M670.8 80l2.1 2.7M579 74.5l1.5-.3M578.3 73.8l2.2.4M657.4 87.9l.7-2.7M598.4 82.7l2.3-.5M643.8 80.7l2 5.5"/><path class="rsc" d="M672.3 85.5l.6-2.8"/><path d="M640 104l2.5 2.9 1.3-4.2-2.5-5.1z" fill="#f50"/><path d="M601.4 84.1L602.1 82.5L600.2 62.7Z" fill="url(#sc35)"/><path d="M610.5 86.6l2.5 7.3 1.5-5.1-2.6-5.2z" fill="#fc0"/><path d="M634.7 72.2l2.8-1.7.8 4.1-2.8 2.4z" fill="#770"/><path d="M585.9 95.2l1.8-4.9 1.8 1.8-1.9 5z" fill="#e60"/><path d="M577.4 82.1l2.8 5.6 1.5-7.4-2.8-6.1z" fill="#ef0"/><path d="M667.7 80.6l2.6 2.3.9-2.9-2.6-2.9z" fill="#df0"/><path d="M626.5 78.8l2.9-6.3 1.1 5.4-2.9 4.7z" fill="#a90"/><path d="M556.8 89.4l.9-2.5 2.2-.9-.9 3.6z" fill="#d70"/><path d="M663.1 80.6l2.7-.6.9-4.6-2.6-.3z" fill="#8e0"/><path d="M639 94.2l2.4 4.1 1.4-7.9-2.4-4.1z" fill="#fc0"/><path class="msc" d="M641.4 98l2 4.7M613 93.5l1.2-4.8M612 84l2.2 4.7M587.6 96.7l1.6-4.4M668.7 77.5l2.1 2.5M627.7 82.3l2.4-4.4M664.2 75.4l2.3.2"/><path class="esc" d="M669.2 84.6l8-55.3"/><path d="M598.7 83.7L601.4 84.1L600.2 62.7Z" fill="url(#sc36)"/><path d="M599 82.1l3-.6 1.3.1-2.9.7z" fill="#850"/><path d="M671.9 85.9L673.8 84.4L677.2 29.3Z" fill="url(#sc26)"/><path d="M669.2 84.6L671.9 85.9L677.2 29.3Z" fill="url(#sc25)"/><path d="M665.4 79.9l2.7 1 .9-3.6-2.6-2z" fill="#bf0"/><path d="M642.3 106.9l3.1-8.3.7 1.6-3 2.7z" fill="#d30"/><path d="M609.2 96.1l2.6 8.3 1.5-11.1-2.5-6.8z" fill="#f90"/><path d="M640.3 86.9l2.2 4.1 1.5-10.6-2.2-4.8z" fill="#ff0"/><path d="M595.1 86.4L596.4 84.7L593.7 49.5Z" fill="url(#sc2)"/><path d="M613.9 98.8l2.7-4.4 1.1-.6-2.6 6.9z" fill="#e50"/><path class="msc" d="M641.4 98l1.1-7.4M599.4 82.1l1.3.1M600.7 82.2l2.2-.5M665.7 79.7l.8-4.1M666.5 75.6l2.2 1.9M643.4 102.7l2.5-2.3M611.8 104.1l1.2-10.6M642.5 90.6l1.3-9.9"/><path class="esc" d="M624.3 80.8l3.1-30.9"/><path d="M626.9 81.9L628.5 80.4L627.4 49.9Z" fill="url(#sc27)"/><path d="M568.1 74.6l2.6-.8 1.8-.6-2.2 4.8z" fill="#770"/><path d="M562.4 81.5l2.6-1.4 1.7-1.8-2.1 5.3z" fill="#a70"/><path d="M641.5 76.2l2.4 4.8 1.4-9.6-2.5-.7z" fill="#af0"/><path d="M576 87.8l2.9 5.2 1.6-5.7-2.8-5.7z" fill="#fe0"/><path d="M608.2 105.8l2.5-1.1 1.3-.4-2.5-8.7z" fill="#f60"/><path d="M591.1 87.5l2.5-4.7 1.6 1.5-2.5 3.6z" fill="#d80"/><path d="M624.3 80.8L626.9 81.9L627.4 49.9Z" fill="url(#sc19)"/><path d="M637.1 70.6l2.8 1.1.9.6-2.9 2.5z" fill="#560"/><path d="M592.4 85.6L595.1 86.4L593.7 49.5Z" fill="url(#sc1)"/><path class="msc" d="M562.7 81.4l1.9 1.8M564.6 83.2l1.9-4.6M643.8 80.7l1.3-8.9M641.8 76l2 4.7M577.7 82l2.5 5.3M609.6 95.9l2.2 8.2M591.3 87.3l1.4.3M637.4 70.9l.6 3.5"/><path class="esc" d="M592.4 85.6l1.3-36.1M611.3 94.7l-1.6-21.3"/><path d="M601.3 81.7l3-.2 1.2-.5-2.9.8z" fill="#850"/><path d="M654 90l3.1-2.8.6.5-3.1 3.1z" fill="#c60"/><path d="M637.9 98.1l2.4 6 1.4-6.2-2.5-4.3z" fill="#f80"/><path d="M659.8 85.5l3.1-2.7.6-2.8-3.1 2.1z" fill="#660"/><path d="M639.4 71.7l2.4 4.6 1.2-5.5-2.9 1.3z" fill="#7f0"/><path d="M581.7 98.9l2.3-6.4 1.9 3.6-2.2 6.6z" fill="#e60"/><path d="M608.2 83.2l2.6 4 1.5-3.2-2.7-2.9z" fill="#ef0"/><path d="M557.7 87.5l1-2.1 2.2-1.8-1 3z" fill="#c70"/><path d="M623.2 84l2.8-3.8 1-1.9-2.7 7.6z" fill="#b80"/><path d="M553.3 95.5l2-5.4 1.9-1.3-1.8 6.5z" fill="#d60"/><path d="M576.1 106l2.3-4.2 1.9 5.3-2.8-9.5z" fill="#e50"/><path class="msc" d="M602.9 81.7l2.3-.6M654.8 90.5l2.6-2.6M640.3 103.8l1.1-5.8M639.3 93.9l2.1 4.1M582 98.7l1.7 3.7M609.7 81.5l2.3 2.5M555.4 95l1.7-5.8"/><path class="esc" d="M657.4 89.8l0-26M575 74.7l0-49.5M635.4 74.4l-1.6-15.7"/><path class="rsc" d="M553.5 95.2l1.9-.2"/><path d="M603.6 81.6l2.9.5 1.3-1.4-3 .2z" fill="#6a0"/><path d="M630.9 73.7L632.7 75.4L633.8 58.7Z" fill="url(#sc21)"/><path d="M655.7 91.1L657.4 89.8L657.4 63.8Z" fill="url(#sc8)"/><path d="M636.9 89.9l2.4 4.4 1.4-7.9-2.4-4.4z" fill="#ff0"/><path d="M611 96.6L611.3 94.7L609.7 73.4Z" fill="url(#sc10)"/><path d="M653.4 90L655.7 91.1L657.4 63.8Z" fill="url(#sc7)"/><path d="M639 112.1l3-8.6.8 3-2.6-3z" fill="#620"/><path d="M575 78l2.7 4.3 1.5-8-2.7-4.9z" fill="#af0"/><path d="M610.4 104.6l2.7-6.1 1.2-.2-2.6 6.1z" fill="#e40"/><path d="M605.9 81.8l2.7 1.8 1.4-2.2-2.7-1z" fill="#9d0"/><path class="msc" d="M577.5 98l2.6 8.8M605.2 81.1l2.2-.3M577.7 82l1.3-7.5M610.6 104.3l1.2-.2M611.8 104.1l2.3-5.5"/><path class="esc" d="M652.9 93l.4-32.9"/><path d="M648.3 94.7l3.1-5.1.7 2.6-3.1 4.1z" fill="#e70"/><path d="M632.7 75.4L635.4 74.4L633.8 58.7Z" fill="url(#sc22)"/><path d="M619.7 91l2.8-2.2 1-5.4-2.7 5.9z" fill="#650"/><path d="M570.3 74.3l2.7 1.2 1.5-5.2-2.6 3.3z" fill="#490"/><path d="M638.1 82.6l2.3 4.4 1.5-11.3-2.3-4.2z" fill="#cf0"/><path d="M574.7 92.6l2.8 5.7 1.7-5.7-2.9-5.2z" fill="#fc0"/><path d="M575 74.7L577 76.2L575 25.2Z" fill="url(#sc11)"/><path d="M649 92.9L651 94.2L653.3 60.1Z" fill="url(#sc7)"/><path d="M651 94.2L652.9 93L653.3 60.1Z" fill="url(#sc8)"/><path d="M577 76.2L579.7 75L575 25.2Z" fill="url(#sc12)"/><path class="msc" d="M606.2 81.8l1.2-1M607.4 80.8l2.3.7M648.6 94.5l.6 1.4M619.9 90.8l1.1-1.8M621 89l2.4-5.3M570.6 74.1l1.7-.6M639.6 71.8l2.2 4.2"/><path d="M629.1 72.6l2.8-1.6 1 3.8-2.9 3.5z" fill="#780"/><path d="M573.7 84.5l2.7 3.6 1.6-6.3-2.8-4.4z" fill="#ef0"/><path d="M669.5 82.6l2.4 4.4.6-1.2-2.5-3.5z" fill="#cd0"/><path d="M564.6 80.7l2.5 0 1.5-6.4-2.4 4.3z" fill="#570"/><path d="M620.2 93.6L620.1 91.9L618.9 83.1Z" fill="url(#sc29)"/><path d="M637 102.1l2.1 10 1.5-8.3-2.4-6z" fill="#f50"/><path d="M617.3 91.9L617.4 93.7L618.9 83.1Z" fill="url(#sc28)"/><path d="M607.9 96.3L611 96.6L609.7 73.4Z" fill="url(#sc54)"/><path d="M662.3 83l3.1-1.9.6-1.6-3 .6z" fill="#580"/><path d="M572.7 75.4l2.6 2.7 1.4-8.7-2.4.8z" fill="#7f0"/><path d="M587.5 90.9l2.4-6 1.7 2.1-2.4 5.7z" fill="#e90"/><path class="msc" d="M629.4 72.8l.7 5.1M630.1 77.9l2.4-3.2M576.4 87.7l1.3-5.7M575.3 77.8l2.4 4.2M566.5 78.6l1.9-4M639.1 111.8l1.2-8"/><path class="rsc" d="M671.8 86.7l.5-1.2"/><path d="M605.8 99.4l2.6 6.5 1.4-10.2-2.5-6.6z" fill="#fa0"/><path d="M593.2 83.2l2.6-3.1 1.7 2.8-2.7 2z" fill="#a70"/><path d="M656.6 87.7l3.1-3 .5.3-3 3.2z" fill="#c70"/><path d="M604.6 107l2.6 3.9 1.5-5.4-2.7-6.7z" fill="#f50"/><path d="M558.7 85.8l2.6-1.8 1.6-2.8-2.4 3z" fill="#650"/><path d="M635.8 93.3l2.5 5.2 1.3-4.6-2.5-4.6z" fill="#fc0"/><path d="M607 89.6l2.6 6.7 1.4-9.7-2.5-3.7z" fill="#ff0"/><path d="M616.2 95l2.9-2.5 1-2-2.7 3.9z" fill="#c50"/><path d="M607 110.9l2.5-7.2 1.4.4-2.8 1.1z" fill="#c20"/><path d="M667.2 80.8l2.8 2.3.5-.3-2.7-2.6z" fill="#9c0"/><path class="msc" d="M589.2 92.3l2.1-5M656.9 87.5l.5.4M657.4 87.9l2.6-2.7M637.1 89.7l2.2 4.2M607.3 89.4l2.3 6.5"/><path class="esc" d="M620 88.5l2.7-30.7"/><path d="M636 78.1l2.3 4.6 1.5-11.2-2.5-1z" fill="#9f0"/><path d="M578 102.3l2.3-6.8 1.9 3-2.1 8.7z" fill="#f50"/><path d="M664.8 81.2l3-.1.5-.6-2.9-1.1z" fill="#6b0"/><path d="M634.7 85.7l2.5 4.3 1.4-7.9-2.4-4.6z" fill="#ef0"/><path d="M573.3 98.1l3 7.9 1.5-8.1-2.8-5.7z" fill="#f90"/><path d="M617.4 93.7L620.2 93.6L618.9 83.1Z" fill="url(#sc69)"/><path d="M571.4 82.4l2.6 2.2 1.5-7.1-2.6-2.7z" fill="#bf0"/><path d="M631.5 71.1l2.7 3 1.1-1.8-2.9 2.7z" fill="#450"/><path d="M566.9 80.7l2.5.6 1.4-7.5-2.4.5z" fill="#7f0"/><path d="M583.8 92.6l.6-1.3 2 3.9-.7 1.4z" fill="#e80"/><path d="M555.1 90.7l.7-2.1 2.3-1.6-.7 2.3z" fill="#d70"/><path class="msc" d="M637.4 70.9l2.2.9M580.1 106.8l1.9-8.1M665.1 81.1l.6-1.4M575 92.6l2.5 5.4M572.9 75.1l2.4 2.7M632.5 74.7l2.4-2.3M568.4 74.6l2.2-.5"/><path class="esc" d="M575.9 104.5l.5-31.9M620.2 93.6l-1.3-10.5"/><path d="M633.7 73.9l2.5 4.3 1.3-7.6-2.7 1.5z" fill="#7f0"/><path d="M569.1 81.2l2.6 1.3 1.4-7.7-2.5-1z" fill="#9f0"/><path d="M572.2 89.2l2.8 3.7 1.7-5.3-2.8-3.7z" fill="#ff0"/><path d="M577.9 105.7L579.9 104.4L576.4 72.6Z" fill="url(#sc65)"/><path d="M645.1 99.2l3.1-7.4.6 2.4-3 6.6z" fill="#e70"/><path d="M620 88.5L620.6 90.5L622.7 57.8Z" fill="url(#sc19)"/><path d="M575.9 104.5L577.9 105.7L576.4 72.6Z" fill="url(#sc5)"/><path d="M576 103.9L577.3 105.4L577.1 87.7Z" fill="url(#sc39)"/><path d="M560.8 84l2.6-.1 1.7-3.7-2.5.9z" fill="#6a0"/><path d="M595.4 80.3l2.7-1.5 1.6 3.4-2.7 1z" fill="#870"/><path class="msc" d="M557.1 89.2l.8-2M636.2 77.9l1.2-7M634.9 72.4l2.5-1.5M569.3 80.9l1.3-6.8M570.6 74.1l2.3 1M575 92.6l1.4-4.9M645.9 100.4l2.7-5.9M561.1 83.8l1.6-2.4"/><path class="esc" d="M579.8 104.4l-2.7-16.7M606.1 112.2l-2.1-17.6"/><path d="M622.1 88.9l2.7-1.6 1.2-7.1-2.7 3.2z" fill="#670"/><path d="M625.6 80.8l2.8-1.5 1.1-6.8-2.9 6.4z" fill="#460"/><path d="M639 100.7L639.3 98.8L638.6 79.5Z" fill="url(#sc41)"/><path d="M651 90l3.1-3.7.6 3.6-3.1 2.8z" fill="#d80"/><path d="M577.3 105.4L579.8 104.4L577.1 87.7Z" fill="url(#sc41)"/><path d="M572.1 106.7l2.7 2.3 1.8-3.2-3-7.9z" fill="#f70"/><path d="M633.6 89.6l2.6 4.1 1.3-4-2.6-4.6z" fill="#ff0"/><path d="M635.8 110l2.9-.9.5 3-2-10.1z" fill="#f40"/><path d="M602.1 112.2L604.1 113.5L604 94.6Z" fill="url(#sc45)"/><path d="M604.1 113.5L606.1 112.2L604 94.6Z" fill="url(#sc46)"/><path d="M604.7 83.3l2.6 6.5 1.5-6.7-2.7-1.6z" fill="#df0"/><path class="msc" d="M623.4 83.7l2.4-3.2M635 85.5l2.1 4.2M637.2 102.3l1.9 9.5"/><path d="M659.2 85.2l3.1-2.9.5.2-3 3z" fill="#a60"/><path d="M641.6 104.1l3.1-5.6.7.1-3 8.3z" fill="#e50"/><path d="M569.9 87l2.7 2.4 1.7-5.3-2.7-2.3z" fill="#ef0"/><path d="M620.6 90.5L623.9 90.2L622.7 57.8Z" fill="url(#sc20)"/><path d="M603.5 115.1l2.5-6.7 1.5 2.3-2.7-4.2z" fill="#720"/><path d="M563 83.8l2.6.7 1.7-4.3-2.5-.1z" fill="#8f0"/><path d="M618.6 92.9l2.8-1.2 1.1-3.4-2.9 2.4z" fill="#760"/><path d="M632.6 82.1l2.4 3.7 1.4-8.2-2.4-4.1z" fill="#bf0"/><path d="M612.7 99.1l2.8-4.3 1.2-.4-2.7 4.5z" fill="#d60"/><path d="M555.9 89l1-2 2.3-1.7-.9 2z" fill="#b60"/><path d="M636 100.4L639 100.7L638.6 79.5Z" fill="url(#sc40)"/><path class="msc" d="M660 85.2l2.6-2.5M604.8 106.8l2.3 3.8M618.8 92.7l1.1-1.9M635 85.5l1.2-7.6M614.1 98.6l2.4-3.9M557.9 87.2l1.1-1.7"/><path class="esc" d="M636 100.4l2.6-20.9M641.7 107.8l1.7-71.2"/><path d="M597.7 78.9l2.7-.1 1.5 3.1-2.6.5z" fill="#660"/><path d="M567.6 85.5l2.7 1.7 1.6-5.3-2.6-1.3z" fill="#cf0"/><path d="M565.3 84.4l2.6 1.2 1.7-4.9-2.6-.6z" fill="#af0"/><path d="M574.6 109l2.1-7.8 1.8.6-2.3 4.2z" fill="#d40"/><path d="M602.2 100.6l2.7 6.6 1.5-8.2-2.7-6.1z" fill="#fa0"/><path d="M584.2 91.7l1.9-4.6 2 3.5-2 4.7z" fill="#e90"/><path d="M634.9 95.9l2.4 6.8 1.3-4.4-2.5-5.3z" fill="#fa0"/><path d="M668.9 85.2l1.9 7.7 1.3-6.2-2.4-4.2z" fill="#ee0"/><path d="M603.5 93.5l2.6 6 1.4-10.3-2.6-6.1z" fill="#ff0"/><path d="M551.3 95.4l2.1-4.8 2.1-.4-2 5.3z" fill="#d70"/><path d="M600 79l2.9 1.3 1.3 1.4-2.7.3z" fill="#550"/><path class="msc" d="M598 79.1l1.4 3M567.9 85.3l1.4-4.4M669.7 82.9l2.1 3.8M605 83.5l2.3 5.9"/><path class="rsc" d="M670.8 92.6l1-5.9M551.5 95.1l2 .1"/><path d="M602.4 80.2l2.7 3.6 1.5-2-3-.5z" fill="#8c0"/><path d="M570.8 93.3l2.9 5.3 1.6-6.1-2.8-3.8z" fill="#fe0"/><path d="M638.2 109.1l3-4.5.8-1.1-3 8.6z" fill="#e40"/><path d="M624.5 87.3l2.6-1 1.2-7.6-2.6 1.5z" fill="#6b0"/><path d="M589.5 85.4l2.6-5.2 1.7 2.8-2.5 4.6z" fill="#a90"/><path d="M628 79.3l2.6.6 1.3-8.8-2.6 1.4z" fill="#5d0"/><path d="M600.9 106.4l2.7 8.7 1.6-8.3-2.7-6.7z" fill="#f60"/><path d="M640.4 109.7L641.7 107.8L643.4 36.6Z" fill="url(#sc24)"/><path d="M630.4 79.8l2.4 2.4 1.4-8.6-2.5-2.6z" fill="#8f0"/><path d="M631.4 87.2l2.6 2.7 1.3-4.5-2.5-3.9z" fill="#ef0"/><path d="M666.2 104.1l2.3 4.4 1.3-7.7-2.2-5.4z" fill="#f90"/><path class="msc" d="M605 83.5l1.2-1.7M573.6 98.2l1.4-5.6M572.6 89.1l2.4 3.5M638.5 108.9l.6 2.9M639.1 111.8l2.8-8M625.8 80.5l2.4-1.5M589.8 85.3l1.5 2M591.3 87.3l2.2-4.1M628.2 79l1.2-6.2M602.5 100.5l2.3 6.3M634 89.6l1-4.1M632.8 81.8l2.2 3.7"/><path d="M609.3 104.4l2.6-5.9 1.3 0-2.6 6.2z" fill="#e50"/><path d="M621 91.7l2.7-.9 1.2-4.1-2.8 1.6z" fill="#790"/><path d="M667.4 96l2.2 5.4 1.5-9.1-2-7.2z" fill="#fe0"/><path d="M653.6 86.5l3.1-2.6.5 3.7-3 2.6z" fill="#b80"/><path d="M557 87.3l2.5-2.3 1.8-1.4-2.5 2.1z" fill="#560"/><path d="M571.2 116.1l1.9-8.7 2 1.1-2.7-2.4z" fill="#620"/><path d="M637.3 108.7L640.4 109.7L643.4 36.6Z" fill="url(#sc23)"/><path d="M661.8 82.7l3.1-2 .5.2-3.1 2.1z" fill="#760"/><path d="M626.9 86.3l2.5-.1 1.3-7-2.5-.5z" fill="#9f0"/><path d="M629.2 86.1l2.6 1.2 1.2-5.7-2.5-2.4z" fill="#bf0"/><path class="msc" d="M609.4 104.1l1.2.2M667.7 95.7l1.8 5.3M559 85.5l2.1-1.7M572.4 106.4l2.4 2.3M662.6 82.7l2.5-1.6M627 86l1.2-7M628.2 79l2.3.5"/><path class="esc" d="M626.2 85.1l3.4-35.6"/><path class="rsc" d="M668.4 108.1l1.1-7.1M669.5 101l1.3-8.4"/><path d="M665.1 110.8l2.4 3.8 1.2-6.7-2.3-4.4z" fill="#f60"/><path d="M568.3 89.9l2.9 3.8 1.7-4.7-2.8-2.5z" fill="#ff0"/><path d="M569.4 98.5l3 8.3 1.6-8.7-2.9-5.1z" fill="#fb0"/><path d="M615.1 95.4l2.8-2.8 1.2-.2-2.8 2.6z" fill="#c50"/><path d="M580 96l2.5-4.1 1.8.7-2.3 6.5z" fill="#e80"/><path d="M568.2 107.7l3.1 8.4 1.4-9.8-3-8z" fill="#f70"/><path d="M666.8 80.8l2.4 5 .9-2.9-2.7-2.2z" fill="#9d0"/><path d="M626.2 85.1L628.4 86.5L629.6 49.5Z" fill="url(#sc30)"/><path d="M633.8 101.1l2.3 9 1.5-7.8-2.5-6.5z" fill="#f90"/><path d="M628.4 86.5L630.6 85.2L629.6 49.5Z" fill="url(#sc50)"/><path class="msc" d="M630.5 79.5l2.3 2.3M570.2 86.8l2.4 2.3M572.4 106.4l1.2-8.2M616.5 94.7l2.3-2M580.3 95.9l1.7 2.8M582 98.7l2-5.8M571.2 115.8l1.2-9.4M569.7 98.6l2.7 7.8M667.5 81l2.2 1.9M635.2 96.2l2 6.1"/><path class="rsc" d="M667.4 114.3l1-6.2"/><path d="M605.7 109l2.6-6.1 1.3.9-2.5 7.1z" fill="#e40"/><path d="M632.6 91.9l2.6 4.6 1.3-3-2.6-4.3z" fill="#fe0"/><path d="M623.3 90.8l2.8-.8 1.1-4.3-2.7.9z" fill="#6a0"/><path d="M664.3 81l3.1.1.5-.1-3.1.1z" fill="#550"/><path d="M559 85.4l2.7-.3 1.9-1.7-2.7.1z" fill="#690"/><path d="M647.8 92.4l3.2-6.2.6 3.6-3.1 5z" fill="#d90"/><path d="M553.1 91.1l1-2.1 2.3-.5-.9 2.2z" fill="#b70"/><path d="M565.9 87.4l2.8 2.8 1.8-3.5-2.7-1.8z" fill="#cf0"/><path d="M601.1 87.5l2.7 6.1 1.4-10.4-2.6-3.1z" fill="#df0"/><path d="M664.1 100.9l2.4 3.3 1.4-8.7-2.3-4.4z" fill="#fd0"/><path d="M599.7 113.6l2.8-.8 1.3 2.2-2.6-8.9z" fill="#f40"/><path class="msc" d="M607.1 110.6l2.3-6.5M664.6 81l.5.1M665.1 81.1l2.4-.1M559.3 85.2l1.8-1.4M561.1 83.8l2.2-.3M648.1 92.2l.5 2.3M648.6 94.5l2.7-4.6M567.9 85.3l2.3 1.5M603.7 93.2l1.3-9.7M602.6 80.4l2.4 3.1"/><path d="M561.2 84.9l2.7 1.1 2-1.9-2.7-.9z" fill="#7c0"/><path d="M599.8 94.8l2.7 6 1.6-7.7-2.7-6.1z" fill="#fe0"/><path d="M563.5 85.6l2.8 2.1 1.9-2.5-2.7-1.4z" fill="#9e0"/><path d="M656.2 84.1l3.1-1.9.5 2.8-3.1 2.8z" fill="#970"/><path d="M585.8 87.6l2.6-3.8 1.7 1.2-2.4 6z" fill="#b90"/><path d="M634.9 113.6l2.9-5.1.9.2-3 .8z" fill="#c20"/><path d="M663 107.1l2.4 3.8 1.3-7.3-2.4-3.3z" fill="#f90"/><path d="M625.7 90l2.7-.4 1.2-4-2.7 0z" fill="#7d0"/><path d="M632.5 110.8l2.6 2.8 1.2-3.7-2.3-8.9z" fill="#f70"/><path d="M591.7 80.6l2.6-3.5 1.8 3.3-2.7 3.1z" fill="#780"/><path d="M567.1 116.5l2.5-3.5 1.9 3.1-3-8.9z" fill="#f50"/><path class="msc" d="M563.3 83.5l2.3.7M602.5 100.5l1.2-7.3M566.2 87.4l1.7-2.1M565.6 84.2l2.3 1.1M656.5 84.2l.4 3.3M625.9 89.7l1.1-3.7M593.5 83.2l2.2-2.8"/><path class="esc" d="M563.2 85.2l-3.8-24.9"/><path d="M644.4 99.1l3-4.1.8-3.1-3.1 7.3z" fill="#d70"/><path d="M630.3 89.9l2.8 2.5 1.2-2.8-2.7-2.9z" fill="#df0"/><path d="M665.5 91.7l2.2 4.4 1.6-11-2.2-4.4z" fill="#ef0"/><path d="M617.4 93.1l3-1.6 1.1-.2-3 1.6z" fill="#a50"/><path d="M576.5 101.9l2.3-5.2 1.7-1.1-2.2 6.9z" fill="#d70"/><path d="M628 89.5l2.8.7 1.2-3.4-2.7-1.3z" fill="#af0"/><path d="M664.1 118.2l3.3-5.1.4 1.3-2.5-4.2z" fill="#830"/><path d="M559.2 85.1L560.9 86.3L559.4 60.3Z" fill="url(#sc21)"/><path d="M554 89.5l1.1-2.2 2.4-.4-1.1 2.1z" fill="#a70"/><path d="M560.9 86.3L563.2 85.2L559.4 60.3Z" fill="url(#sc22)"/><path d="M598.5 100.4l2.8 6.4 1.6-6.3-2.8-6.2z" fill="#fb0"/><path d="M582.1 92.3l.6-.8 2.1 0-.6 1.7z" fill="#c80"/><path class="msc" d="M633 92l1-2.4M665.6 91.4l2.1 4.3M617.7 92.9l1.1-.2M618.8 92.7l2.4-1.2M665.4 110.6l2 3.7M601.3 106.5l1.2-6M600.1 94.7l2.4 5.8"/><path class="esc" d="M624.9 89.4l2.4-11.3M599.1 78.5l-2.5-33.4"/><path class="rsc" d="M667.1 113.3l.3 1"/><path d="M640.9 105.2l3.1-3 .7-3.7-3 5.6z" fill="#c50"/><path d="M602.1 112.7l2.6-6.2 1.4 2-2.5 6.6z" fill="#e40"/><path d="M632.5 113.9L633.4 115.7L634.7 106.1Z" fill="url(#sc32)"/><path d="M598.7 81.8l2.7 5.9 1.5-7.5-2.6-1.4z" fill="#9f0"/><path d="M662 97.8l2.3 3.2 1.5-9.9-2.3-3.6z" fill="#ff0"/><path d="M658.8 82.3l2.8 2.5.8-2.4-3.2 2.9z" fill="#650"/><path d="M566.7 93l3 6 1.8-5.7-2.9-3.8z" fill="#ff0"/><path d="M624.9 89.4L626.6 90.8L627.3 78.1Z" fill="url(#sc58)"/><path d="M611.6 99.1l2.7-4.7 1.3.5-2.7 4.2z" fill="#d70"/><path d="M662 112l2.2 6.3 1.4-7.9-2.4-3.8z" fill="#f60"/><path class="msc" d="M584 92.9l.5-1.3M641.9 103.8l2.7-5M600.3 79.2l2.3 1.2"/><path d="M572.8 108l2.3-6 1.7-.7-2 7.7z" fill="#e50"/><path d="M597.6 79.9L599.1 78.5L596.6 45.1Z" fill="url(#sc68)"/><path d="M660.9 103.8l2.4 3.4 1.3-6.8-2.5-3.2z" fill="#fc0"/><path d="M626.6 90.8L628.9 89.9L627.3 78.1Z" fill="url(#sc53)"/><path d="M663.3 88.1l2.4 3.7 1.5-11.1-2.6-.1z" fill="#bf0"/><path d="M661.1 84.7l2.5 3.5 1.2-7.5-2.9 1.6z" fill="#9f0"/><path d="M619.8 91.8l3.1-.7 1-.7-3 1.2z" fill="#950"/><path d="M633.4 115.7L636.1 115.2L634.7 106.1Z" fill="url(#sc33)"/><path d="M595.1 79.1L597.6 79.9L596.6 45.1Z" fill="url(#sc62)"/><path d="M594 77.2l2.8.1 1.5 1.9-2.7 1.5z" fill="#460"/><path class="msc" d="M663.3 106.9l2.1 3.7M574.8 108.7l1.9-7.1M663.5 87.8l2.1 3.6M663.5 87.8l1.1-6.8M621.2 91.5l2.3-1"/><path class="esc" d="M636.1 115.2l-1.4-9.1"/><path d="M631.6 95.4l2.5 6.3 1.4-5.6-2.6-4.4z" fill="#fe0"/><path d="M631.4 119.9l3-7.1 1 .3-2.7-2.9z" fill="#720"/><path d="M650.6 86.4l3-.7.7.7-3.1 3.9z" fill="#970"/><path d="M596.4 77.4l2.7 4.8 1.6-3.1-3-.2z" fill="#6d0"/><path d="M597.2 106.2l2.8 7.5 1.6-7.3-2.8-6.3z" fill="#f80"/><path d="M569.1 113.3l2.2-6.2 1.9.3-2 8.7z" fill="#e40"/><path d="M549.1 94.2l2.2-4.2 2.4.7-2.1 4.8z" fill="#c80"/><path d="M555.1 87.8l2.4-2.6 2.1-.1-2.4 2.3z" fill="#850"/><path d="M664 84L665.2 85.7L669 51Z" fill="url(#sc30)"/><path d="M582.7 91.9l2.1-1.5 1.5-3.2-1.8 4.8z" fill="#a70"/><path class="msc" d="M595.7 80.4l2.3-1.3M633 92l2.2 4.2M632.8 110.6l2.2 2.7M651.3 89.9l2.6-3.3M596.6 77.7l1.4 1.4M598 79.1l2.3.1M600 113.4l1.3-6.9M569.3 113.1l1.9 2.7M551.5 95.1l1.9-4.2"/><path class="rsc" d="M549.4 94l2.1 1.1"/><path d="M597.5 89.9l2.7 5.1 1.5-7.9-2.7-5.6z" fill="#df0"/><path d="M659.9 94.5l2.3 3.4 1.5-10.4-2.3-3.3z" fill="#ef0"/><path d="M637.4 109l3-3.1.9-1.2-3 4.5z" fill="#d40"/><path d="M565.4 100.4l3.1 7.5 1.5-9.5-3-5.6z" fill="#fc0"/><path d="M629.1 113.3l2.4 6.6 1.6-9.6-2.5-6z" fill="#f60"/><path d="M564.1 108l3.2 8.5 1.5-9-3.1-7.6z" fill="#f80"/><path d="M622.2 91.2l3-.1 1-1.6-3 1z" fill="#680"/><path d="M588 84.3l3-1.3 1.2-2.7-2.4 5.3z" fill="#760"/><path d="M658.7 100.4l2.5 3.5 1.2-6.6-2.4-3.5z" fill="#ff0"/><path d="M564.2 88.9l2.9 4.6 1.9-3.6-2.8-2.9z" fill="#ce0"/><path class="msc" d="M584.5 91.6l1.6-4.1M662.2 97.5l1.3-9.7M661.4 84.6l2.1 3.2M637.7 108.8l.8.1M567.1 93.1l2.6 5.5M623.5 90.5l2.4-.8M588.3 84.2l1.5 1.1M661.1 103.5l1.1-6"/><path class="esc" d="M667.8 85.1l1.2-34.1M661.8 95.2l-.2-21.7"/><path d="M665.2 85.7L667.8 85.1L669 51Z" fill="url(#sc31)"/><path d="M630.4 104.9l2.4 6 1.5-9.8-2.4-5.9z" fill="#fb0"/><path d="M608 103.5l2.7-5.5 1.3.6-2.6 5.8z" fill="#e70"/><path d="M657.7 94.8L659.6 96.2L661.6 73.5Z" fill="url(#sc34)"/><path d="M659.9 107.4l2.5 5 1.2-5.6-2.5-3.6z" fill="#f90"/><path d="M596.1 95.9l2.8 4.9 1.6-6.2-2.8-5.3z" fill="#ff0"/><path d="M653 86l2.8 2 1-4.1-3.2 2.8z" fill="#590"/><path d="M659.6 96.2L661.8 95.2L661.6 73.5Z" fill="url(#sc35)"/><path d="M661 118.1l2.8 1 .7-.9-2.2-6.5z" fill="#f40"/><path d="M624.6 91l2.9.5 1.1-2.4-2.9.4z" fill="#6a0"/><path d="M657.7 91l2.4 3.5 1.4-10.2-2.4-2.1z" fill="#cf0"/><path class="msc" d="M630.6 104.7l2.2 5.9M608.2 103.3l1.2.8M609.4 104.1l2.4-5.2M661.1 103.5l2.2 3.4M597.7 89.7l2.4 5M653.9 86.6l2.6-2.4M624.9 90.9l1-1.2M625.9 89.7l2.4-.4"/><path class="esc" d="M599.4 89.5l-2.3-31.9"/><path d="M629.3 92.6l2.7 3.3 1.3-4-2.7-2.4z" fill="#df0"/><path d="M643.4 102.6l3-2.1.9-5.6-3.1 3.7zM557.1 85.6l2.8-.6 2-.2-2.8.5z" fill="#650"/><path d="M647 95.6l2.9-2.1 1.1-7.3-3.2 6.1z" fill="#560"/><path d="M596 113.6l2.7 3.9 1.6-4-2.8-7.6z" fill="#f60"/><path d="M598.5 117.5l2.5-6.8 1.6 1.6-2.9 1z" fill="#d30"/><path d="M659.5 122.1L660.2 124L662 114.9Z" fill="url(#sc37)"/><path d="M578.5 97.3l2.6-3.2 1.5-2.1-2.4 4.2z" fill="#b60"/><path d="M561.7 86.1l2.9 3.2 2-1.9-2.8-2.1z" fill="#9d0"/><path d="M613.9 95l2.9-3.3 1.2 1.1-2.8 2.7z" fill="#b70"/><path class="msc" d="M659.1 82.5l2.3 2.1M631.9 95.5l1.1-3.5M630.7 89.9l2.3 2.1M644.6 98.8l2.6-3.5M557.5 85.6l1.8-.4M647.2 95.3l.9-3.1M597.6 106.2l2.4 7.2M598.7 117.2l1.3-3.8M600 113.4l2.3-.9M578.7 97l1.6-1.1M564.5 89l1.7-1.6"/><path d="M562.9 116.1l2.7 2.1 1.9-1.8-3.1-8.7z" fill="#f50"/><path d="M598.6 91.2L599.4 89.5L597.1 57.6Z" fill="url(#sc50)"/><path d="M655.4 87.9l2.5 3.1 1.4-8.8-2.9 1.7z" fill="#9f0"/><path d="M626.9 91.3l2.9 1.6 1.2-3.2-2.8-.7z" fill="#af0"/><path d="M628 121.1l3-2.5.8 1.2-2.5-7z" fill="#f40"/><path d="M559.3 85l2.9 1.6 2-.9-2.8-1.2z" fill="#6b0"/><path d="M656.6 97.1l2.4 3.4 1.3-6.5-2.5-3.7z" fill="#ff0"/><path d="M584.5 90.6l2.6-.7 1.4-6.1-2.6 3.5z" fill="#570"/><path d="M551 90.4l1.1-1.8 2.5.5-1 2.1z" fill="#a70"/><path d="M565.4 118.1l2.1-6.7 2.1 1.4-2.4 3.7z" fill="#d30"/><path d="M595.1 86.1l2.7 3.9 1.4-8.4-2.6-4.3z" fill="#9f0"/><path class="msc" d="M564.4 108l2.9 8.2M655.7 87.7l.8-3.5M656.5 84.2l2.6-1.7M628.3 89.3l2.4.6M586.1 87.5l2.2-3.3M553.4 90.9l.9-1.7M567.3 116.2l2-3.1"/><path class="esc" d="M649.6 95.5l-.1-24.4M630 118.2l-.9-28.4M660.2 83.1l-.8-15.7"/><path d="M634 113.3l2.9-4.4 1-.4-3 5.1z" fill="#d40"/><path d="M595.8 90.7L598.6 91.2L597.1 57.6Z" fill="url(#sc31)"/><path d="M590.4 83.4l2.6.6 1.4-6.9-2.6 3.2z" fill="#390"/><path d="M660.2 124L663 123.7L662 114.9Z" fill="url(#sc38)"/><path d="M663.5 119l3.3-5.7.5-.3-3.3 5.2z" fill="#d30"/><path d="M640 106.5l3.1-2 .7-2.5-3.1 3.1z" fill="#b40"/><path d="M649 97.2L649.6 95.5L649.5 71.1Z" fill="url(#sc35)"/><path d="M594.8 101.3l2.8 5.3 1.6-6.2-2.8-4.9z" fill="#fd0"/><path d="M657.8 103.5l2.5 4.3 1.2-4.3-2.6-3.7z" fill="#fc0"/><path d="M656.1 83L658.2 84.3L659.4 67.4Z" fill="url(#sc60)"/><path class="msc" d="M635 113.3l2.7-4.5M660.3 107.4l.8-3.9M659 100.1l2.1 3.4"/><path class="esc" d="M663 123.7l-1-8.8M653.3 85.8l4.2-26.9"/><path class="rsc" d="M666.7 113.6l.4-.3"/><path d="M604.4 107l2.6-5.3 1.5 1.3-2.7 6.1z" fill="#e70"/><path d="M658.2 84.3L660.2 83.1L659.4 67.4Z" fill="url(#sc61)"/><path d="M628.9 120L630 118.2L629.1 89.8Z" fill="url(#sc43)"/><path d="M593.8 92.8l2.7 3.4 1.5-6.7-2.7-4z" fill="#df0"/><path d="M574.8 102.6l2.4-4.4 1.7-1.5-2.3 5.2z" fill="#d70"/><path d="M628.2 99.8l2.5 5.2 1.4-9.7-2.5-3.1z" fill="#ff0"/><path d="M592.8 84l2.6 2.2 1.4-8.9-2.6-.2z" fill="#6f0"/><path d="M654.3 94.5l2.6 2.7 1.2-6.8-2.5-3.1z" fill="#df0"/><path d="M580.7 94.7l.6-.3 1.9-3-.6.6z" fill="#560"/><path d="M626.9 108.5l2.5 5 1.5-9.1-2.5-5.1z" fill="#fb0"/><path d="M562.7 93.8l3.1 6.8 1.6-7.6-2.9-4.4z" fill="#ef0"/><path d="M646.1 96.7L649 97.2L649.5 71.1Z" fill="url(#sc36)"/><path d="M649.6 93.6l2.7-.3 1.2-7.6-2.7.5z" fill="#8d0"/><path d="M551.9 89l1.3-1.8 2.5.3-1.3 2.1z" fill="#870"/><path class="msc" d="M595.4 85.9l2.3 3.8M576.7 101.6l2-4.6M630.6 104.7l1.3-9.2M595.4 85.9l1.2-8.2M629.4 113.1l1.2-8.4M628.4 99.6l2.2 5.1M564.5 89l2.6 4.1"/><path class="esc" d="M647.1 93.9l7-67.4"/><path d="M653.3 85.8L655.1 87.3L657.5 58.9Z" fill="url(#sc30)"/><path d="M659.1 111.2l2.2 7 1.4-6.2-2.5-4.9z" fill="#f70"/><path d="M626.2 119.1L628.9 120L629.1 89.8Z" fill="url(#sc42)"/><path d="M616.3 92l2.9-1.7 1.3 1.4-2.9 1.5z" fill="#960"/><path d="M646 100.6l2.8-1.5 1.1-6.2-2.9 2z" fill="#780"/><path d="M625.6 115.1l2.6 6.1 1.5-8.2-2.6-5.1z" fill="#f70"/><path d="M595 123.8l2.4-7.7 1.6 1-2.7-4z" fill="#730"/><path d="M586.8 89.8l2.6.2 1.4-7.2-2.5 1z" fill="#6d0"/><path d="M655.1 87.3L657.4 86.4L657.5 58.9Z" fill="url(#sc50)"/><path d="M652 93.2l2.6 1.4 1.3-7.2-2.6-1.7z" fill="#bf0"/><path class="msc" d="M554.3 89.2l1.1-1.6M616.6 92l1.1.9M646.2 100.2l1-4.9M647.2 95.3l2.6-2.1M628.2 120.8l1.2-7.7M587 89.6l1.3-5.4M588.3 84.2l2.3-1.1"/><path d="M649.9 95.3L651.8 93.7L654.1 26.5Z" fill="url(#sc14)"/><path d="M630.4 118.7l3-5.6 1-.3-3 7.1z" fill="#e30"/><path d="M647.1 93.9L649.9 95.3L654.1 26.5Z" fill="url(#sc13)"/><path d="M581.2 94.3l2.1-.6 1.6-3.6-2 1.3z" fill="#580"/><path d="M591.5 90.8l2.6 2.1 1.5-7.3-2.7-2.3z" fill="#af0"/><path d="M561.4 101.6l3.1 6.8 1.6-8.2-3.1-6.7z" fill="#fd0"/><path d="M655.6 100.6l2.6 3.3 1.1-3.8-2.5-3.6z" fill="#ff0"/><path d="M593.5 107.4l2.8 6.4 1.6-7.7-2.8-5.2z" fill="#fb0"/><path d="M589.1 89.9l2.6 1 1.4-7.5-2.5-.6z" fill="#8f0"/><path d="M571.1 107.7l2.3-5 1.8-.6-2.2 6z" fill="#d60"/><path class="msc" d="M654.6 94.3l1.1-6.6M594.1 92.6l1.3-6.7M593 83.7l2.4 2.2M656.8 96.9l2.2 3.2M595.1 101.3l2.5 4.9M590.6 83.1l2.4.6"/><path d="M610.4 98.6l2.7-4.7 1.4.6-2.8 4.7z" fill="#c80"/><path d="M642.5 104.8l3-1.4.9-3.4-3.1 2.2z" fill="#760"/><path d="M625.8 95.1l2.7 4.9 1.4-7.7-2.7-1.4z" fill="#ef0"/><path d="M592.4 98l2.8 3.6 1.6-6-2.8-3.4z" fill="#ff0"/><path d="M561.7 123.9l1.9-8.1 2.3 1.9-2.8-2.2z" fill="#620"/><path d="M592.2 115.3l2.9 8.5 1.5-10.5-2.8-6.3z" fill="#f70"/><path d="M618.7 90.6l3.1-.2 1.1.7-3 .9z" fill="#760"/><path d="M560 108.9l3.2 7.3 1.6-8.2-3.1-6.8z" fill="#fa0"/><path d="M660.2 123.8l3.3-5.3.5.1-2.8-1z" fill="#720"/><path d="M600.7 111.3l2.7-4.3 1.4-.5-2.5 6.3z" fill="#e50"/><path d="M648.5 99.1l2.8-.6 1.1-5.9-2.7.3z" fill="#9d0"/><path class="msc" d="M611.8 98.9l2.4-4.1M561.7 101.5l2.7 6.5M661.3 117.9l2.4.8M602.3 112.5l2.3-5.7"/><path d="M553.1 87.6l2.5-2 2.2-.2-2.5 2.6z" fill="#660"/><path d="M583 93.6l2.6.1 1.6-4.4-2.6.7z" fill="#6c0"/><path d="M653.3 98.9l2.7 2 1.1-4.2-2.6-2.8z" fill="#ff0"/><path d="M636.5 109.4l3.1-3 .9-.4-3.1 3z" fill="#c50"/><path d="M624.5 121.6l2.7 2.3 1.3-2.9-2.6-6.3z" fill="#f40"/><path d="M558.7 116.5l3.2 7.4 1.6-8.1-3.2-7.3z" fill="#f60"/><path d="M658 118l2.3 5.8 1.4-5.9-2.3-6.9z" fill="#f50"/><path d="M621.1 90.5l3 1.4 1.1-1-3 .3z" fill="#540"/><path d="M623.5 91.5l2.7 3.8 1.4-4.3-2.9-.4zM560 88.4l3.1 5.8 1.8-5.3-2.9-3z" fill="#af0"/><path class="msc" d="M649.8 93.2l2.4-.3M555.4 87.6l2.1-2M654.6 94.3l2.2 2.6M636.8 109.2l.9-.4M637.7 108.8l2.5-2.6M626 115l2.2 5.8M659.4 111.4l1.9 6.5M623.9 91.6l1-.7"/><path d="M651 98.4l2.7.6 1.1-5-2.7-1.4z" fill="#df0"/><path d="M624.7 103.8l2.5 4.8 1.5-9.2-2.6-4.8z" fill="#ff0"/><path d="M590 95.8l2.8 2.4 1.5-5.9-2.7-2.1z" fill="#df0"/><path d="M585.3 93.6l2.7.9 1.5-5.1-2.6-.2z" fill="#9f0"/><path d="M546.9 92.7l2.3-3.3 2.4.7-2.2 4.3z" fill="#980"/><path d="M576.9 98.8l2.7-2.9 1.6-1.7-2.6 3.1z" fill="#a50"/><path d="M657 106.4l2.5 5.3 1.1-4.2-2.5-4.3z" fill="#fb0"/><path d="M626.9 123.8l3-6 1 .4-3 2.9z" fill="#d20"/><path d="M587.7 94.3l2.7 1.6 1.5-5.6-2.6-1z" fill="#bf0"/><path d="M567.2 112l2.3-5.1 2 .3-2.2 6.2z" fill="#e60"/><path class="msc" d="M563 93.8l1.5-4.8M562.1 86.3l2.4 2.7M653.6 98.7l1-4.4M652.2 92.9l2.4 1.4M626.2 95l2.2 4.6M592.7 97.8l1.4-5.2M585.6 93.3l1.4-3.7M577.2 98.5l1.5-1.5M578.7 97l2.2-2.6M659.4 111.4l.9-4M627.1 123.5l1.1-2.7M628.2 120.8l2.5-2.4"/><path class="rsc" d="M547.2 92.5l2.2 1.5"/><path d="M623.4 110.2l2.6 5.2 1.5-7.3-2.6-4.9z" fill="#fb0"/><path d="M591.1 124.1l2.7-1.7 1.5 1.3-2.8-8.8z" fill="#f40"/><path d="M645 103.5l3-1.1.9-3.9-3 1.5z" fill="#780"/><path d="M555.2 86l2.8.4 2-1.4-2.8.4z" fill="#490"/><path d="M606.7 102.2l2.8-3.1 1.3-1.1-2.6 5.6z" fill="#d80"/><path d="M557.5 86l2.9 2.8 2-2.6-2.8-1.5z" fill="#7e0"/><path d="M591 103l2.9 4.7 1.6-6.6-2.8-3.6z" fill="#ff0"/><path d="M597.1 116.7l2.6-5.1 1.4-.9-2.5 6.8z" fill="#e50"/><path d="M561 87.6L561.9 85.8L558.2 61.7Z" fill="url(#sc61)"/><path d="M558.7 96.4l3 5.5 1.6-8.2-3-5.5z" fill="#df0"/><path class="msc" d="M567.4 111.8l1.9 1.3M569.3 113.1l2-5.6M592.6 115.2l2.5 8.2M645.3 103.2l.9-3M555.5 85.9l2-.3M557.5 85.6l2.2-.5M607 102l1.2 1.3M559.7 85.1l2.4 1.2M592.7 97.8l2.4 3.5M597.3 116.4l1.4.8"/><path d="M579.1 96.4l.6-.3 2-2.3-.6.3z" fill="#560"/><path d="M557.6 125.6l2.3-4.6 2.2 2.7-3.1-7.6z" fill="#f50"/><path d="M639.1 106.9l3.1-1.9.8-.7-3.1 2.1z" fill="#b50"/><path d="M612.7 94.4l2.9-3.3 1.3.7-2.8 3.3z" fill="#970"/><path d="M663 119l3.3-3.7.5-2-3.3 5.7z" fill="#d40"/><path d="M622.4 99.3l2.5 4.6 1.5-9.2-2.6-3.4z" fill="#ef0"/><path d="M647.6 102.4l2.9-.6.9-3.9-2.9.6z" fill="#7a0"/><path d="M622.2 115.5l2.6 6.2 1.5-6.8-2.6-5.2z" fill="#f80"/><path d="M654.8 103.3l2.6 3.6 1.1-3.3-2.6-3.4z" fill="#fe0"/><path d="M558.2 87.1L561 87.6L558.2 61.7Z" fill="url(#sc70)"/><path class="msc" d="M561.7 101.5l1.3-7.7M580.9 94.4l.6-.3M559 116.5l2.8 7M640.2 106.2l2.5-1.7M614.2 94.8l2.4-2.8M663.7 118.7l3-5.1M623.9 91.6l2.3 3.4M623.7 110l2.3 5"/><path class="esc" d="M558.2 87.1l0-25.4M603.5 109.8l-2-11.4"/><path class="rsc" d="M666.1 115.5l.6-1.9"/><path d="M548.9 89.8l1.1-1.2 2.6.2-1.1 1.8z" fill="#770"/><path d="M633.1 113.7l3-4.5.9-.3-3 4.5z" fill="#d50"/><path d="M593.4 122.4l2.5-5.7 1.6-.6-2.5 7.7z" fill="#e30"/><path d="M573.1 103.3l2.5-3.9 1.8-1.2-2.4 4.5z" fill="#c70"/><path d="M656.9 126.2l3.4-3.8.3 1.3-2.3-6.1z" fill="#d50"/><path d="M579.6 96.1l2.2-.5 1.7-2.5-2.1.6z" fill="#680"/><path d="M557.3 103.4l3.1 5.8 1.6-7.8-3-5.5zM588.6 99.7l2.8 3.5 1.6-5.5-2.7-2.5z" fill="#ff0"/><path d="M589.7 109.1l2.9 6.5 1.5-8.5-2.8-4.6z" fill="#fc0"/><path d="M563.3 116.4l2.3-5.6 2.1.7-2.1 6.7z" fill="#e50"/><path d="M603.1 107.6l2.9-2.7 1.2-3.2-2.7 5.4z" fill="#c60"/><path d="M581.1 94.2L582.1 95.9L582.4 79Z" fill="url(#sc21)"/><path d="M650 101.7l2.9.3 1-3.5-2.8-.7z" fill="#ae0"/><path class="msc" d="M595.1 123.4l2.2-7M581.5 94.1l1.7-.8M560.3 108.8l1.4-7.3M559 96.2l2.7 5.3M591.4 102.9l1.3-5.1M590.3 95.6l2.4 2.2M604.6 106.8l2.4-4.8"/><path d="M621.1 105.7l2.6 4.7 1.5-7-2.6-4.7z" fill="#fe0"/><path d="M652.4 101.9l2.8 1.8 1.1-3.3-2.8-2z" fill="#ef0"/><path d="M656 111.7l2.4 6.6 1.4-7.1-2.5-5z" fill="#fa0"/><path d="M602.2 111.5L603.5 109.8L601.5 98.4Z" fill="url(#sc29)"/><path d="M623.4 128.8l2.9-7 1.1 1.6-2.7-2.4z" fill="#710"/><path d="M588.4 117.1l2.9 7.1 1.6-9.1-2.9-6.4z" fill="#f80"/><path d="M549.9 88.9l1.2-.1 2.6-1.5-1.2 1.8z" fill="#550"/><path d="M581.4 95.4l2.8.7 1.7-2.9-2.8-.2z" fill="#7c0"/><path d="M586.1 97.3l2.9 2.6 1.6-4.5-2.7-1.6z" fill="#cf0"/><path d="M555.8 110.3l3.2 6.5 1.7-8.1-3.1-5.7z" fill="#fb0"/><path d="M620 95.2l2.6 4.2 1.5-8-2.7-1.1z" fill="#cf0"/><path d="M641.6 105.3l3.2-1.1.7-1.2-3.1 1.6z" fill="#a50"/><path class="msc" d="M652.8 101.7l.8-3M658.3 118l1.1-6.6M657.4 106.5l2 4.9M590 109l2.6 6.2M583.2 93.3l2.4 0M587.9 94.1l2.4 1.5M559 116.5l1.3-7.7M622.6 99l1.3-7.4M621.5 90.6l2.4 1"/><path class="esc" d="M584.9 95.2l-2.5-16.2"/><path d="M582.1 95.9L584.9 95.2L582.4 79Z" fill="url(#sc44)"/><path d="M599.6 110.6L602.2 111.5L601.5 98.4Z" fill="url(#sc28)"/><path d="M583.7 95.8l2.9 1.7 1.6-3.6-2.7-.9z" fill="#af0"/><path d="M615.1 91.4l3.1 1 1.2-1.9-3.1 1.7z" fill="#550"/><path d="M620.9 121.5l2.7 7.3 1.5-7.5-2.6-6.1z" fill="#f50"/><path d="M556.1 92.5l2.9 4.1 1.6-8.4-2.8-2.5z" fill="#af0"/><path d="M609.1 99.7l3-1.4 1.1-4.4-2.8 4.7z" fill="#550"/><path d="M554.4 117.6l3.4 8.1 1.5-9.4-3.2-6.4z" fill="#f70"/><path d="M550.7 87.6L551.5 89.2L550.8 68.9Z" fill="url(#sc60)"/><path d="M617.6 92.2l2.7 3.2 1.4-5-2.8-.1z" fill="#9f0"/><path class="msc" d="M642.7 104.5l2.6-1.3M584.1 95.7l1.5-2.4M585.6 93.3l2.3.8M615.5 91.4l1.1.6M616.6 92l2.5-1.4M557.8 125.3l1.2-8.8M556.2 110.2l2.8 6.3"/><path d="M654.8 119.7l2.3 6.6 1.5-8.5-2.3-6.5z" fill="#f70"/><path d="M551.1 88.8l2.8 1.3 1.9-4.4-2.6 1.5z" fill="#4b0"/><path d="M629.5 118.4l3-5.2 1-.1-3 5.7z" fill="#e50"/><path d="M659.7 122.7l3.2-4 .6-.3-3.3 5.4z" fill="#d30"/><path d="M559.5 121.6l2.1-6.1 2.2.3-2 8.1z" fill="#e40"/><path d="M587.1 124.7l2.8 3 1.7-3.8-2.9-7.3z" fill="#f50"/><path d="M569.2 107.5l2.5-4.2 1.9-.5-2.3 5z" fill="#d70"/><path d="M647.4 105L647.8 103.1L646.7 95.7Z" fill="url(#sc53)"/><path d="M553.6 89.9l2.8 2.7 1.7-6.8-2.6-.2z" fill="#7f0"/><path d="M551.5 89.2L554.3 88.6L550.8 68.9Z" fill="url(#sc70)"/><path class="msc" d="M619.1 90.6l2.4 0M657.1 125.9l1.2-7.9M630.7 118.4l2.6-5M561.8 123.5l1.8-7.4M571.3 107.5l2-4.4M553.9 89.7l1.6-3.8"/><path class="esc" d="M554.3 88.6l-3.5-19.7M650.2 102.4l-.6-14.5M586.8 114.6l.6-34.8M661.8 123.6l.7-31.5"/><path d="M589.7 127.7l2.5-6.1 1.7.3-3 1.9z" fill="#c20"/><path d="M619.8 111l2.7 4.9 1.5-6-2.7-4.7z" fill="#fc0"/><path d="M599.4 112.2l2.8-3.3 1.3-1.9-2.7 4.3z" fill="#c50"/><path d="M554.6 99.2l3 4.5 1.7-7.7-3-4.1z" fill="#df0"/><path d="M644.1 104.4l3.2-.5.8-2-3.2 1.3z" fill="#780"/><path d="M657.6 123.1L659.5 124.7L662.5 92.1Z" fill="url(#sc42)"/><path d="M587.2 104.1l2.9 5.3 1.6-6.7-2.8-3.5zM618.8 102l2.6 3.9 1.5-7.1-2.7-4.1z" fill="#ff0"/><path d="M575.2 100l2.8-2.5 1.6-1.6-2.6 2.9z" fill="#950"/><path d="M659.5 124.7L661.8 123.6L662.5 92.1Z" fill="url(#sc43)"/><path d="M635.7 109.7l3-3.3.9.1-3 3z" fill="#c60"/><path d="M644.5 104.6L647.4 105L646.7 95.7Z" fill="url(#sc52)"/><path class="msc" d="M621.4 105.5l2.3 4.5M556.4 92.3l2.6 3.9M644.4 104.3l.9-1.1M645.3 103.2l2.5-1.1M590 109l1.4-6.1M621.4 105.5l1.2-6.5M575.5 99.7l1.7-1.2M635.9 109.5l.9-.3"/><path class="esc" d="M610.7 94.6l2.1-22.7M644.5 104.6l2.2-8.9"/><path d="M553.2 126l2.7 1.2 2.2-1.7-3.3-8.2z" fill="#f50"/><path d="M605.5 105.3l2.8-1.2 1.3-4.9-2.9 2.6z" fill="#670"/><path d="M653.9 106.9l2.5 5.1 1.3-5.6-2.6-3.4z" fill="#fe0"/><path d="M544.9 93.8l2.6-.4 2-3.9-2.3 3.4z" fill="#460"/><path d="M649.8 104.3L650.2 102.4L649.6 87.9Z" fill="url(#sc35)"/><path d="M586.8 114.6L587.2 116.6L587.4 79.8Z" fill="url(#sc5)"/><path d="M653.7 127.4l2.9-.2.8-1.1-2.3-6.9z" fill="#f50"/><path d="M610.7 94.6L611.6 96.4L612.8 71.9Z" fill="url(#sc21)"/><path d="M611.6 98.3l2.7 0 1.3-7.2-2.7 2.8z" fill="#590"/><path d="M646.7 104l3 .1.9-2.8-3.1.6z" fill="#7a0"/><path class="msc" d="M605.7 105l1.3-3M607 102l2.4-2.5M655.1 103.3l2.3 3.2M547.2 92.5l2.1-2.8M655.1 119.6l2 6.3"/><path class="esc" d="M648.5 102.5l4.6-35"/><path class="rsc" d="M545.2 93.6l2-1.1"/><path d="M553.1 105.3l3.1 5.3 1.7-7.5-3-4.4z" fill="#ff0"/><path d="M625.9 122.4l3-4.9 1 .3-2.9 6.1z" fill="#e40"/><path d="M648.5 102.5L650.5 104.1L653.1 67.5Z" fill="url(#sc19)"/><path d="M577.5 98l.6-.3 2.1-2.1-.6.3z" fill="#570"/><path d="M646.9 103.9L649.8 104.3L649.6 87.9Z" fill="url(#sc36)"/><path d="M555.7 127.2l2-6.5 2.3.4-2.2 4.6z" fill="#d30"/><path d="M619.8 129.5l3.1-2.8.9 2-2.6-7.5z" fill="#f40"/><path d="M585.9 111.4l2.9 5.9 1.5-8.5-2.8-5.1z" fill="#fd0"/><path d="M616.4 99.5l2.7 2.6 1.4-7.3-2.6-3z" fill="#cf0"/><path d="M552.1 96.1l2.9 3.3 1.6-7.4-2.8-2.6z" fill="#af0"/><path class="msc" d="M647.8 102.1l2.5-.6M626.2 122.2l.9 1.3M555.9 126.9l1.9-1.6M621.3 121.5l2.2 7M588.7 117l1.3-8M587.5 104.1l2.5 4.9"/><path d="M650.5 104.1L652.7 102.9L653.1 67.5Z" fill="url(#sc27)"/><path d="M587.2 116.6L590.1 116.2L587.4 79.8Z" fill="url(#sc6)"/><path d="M553.8 92.1L555.2 90.4L550.5 60.2Z" fill="url(#sc68)"/><path d="M595.7 117.3l2.6-4.3 1.5-1.3-2.6 5.1z" fill="#d50"/><path d="M584.7 100.5l2.9 3.9 1.6-5-2.8-2.5z" fill="#df0"/><path d="M611.6 96.4L614.4 95.8L612.8 71.9Z" fill="url(#sc44)"/><path d="M565.3 111.4l2.4-4.2 2-.2-2.3 5.1z" fill="#d70"/><path d="M651.6 104.8l2.7 2.5 1.1-4.1-2.7-1.8z" fill="#ef0"/><path d="M547.3 93.4l1.2.3 1.9-5.2-1.1.9z" fill="#4b0"/><path d="M649.2 104l2.8 1 1-3.5-2.9-.3z" fill="#ae0"/><path class="msc" d="M553.9 89.7l2.5 2.6M595.9 117l1.4-.6M597.3 116.4l2.3-4.4M565.6 111.2l1.8.6M652.8 101.7l2.3 1.6M549.3 89.7l.9-.9"/><path d="M617.5 107.5l2.7 3.7 1.5-5.8-2.7-3.9z" fill="#ff0"/><path d="M618.6 116.3l2.7 5.6 1.5-6.5-2.7-4.9z" fill="#fa0"/><path d="M614 98.2l2.7 1.3 1.4-7.6-2.7-.8z" fill="#9f0"/><path d="M578 97.6l2.2-.1 1.8-2.4-2.2.4z" fill="#590"/><path d="M552.9 112.5L553.6 114.4L552.9 92.4Z" fill="url(#sc9)"/><path d="M656.3 127.2l3.3-5.3.5.2-3.2 4.1z" fill="#d30"/><path d="M586 133.5l2.4-7.4 1.8 1.2-2.8-3.2z" fill="#720"/><path d="M548.4 93.6l1.4.7 1.8-5.9-1.3.1z" fill="#6f0"/><path d="M549.6 94.1l2.8 2.1 1.7-6.7-2.7-1.2z" fill="#8f0"/><path d="M652.8 115.2l2.4 4.7 1.4-8.4-2.4-4.9z" fill="#fc0"/><path class="msc" d="M651.9 104.7l.9-3M650.3 101.5l2.5.2M620.2 110.9l1.2-5.4M619 101.8l2.4 3.7M614.2 97.9l1.3-6.5M656.5 126.9l.6-1M657.1 125.9l2.8-3.5M587.4 124.5l2.5 2.9M550.2 88.8l1.3-.1M552.4 95.9l1.5-6.2M551.5 88.7l2.4 1"/><path class="esc" d="M551.2 91.4l-.7-31.2"/><path d="M607.9 104.1l2.7-.4 1.4-5.9-2.7 1.3z" fill="#6b0"/><path d="M551.2 91.4L553.8 92.1L550.5 60.2Z" fill="url(#sc63)"/><path d="M584.5 118.4l3 6.4 1.6-7.9-3-6z" fill="#f90"/><path d="M601.7 109.4l3-1.6 1.2-3-2.9 2.5z" fill="#750"/><path d="M662.5 119.3l3.3-2.9.5-1.1-3.3 3.7z" fill="#c40"/><path d="M638.2 106.8l3.2-1.9.8.1-3.1 1.9z" fill="#b60"/><path d="M551.6 111.7l3.2 6.2 1.7-7.8-3.1-5.2z" fill="#fc0"/><path d="M571.4 103.9l2.6-3 1.7-1.4-2.4 3.9z" fill="#a60"/><path d="M582.2 98.2l2.9 2.6 1.7-3.7-2.8-1.7z" fill="#af0"/><path d="M579.8 97.3l2.8 1.2 1.8-2.9-2.8-.6z" fill="#7d0"/><path d="M553.6 114.4L556.5 113.7L552.9 92.4Z" fill="url(#sc54)"/><path class="msc" d="M609.4 99.5l2.4-1.4M587.4 124.5l1.3-7.5M553.4 105.2l2.8 5M573.3 103.1l2.2-3.4M582.5 98.1l1.6-2.4"/><path class="esc" d="M556.5 113.7l-3.6-21.3"/><path class="rsc" d="M665.5 116.6l.6-1.1"/><path d="M651.5 122.3l2.5 5.2 1.4-8.1-2.4-4.8z" fill="#f80"/><path d="M632.1 113.8l3.1-4.3 1-.3-3.1 4.5z" fill="#d60"/><path d="M583.1 125.4l3.1 8.1 1.5-9.2-2.9-6.4z" fill="#f50"/><path d="M615.1 105.2l2.8 2.5 1.4-6.1-2.7-2.8z" fill="#ff0"/><path d="M550.4 101.5l3.1 4.1 1.7-6.8-2.9-3.2z" fill="#df0"/><path d="M610.3 103.6l2.7.4 1.4-6.4-2.7.1z" fill="#9f0"/><path d="M622.3 126.9l2.9-4.9 1.2-.1-2.9 6.9z" fill="#e30"/><path d="M591.9 122.2l2.6-4.7 1.6-.7-2.6 5.6z" fill="#d50"/><path d="M550.2 119l3.3 7.1 1.6-8.6-3.2-6.2z" fill="#f90"/><path d="M617.4 122.6l2.7 6.9 1.5-8.1-2.7-5.5z" fill="#f70"/><path d="M612.8 103.9l2.7 1.4 1.4-6.4-2.7-1.3z" fill="#cf0"/><path class="msc" d="M653 114.9l2.1 4.7M633.3 113.4l2.6-3.9M586.1 133.2l1.3-8.7M584.8 118.3l2.6 6.2M616.6 99.2l2.4 2.6M611.8 98.1l2.4-.2M623.5 128.5l2.7-6.3M619 116.3l2.3 5.2"/><path d="M585.2 133.2L586.6 131.4L584 115.7Z" fill="url(#sc46)"/><path d="M551.9 133l1.8-7.2 2.5 1-2.8-1.4z" fill="#620"/><path d="M561.4 116.1l2.3-4.4 2.1-.8-2.2 5.6z" fill="#d60"/><path d="M583.3 106.4l2.9 5.2 1.6-7.7-2.8-3.8z" fill="#ff0"/><path d="M640.8 105.2l3.2-.6.8-.4-3.2 1.1z" fill="#950"/><path d="M650.5 111.4l2.5 3.9 1.4-8.7-2.5-2.2z" fill="#ff0"/><path d="M616.3 112.6l2.7 4 1.5-5.9-2.7-3.7z" fill="#fe0"/><path d="M662.3 122.3L662.9 120.4L662.9 102Z" fill="url(#sc41)"/><path d="M604.1 107.8l2.9-.5 1.4-3.8-2.9 1.3z" fill="#790"/><path d="M582.6 132.3L585.2 133.2L584 115.7Z" fill="url(#sc45)"/><path class="msc" d="M613 103.7l1.2-5.8M614.2 97.9l2.4 1.3M553.5 125.8l2.4 1.1M563.6 116.1l2-4.9M585 100.5l2.5 3.6M619 116.3l1.2-5.4M604.4 107.6l1.3-2.6"/><path class="esc" d="M582.6 132.3l1.4-16.6"/><path d="M548.8 126.8l3.3 6.2 1.7-7.3-3.3-7.1zM650.4 128.9l2.6 4 1.3-5.8-2.5-5.4z" fill="#f50"/><path d="M547.9 98.7l2.9 3 1.8-6-2.8-2.1z" fill="#bf0"/><path d="M543.1 96.8l2.6.4 2-4.3-2.5.4z" fill="#5d0"/><path d="M652.8 132.9l3.3-6.7.6.5-3 .2z" fill="#c20"/><path d="M598 113.6l2.9-2.9 1.3-1.8-2.8 3.4z" fill="#c50"/><path d="M573.6 101.4l2.8-1.2 1.6-2.7-2.8 2.3z" fill="#560"/><path d="M546.6 97.7l1.6 1.2 1.9-5.3-1.5-.6z" fill="#9f0"/><path d="M659.4 121.7L662.3 122.3L662.9 102Z" fill="url(#sc40)"/><path d="M545.5 97.2l1.3.6 2-4.8-1.3-.2z" fill="#8f0"/><path d="M567.4 107.7l2.6-3 1.8-1.3-2.4 4.2z" fill="#b70"/><path class="msc" d="M550.5 118.9l3 6.9M550.8 101.3l1.6-5.4M599.6 112l2.4-2.8M573.8 101.2l1.7-1.5M575.5 99.7l2.3-2"/><path class="esc" d="M659.4 121.7l3.5-19.7M621.7 131.1l-1.4-26.6"/><path class="rsc" d="M543.4 96.6l1.8-3"/><path d="M648.2 108l2.6 3.5 1.3-7.1-2.7-.9z" fill="#ff0"/><path d="M644.5 103.9L644.6 105.8L647.6 80.9Z" fill="url(#sc34)"/><path d="M647.6 105.8L647.4 103.9L647.6 80.9Z" fill="url(#sc35)"/><path d="M643.3 104.7l3.1.6.9-1.6-3.2.5z" fill="#790"/><path d="M628.5 118.1l3.1-3.6 1-1.2-3 5.1z" fill="#d60"/><path d="M548.8 107l3.2 5 1.8-6.9-3.1-4.1z" fill="#ff0"/><path d="M649.4 118.2l2.5 4.2 1.4-7.7-2.6-3.9z" fill="#fc0"/><path d="M606.6 107.2l2.8.3 1.4-4.4-2.8.4z" fill="#8d0"/><path d="M588.1 126.7l2.5-4.9 1.7-.2-2.5 6.1z" fill="#e40"/><path d="M616.2 130.6l2.7 1.6 1.5-2.9-2.7-7.1z" fill="#f50"/><path d="M581.9 113.3l3 5.3 1.6-7.5-2.9-5.1z" fill="#fd0"/><path class="msc" d="M650.8 111.1l1.1-6.4M643.7 104.7l.7-.4M550.8 101.3l2.6 3.9M650.8 111.1l2.2 3.8M589.9 127.4l2.2-5.5"/><path class="esc" d="M551.3 123.2l-3.7-17.5"/><path d="M581.9 133.6l2.8-2.1 1.7 1.9-3-8.4z" fill="#f40"/><path d="M645.8 105.1l2.8 3.1 1.1-4.6-2.9-.1z" fill="#cf0"/><path d="M613.9 110l2.7 2.8 1.5-5.7-2.8-2.5z" fill="#ff0"/><path d="M659.2 122.5l3.3-3.9.5.2-3.3 3.9z" fill="#d50"/><path d="M620.2 132.8L621.7 131.1L620.3 104.5Z" fill="url(#sc43)"/><path d="M557.5 121.3l2.2-4.7 2.1-1-2.1 6.1z" fill="#d50"/><path d="M580.7 102.5l3 4.2 1.6-6.4-2.8-2.5z" fill="#df0"/><path d="M575.9 100.2l.6 0 2-3-.6.2z" fill="#590"/><path d="M609 107.4l2.8 1 1.4-5-2.7-.4z" fill="#bf0"/><path d="M617.6 131.8L620.2 132.8L620.3 104.5Z" fill="url(#sc42)"/><path d="M611.4 108.3l2.8 1.8 1.5-5.4-2.8-1.4z" fill="#ef0"/><path d="M634.8 110l3.1-2.9.9-.6-3.1 3.3z" fill="#c60"/><path d="M551.5 116.9L552.2 114.9L547.4 83.9Z" fill="url(#sc8)"/><path d="M618.7 132.1l2.9-5.8 1.2.1-3 3z" fill="#d30"/><path class="msc" d="M659.9 122.4l2.8-3.4M582.5 98.1l2.5 2.4M577.8 97.7l.5-.2M611.7 108.1l1.3-4.4M635 109.8l.9-.3M635.9 109.5l2.6-2.8"/><path d="M644.6 105.8L647.6 105.8L647.6 80.9Z" fill="url(#sc36)"/><path d="M615 118.1l2.7 4.8 1.6-6.8-2.8-4z" fill="#fb0"/><path d="M550.6 125.2L551.3 123.2L547.6 105.7Z" fill="url(#sc41)"/><path d="M576.4 100.1l2.2.4 1.8-3.6-2.1.2z" fill="#6c0"/><path d="M578.2 100.3l2.9 2.5 1.7-4.9-2.8-1.1z" fill="#af0"/><path d="M547.7 135.5l2.1-4.5 2.5 1.8-3.2-6.4z" fill="#d40"/><path d="M580.5 119.9l3 5.8 1.6-7.6-2.9-5.3z" fill="#fa0"/><path d="M547.3 113.5l3.3 5.8 1.7-7.8-3.2-5z" fill="#fe0"/><path d="M648.2 123.8l2.5 5.3 1.4-7.2-2.5-4.3z" fill="#f80"/><path d="M546.2 103.3l3 3.9 1.9-6.1-3-2.9z" fill="#cf0"/><path d="M594.2 118.1l2.8-3.6 1.4-1.4-2.6 4.3z" fill="#d60"/><path class="msc" d="M617.7 122.6l1.3-6.3M616.6 112.4l2.4 3.9M578.3 97.5l1.8-.3M581.1 102.4l1.4-4.3M580.1 97.2l2.4.9M582.2 113.2l2.6 5.1M549.2 106.9l1.6-5.6M548.2 98.5l2.6 2.8"/><path class="esc" d="M647.6 105.8l0-24.9M548.6 116.6l-1.2-32.7"/><path d="M600.4 111.2l3-1.3 1.3-2.6-3 1.7z" fill="#760"/><path d="M647.1 114.5l2.6 3.8 1.3-7.4-2.6-3.4z" fill="#ff0"/><path d="M548.6 116.6L551.5 116.9L547.4 83.9Z" fill="url(#sc59)"/><path d="M649.3 136.9l3.4-5.9.6 1.6-2.7-4.2z" fill="#820"/><path d="M584.2 131.5l2.5-5.3 1.8-.1-2.4 7.4z" fill="#e30"/><path d="M563.5 112.3l2.5-3.1 1.9-2-2.4 4.3z" fill="#c60"/><path d="M547.6 124.9L550.6 125.2L547.6 105.7Z" fill="url(#sc40)"/><path d="M553.5 126.4l2.2-5 2.2-.6-2 6.4z" fill="#e50"/><path d="M624.9 122.6l3-3.6 1.1-1.4-3 4.9z" fill="#d50"/><path d="M569.6 105.2l2.8-.8 1.7-3.5-2.8 3z" fill="#560"/><path class="msc" d="M594.4 117.9l1.5-.9M602 109.2l2.4-1.6M649.6 117.9l1.2-6.8M648.5 107.9l2.3 3.2M650.7 128.7l2.2 3.8M584.5 131.3l1.6 1.9M563.7 112l1.9-.8M565.6 111.2l2.1-3.7M553.7 126.1l2.2.8M555.9 126.9l1.8-5.8M625.1 122.3l1.1-.1M626.2 122.2l2.6-4.4"/><path d="M579.4 109.3l2.9 4.2 1.6-7.4-2.9-4z" fill="#ff0"/><path d="M579.1 126.8l3.1 6.9 1.6-8.5-3-5.7z" fill="#f70"/><path d="M545.9 120.8l3.3 6.3 1.6-8.3-3.2-5.7z" fill="#fa0"/><path d="M613.7 124.8l2.8 5.9 1.5-8.3-2.7-4.8z" fill="#f80"/><path d="M544.8 102l1.7 1.6 1.9-5.4-1.5-1.1z" fill="#af0"/><path d="M541.2 100l2.7 1.2 2.1-4.5-2.7-.4z" fill="#7f0"/><path d="M612.6 114.6l2.8 3.7 1.5-6.1-2.8-2.8z" fill="#ff0"/><path d="M637.3 107.5l3.2 0 .9-2.6-3.2 1.8z" fill="#680"/><path d="M543.7 101.1l1.3 1 2.1-4.9-1.4-.7z" fill="#9f0"/><path d="M631.2 115.1l3.1-2.3.9-3.3-3.1 4.3z" fill="#c60"/><path d="M655.7 126.8l3.4-5.2.5.3-3.3 5.3z" fill="#e50"/><path d="M647.1 129.4l2.4 7.6 1.5-8.4-2.5-5.3z" fill="#f50"/><path d="M644.8 111.3l2.6 3.3 1.3-7-2.6-2.8z" fill="#ff0"/><path class="msc" d="M547.7 113.4l2.8 5.5M616.4 130.4l1.3-7.8M546.8 97.5l1.4 1M543.4 96.6l2.3.3M614.2 109.8l2.4 2.6M638.5 106.7l2.6-1.6M545.7 96.9l1.1.6M655.9 126.5l.6.4M648.5 123.6l2.2 5.1"/><path class="esc" d="M646.3 119.7l4-28.3"/><path class="rsc" d="M541.5 99.8l1.9-3.2"/><path d="M602.8 109.9l2.9-.1 1.4-3-2.9.5z" fill="#7a0"/><path d="M662 119.1l3.3-2.9.5.2-3.3 2.9z" fill="#c50"/><path d="M544.4 128.2l3.4 7.4 1.7-9-3.3-6.3z" fill="#f60"/><path d="M615 138l2.9-7 1.3.7-2.9-1.7z" fill="#610"/><path d="M648.6 121.1L650.5 119.6L650.3 91.4Z" fill="url(#sc8)"/><path d="M646 119.5l2.6 4.5 1.3-6.2-2.6-3.9z" fill="#fc0"/><path d="M646.3 119.7L648.6 121.1L650.3 91.4Z" fill="url(#sc7)"/><path d="M571.9 104.3l2.8.6 1.7-5.2-2.7 1.2z" fill="#6c0"/><path d="M612.4 131.8l2.8 6.2 1.6-7.7-2.8-6z" fill="#f50"/><path d="M639.9 107.4l2.8 1.6 1.2-4.6-3 .4z" fill="#9e0"/><path class="msc" d="M646.1 105.1l2.4 2.8M603.1 109.7l1.3-2.1M604.4 107.6l2.4-.6M662.7 119l2.8-2.4M616.4 130.4l2.5 1.4M648.5 123.6l1.1-5.7M572.2 104.1l1.6-2.9M615.2 137.7l1.2-7.3M614 124.7l2.4 5.7"/><path class="rsc" d="M665.1 116.4l.4.2"/><path d="M610.1 112.1l2.9 2.7 1.4-5.2-2.7-1.8zM544.5 109.2l3.2 4.6 1.8-7.1-3.1-3.8z" fill="#ff0"/><path d="M549.5 131.5l2.1-5.3 2.3-.3-1.9 7.1z" fill="#e40"/><path d="M642.4 108.8l2.7 2.7 1.3-6.6-2.8-.6zM576.9 106.5l2.8 3 1.6-7.3-2.8-2.4z" fill="#df0"/><path d="M605.2 109.7l2.9 1 1.5-3.7-2.9-.3z" fill="#ae0"/><path d="M577.9 115.5l3 4.7 1.6-7.2-2.9-4.2z" fill="#fe0"/><path d="M590.3 122.3l2.7-3.8 1.7-.9-2.7 4.6z" fill="#d50"/><path d="M607.7 110.5l2.8 1.8 1.5-4.4-2.8-1z" fill="#df0"/><path d="M559.5 117.2l2.5-3.5 1.9-2-2.3 4.5z" fill="#c60"/><path class="msc" d="M641.1 105.1l2.6-.4M611.7 108.1l2.5 1.7M547.7 113.4l1.5-6.5M642.6 108.6l1.1-3.9M643.7 104.7l2.4.4M579.7 109.1l1.4-6.7M606.8 107l2.5.2M579.7 109.1l2.5 4.1M592.1 121.9l2.3-4M610.4 112l1.3-3.9M609.3 107.2l2.4.9"/><path d="M577.8 134.4l2.8 2.4 1.9-3.3-3.1-7.1z" fill="#f50"/><path d="M574.5 104.9l.6.3 1.7-5.6-.6 0z" fill="#8f0"/><path d="M575 105.1l2.1 1.5 1.6-6.7-2-.4z" fill="#af0"/><path d="M596.6 115.1l3-2.4 1.3-2-3 2.9z" fill="#b50"/><path d="M621.2 126.9l3-4.2 1.2-.6-3 4.9z" fill="#d50"/><path d="M565.7 109.8l2.6-1.1 1.8-4-2.7 2.7z" fill="#660"/><path d="M580.4 136.7l2.4-5.9 1.9.2-2.8 2.6z" fill="#d20"/><path d="M611.3 120.2l2.8 4.8 1.5-7.3-2.7-3.6z" fill="#fc0"/><path d="M543.1 136.2l2.7.6 2.3-1.4-3.4-7.7z" fill="#f40"/><path d="M652.2 131.5l3.3-5.9.6.6-3.3 6.7z" fill="#e40"/><path d="M543.2 107.4l1.7 2 1.8-6.5-1.6-1.5z" fill="#cf0"/><path class="msc" d="M579.4 126.8l2.7 6.6M567.7 107.5l2.2-2.5M582.1 133.4l2.4-2.1M544.7 128.1l3.1 7.1M652.9 132.5l3-6"/><path class="esc" d="M548.7 136.5l-5-27"/><path d="M627.5 119.5l3.2-2.4.9-2.6-3.1 3.5z" fill="#c50"/><path d="M543 115.8l3.2 5.2 1.8-7.8-3.2-4.5zM643.6 116.1l2.7 3.7 1.4-5.7-2.7-3.3z" fill="#ff0"/><path d="M633.8 113l2.9-.9 1.1-5.1-3 2.5z" fill="#670"/><path d="M576.5 121.8l3 5.3 1.6-7.4-2.9-4.7z" fill="#fb0"/><path d="M543.2 106.2L544 108L542.5 81.2Z" fill="url(#sc21)"/><path d="M546.8 138.3L548.7 136.5L543.7 109.5Z" fill="url(#sc43)"/><path d="M575.4 112.2l2.9 3.5 1.6-6.8-2.8-3z" fill="#ff0"/><path d="M542 106.1l1.4 1.4 1.9-6-1.4-1z" fill="#bf0"/><path d="M576.8 115.8L578.4 117.5L577.8 93.6Z" fill="url(#sc9)"/><path d="M646 136.8l3-.5.7.6-2.3-7.8z" fill="#f40"/><path class="msc" d="M628.8 117.8l2.6-3M546.2 120.6l1.5-7.2M544.9 109l2.8 4.4M634 112.8l1-3M578.2 115.4l1.5-6.3M577.1 106.2l2.6 2.9"/><path class="esc" d="M580.9 116.3l-3.1-22.7M579.5 137.4l-3.4-26.4M547 107.3l-4.5-26.1"/><path d="M544.4 137.1L546.8 138.3L543.7 109.5Z" fill="url(#sc42)"/><path d="M539.3 104.1l2.9 2.1 2-5.6-2.8-1.1z" fill="#af0"/><path d="M578.4 117.5L580.9 116.3L577.8 93.6Z" fill="url(#sc10)"/><path d="M652.9 133.6L654.2 131.8L654.2 106.8Z" fill="url(#sc43)"/><path d="M555.5 122l2.4-3.8 2-1.6-2.2 4.8z" fill="#d60"/><path d="M644.9 124.2l2.6 5.6 1.4-6.3-2.7-4.4z" fill="#fa0"/><path d="M568 108.6l2.7.2 1.7-5-2.6.9z" fill="#6c0"/><path d="M545.5 136.7l2-5.7 2.5 0-2.2 4.6z" fill="#d30"/><path d="M544 108L547 107.3L542.5 81.2Z" fill="url(#sc44)"/><path d="M586.5 126.8l2.6-4.2 1.7-.8-2.6 5z" fill="#d50"/><path class="msc" d="M557.7 121.1l2-4.2M647.4 129.4l1.1-5.8M646.3 119.4l2.2 4.2M569.9 105l2.3-.9M547.8 135.2l1.9-4"/><path class="esc" d="M650.2 132.5l4-25.7"/><path class="rsc" d="M539.6 103.9l1.9-4.1"/><path d="M611.3 139.8l3-3.8 1.1 1.9-2.7-6.6z" fill="#d40"/><path d="M599 113l2.9-.7 1.4-2.8-2.9 1.2z" fill="#780"/><path d="M650.2 132.5L652.9 133.6L654.2 106.8Z" fill="url(#sc42)"/><path d="M641.3 113.6l2.7 2.7 1.3-5.4-2.7-2.6z" fill="#ff0"/><path d="M541.5 122.8l3.3 5.6 1.7-7.9-3.2-5.2z" fill="#fb0"/><path d="M573.4 110.3l2.3 2 1.6-6.3-2.1-1.5z" fill="#df0"/><path d="M577.8 139.2L579.5 137.4L576.1 111Z" fill="url(#sc43)"/><path d="M608.8 116.4l2.9 4 1.5-6.1-2.8-2.7z" fill="#ff0"/><path d="M658.7 122.1l3.3-4.1.5.6-3.3 3.9z" fill="#d60"/><path d="M617.5 131.6l3-5 1.2-.2-2.9 5.8z" fill="#e40"/><path d="M610 126.4l2.8 5.6 1.6-7.5-2.8-4.8z" fill="#f90"/><path d="M570.4 108.6l2.8 1.4 1.7-5.7-2.8-.5z" fill="#af0"/><path d="M636.3 112l2.9.3 1.2-5.3-2.8 0z" fill="#9f0"/><path d="M561.6 114.3l2.8-1.7 1.7-3.3-2.6 2.8z" fill="#650"/><path d="M573 110l.6.4 1.7-5.9-.6-.3z" fill="#cf0"/><path class="msc" d="M544.7 128.1l1.5-7.5M575.2 104.8l1.9 1.4M618.9 131.8l2.6-5.1M611.6 120l2.4 4.7M570.6 108.4l1.6-4.3M572.2 104.1l2.4.5M561.9 114l1.8-2"/><path d="M602.1 112.9L603.5 111.1L601.2 79.4Z" fill="url(#sc27)"/><path d="M575 128.5l3.1 6.1 1.7-8-3-5.3z" fill="#f80"/><path d="M575.3 138L577.8 139.2L576.1 111Z" fill="url(#sc42)"/><path d="M592.7 119.1l2.9-2.8 1.4-1.7-2.7 3.6z" fill="#c60"/><path d="M541.6 113.8l1.7 2.2 1.8-7.3-1.7-1.9z" fill="#ff0"/><path d="M638.8 112.2l2.8 1.5 1.3-5.3-2.8-1.5z" fill="#df0"/><path d="M648.6 136.2l3.4-6.2.6 1-3.3 5.9z" fill="#e30"/><path d="M576.6 142.5l2.3-7 2 .8-2.9-2.4z" fill="#710"/><path d="M599.4 112L602.1 112.9L601.2 79.4Z" fill="url(#sc19)"/><path d="M630.1 117.4l3.1-1.4 1-3.5-3.1 2.2z" fill="#760"/><path class="msc" d="M574.6 104.6l.6.2M576.8 121.7l2.6 5.1M592.9 118.8l1.5-.9M594.4 117.9l2.4-3.1M543.4 107.1l1.5 1.9M641.6 113.4l1-4.8"/><path class="esc" d="M599.4 112l1.8-32.6"/><path d="M601.4 112.2l2.9.5 1.5-3.4-2.9.1z" fill="#8c0"/><path d="M606.3 113.9l2.9 2.7 1.5-4.8-2.8-1.8z" fill="#ff0"/><path d="M539.9 129.8l3.5 6.5 1.7-8.4-3.3-5.6z" fill="#f80"/><path d="M573.8 117.7l3 4.3 1.7-6.8-2.9-3.6z" fill="#ff0"/><path d="M623.8 123.2l3.1-3.1 1.1-1.1-3.1 3.6z" fill="#c50"/><path d="M540.4 112.1l1.4 1.7 1.8-7-1.4-1.3z" fill="#ef0"/><path d="M603.9 112.5l2.9 1.6 1.5-4-2.9-.9z" fill="#cf0"/><path d="M573.6 135.5l3.1 7 1.7-8.4-3.1-6.1z" fill="#f50"/><path d="M551.4 126.8l2.3-4 2.2-1.3-2.1 5z" fill="#d50"/><path d="M608.6 132.8l2.9 7.1 1.6-8.4-2.8-5.5z" fill="#f60"/><path class="msc" d="M631.4 114.8l2.6-2M601.7 112l1.4-2.3M609.1 116.3l1.3-4.3M543.3 135.9l1.4-7.8M541.8 122.6l2.9 5.5M576.8 121.7l1.4-6.3M624.1 123l1-.7M542.2 105.8l1.2 1.3M551.7 126.6l2-.5"/><path class="esc" d="M612 129.8l-1.6-8.7"/><path d="M643.8 129.8l2.5 7.1 1.5-7.6-2.6-5.4z" fill="#f70"/><path d="M642.6 120.3l2.7 4.3 1.3-5.3-2.7-3.7z" fill="#fd0"/><path d="M582.5 131.4l2.6-4.5 1.8-.7-2.5 5.4z" fill="#d40"/><path d="M537.6 109.3l3 2.9 1.9-6.6-2.9-2.1z" fill="#cf0"/><path d="M540.1 120.4l1.7 2.6 1.7-7.6-1.7-2.3z" fill="#fe0"/><path d="M563.9 112.6l2.7-.4 1.9-4.1-2.7 1.1z" fill="#690"/><path d="M608.9 129.6L608.7 131.8L610.4 121.1Z" fill="url(#sc47)"/><path d="M613.7 136.3l3-5.5 1.2.3-2.8 6.9z" fill="#e30"/><path d="M541.5 142.2l1.9-6.3 2.6.4-2.7-.7z" fill="#610"/><path d="M611.8 131.9L612 129.8L610.4 121.1Z" fill="url(#sc49)"/><path d="M538.4 137.3l3.3 5 2-6.4-3.5-6.5z" fill="#f50"/><path class="msc" d="M646.2 136.5l1.2-7.1M644 115.9l2.3 3.5M582.8 131.1l1.7.2M584.5 131.3l2.2-4.8M539.6 103.9l2.6 1.9M614 136.1l1.2 1.6"/><path class="esc" d="M568.9 110.1l-4.3-33.2"/><path class="rsc" d="M537.9 109.1l1.7-5.2"/><path d="M571.9 115.4l2.3 2.5 1.7-6.2-2.2-2z" fill="#ff0"/><path d="M557.6 118.8l2.7-2.2 1.8-2.9-2.5 3.5z" fill="#b50"/><path d="M607.5 122.1l2.9 4.6 1.5-6.8-2.8-4z" fill="#fd0"/><path d="M632.7 116.1l3-.5 1.1-4.1-3 1z" fill="#7a0"/><path d="M595.1 116.8l3-1.3 1.4-2.9-3 2.2z" fill="#660"/><path d="M567.5 112L568.9 110.1L564.6 76.9Z" fill="url(#sc27)"/><path d="M571.4 114.9l.7.6 1.7-5.7-.6-.5z" fill="#ef0"/><path d="M588.8 123.2l2.8-3.1 1.6-1.5-2.7 3.8z" fill="#c50"/><path d="M572.3 123.9l3.1 4.8 1.7-7.2-3-4.3z" fill="#fc0"/><path d="M655.2 126.2l3.4-5.1.5.5-3.3 5.2z" fill="#e60"/><path class="msc" d="M541.7 141.9l1.6-6M559.7 116.9l2.2-2.9M609.1 116.3l2.5 3.7M632.9 115.8l1.1-3M634 112.8l2.6-1M596.8 114.8l2.4-2M575.4 128.4l1.4-6.7M574.2 117.6l2.6 4.1"/><path d="M566.3 112.1l2.8.9 1.8-4.8-2.7-.2z" fill="#9f0"/><path d="M661.5 118.5l3.4-3 .5.8-3.3 2.8z" fill="#c70"/><path d="M640.2 117.6l2.8 3 1.3-4.8-2.8-2.8zM538.8 118.5l1.4 2 1.8-7.3-1.4-1.7z" fill="#ff0"/><path d="M568.7 112.8l2.9 2.1 1.8-5.5-2.8-1.3z" fill="#df0"/><path d="M608.7 131.8L611.8 131.9L610.4 121.1Z" fill="url(#sc48)"/><path d="M564.8 111.2L567.5 112L564.6 76.9Z" fill="url(#sc20)"/><path d="M538.5 127.3l1.8 2.8 1.7-7.8-1.7-2.5z" fill="#fb0"/><path d="M635.2 115.5l3 .6 1.1-4.4-2.9-.3z" fill="#af0"/><path d="M547.3 131.6l2.3-4.3 2.3-1-2.1 5.3z" fill="#d50"/><path class="msc" d="M655.4 125.9l.5.6M655.9 126.5l3-4.6M641.6 113.4l2.4 2.5M569 112.6l1.6-4.2M540.3 120.1l1.5 2.5M636.6 111.8l2.5.1"/><path class="esc" d="M540.4 133.1l-9.6-62.7"/><path class="rsc" d="M664.7 115.8l.4.6"/><path d="M642.6 137.3l2.6 4.5 1.4-5.2-2.5-7.1z" fill="#f50"/><path d="M626.4 120.6l3.2-2 1-1.7-3.2 2.5z" fill="#b50"/><path d="M637.7 116l2.9 1.8 1.2-4.6-2.8-1.6z" fill="#ef0"/><path d="M645 141.7l3.4-7.2.7 1.3-3.1.5z" fill="#c20"/><path d="M607.4 140.4l2.8 1.1 1.6-1.8-2.8-7.3z" fill="#f40"/><path d="M620.1 127.2l3-3.9 1.2-.6-3 4.3z" fill="#d60"/><path d="M572.3 143.6l2.8-2.6 1.9 1.4-3.1-7.3z" fill="#f40"/><path d="M605 118.8l2.9 3.5 1.5-6.2-2.8-2.7z" fill="#ff0"/><path d="M578.6 136.1l2.5-4.9 1.9-.3-2.4 5.9z" fill="#e40"/><path d="M535.9 115l3.1 3.6 1.8-7-2.9-2.9z" fill="#ff0"/><path class="msc" d="M549.7 131.2l2-4.6M644.1 129.9l2.1 6.6M640.5 117.4l1.1-4M639.1 111.9l2.5 1.5M645.2 141.4l1-4.9M646.2 136.5l2.6-.5M609 132.7l2.4 6.8M621.5 126.7l2.6-3.7M573.9 135.4l2.8 6.8M607.8 122l1.3-5.7M606.7 113.8l2.4 2.5"/><path d="M597.5 115.5l2.9 0 1.5-3.7-2.8.7z" fill="#7a0"/><path d="M641.5 125l2.7 5.2 1.4-6.1-2.7-4.2z" fill="#fc0"/><path d="M606.2 127.8l2.8 5.3 1.6-6.9-2.8-4.5z" fill="#fa0"/><path d="M559.8 116.8l2.7-.7 1.9-4-2.6 1.6z" fill="#680"/><path d="M570.8 130.2l3.2 5.6 1.7-7.6-3.1-4.8z" fill="#f90"/><path d="M553.5 123.4l2.6-2.8 1.9-2.3-2.3 3.8z" fill="#c50"/><path d="M537.2 125.1l1.5 2.2 1.7-7.5-1.4-1.9z" fill="#fd0"/><path d="M570.4 121.1l2.3 3 1.7-6.8-2.3-2.5z" fill="#ff0"/><path d="M536.9 134.3l1.9 3.2 1.7-8-1.8-2.9z" fill="#f80"/><path d="M610 141.5l2.8-6.3 1.4.6-2.9 4z" fill="#d30"/><path class="msc" d="M599.2 112.8l2.5-.8M560.1 116.6l1.8-2.6M561.9 114l2.3-1.7M573.9 135.4l1.5-7M538.9 118.2l1.4 1.9M572.1 115.2l2.1 2.4"/><path class="esc" d="M561.2 114l1.4-11.1"/><path class="rsc" d="M536.2 114.8l1.7-5.7"/><path d="M539.9 135.7L540.4 133.1L530.8 70.4Z" fill="url(#sc4)"/><path d="M602.5 116.5l2.9 2.5 1.5-5.4-2.8-1.6z" fill="#ef0"/><path d="M600 115.3l2.9 1.4 1.5-4.6-2.8-.4z" fill="#bf0"/><path d="M537.2 145.7l2-4.9 2.8 1.2-3.3-5.2z" fill="#a30"/><path d="M561.2 114L563 115.5L562.6 102.9Z" fill="url(#sc58)"/><path d="M651.6 130.6l3.4-4.9.6-.1-3.3 6z" fill="#e60"/><path d="M563 115.5L565.5 114.2L562.6 102.9Z" fill="url(#sc53)"/><path d="M569.9 120.5l.7.7 1.7-6.4-.7-.6z" fill="#ff0"/><path d="M584.8 127.5l2.8-3.4 1.7-1.4-2.7 4.1z" fill="#c50"/><path d="M591.2 120.7l3-1.6 1.4-2.8-3 2.6z" fill="#750"/><path class="msc" d="M611.4 139.5l2.6-3.4M604.2 112.3l2.5 1.5M600.3 115.2l1.4-3.2M601.7 112l2.5.3M538.8 137.1l2.9 4.8M571.6 114.6l.5.6M586.7 126.5l2.3-3.6"/><path class="esc" d="M535.9 125.5l.5-14.4"/><path d="M629 118.9l3.2-.8 1-2.5-3.2 1.4z" fill="#770"/><path d="M543.1 136.5l2.2-4.6 2.5-.8-2.1 5.7z" fill="#d40"/><path d="M538.1 126.7L540.3 125L536.4 111.1Z" fill="url(#sc29)"/><path d="M535.4 141.7l2 4 1.6-8.9-1.9-3.1z" fill="#f50"/><path d="M562.2 116l2.7.4 1.9-4.8-2.7.4z" fill="#8d0"/><path d="M567.1 117.8l3 2.7 1.7-6.2-2.8-2z" fill="#ff0"/><path d="M535.9 125.5L538.1 126.7L536.4 111.1Z" fill="url(#sc28)"/><path d="M569.3 136.9l3.3 6.7 1.6-8.3-3.1-5.5z" fill="#f60"/><path d="M534.2 121.1l3.2 4.1 1.8-7.2-3-3.5z" fill="#ff0"/><path d="M574.6 141l2.4-5.4 2 0-2.3 6.9z" fill="#e30"/><path class="msc" d="M591.4 120.4l1.5-1.6M537.1 134l1.7 3.1M564.2 112.3l2.3-.4M569 112.6l2.6 2M572.5 143.3l1.4-7.9M571.2 130.1l2.7 5.3M536.2 114.8l2.7 3.4"/><path class="rsc" d="M534.5 120.9l1.7-6.1"/><path d="M535.5 131.9l1.6 2.5 1.8-7.7-1.5-2.2z" fill="#fa0"/><path d="M536.2 135.6L539.9 135.7L530.8 70.4Z" fill="url(#sc3)"/><path d="M564.6 116.3l2.9 1.6 1.8-5.5-2.8-.9z" fill="#cf0"/><path d="M604.8 134.1l2.9 6.4 1.6-7.9-2.8-5.2z" fill="#f80"/><path d="M639.1 121.6l2.8 3.7 1.3-5.2-2.7-3z" fill="#ff0"/><path d="M641.4 146.9l3.4-7.5.7 2-2.7-4.6z" fill="#720"/><path d="M537.1 120.6L539.2 118.4L531 71.8Z" fill="url(#sc2)"/><path d="M616.3 131.4l3-4.5 1.3-.2-3 5z" fill="#d50"/><path d="M658.1 121.7l3.4-3.5.6-.1-3.4 4.1z" fill="#d70"/><path d="M603.6 123.9l2.9 4.2 1.6-6.3-2.8-3.5z" fill="#fe0"/><path class="msc" d="M576.7 142.2l2.1-6.4M567.4 117.6l1.6-5M566.5 111.9l2.5.7M606.5 127.7l2.5 5M658.9 121.9l2.9-3.6"/><path class="esc" d="M534.1 119.5l-3.1-47.7"/><path d="M640.3 131l2.6 6.5 1.5-7.8-2.6-5z" fill="#f90"/><path d="M568.8 127l2.4 3.5 1.7-7-2.3-3z" fill="#fd0"/><path d="M631.6 118.1l3 .3 1.2-3.3-3.1.4z" fill="#7a0"/><path d="M622.7 123.8l3.1-2.8 1.1-.9-3.1 3.2z" fill="#c60"/><path d="M549.3 127.9l2.5-3.2 2.1-1.8-2.3 4z" fill="#c50"/><path d="M555.7 121.1l2.7-1.1 1.9-3.7-2.6 2z" fill="#770"/><path d="M534.1 119.5L537.1 120.6L531 71.8Z" fill="url(#sc1)"/><path d="M593.6 119.2l2.9-.4 1.6-3.8-2.9 1.3z" fill="#790"/><path d="M636.7 119.4l2.8 2.4 1.3-4.6-2.9-1.7z" fill="#ef0"/><path d="M634.1 118.2l3 1.4 1.2-4-2.9-.6z" fill="#bf0"/><path class="msc" d="M606.5 127.7l1.3-5.7M641.8 125l2.3 4.9M631.9 117.9l1-2.1M623 123.6l1.1-.6M624.1 123l2.6-2.6M549.6 127.7l2.1-1.1M551.7 126.6l2-3.5M639.5 121.5l1-4.1"/><path d="M606.2 147.2l2.8-7.3 1.5 1.1-2.9-1.2z" fill="#610"/><path d="M534 138.9l1.6 2.9 1.7-8.1-1.6-2.4z" fill="#f70"/><path d="M539 141.4l2.1-5 2.5-.5-1.9 6.4z" fill="#e30"/><path d="M568.3 126.3l.7.9 1.8-6.6-.7-.8z" fill="#ff0"/><path d="M534.2 150.7l.5-4.3 3-1.1-2.1-4.2z" fill="#920"/><path d="M648 135.1l3.4-5.4.7.3-3.4 6.3z" fill="#e50"/><path d="M639.1 138.1l2.5 8.8 1.6-9.9-2.5-6.4z" fill="#f60"/><path d="M603.5 141.2l2.9 6 1.6-7.1-2.9-6.4z" fill="#f50"/><path d="M532.5 127.3l3.3 4.7 1.8-7.3-3.1-4.1z" fill="#fd0"/><path d="M640.6 143.8L641 146L644.2 114.3Z" fill="url(#sc42)"/><path d="M580.8 131.8l2.7-3.8 1.8-1-2.6 4.5z" fill="#d50"/><path d="M601.1 121.1l2.9 3.1 1.6-5.7-2.8-2.5z" fill="#ff0"/><path class="msc" d="M535.7 131.6l1.4 2.4M539.2 141.1l2.5.8M541.7 141.9l1.7-5.7M648.8 136l3-5.7M581.1 131.6l1.7-.5"/><path class="esc" d="M567.3 125.1l1.4-11.4"/><path class="rsc" d="M534.2 150.4l.8-4.2M532.8 127.2l1.7-6.3"/><path d="M568 144.4l2.8 1.8 2.1-2.8-3.2-6.9z" fill="#f40"/><path d="M587.2 124.6l3-2.1 1.5-2.3-2.9 3z" fill="#b50"/><path d="M596.1 118.7l2.9.8 1.6-4.6-2.9.1z" fill="#9e0"/><path d="M565.5 122.9l3 3.4 1.8-6.4-2.9-2.7z" fill="#ff0"/><path d="M532.4 146.5l1.9 4.2 1.5-9.6-1.7-2.8z" fill="#f30"/><path d="M598.6 119.4l2.9 1.9 1.6-5.2-2.9-1.3z" fill="#df0"/><path d="M567.3 125.1L569.2 126.6L568.7 113.7Z" fill="url(#sc28)"/><path d="M558 119.9l2.7 0 2-4.4-2.7.7z" fill="#7b0"/><path d="M569.2 126.6L571.6 125.2L568.7 113.7Z" fill="url(#sc29)"/><path d="M567.3 133.2l2.4 4 1.7-7.3-2.3-3.4z" fill="#fa0"/><path d="M599.8 119.1L600.9 121L601.6 93.9Z" fill="url(#sc34)"/><path d="M602.3 129.5l2.9 4.9 1.6-6.8-2.9-4.1z" fill="#fc0"/><path class="msc" d="M589 122.9l2.4-2.5M598.9 119.2l1.4-4M558.2 119.6l1.9-3M569.1 126.8l2.1 3.3"/><path class="rsc" d="M532.6 146.2l1.6 4.2"/><path d="M570.6 146.1l2.4-5.9 2.1.3-2.7 3.1z" fill="#d20"/><path d="M612.5 135.8l3-4.9 1.3-.1-2.9 5.6z" fill="#e50"/><path d="M625.3 121.5l3.3-1.5 1-1.5-3.3 2z" fill="#a50"/><path d="M641 146L644.1 145.9L644.2 114.3Z" fill="url(#sc51)"/><path d="M638 126.4l2.7 4.9 1.4-6.5-2.7-3.7z" fill="#fd0"/><path d="M661 118.6l3.4-1.6.5-1.4-3.3 2.9z" fill="#a60"/><path d="M654.6 126.2l3.4-3.8.6-1.2-3.4 5z" fill="#d70"/><path d="M545.1 132.5l2.4-3.6 2.3-1.5-2.2 4.3z" fill="#d50"/><path d="M562.9 120.8l3 2.3 1.8-5.8-2.9-1.6z" fill="#ef0"/><path d="M560.4 119.8l2.9 1.2 1.8-5.2-2.7-.4z" fill="#bf0"/><path class="msc" d="M605.2 134l1.3-6.3M604 123.8l2.5 3.9M570.8 145.8l1.7-2.5M612.7 135.5l1.3.6M614 136.1l2.6-5M626.7 120.4l2.6-1.7M639.5 121.5l2.3 3.5M661.8 118.3l2.9-2.5M654.8 126l.6-.1M565.8 122.8l1.6-5.2"/><path class="esc" d="M644.1 145.9l.1-31.6M603.8 120.2l-2.2-26.3"/><path class="rsc" d="M664.1 117.1l.6-1.3"/><path d="M551.5 125.3l2.7-1.5 2-3.2-2.6 2.5z" fill="#750"/><path d="M530.8 133.8l3.4 5.2 1.9-7.5-3.3-4.7z" fill="#fa0"/><path d="M600.9 121L603.8 120.2L601.6 93.9Z" fill="url(#sc36)"/><path d="M566.8 132.3l.7 1 1.7-6.8-.7-.9z" fill="#fc0"/><path d="M618.9 127.5l3.1-3.4 1.2-.8-3 4z" fill="#d60"/><path d="M644.3 140l3.4-6.3.7.9-3.3 7.1z" fill="#e50"/><path d="M534.8 146.5l1.9-5.5 2.7-.1-2 4.8z" fill="#d30"/><path d="M637.9 146.7l3.2-1.4.6 1.5-2.3-9.1z" fill="#f40"/><path d="M589.6 122.7l3-.7 1.5-3.3-2.9 1.5z" fill="#770"/><path d="M565.7 139.7l2.6 4.8 1.7-7.9-2.5-4z" fill="#f70"/><path d="M576.8 136.2l2.6-4.2 1.9-.7-2.5 4.9z" fill="#d50"/><path class="msc" d="M553.7 123.1l2.2-2.3M532.8 127.2l2.9 4.4M568.5 125.9l.6.9M644.6 139.7l.6 1.7M639.4 138.1l2.1 8.4M589.9 122.5l1.5-2.1M591.4 120.4l2.5-1.5"/><path class="rsc" d="M531.1 133.7l1.7-6.5M535 146.2l1.8-4.8"/><path d="M627.9 120.2l3.2-.1 1.1-2.4-3.2.8z" fill="#790"/><path d="M602.3 149.8l2.9-4.9 1.4 2.2-2.8-6.4z" fill="#c40"/><path d="M599.7 125.9l3 3.8 1.6-6.1-2.9-3zM635.6 123.1l2.8 3.6 1.4-5.4-2.9-2.4z" fill="#ff0"/><path d="M563.9 128.3l3.1 4 1.8-6.5-3-3.4z" fill="#fe0"/><path d="M583.2 128.6l2.9-2.8 1.6-1.7-2.8 3.5z" fill="#c50"/><path d="M600.9 135.5l2.9 5.9 1.7-7.5-2.9-4.9z" fill="#f90"/><path d="M529.1 140.4l3.5 6.1 1.9-8-3.4-5.2z" fill="#f70"/><path d="M608.6 140.5l3-5.5 1.4.3-2.9 6.2z" fill="#e50"/><path d="M553.7 123.7l2.8-.3 2-4-2.7 1.1z" fill="#790"/><path class="msc" d="M578.8 135.8l2.3-4.2M629.3 118.7l2.6-.8M603.8 141.1l2.5 5.8M601.4 121l2.6 2.8M638.3 126.3l1.2-4.8M637 119.2l2.5 2.3M565.8 122.8l2.7 3.1M603.8 141.1l1.4-7.1"/><path class="esc" d="M599.8 128.2l2.1-10"/><path class="rsc" d="M529.4 140.3l1.7-6.6M529.4 140.3l3.2 5.9"/><path d="M630.5 120l3 1.2 1.3-3.3-3.1-.3z" fill="#9d0"/><path d="M636.8 132.3l2.7 6.1 1.5-7.6-2.7-4.8z" fill="#fb0"/><path d="M633.1 121l2.9 2.3 1.3-4.3-3-1.3z" fill="#df0"/><path d="M592.1 121.9l2.9.4 1.6-4-2.8.3z" fill="#7c0"/><path d="M540.8 137l2.3-3.8 2.5-1.2-2.2 4.6z" fill="#d50"/><path d="M566.6 151.9l2.2-7.1 2.3.9-2.9-1.9z" fill="#610"/><path d="M597.2 123.5l2.9 2.6 1.6-5.3-2.9-1.9z" fill="#ff0"/><path d="M564.2 147l2.6 4.9 1.7-7.9-2.5-4.8z" fill="#f40"/><path d="M565.2 138.7l.8 1.2 1.7-7.2-.7-1.1z" fill="#f90"/><path d="M651 130.2l3.4-4.3.6-.2-3.3 4.9z" fill="#d70"/><path class="msc" d="M555.9 120.8l2.3-1.2M630.8 119.9l1.1-2M631.9 117.9l2.6.2M634.5 118.1l2.5 1.1M593.9 118.9l2.5-.4M543.4 136.2l2-4M568.2 144.2l2.6 1.6M598.9 119.2l2.5 1.8M566 139.5l2.2 4.7"/><path d="M594.6 122.1l2.9 1.6 1.7-4.7-2.9-.8z" fill="#cf0"/><path d="M640.6 145.3l3.4-7 .8 1.1-3.4 7.5z" fill="#e40"/><path d="M602.1 129.7L604.2 128.1L601.9 118.2Z" fill="url(#sc29)"/><path d="M547.2 129.5l2.6-2.1 2.2-2.6-2.5 3.2z" fill="#b50"/><path d="M599.8 128.2L602.1 129.7L601.9 118.2Z" fill="url(#sc28)"/><path d="M561.2 125.6l3 2.9 1.9-5.9-2.9-2.3z" fill="#ff0"/><path d="M657.5 123l3.4-2.5.6-2.3-3.4 3.4z" fill="#a60"/><path d="M556.1 123.3l2.9.7 1.9-4.7-2.7 0z" fill="#ae0"/><path d="M599.5 142.2l3 7.7 1.6-9-2.9-5.9z" fill="#f60"/><path d="M572.5 139.1L573.3 141.2L572.7 109.7Z" fill="url(#sc5)"/><path class="msc" d="M651.8 130.3l3-4.3M597.5 123.3l1.4-4.1M596.4 118.5l2.5.7M641.5 146.5l3.1-6.8M547.5 129.3l2.1-1.6M564.2 128.2l1.6-5.4M563.2 120.6l2.6 2.2M556.4 123.1l1.8-3.5M558.2 119.6l2.5 0M602.4 149.5l1.4-8.4M601.2 135.4l2.6 5.7"/><path d="M621.6 124.6l3.2-2.1 1.1-1.5-3.2 2.8z" fill="#b50"/><path d="M558.6 123.9l3 1.8 1.9-5.3-2.9-1.2z" fill="#ef0"/><path d="M615.1 131.5l3.1-3.9 1.2-.6-3 4.4z" fill="#d60"/><path d="M572.7 140.7l2.5-4.6 2-.4-2.4 5.4z" fill="#d50"/><path d="M635.6 139l2.6 7.8 1.6-8.9-2.7-6z" fill="#f80"/><path d="M562.2 134l3.2 4.7 1.8-6.9-3.1-4z" fill="#fc0"/><path d="M573.3 141.2L576.4 140.4L572.7 109.7Z" fill="url(#sc6)"/><path d="M585.6 126.3l3-1.2 1.5-2.8-3 2z" fill="#760"/><path d="M598.3 131.1l3 4.6 1.6-6.5-2.9-3.8z" fill="#fd0"/><path d="M590.7 124.6L592.4 122.8L589.7 103.5Z" fill="url(#sc35)"/><path d="M604.7 145.4l2.9-6 1.5.5-2.8 7.3z" fill="#e40"/><path class="msc" d="M621.8 124.4l1.2-.8M560.7 119.6l2.5 1M616.6 131.1l2.6-3.8M637.1 132.2l2.3 5.9"/><path class="esc" d="M576.4 140.4l-3.7-30.7M588.1 123.5l1.6-20"/><path d="M563.7 145.7l.8 1.4 1.6-7.9-.7-1.2z" fill="#f70"/><path d="M579.1 132.6l2.8-3.2 1.8-1.3-2.7 3.8z" fill="#c60"/><path d="M588.1 123.5L590.7 124.6L589.7 103.5Z" fill="url(#sc34)"/><path d="M634.4 127.9l2.8 4.7 1.4-6.5-2.8-3.5z" fill="#ff0"/><path d="M536.5 141.6l2.2-4.2 2.6-.9-2.1 5z" fill="#d40"/><path d="M549.4 127.6l2.8-.7 2.1-3.6-2.7 1.4z" fill="#770"/><path d="M563.1 156.5l1.5-6.7 2.5 1.9-2.6-5.3z" fill="#720"/><path d="M562.3 153.8l.9 2.8 1.4-10.1-.7-1.5z" fill="#f30"/><path d="M624.2 122.8l3.2-.5 1.1-2.5-3.2 1.4z" fill="#670"/><path d="M660.3 120.8l3.3-.9.7-3.1-3.3 1.5z" fill="#570"/><path class="msc" d="M606.3 146.9l2.6-6.7M565.4 138.4l.6 1.1M579.3 132.4l1.8-.8M581.1 131.6l2.3-3.2M637.1 132.2l1.2-5.9M536.8 141.4l2.4-.3"/><path class="esc" d="M545.8 132.8l-4.8-25"/><path class="rsc" d="M536.8 141.4l2-3.6M563.2 156.2l1.4-6.1M562.4 153.5l.8 2.7"/><path d="M634.3 147.1l2.8 4.1 1.4-4.7-2.6-7.9z" fill="#f50"/><path d="M647.3 134.3l3.4-5 .7.4-3.3 5.5z" fill="#e70"/><path d="M544.7 135L545.8 132.8L541 107.8Z" fill="url(#sc10)"/><path d="M598.2 150.2l2.9.6 1.6-1.1-2.9-7.9z" fill="#f50"/><path d="M542.9 133.8l2.5-2.9 2.3-1.9-2.3 3.6z" fill="#c50"/><path d="M623 122L624.7 123.8L625.7 105.7Z" fill="url(#sc34)"/><path d="M588 125.1l3-.1 1.6-3.5-2.9.7z" fill="#7a0"/><path d="M559.5 130.6l3.1 3.6 1.9-6.2-3-3zM595.7 127.9l3 3.5 1.6-5.8-2.9-2.6z" fill="#ff0"/><path d="M636.9 151.1l3.3-7.9.9 1.6-3.3 1.6z" fill="#d30"/><path class="msc" d="M545.4 132.2l2.1-2.9M588.3 124.9l1.6-2.4M562.6 133.8l1.6-5.6"/><path class="esc" d="M627.3 122.7l-1.6-17M552 124.9l-.9-34.6"/><path class="rsc" d="M663.4 119.7l.7-2.6"/><path d="M624.7 123.8L627.3 122.7L625.7 105.7Z" fill="url(#sc35)"/><path d="M653.9 126.5l3.4-3.1.7-1-3.4 3.9z" fill="#b70"/><path d="M631.9 124.7l2.9 3.4 1.4-5.3-2.9-2.3z" fill="#ef0"/><path d="M568.6 145.4l2.4-5.1 2.1-.1-2.3 6z" fill="#e40"/><path d="M560.6 140l3.3 5.7 1.8-7.5-3.2-4.7z" fill="#f90"/><path d="M551.8 126.7l2.8.4 2.1-4.3-2.7.4z" fill="#8c0"/><path d="M611.2 135.6l3-4.3 1.4-.3-3 4.9z" fill="#d60"/><path d="M626.8 122.2l3.1.8 1.2-3.3-3.1 0z" fill="#7b0"/><path d="M541.7 134.5L544.7 135L541 107.8Z" fill="url(#sc54)"/><path d="M590.6 124.9l2.9 1.1 1.7-4.3-2.9-.3z" fill="#af0"/><path d="M596.9 136.8l3 5.7 1.6-7.3-2.9-4.5z" fill="#fb0"/><path d="M593.1 125.8l3 2.3 1.7-5-3-1.5z" fill="#ef0"/><path class="msc" d="M654.2 126.2l.6-.2M654.8 126l2.9-3.3M568.8 145.2l2 .6M570.8 145.8l2.1-5.3M562.6 133.8l2.8 4.6M611.5 135.4l1.2.1M598.6 131l2.6 4.4"/><path d="M552 124.9L553.7 126.6L551.1 90.3Z" fill="url(#sc19)"/><path d="M617.7 128.2l3.2-2.7 1.2-1.3-3.1 3.3z" fill="#b60"/><path d="M629.4 122.8l3 2.1 1.3-4.2-3-1.2z" fill="#bf0"/><path d="M600.6 148.1L601.4 150.4L602.3 119.4Z" fill="url(#sc42)"/><path d="M556.8 128.2l3.1 2.6 1.9-5.6-2.9-1.9z" fill="#ff0"/><path d="M553.7 126.6L556.4 125.3L551.1 90.3Z" fill="url(#sc27)"/><path d="M554.3 126.9l2.9 1.5 2-4.9-2.8-.8z" fill="#cf0"/><path d="M600.8 150.8l2.8-6.8 1.6.9-2.8 5z" fill="#e30"/><path d="M633.2 133.5l2.7 5.8 1.6-7.2-2.8-4.7z" fill="#fc0"/><path d="M581.5 129.9l3-1.9 1.6-2.1-3 2.7z" fill="#b50"/><path class="msc" d="M596 127.8l1.5-4.5M619.2 127.3l2.6-2.9M629.7 122.7l1.1-2.8M554.6 126.7l1.8-3.6M601 150.5l1.4-1M635.9 139l1.2-6.8M634.7 127.8l2.4 4.4"/><path class="esc" d="M603.4 151.2l-2.5-26"/><path d="M574.9 136.7l2.7-3.7 2-.9-2.6 4.2z" fill="#d60"/><path d="M599 150.8L600.9 152.6L600.9 125.2Z" fill="url(#sc42)"/><path d="M601.4 150.4L604.4 149.8L602.3 119.4Z" fill="url(#sc51)"/><path d="M600.9 152.6L603.4 151.2L600.9 125.2Z" fill="url(#sc43)"/><path d="M559 146.7l3.4 7.2 1.8-8.7-3.3-5.6z" fill="#f60"/><path d="M545.1 131.5l2.7-1.2 2.2-3.1-2.6 1.9z" fill="#760"/><path d="M643.6 138.9l3.4-5.5.8.4-3.4 6.2z" fill="#e70"/><path d="M538.5 138l2.4-3.2 2.5-1.5-2.3 3.8z" fill="#c50"/><path d="M564.4 150.4l2.4-5.7 2.2.2-2.2 7z" fill="#e40"/><path d="M595.4 143.3l3.1 7 1.7-8.3-3-5.6z" fill="#f80"/><path class="msc" d="M583.4 128.4l2.4-2.3M545.3 131.3l2.2-2M547.5 129.3l2.2-1.9M643.9 138.7l.7 1M644.6 139.7l3-5.6"/><path class="esc" d="M604.4 149.8l-2.1-30.4M631.6 155.9l3-17.5"/><path class="rsc" d="M559.4 146.6l3 6.9M538.8 137.8l2.1-2.7M564.6 150.1l2.2-5"/><path d="M633.1 157.5l3.3-9 1 2.3-2.8-4.2z" fill="#720"/><path d="M557.8 135.9l3.2 4.4 1.9-6.6-3.1-3.6z" fill="#fd0"/><path d="M629.7 159L630.5 161.3L632.9 131.4Z" fill="url(#sc71)"/><path d="M656.8 123.8l3.5-1.7.5-1.8-3.4 2.5z" fill="#950"/><path d="M594.2 132.8l3 4.3 1.7-6.3-2.9-3.4z" fill="#fe0"/><path d="M634.1 157.4L636 155.6L634.6 138.4Z" fill="url(#sc57)"/><path d="M631.9 140l2.7 7.2 1.6-8.4-2.7-5.7z" fill="#fa0"/><path d="M620.4 125.9l3.2-1.1 1.1-2.4-3.2 2z" fill="#950"/><path d="M631.6 155.9L634.1 157.4L634.6 138.4Z" fill="url(#sc55)"/><path d="M583.9 128.2l3-.4 1.7-3.2-3 1.2z" fill="#780"/><path d="M607.3 140l2.9-4.9 1.5 0-2.9 5.4z" fill="#e60"/><path class="msc" d="M634.6 146.9l2.4 3.9M561 139.9l1.6-6.1M559.8 130.4l2.8 3.4M657.7 122.7l2.9-2.1M596 127.8l2.6 3.2M634.6 146.9l1.3-7.9M620.7 125.7l1.1-1.3M621.8 124.4l2.7-1.7M585.8 126.1l2.5-1.2"/><path d="M630.7 129.3l2.9 4.5 1.5-6.2-2.9-3.4z" fill="#ff0"/><path d="M650.3 129.9l3.4-3.8.7-.1-3.4 4.3z" fill="#c80"/><path d="M571.1 144.1L572.8 142.1L569.8 128.7Z" fill="url(#sc49)"/><path d="M630.5 161.3L633.6 160.8L632.9 131.4Z" fill="url(#sc72)"/><path d="M547.4 130.2l2.8-.1 2.1-3.8-2.6.8z" fill="#7a0"/><path d="M630.6 147.6l2.6 10 1.7-10.9-2.6-7.1z" fill="#f60"/><path d="M596.9 156.8l2.7-7.9 1.7 1.4-3-.6z" fill="#c20"/><path d="M613.8 131.8l3.2-3.2 1.2-.9-3 3.8z" fill="#c70"/><path d="M568.4 143L571.1 144.1L569.8 128.7Z" fill="url(#sc47)"/><path d="M555 132.8l3.2 3.3 1.9-5.9-3-2.5z" fill="#ff0"/><path class="msc" d="M608.9 140.2l2.6-4.8M632.3 124.6l2.4 3.2M549.7 127.4l2.4-.9M633.2 157.2l1.4-10.3M632.3 140l2.3 6.9M598.5 150l2.5.5"/><path class="esc" d="M633.6 160.8l-.7-29.4M568.4 143l1.4-14.3M596.2 154.1l1.8-28.7"/><path d="M594 150.9l3.1 5.9 1.7-6.8-3.1-7.1z" fill="#f50"/><path d="M591.6 129.9l3 3.1 1.7-5.4-2.9-2.3z" fill="#ff0"/><path d="M570.7 140.9l2.7-4.1 2-.6-2.5 4.6z" fill="#d60"/><path d="M586.4 127.7l3 .7 1.7-3.9-2.9 0z" fill="#8c0"/><path d="M577.3 133.6l2.9-2.6 1.8-1.5-2.8 3.2z" fill="#c60"/><path d="M659.6 122.3l3.3-.1.7-2.7-3.3.9z" fill="#590"/><path d="M623 124.8l3.1.4 1.3-3.4-3.1.6z" fill="#6a0"/><path d="M639.9 143.8l3.3-6 .9.6-3.4 6.9z" fill="#e60"/><path d="M549.8 130l3 1 2-4.5-2.8-.3z" fill="#bf0"/><path d="M598.5 155.6L600.7 153.9L598 125.4Z" fill="url(#sc43)"/><path class="msc" d="M557.2 128l2.6 2.4M595.8 143.3l2.7 6.7M594.6 132.7l1.4-4.9M593.4 125.7l2.6 2.1M572.9 140.5l2.3-4.1M586.7 127.5l1.6-2.6M588.3 124.9l2.6-.2M577.6 133.4l1.7-1M660.6 120.6l2.8-.9M624.5 122.7l2.6-.6M552.1 126.5l2.5.2"/><path class="rsc" d="M662.6 122l.8-2.3"/><path d="M589 128.2l3 1.9 1.7-4.6-2.9-1.1z" fill="#cf0"/><path d="M552.4 130.8l3 2.2 2-5.2-2.9-1.4z" fill="#ef0"/><path d="M628.2 126.5l2.9 3.1 1.5-5.2-3-2.1z" fill="#df0"/><path d="M596.2 154.1L598.5 155.6L598 125.4Z" fill="url(#sc42)"/><path d="M556.1 141.6l3.3 5.4 1.9-7.2-3.2-4.4z" fill="#fb0"/><path d="M625.6 125l3 1.7 1.4-4.2-3-.8z" fill="#af0"/><path d="M540.6 135.3l2.6-1.7 2.4-2.6-2.5 2.7z" fill="#b50"/><path d="M592.7 138.3l3.1 5.3 1.7-7-3-4.3z" fill="#fc0"/><path d="M603.3 144.6l2.9-5.4 1.5.2-2.8 6.1z" fill="#e60"/><path d="M629.5 134.8l2.8 5.5 1.6-7-2.9-4.4z" fill="#fe0"/><path d="M550.7 129.6L552.1 131.5L551.3 113.4Z" fill="url(#sc34)"/><path class="msc" d="M590.9 124.7l2.5 1M552.7 130.7l1.9-4M554.6 126.7l2.6 1.3M629.7 122.7l2.6 1.9M559.4 146.6l1.6-6.7M628.5 126.4l1.2-3.7M627.1 122.1l2.6.6"/><path class="esc" d="M550.7 129.6l.6-16.2M632.1 155.9l-1.3-18.5"/><path class="rsc" d="M556.4 141.5l3 5.1M540.9 135.1l2.3-1.6"/><path d="M629.4 157l3.3-2.3.6 2.8-2.4-10.2z" fill="#f40"/><path d="M653.2 126.6l3.5-2.3.6-.9-3.4 3.1z" fill="#960"/><path d="M646.6 134l3.4-4.3.8-.3-3.4 5z" fill="#d80"/><path d="M552.1 131.5L555 130.4L551.3 113.4Z" fill="url(#sc35)"/><path d="M616.5 129.1l3.3-1.7 1.1-1.9-3.2 2.6z" fill="#950"/><path d="M579.7 131.5l3.1-1 1.7-2.7-3.1 1.8z" fill="#660"/><path d="M636 149.1l3.4-6.6.9.8-3.4 7.9z" fill="#e50"/><path d="M631 158.2L632.1 155.9L630.8 137.4Z" fill="url(#sc46)"/><path d="M553.3 137.8l3.2 4.1 1.9-6.3-3.1-3.3z" fill="#fe0"/><path d="M542.9 133.7l2.8-.5 2.2-3.4-2.6 1.1z" fill="#780"/><path d="M592.8 160.4l2.8-6.2 1.8 2.4-3.1-6.1z" fill="#940"/><path d="M609.9 135.7l3.1-3.7 1.3-.7-3 4.4z" fill="#d70"/><path class="msc" d="M653.5 126.4l.7-.2M647.6 134.1l3-4.4M637 150.8l3.1-7.2M543.2 133.5l2.1-2.2"/><path class="rsc" d="M553.6 137.7l2.8 3.8M543.2 133.5l2.4-.6M593 160.1l2.4-5.6"/><path d="M566.5 145.3l2.6-4.6 2.1-.3-2.4 5.1z" fill="#d60"/><path d="M590.1 134.5l3 4 1.8-6-3-3.1z" fill="#ff0"/><path d="M628 157.3L631 158.2L630.8 137.4Z" fill="url(#sc73)"/><path d="M591.3 144.5l3.1 6.6 1.7-8-3-5.3z" fill="#fa0"/><path d="M573.1 137.4l2.8-3.1 1.9-1.2-2.7 3.7z" fill="#c60"/><path d="M650.1 127.7L652.1 129.6L654.4 101.9Z" fill="url(#sc34)"/><path d="M652.1 129.6L654.6 128.4L654.4 101.9Z" fill="url(#sc35)"/><path d="M627 130.9l2.9 4.2 1.5-6-2.9-3.1z" fill="#ef0"/><path d="M582.2 130.5l3 .3 1.8-3.5-2.9.4z" fill="#7a0"/><path d="M628.2 141.2l2.8 6.8 1.6-8.2-2.8-5.4z" fill="#fb0"/><path class="msc" d="M610.1 135.5l1.4-.1M611.5 135.4l2.6-3.8M566.8 145.1l2 .1M593.1 138.2l1.5-5.5M593.1 138.2l2.7 5.1M575.2 136.4l2.4-3"/><path class="esc" d="M654.6 128.4l-.2-26.5"/><path class="rsc" d="M566.8 145.1l2.2-4"/><path d="M550.5 135.1l3.1 2.9 2.1-5.5-3-2.2z" fill="#ff0"/><path d="M545.3 133l2.9.7 2.2-4.1-2.8.1z" fill="#8c0"/><path d="M599.3 149.5l2.8-5.9 1.6.4-2.7 6.8z" fill="#e50"/><path d="M619.1 127.6l3.2-.1 1.3-3.1-3.2 1.1z" fill="#680"/><path d="M656.1 124.6l3.4-.5.7-2.2-3.5 1.7z" fill="#750"/><path d="M587.4 131.9l3.1 2.8 1.7-5.1-3-1.9z" fill="#ef0"/><path d="M632.1 154.8l3.4-7.3.9 1-3.3 9z" fill="#e40"/><path d="M547.8 133.5l3.1 1.8 2.1-4.8-2.9-1z" fill="#df0"/><path d="M584.8 130.6l3 1.5 1.8-4.3-3-.7z" fill="#af0"/><path d="M589.8 151.8l3.2 8.6 1.7-9.8-3.1-6.4z" fill="#f60"/><path class="msc" d="M629.8 134.7l2.5 5.3M599.5 149.3l1.5 1.2M601 150.5l2.5-6.2M619.4 127.4l1.3-1.7M632.4 154.5l.8 2.7M550.8 134.9l1.9-4.2M585.1 130.4l1.6-2.9"/><path class="rsc" d="M550.8 134.9l2.8 2.8M545.6 132.9l2.6.4M548.2 133.3l2.6 1.6"/><path d="M583.4 131.9L584 129.7L581.5 116.9Z" fill="url(#sc53)"/><path d="M624.4 128.4l3 2.8 1.4-5-2.9-1.7z" fill="#cf0"/><path d="M621.8 127.3l3.1 1.3 1.3-3.9-3-.4z" fill="#8e0"/><path d="M642.9 138.3l3.4-4.7.8-.2-3.4 5.6z" fill="#e80"/><path d="M626.9 148.6l2.7 8.5 1.7-9.6-2.8-6.7z" fill="#f80"/><path d="M658.9 124.1l3.1 1.1.9-3.4-3.2.1z" fill="#6c0"/><path d="M649.6 130.2l3.4-2.8.8-1.2-3.5 3.7z" fill="#a70"/><path d="M580.2 131.6L583.4 131.9L581.5 116.9Z" fill="url(#sc52)"/><path d="M612.5 132.5l3.3-2.4 1.2-1.4-3.1 3.2z" fill="#a60"/><path d="M605.9 139.8l3-4.2 1.5-.4-3 4.8z" fill="#d70"/><path class="msc" d="M627.3 130.8l1.2-4.4M643.1 138.1l.8.6M650.6 129.7l2.9-3.3M614.1 131.6l2.7-2.7"/><path class="esc" d="M618.1 126.9l2.5-35.5M580.2 131.6l1.3-14.7"/><path class="rsc" d="M590.2 151.8l2.8 8.3M661.8 124.9l.8-2.9"/><path d="M575.5 134.8l3.1-1.5 1.7-2.2-3 2.5z" fill="#a50"/><path d="M588.5 139.8l3.2 5 1.7-6.8-3-4z" fill="#fe0"/><path d="M595.2 154.8l2.8-6.5 1.7.7-2.7 7.8z" fill="#e50"/><path d="M568.8 141.3l2.7-3.5 2.1-.9-2.6 4.1z" fill="#d70"/><path d="M618.1 126.9L618.3 129.2L620.6 91.4Z" fill="url(#sc30)"/><path d="M625.6 157.4l2.9 3.7 1.4-4.2-2.7-8.7z" fill="#f60"/><path d="M625.7 136.2l2.9 5.3 1.6-7-2.9-4z" fill="#ff0"/><path d="M628.3 161l3.2-8.1 1.1 1.4-3.3 2.6z" fill="#d30"/><path d="M577.9 133.4l3.1-.2 1.8-3.1-3 .9z" fill="#680"/><path d="M639 143.1l3.4-5.3.9 0-3.3 6.1z" fill="#e80"/><path d="M585.8 136.2l3.1 3.8 1.8-5.8-3-2.7z" fill="#ff0"/><path class="msc" d="M575.7 134.6l1.9-1.2M577.6 133.4l2.4-2.1M591.6 144.5l1.5-6.3M590.4 134.4l2.7 3.8M627.2 148.6l2.4 8.2M627.3 130.8l2.5 3.9M629.6 156.8l2.8-2.3M580 131.3l2.5-1M640.1 143.6l3-5.5"/><path class="esc" d="M584.6 132.9l1.4-13.4M644.5 138l.3-34.6"/><path class="rsc" d="M595.4 154.5l2.5-5.9M569 141.1l2.4-3"/><path d="M618.3 129.2L621.5 129.1L620.6 91.4Z" fill="url(#sc31)"/><path d="M615.2 130.5l3.2-.6 1.3-2.7-3.3 1.6z" fill="#570"/><path d="M652.5 127.8l3.4-1.1.7-2.5-3.4 2.3z" fill="#750"/><path d="M587 145.9l3.2 6.2 1.7-7.7-3.1-5.1z" fill="#fb0"/><path d="M584.6 132.9L585.2 135.2L586 119.5Z" fill="url(#sc58)"/><path d="M623.1 132.6l3 3.9 1.5-5.9-2.9-2.6z" fill="#df0"/><path d="M580.5 133.1l3 1.1 1.9-4-3-.2z" fill="#8d0"/><path d="M601.8 144.2l3-4.7 1.6-.2-2.9 5.4z" fill="#d70"/><path d="M583.1 134l3.1 2.5 1.8-4.9-3-1.5z" fill="#cf0"/><path d="M602.3 147.8L602.3 145.4L600.5 130.4Z" fill="url(#sc10)"/><path class="msc" d="M587.7 131.8l2.7 2.6M616.8 128.9l2.6-1.5M652.8 127.6l.7-1.2M653.5 126.4l2.9-1.9M590.2 151.8l1.4-7.3M626.1 136.1l1.2-5.3M624.7 128.3l2.6 2.5M582.5 130.3l2.6.1M603.5 144.3l2.6-4.7M583.5 133.9l1.6-3.5M585.1 130.4l2.6 1.4"/><path class="rsc" d="M587.4 145.8l2.8 6"/><path d="M599.1 145.5L599 147.8L600.5 130.4Z" fill="url(#sc9)"/><path d="M645.8 134.1l3.5-3.3.8-1.1-3.4 4.3z" fill="#a70"/><path d="M624.4 142.4l2.9 6.5 1.6-7.9-2.9-5.2z" fill="#fd0"/><path d="M643.8 140.2L644.5 138L644.8 103.4Z" fill="url(#sc27)"/><path d="M617.9 129.8l3.1.9 1.4-3.7-3.1.1z" fill="#6c0"/><path d="M608.5 136.1l3.2-2.9 1.4-1.2-3.1 3.8z" fill="#b70"/><path d="M620.5 130.5l3.1 2.4 1.4-4.8-3-1.3z" fill="#af0"/><path d="M571.1 138.3l3-2.3 1.9-1.6-2.8 3.1z" fill="#b60"/><path d="M585.2 135.2L588.4 134.7L586 119.5Z" fill="url(#sc52)"/><path d="M655.3 126.8l3.2.6.9-3.7-3.2.5z" fill="#5b0"/><path d="M624.3 168.5l3.3-9.9 1.2 2-3-3.7z" fill="#620"/><path d="M658 127.3l3 2.2 1.1-4.8-3-1.1z" fill="#8f0"/><path d="M640.6 139.6L643.8 140.2L644.8 103.4Z" fill="url(#sc20)"/><path d="M599 147.8L602.3 147.8L600.5 130.4Z" fill="url(#sc54)"/><path d="M635.2 148.1l3.3-5.7 1 .1-3.4 6.7z" fill="#e70"/><path class="msc" d="M618.2 129.7l1.2-2.3M619.4 127.4l2.7-.2M608.8 135.9l1.3-.4M622.1 127.2l2.6 1.1M656.4 124.5l2.8-.6M659.2 123.9l2.6 1"/><path class="esc" d="M599 147.8l1.5-17.4"/><path class="rsc" d="M571.4 138.1l2.5-1.9M624.4 168.2l3-9.3M660.9 129.2l.9-4.3"/><path d="M623.1 149.7l2.8 7.9 1.7-9.2-2.9-6.4z" fill="#fa0"/><path d="M584.2 141.3l3.2 4.9 1.8-6.7-3.1-3.7z" fill="#ff0"/><path d="M621.7 158.1l2.7 10.4 1.8-11.4-2.8-7.7z" fill="#f60"/><path d="M597.7 148.9l2.9-5.2 1.7 0-2.9 5.9z" fill="#e70"/><path d="M573.6 136.4l3-.6 1.9-2.8-3 1.4z" fill="#670"/><path d="M586.5 141.1L588.8 139.4L585.2 103.9Z" fill="url(#sc27)"/><path d="M611.2 133.7l3.3-1.2 1.3-2.4-3.3 2.3z" fill="#850"/><path d="M648.8 131.2l3.5-1.6.7-2.3-3.5 2.8z" fill="#750"/><path d="M584.2 139.5L586.5 141.1L585.2 103.9Z" fill="url(#sc19)"/><path d="M621.8 137.8l3 4.9 1.6-6.8-3-3.7z" fill="#ff0"/><path d="M642 138.4l3.5-3.9.8-.9-3.4 4.8z" fill="#b80"/><path class="msc" d="M624.8 142.4l2.4 6.2M597.9 148.6l1.6.7M573.9 136.2l1.8-1.6M624.8 142.4l1.3-6.3"/><path class="esc" d="M584.2 139.5l1-35.6M623.1 130.6l-1.4-28.7"/><path class="rsc" d="M584.6 141.2l2.8 4.6M622 158.1l2.4 10.1M597.9 148.6l2.7-4.6M573.9 136.2l2.6-.7"/><path d="M622 132.8L623.1 130.6L621.7 101.9Z" fill="url(#sc50)"/><path d="M631.2 153.5l3.3-6.2 1.1.2-3.3 7.4z" fill="#e60"/><path d="M604.4 140l3.1-3.4 1.5-.9-3 4.2z" fill="#b70"/><path d="M581.5 138.1l3.1 3.5 1.9-5.6-3.1-2.4z" fill="#ef0"/><path d="M576.1 135.7l3.1.8 1.9-3.8-3 .2z" fill="#6b0"/><path d="M618.9 131.9L622 132.8L621.7 101.9Z" fill="url(#sc31)"/><path d="M578.8 136.2l3.1 2.2 1.9-4.7-3.1-1.1z" fill="#bf0"/><path d="M613.9 132.5l3.1.5 1.4-3.6-3.1.6z" fill="#5a0"/><path d="M619.2 134.6l3 3.4 1.6-5.7-3-2.3z" fill="#cf0"/><path d="M651.6 129.8l3.3.1 1-3.5-3.4 1z" fill="#490"/><path class="msc" d="M642.3 138.1l.8 0M643.1 138.1l3-4.2M631.4 153.2l1 1.3M632.4 154.5l3-6.7M606.1 139.6l2.7-3.7M581.8 138l1.7-4.1"/><path class="esc" d="M637.2 141.6l2.4-7.4M604.6 143.5l-2.5-21.2"/><path class="rsc" d="M581.8 138l2.8 3.2M576.5 135.5l2.6.6M579.1 136.1l2.7 1.9"/><path d="M637.2 141.6L637.7 143.9L639.6 134.2Z" fill="url(#sc58)"/><path d="M657.1 131.4l2.9 3.5 1.2-5.9-2.9-2.2z" fill="#af0"/><path d="M616.6 132.8l3 2 1.5-4.6-3-.9z" fill="#9f0"/><path d="M600 143.2L602 145L602.1 122.3Z" fill="url(#sc34)"/><path d="M602 145L604.6 143.5L602.1 122.3Z" fill="url(#sc35)"/><path d="M620.5 143.9l2.9 6.1 1.7-7.8-3-4.9z" fill="#ff0"/><path d="M654.4 129.8l3.1 1.8 1.1-4.7-3.1-.6z" fill="#7f0"/><path d="M627.2 159.2l3.3-6.7 1.1.4-3.3 8.2z" fill="#e60"/><path d="M637.7 143.9L641 143.7L639.6 134.2Z" fill="url(#sc52)"/><path d="M638.2 142.9l3.4-4.3.9-.8-3.4 5.3z" fill="#c80"/><path class="msc" d="M651.9 129.6l.9-2M616.9 132.7l1.3-3M623.4 149.7l1.4-7.3M622.2 137.7l2.6 4.7"/><path class="rsc" d="M659.9 134.5l1-5.3M627.4 158.9l3-6"/><path d="M622.8 141.9L624.4 139.9L622.6 123.9Z" fill="url(#sc35)"/><path d="M645 135l3.5-2.2.8-2.1-3.5 3.4z" fill="#860"/><path d="M607.1 137.1l3.3-1.8 1.3-2.1-3.2 2.9z" fill="#850"/><path d="M618.5 134.1L618.4 131.8L617.2 111Z" fill="url(#sc22)"/><path d="M615.2 131.8L615.2 134.1L617.2 111Z" fill="url(#sc21)"/><path d="M619.9 140.7L622.8 141.9L622.6 123.9Z" fill="url(#sc34)"/><path d="M600.3 144.2l3-3.9 1.6-.8-2.9 4.8z" fill="#c80"/><path d="M619.1 151.1l2.9 7.4 1.7-9-2.9-6z" fill="#fc0"/><path d="M617.9 139.6l3 4.6 1.6-6.7-3-3.4z" fill="#df0"/><path d="M615.2 134.1L618.5 134.1L617.2 111Z" fill="url(#sc44)"/><path class="msc" d="M646.1 133.9l3-2.9M607.4 136.9l1.4-1M608.8 135.9l2.7-2.4M622 158.1l1.4-8.4M619.6 134.4l2.6 3.3"/><path class="esc" d="M619.9 140.7l2.7-16.8M618.5 134.1l-1.3-23.1"/><path class="rsc" d="M600.6 144l2.6-3.3M619.5 151.1l2.5 7"/><path d="M656 136.7l2.8 4.6 1.4-7-2.9-3.3z" fill="#cf0"/><path d="M609.8 135.5l3.2 0 1.4-3.4-3.2 1.1z" fill="#580"/><path d="M647.9 133.1l3.4-.3.9-3.5-3.5 1.6z" fill="#480"/><path d="M634.2 147.9l3.4-4.8 1-.7-3.4 5.8z" fill="#d80"/><path d="M615.2 136.7l3.1 3.1 1.5-5.6-3-1.9z" fill="#bf0"/><path d="M612.5 135.4l3.1 1.5 1.6-4.4-3.1-.5z" fill="#7f0"/><path d="M653.4 133.9l3 3 1.2-5.8-3-1.8z" fill="#9f0"/><path d="M650.7 132.7l3.2 1.4 1.1-4.7-3.2-.2z" fill="#6e0"/><path d="M641.1 139.2l3.5-2.8.9-1.9-3.5 3.9z" fill="#860"/><path d="M602.9 140.9l3.3-2.4 1.4-1.8-3.1 3.4z" fill="#960"/><path d="M616.5 145.7l3 5.7 1.6-7.7-2.9-4.6z" fill="#ff0"/><path class="msc" d="M657.4 131.3l2.5 3.2M611.5 133.5l2.7-1.1M649.1 131l2.8-1.4M635.4 147.8l3-5.1M616.9 132.7l2.7 1.7M615.5 136.6l1.4-3.9M614.2 132.4l2.7.3M654.7 129.6l2.7 1.7M651 132.5l.9-2.9M651.9 129.6l2.8 0M641.4 138.9l.9-.8"/><path class="rsc" d="M658.7 141l1.2-6.5M603.2 140.7l2.7-2.1"/><path d="M654.8 143.1l2.7 5.7 1.5-8-2.7-4.6z" fill="#ef0"/><path d="M630.2 153.1l3.4-5.1 1-.7-3.3 6.2z" fill="#e80"/><path d="M611.9 135.2L612.8 137.5L614.3 113.1Z" fill="url(#sc21)"/><path d="M644.1 136.8l3.4-.8.9-3.4-3.5 2.1z" fill="#470"/><path d="M639.9 144.2L640.1 141.8L639.8 116.6Z" fill="url(#sc22)"/><path d="M653.6 150.5l2.6 6.6 1.6-8.9-2.7-5.6z" fill="#ff0"/><path d="M605.6 138.8l3.3-.4 1.4-3.3-3.2 1.6z" fill="#570"/><path d="M612.8 137.5L616 136.9L614.3 113.1Z" fill="url(#sc44)"/><path d="M613.8 141.7l3.1 4.2 1.6-6.6-3-3z" fill="#cf0"/><path d="M637.2 143.7l3.5-3.2.9-1.9-3.4 4.4z" fill="#970"/><path class="msc" d="M630.4 152.9l1 .3M655.2 143l2.3 5.4M605.9 138.6l1.5-1.7"/><path class="esc" d="M640.1 141.8l-.3-25.2M616 136.9l-1.7-23.8M654.1 134.2l-1-17.9"/><path class="rsc" d="M616.8 145.6l2.7 5.5M657.5 148.4l1.2-7.4M630.4 152.9l3-4.6M656.2 156.8l1.3-8.4M605.9 138.6l2.8-.5M614.1 141.6l2.7 4"/><path d="M652.3 139.2l2.9 4.1 1.4-6.9-2.9-3z" fill="#bf0"/><path d="M636.5 143.9L639.9 144.2L639.8 116.6Z" fill="url(#sc44)"/><path d="M652.2 158.7l2.6 7.6 1.7-9.7-2.6-6.6z" fill="#fb0"/><path d="M646.9 136l3.2.9 1.2-4.6-3.3.3z" fill="#5d0"/><path d="M646.2 133.9L647.8 136L651.3 95.8Z" fill="url(#sc62)"/><path d="M652.2 136.1L654.1 134.2L653.1 116.3Z" fill="url(#sc61)"/><path d="M608.4 138.3l3.1 1.1 1.6-4.4-3.1 0z" fill="#6d0"/><path d="M611.1 139.2l3.1 2.7 1.6-5.5-3.1-1.5z" fill="#9f0"/><path d="M649.7 136.8l3 2.5 1.3-5.8-3.1-1.3z" fill="#8f0"/><path d="M649.4 134.6L652.2 136.1L653.1 116.3Z" fill="url(#sc60)"/><path class="msc" d="M638.4 142.7l3-3.8M614.1 141.6l1.4-5M650 136.6l1-4.1"/><path class="esc" d="M650.8 135.1l.5-39.3"/><path class="rsc" d="M654.8 166l1.4-9.2M652.6 158.6l2.2 7.4M608.7 138.1l2.7 1M611.4 139.1l2.7 2.5"/><path d="M647.8 136L650.8 135.1L651.3 95.8Z" fill="url(#sc63)"/><path d="M651.1 145.5l2.8 5.2 1.5-7.9-2.8-4.1z" fill="#df0"/><path d="M633.2 148.5l3.4-3.6 1-1.8-3.4 4.8z" fill="#a70"/><path d="M640.1 140.9l3.5-1.3 1-3.3-3.6 2.6z" fill="#460"/><path d="M649 138.1L649.7 135.8L649.5 110.6Z" fill="url(#sc61)"/><path d="M645.7 137.4L649 138.1L649.5 110.6Z" fill="url(#sc70)"/><path d="M648.6 142l2.9 3.7 1.4-6.9-3-2.6z" fill="#af0"/><path d="M649.9 152.8l2.7 6.1 1.6-8.8-2.8-5.1z" fill="#ff0"/><path d="M643 139.7l3.3.4 1.1-4.6-3.3.8z" fill="#4b0"/><path d="M645.9 140l3.1 2.1 1.2-5.8-3.1-.9z" fill="#8f0"/><path d="M636.2 145.4l3.5-1.8.9-3.2-3.5 3.1z" fill="#750"/><path class="msc" d="M652.6 139l2.6 4M640.4 140.7l1-1.8M641.4 138.9l2.9-2.3M650 136.6l2.6 2.4M644.3 136.6l2.9-.8M648.9 141.8l1.1-5.2M647.2 135.8l2.8.8"/><path class="esc" d="M649.7 135.8l-.2-25.2"/><path class="rsc" d="M633.4 148.3l3-3.2M650.2 152.7l2.4 5.9"/><path d="M647.4 148.3l2.8 4.7 1.5-7.9-2.9-3.6z" fill="#cf0"/><path d="M639.1 143.7l3.3.1 1.1-4.6-3.3 1.2z" fill="#490"/><path d="M644.7 145.2l3 3.3 1.4-6.9-3-2.1z" fill="#af0"/><path d="M641.9 143.7l3.2 1.7 1.3-5.8-3.2-.5z" fill="#7f0"/><path class="msc" d="M639.3 143.5l1.1-2.8M647.7 148.1l1.2-6.3"/><path class="rsc" d="M636.4 145.1l2.9-1.6M647.7 148.1l2.5 4.6M639.3 143.5l2.9 0M645 145l2.7 3.1M642.2 143.5l2.8 1.5"/></svg></body></html>
